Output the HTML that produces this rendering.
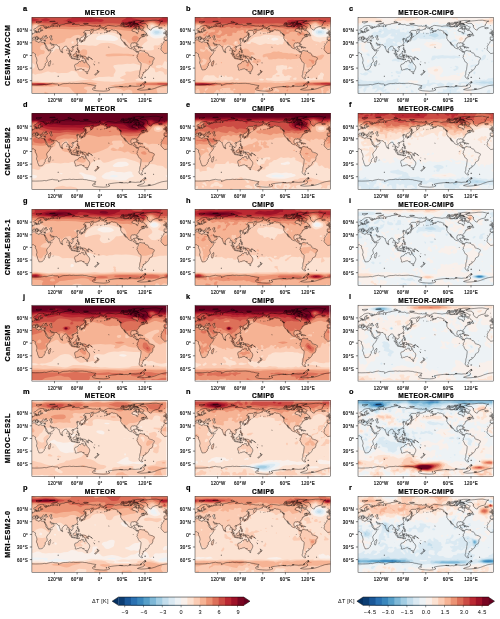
<!DOCTYPE html><html><head><meta charset="utf-8"><title>Figure</title><style>
html,body{margin:0;padding:0;background:#fff}
#fig{position:relative;width:500px;height:619px;overflow:hidden;background:#fff;font-family:"Liberation Sans",sans-serif;color:#000}
.t{position:absolute;white-space:nowrap;line-height:1;will-change:transform}
.ttl{-webkit-text-stroke:.2px #000;font-weight:bold;font-size:6.6px;letter-spacing:.45px;padding-left:.45px;transform:translateX(-50%)}
.let{-webkit-text-stroke:.2px #000;font-weight:bold;font-size:7.4px}
.tk{font-size:4.5px;letter-spacing:.28px;color:#111;-webkit-text-stroke:.16px #111}
.tkx{padding-left:.3px;transform:translateX(-50%)}
.tky{margin-right:-.3px;transform:translate(-100%,-50%)}
.rl{-webkit-text-stroke:.22px #000;font-weight:bold;font-size:7.2px;letter-spacing:.58px;will-change:auto;opacity:.999;transform:translate(-50%,-50%) rotate(-90deg)}
.cbt{font-size:5.6px;letter-spacing:.45px;padding-left:.45px;transform:translateX(-50%)}
.cbl{font-size:5.5px;letter-spacing:.25px}
</style></head><body><div id="fig"><svg width="500" height="619" viewBox="0 0 500 619" style="position:absolute;left:0;top:0;will-change:transform"><defs><path id="cst" d="M0 17.1l.1 0 .5-.4 .1-.2 .6-.2 .4-.5 .2-.3 .7-.1 .6-.1 0-.5-.1-.5 0-.4 .9-.3-.1 .5 .2 .1-.4 .5 .4 .4 .5 0 .6 0 .2 .1 .8-.2 .8-.1 .5 .1 .4-.3 0-.7 .2-.3 .4-.1 .3 .3 .4-.1 0-.4-.3-.2 0-.2 .9-.2 .7 .1 .7-.2-.5-.3-.9 .1-1.1 .2-.7-.3 .1-.6-.1-.4 1.2-.7 .3-.3-.4-.2-.7 0-.4 .4-.2 .4-1.1 .6-.2 .6 0 .2 .6 .3-.3 .4-.5 .4-.1 .5-.2 .3-.5 0-.2 .3-.4 0-.2-.4-.3-.5-.2-.6-.2-.2-.4 .2-.5 .4-.5 0-.5-.3-.2-.7 0-.6 .5-.4 .8-.3 .8-.4 .7-.7 .6-.6 .7-.5 .7-.4 .8-.2 1.2-.3 1-.1 .8 0 1.2 .3-.4 .3 1.1 0 1.2 .2 1.7 .6 .2 .4-.4 .3-.8 0-1.1-.2-.8-.2 .7 .8 0 .3 .8 .2 .4-.2-.3-.3 1.1 .2 .1-.4 .6-.3 .8 0-.1-.4-.2-.6 1 .2 0 .5 .7 0 .3-.3 1.7-.5 .5 .3 1.7-.3 .8-.4 1.5 .3 1.3 .4-.6-.6 0-1 .8-.5 1.3 .2 .1 .9-.1 .9 .4 .4 .2-.9 .2-1.2 .9 .1 1.3-.5 2.3-.2 .2-.5 3-.4 2.2-.4 1.3-.3 1.4 .3 1.9 .4-.4 .6-1.9 .5 1.1-.3 1.2 .1 2.6 .4 1.5-.3 1.1 .5 1 .6 1.3-.2 1.5 0 1.1-.5 2.3 .1 1.5 .4 1.9 .2 1.9 .5 1.8 .1 1.9-.2 .4 .5 1.5-.4 1.9 .4 1.1 .3 1.5 .5 1.2 .4-.8 .7-1.5-.1-.7-.7-.8 .5-.9 .2 .7 .9-1.7 .2-1.9 .9-2.2 0-.4 .8-.4 .8 0 .5-.7 .8-1.3 .8-.4-1.2 0-1.1 .5-.5 1.2-.9 1.3-1-1.3 .2-1.4 .1-.7 .9-1.7 0-1.5 0-1.1 0-1.2 .8-.5 .4-.6 1.1 .8-.1 .7 .4-.2 .9-.2 1.1-.7 .8-1.2 1.1-1.1 .4-.5 .2-.4 .7-.8 .5 .7 1.1-.1 .8-1 .3 0-1.1-.5-.4 0-.7-.8 .1-.5 .2 0-.8-1.4 .8 .4 .6 1.3 .1-.9 .6-.2 .4 .6 1.3 .4 .8-.4 .8-.6 1.1-.9 .8-1.2 .5-1.3 .5-.2 .4-.5-.6-.7 .5-.3 .6 1 1.3 .3 1.5-.9 .8-.7 .8 0-.8-.8-.2-.8-.7-.3-.3-.2 1 .4 1.7 .5 .3 .6 1 .2 1.1-.4-.1-.8-.6-.2-1.3-.7-.8 0-1.1-.2-1.5-.2-1-.7 .3-.5-.1-.1-1.3-.7-1-.4-.4-.8 .3-.7 .2-.8 .6-1.1 1.4-.7 .6 0 .9-.1 1.1-.3 .5-.6 .5-.5-.9-.5-1.2-.5-1.3-.3-1.3 0-.8-.8 .1-.6-.6-.6-.8-.4-.5-1.6 0-1.7-.2-.4-.5-1 .1-.9-.5-.6-.9-.7 0 .2 .6 .6 .8 .4 .2 .1 .5 .2 .4 .7-.1 .9-.8 .1 .7 .7 .4 .5 .5-.7 1.2-.1 .4-1 .5-1.1 .6-1.3 .8-1.4 .6-.5 0-.3-1-.7-1.2-.7-1.5-.8-1.5-.7-1.3-.1-.6-.2 .7-.6-.9 .3 1.1 .8 1.4 .5 1.3 .2 1.3 .8 1.2 1.3 1.1 .1 .4 .6 .4 2.3-.6 0 .6-1.1 2.3-.8 1.3-1.5 1.5-.9 1.5-.2 1.2 .6 1.3 0 1.7-1.6 1.5-.5 .6 .2 1.7-1 .8-.2 1.3-.9 1-1.1 1-1.9 .2-1.3 0-.2-1-1-2.1-.3-1.9-1-1.9 .6-2.5-.5-2.5-1.2-2.1 .2-1.9-1-.4-.9-.8-1.3 .1-.4 .1M0 22.9l1.1-.5 2.7-.1 .3 .9-.3 .5 1.8 .6 1.6 .8 .3-.9 1.2 0 .7 .4 1.5 .3 1.3-.1 .7 0 .5-1 .2-1 0-.4-1.2 .3-.9-.1-1-.1-.3-.4-.2-.4-.1-.6-.1-.4-.8 .4-.1-.1-.3-.1 .1 .5 .3 .5-.3 .2-.1 .5-.4-.2-.3-.7-.6-.7 0-.7-.7-.4-.8-.4-.7-.5 .1-.3-.6 .1 .1 .5 .6 .7 .7 .3 .9 .8-.5-.2 .1 .5-.4 .5-.2 0 .1-.8-.5-.3-.8-.3-.7-.6-.7-.7-.9 .6-1.1-.1-.1 .5-1.1 .9-.1 .5M133.5 22.8l-.3-.4-.4-.1-.6 0 .1-.6-.3-.1 .3-.9-.2-.9 .5-.3 1.3 .1 1 0 .2-.5 .1-.5-.4-.6-.9-.2-.1-.3 .7-.1 .5 0-.1-.4 .2 .1 .5 0M135.6 35.5l-1.1 .3-1.7 .3-1.3-1.1-1-1.1-1.1-1.2-.4-.9 .5-1.9-.3-.8 1.5-2.8 1.1-1 .2-1.1 1.3-1.3 1.5 .3 .8-.3M135.6 21.6l-.8 .8-1.2 .3M10.5 20.5l.4 .1 1 0 .7-.4 .6 0 .5 .4 1.2 .1 .7-.2 0-.6-.9-.5-.6-.3 .2-.8 .4-.2-1.5 .3 .5 .4-.5 .3-.6 .1-.3-.5-.6-.4-.5 .5-.4 .6-.4 .5 .1 .6M18.5 18.3l.9-.1 .6 .1 0 .7-.8 .2-.2 .6 .8 .4 .2 .9 .3 .6 0 .6-.9 .2-.6-.3-.3-.5 .1-.8-.7-.9-.2-.8 .2-.4 .6-.5M72.3 10.3l.6-1.1 1.3-.3 1.1-.7 1.3-.3 1.7 .2 1.6 .2 2.6 .3 1.5 .3 1.1-.3 1.9-.2 1.5 0 .4 .3 1.5-.1 1.9 .5 0 .3 2.2 0 .4-.3 1.1 0 1.6 .3 1.1-.1 .7-.1 .2-.6 .4-1 .9 .6 .8 .7 1.1 .4 .8-.7 1.1 0 .3 .5-.5 .8-1.3 0-.4 .6-.3 .5-1 .2-.7 .4-.6 .6-.3 .9 .7 .1 .2 .7 1.7 .2 1.1 .5 1 .1 0 .9 .5 .4 .2 .3 .5-.1 0-1 .8-1.1 .2-.4-.8-.6 .4-.8-.2-.7 1.5 .1 1.5 .5 .2 .7 .6 .4 .9-.5 .4-.3 .9 1 .4 .8 1.2 .5 .7 .8 .1 .4-.5 .2-.7 .6-1.9 0-1.1 .3-.8 .5-.6 .4 1-.6 1.3-.1 0 .4-.2 .4 .4 .5 .9 .1 .2-.5 .4 .4-.4 .2-1.1 .4-.8 .4 0-.4 .6-.4-.9 .2-.8 .4-.6 .3 0 .5 .2 .2-.7 .2-.8 .2 0 .5-.5 .1 .1 .5-.3 .4 0 .7-.6 .5-.7 .5-.6 .7-.1 .6 .4 1.3 0 .6-.4 .1-.6-1 0-.7-.4-.3-.6 .1-.8-.2-.6 0 0 .4-.7 0-1-.2-.5 .3-.8 .7 0 .8-.2 1.3 .3 .8 .3 .6 .6 .4 .9-.2 .5-.4 .1-.6 1-.3 .3 .1-.2 .8-.1 .4-.2 1.1 .9 .1 .9 .2 0 1.2 0 .6 .4 .8 .6 .1 .6-.3 .7 .4 .2 .3 .6-1.2 .3-.1 1-.4 .2-.2 0 .4 .5-.2 .6 .5 .9 .1 .8 .1 .7-.2 .4 .5 .4 .5 .9 .9 1.4 .2 .9 .6 .6 1.2 0 .7 .5 .4 1.3 .4 .4 .3 1 .1 1.1 .4 .6 .5 .6 .2 .1 1-.7 1.3-.8 .8 0 1.7-.4 1.3-.3 .8-.8 .4-.8 .4-1.1 .7-.2 1.1-.7 1.2-.8 1-.5 .6-1 0-.7-.3 .5 1-.5 .9-1.4 .2-.1 .7-1 .1 .4 .7-.5 .4-.1 .6-.7 .5 .5 .6 0 .2-.7 .8-.4 .7 .2 .4 0 .4 1.1 .6-.5 .2-1 0-.9-.6-.8-.6-.5-1.1 0-1.2 .5-.9 .1-1.2 0-1.1 .2-1 .6-1.7 .1-1.3 .3-1.9 .2-1.9-.1-1.1-.4-.5-1.4-.7-.4-.7-.4-.8-.7-1.7-.7-.8-.1-.7 .4-.5 .1-.3-.4-.1 .1-.5 .3-.7 .3-.4 .2-.4 .4-.6 .1-1.1-.2-.3-.1-.4-.5-.3-.4 .4 .2 .3-.6-.2-.6-.2-.2-.2-.5-.6-.3-.3-.7-.9-.3-.1-1.2-.4-.9-.9-.9 .2-1.2-.4-.9-.5-1.3-.9 0-.6-.4-.9-1.1-1-1.1-1.3-.3-.9-.6-.3 0 .8 .7 .9 .7 1.2 .6 .8-.3-.2-.8-.8-.7-.9-.3-.8-.6-.8-.2-.5-.5-.6-.8-.2-.5-.9-.2-.5-.5-.7-.2-.4 0-1.1 .1-1.3-.3-1 .7 0 .2 .4-.2-.7-.8-.5-.9-.3-.2-.8-.8-.6-.5-.7-1-.9-.9 0-.6-.4-.7-.3-1.5 0-1-.5-.9 0-1 .7-.7 0-.3 .5-.8 .5-.8 .4-.9 .4-1.2 .2 .8-.4 .7-.3 1-.7 0-.3-.6 .1-1.1-.1 0-.5-1-.3-.5-.5 .3-.5 1.6-.2 0-.4-1.6 0-1.1-.5M108.1 5l1.9-1 2.2-.4 4.6-.4 3.7-.4 3.8-.1 3 .5 1.5 .4 2.1 0-1.7 .6-.8 .9 0 .8-.9 .6-.2 1.1 0 .6-1.5 .7-2.3 .4-2 .9-1 .3-.7 1.1-.6 1.1-.9-.3-1.2-.6-.7-.8-1-1.3-.1-1.1 .7-.4-1.1-.4-.4-.8-.7-.9-1.9-.3-1.9 .1-1.1-.5-.8-.4M111.1 12l-1.1-.4-1.5-.6-2.3-.2 1.5-.5 .2-1-1.7-.7-1.5-.2-.9 0-1.7-.4-.4-1 1.9-.2 1.7 .1 1.3 .4 1.1 .4 1.5 .4 1 .8 1.3 .6 .9 .3-.9 .7-.4 .9 0 .6M91.5 8.6l.8-.8-1.1-.5 2.2-.1 1.9-.1 .7 .9 1.2 .6-1.5 .3-1.9 .1-1.5-.2-.8-.2M88.5 7.6l.6-1 2.2 .1-.5 .9-1.5 .3-.8-.3M101.7 5.7l4.5 .1 .8-1 2.2-.6 3-.9-3-.4-3.7 .1-3.8 .6 1.1 .8-1.1 1.3M100.9 6.5l4.6 0 0-.5-4.6-.3 0 .8M97.2 7.8l2.2-.1 1.2-.3 .9-.6-1.7-.1-1.9 .1-.7 .5 0 .5M91.5 6.3l2.7 .1 1.5-.1 .3-.6-1.8-.4-2.7 .5 0 .5M99.4 5.1l3.1-.3 .3-.8-2.6-.3-.8 .7 0 .7M102.8 11l1.5 .6 1-.6-1.3-.8-1.2 .8M113.3 17.8l1.2 .4 1.1 .1 .1-.5-.3-.6-.8-.3 0-.7-.6 .5-.4 .7-.3 .4M103.6 28.7l.9-.4 1 0 1.1 .6 1.1 .5-1.3 .2-.2-.4-.9-.5-.6-.2-.7 .2-.4 0M107.6 30.2l.6-.6 1 0 .6 .5-.8 .2-.4 .2-1-.3M106.1 30.2l.8 0 0 .2-.8 0 0-.2M126.6 10.3l.7-.3 1.5 0 1.1 0 .6 .5-.7 .4-1.4 .3-1.3-.2 .2-.4-.7-.3M0 16.5l.5-.1-.2-.2 .3-.5-.5-.1-.1-.3M133.5 16.8l.8-.1 .7-.1 .6-.1M135.6 15.4l-.1-.2-.5-.4-.2-.5-.3 0 .3-.6-.7 0 .3-.5-.7 0-.4 .6 .2 .5 .2 .5 .6 0 .2 .6-.6 .1 .1 .4-.4 .2 .9 .2-.6 .1-.4 .4M131.8 16.2l1.4-.3 .1-.5 .2-.5-.7-.3-.4 .4-.6 .1 .2 .4-.2 .4 0 .3M4.1 4.4l1.9-.2 1.9-.1 1.9 0-1.5 .8-1.5 .6-1.2 .1-.5-.5-1-.7M19.4 7.7l.6-.7 1.1-.7 1.9-.5 2.8-.3-1.3 .6-1.9 .6-1.1 .7 .2 .7-1.4 0-.9-.4M35.8 4.6l1.9 .4 1.9-.1-.8-.5-1.1-.6-1.5 .2-.4 .6M51.6 6.1l1.5 .6 1.9-.4 1.5-.1-1.9-.3-2.2 0-.8 .2M67.2 7.9l1 .2 .5-.3-.9 0-.6 .1M17.7 4.1l3 .1 2.7-.2-.8-.4-3.8 .2-1.1 .3M49 23.8l0 1 .5-.1 .2-.7 .4 0 .6-.3 .2 .1 .3 0 .4-.4 .7-.1 .4-.2 .3-.2 .1-1.1 .4-.5-.2-.8-.5 .1-.1 .6-.2 .6-.8 .5-.1-.2-.3 .7-.3 .1-.9 .1-.8 .4-.3 .4M52.7 20.5l.6-.5 .7 .2 .8-.5-.2-.4-1.1-.5-.2 .8-.5 .2-.1 .7M53.5 18.6l.6-.3-.2-1.1 .5 .1-.4-1.3-.1-.9-.4 .3 0 1.5 0 1.7M45.3 28.3l.3-.9 .4 0-.4 1.3-.3-.4M40.9 29.9l.7-.4 .2 .2-.6 .6-.3-.4M45.2 31.2l.2-1.1 .6 0 0 .9-.2 1 .3 .1M46.1 32.1l.1 0M46.2 32.1l.5 .4-.1 .1-.4-.5M46.2 32.1l-.1 0M46.1 32.1l-.6-.1-.3-.8M46 35l.5-.6 .8-.6 .3 1-.3 .6-.6-.1-.7-.3M46 33.5l.3-.5 .8-.3 .2 .6-.4 .4-.6 .4-.3-.6M44.2 34.4l.8-1 .1 .2-.8 .9-.1-.1M41.1 37.3l.5-.1 .4-.4 .6-.2 .9-.8 .6-.8 .5 .6-.2 .5-.1 .6 .4 .8-.4 .2 0 .7-.5 .6-.1 .6-.6 0-.3-.3-.7 0-.7-.7-.3-.8 0-.5M35.9 35.6l.8 .2 1.1 1.1 1.2 1.1 .4 .8 .5 .5 0 1.1-.5 0-1-.8-.5-1-.7-1.4-.7-.7-.6-.9M39.6 40.8l.5-.3 .8 .2 .9 0 .7 .2 .6 .3 0 .4-1.3-.2-.9-.2-.8-.1-.5-.3M43.5 41.4l.6 0 .7 0 0 .3-.7 0-.6-.1 0-.2M45.1 41.5l1.2-.1 0 .3-1.1 0-.1-.2M46.5 42.3l.6-.6 .8-.2-.3 .4-.7 .4-.4 0M45 40.3l0-.9-.3-.3 .4-1.4 .5-.3 .9 .1 .6-.2-.2 .5-1.1-.1-.6 .2 .2 .5 .4 0 .6-.1-.1 .3-.5 .2 .3 .6 .2 .9-.3-.2-.4-.9-.2 0-.1 1.1-.3 0M48 37.2l.2 .5 0 .1M48.2 37.8l.2 .5-.2-.5M48.2 37.8l.3-.5-.4-.3-.1 .2M48.2 39.3l1.1-.1-.1 .4-1-.2 0-.1M49.3 38.3l.6-.2 .6 .2 .3 1 1-.7 1.3 .4 1.3 .6 .6 .7 .7 .2-.3 .3 .5 .7 .9 .8-.7 0-.9-.6-1-.5-.3 .6-.8 0-.7-.4-.4 0 .2-.5-.2-.6-1-.5-.9-.2 .3-.7-.7 0-.4-.6M55.9 40.4l.8-.1 .6-.6-.2 .6-.6 .3-.6-.2M42.8 47.4l.2-.3 1-.5 .8-.2 1-.4 .3-.7 .4-.1 .4-.7 .6-.6 .7 .3 .6 0 .2-.7 .3-.3 .6-.4 .9 .3 .7 0-.3 .5-.2 .7 .8 .5 .7 .5 .5 0 .4-1 0-1 .3-.8 .4 .8 0 .7 .6 .3 .3 1.5 1 .7 .8 .9 .8 1.3 .2 1.1-.2 1.2-.5 1.1-.5 1-.1 .7-.9 .2-.5 .4-.6-.3-.4 .2-1-.2-.5-.6-.5-.6-.1-.8-.1-.4-.3 .6-.4 .4-.2-.1-.5-.8-1.2-.6-.9 .2-.9 .2-.8 .3-.2 .3-1.3 0-.8 .5-.7-.1-.4-.2 .3-1-.3-.8-.3-1.1-.3-.6 0-.6 .1-.9M54.5 55.2l.7 .1 .7-.1-.1 .5-.2 .5-.6 .1-.3-.5-.2-.6M65.1 52.5l.4 .4 .6 .4 .2 .5 .9 0-.3 .7-.2 .1-.3 .6-.4 .3-.2-.2 .2-.4-.5-.4 .3-.3 0-.6-.6-.9-.1-.2M65.1 55l.5 .4-.4 .7-.1 .3-.6 .3-.3 .6-.5 .3-.6-.2-.4-.1 .6-.7 .9-.6 .6-.8 .3-.2M18.6 43l.3 1.5-.3 .8-.5 1.9-.4 1.3-.8 .2-.4-.8-.1-.9 .4-.8-.2-1.1 .8-.5 .7-1 .5-.6M30.1 34.4l.1-.6 .6 1-.2 .5-.4 .1-.1-1M4.7 21.9l1.2-.1-.2 .7-1-.4 0-.2M3.1 21.5l0-.8 .6 0 0 .7-.6 .1M3.2 20.5l.3-.7 .1 .7-.4 0M8.9 23.1l1 0 0 .1-1-.1M12.2 23.2l.8-.3-.2 .3-.5 .2-.1-.2M25.9 58.6l.7 0-.1 .3-.5 0-.1-.3M112.6 59.7l1.2-.1-.2 .4-.8 0-.2-.3M76.8 29.4l.4 .2-.2 .3-.2-.3 0-.2M61.8 46.5l1.1 .9-.2 0-.9-.8 0-.1M66.8 45.3l.5 .1-.1 .2-.4-.1 0-.2M62.8 44.3l.2 .1-.1 .2-.1-.3M58.9 40.8l1.2 .6 .5 .6 0 .1-1.1-.8-.6-.5M98.1 8.9l1.3 .1 .2-.4-.9-.2-.6 .5M96.4 6.2l2.3 .1 .2-.6-2.1 0-.4 .5M89.3 5.9l2-.3 .6-.3-1.9 .1-.7 .5M96 5.1l3.4 .1 0-.6-3 0-.4 .5M105.3 7.3l1.7 0-.4-.4-1.3 .1 0 .3M106.4 9.6l.8 0 0-.4-.8 0 0 .4M104.3 11.5l.6 .2 .6-.1-.6-.2-.6 .1M111.3 17l1 .2-.6 0-.4-.2M87.3 16.5l1.2 .3 .6 .7-.8-.1-1-.9M85.5 15.2l.5 0 .3 .7-.6-.3-.2-.4M77.4 13.7l.8-.1-.2 .3-.6-.2M72.7 15.2l.4 0-.6 .3 .2-.3M69.9 15.9l.3 0-.1 .1-.2-.1M68.7 16.1l.4 0-.2 0-.2 0M65 15.6l.4 0-.2 .1-.2-.1M71 11.2l.9 .1-.3-.2-.6 .1M72.7 12.6l.5 .1-.1 0-.4-.1M110.3 30.2l.6 0-.1 .2-.5 0 0-.2M106 26.7l.4 .1-.1 .3-.3-.4M112.3 33.4l.3 0 0 .3-.3 0 0-.3M101.1 38.1l.3 0-.1 .3-.2-.3M20.1 32.6l.4 0-.2 .2-.2-.2M20.8 46.8l.2 0-.1 .1-.1-.1M21.6 46.4l.2 .1-.1 .1-.1-.2M121.3 60.7l.7 .1-.1 .3-.6-.4M129.3 26l.2-.1-.1 .2-.1-.1M126.6 31.1l.2 .1-.1 .2-.1-.3M.9 21.3l.4-.2-.1 .3-.3-.1M34.9 32.3l.1 .1 0 .7-.2-.2 .1-.6M58.2 40.3l.5 .4-.2 .1-.3-.5M56.8 39l.6 .6 .2 .3-.3-.4-.5-.5M49.1 25.1l.2 0-.1 .1-.1-.1M55 19.2l.6-.4-.2 .2-.4 .2M56.5 18.6l.4-.4-.2 .2-.2 .2M58.4 16.9l.4-.3-.2 .2-.2 .1M49.8 23.7l.5-.2 .4 .1-.2 .3-.4 .1-.3-.3M47.5 23.9l.3-.1-.1 .2-.2-.1M39.7 38.7l.4 .3-.2 .2-.2-.5M44.8 42l.7 .2-.3 .1-.4-.3M47.5 39.3l.4 0-.1 .3-.3-.3M50.5 40.4l.3 .1-.1 .4-.2-.5M18.3 8.7l.5 .1-.2 .1-.3-.2M6.2 13.8l.2 .1-.2 .3 0-.4M6.9 13.5l.3 .1-.3 .3 0-.4M4.2 14.4l.5-.1-.1 .4-.4-.1 0-.2M132.9 11.7l.3 0-.2 .3-.1-.3M132.3 8l.3 0-.2 .1-.1-.1M108.1 67.9l1.5-.7 .2 .9-.9 .5-.8-.7M116 71.3l2.3-.2 .3 .6-1.8 .2-.8-.6M97.2 68.3l1.9-.1-.2 .3-1.7 .1 0-.3M74.2 71.2l.9 .1-.1 .4-1-.1 .2-.4M62.5 70.5l1.2 0-.4 .3-.8-.1 0-.2M87.8 68.9l.9 0-.2 .3-.7-.1 0-.2M89.6 69l1 0-.2 .3-.8 0 0-.3M112.6 64.3l1.2-.2-.2 .2-1 .1 0-.1M113.6 64.9l.5 0-.2 .3-.3-.1 0-.2M0 67.5l3.8 .1 3.7-.1 2.7-.1 2.2-.4 1.9 .3 .8-.3 1.8-.5 1.9-.4 1.9-.3 1.1 .4 1.6 .2 2.2 .1 .8 .4 .7 .6-.7 .6 1.1-.5 1.1-.4 1.5-.7 1.9-.4 1.9 0 1.9-.1 1.9-.3 1.9 .3 1.8-.2 1.9 .2 1.9 0 1.9-.1 1.9-.1 1.8 0 1.9 .3 1.9 .1 1.9 .6 1.9 .2 1.9 .5 1.8 .3 1.9 .3-.3 .8-1.6 .7-.3 1-1.5 .9 1.1 1 2.6 .7 3.8 .3 3.8 .2 3.7-.3 2.7-1.1-1.2-1-.7-.5 1.5-.5 2.3-.4 3-.4 3-.3 2.6-.1 3.8 .3 1.9-.2 1.8 .3 1.2-.6 1.5-.3 2.2 .1 2.7 .2 2.6-.3 1.5 .1 1.2-.6 1.1-1.1 .4-.7 1.1-.9 1.1-.5 1.3-.3 .2 .5-1.3 .6-.6 .7-.5 .9 .7 .6 .2 .8-.4 .9-1.5 .8-3.4 .9-1.8 .8 3.7 .6 3.8-.2 3.8-.4 3-.4 2.6-.7 1.9-.7 1.1-.5 1.9-.6 1.9-.7 1.9-.4 1.9-.3 2.6-.3" fill="none" stroke="#000" stroke-opacity=".88" stroke-width=".45" stroke-linejoin="round"/><clipPath id="cp"><rect width="135.6" height="75.9"/></clipPath></defs><g transform="translate(31.9,17.5)"><g clip-path="url(#cp)"><rect width="135.6" height="75.9" fill="#fbccb4"/><path fill="#f6b394" d="M-.4 -.4l136.4 0 0 9-2.3 .9-4.5 0-3.8-.8-3-2-1.5-.5-1.5-.1-1.5 .5-1 .9-.8 1.6-.5 .6-4 2.6 .5 1.5 .9 1.6 .2 .8-1.7 .8 0 .8 .3 .8-.7 .6-.7 .2-.8 .4-1.5 1.4-1.2 2.1-1.1 1.1-.7 1.2-.8 .2-1.5-.3-2.2-.1-1.2 .3-1.1 .5-.7-.2-1.5-1.2-.8-.7-1.2-1.6-1-.8-2.3-.6-.8-.6-1-2.7-2-2.4-1.9-1.6-1.9-.7-3-.4-.7 .1-3 1-.8-.2-1.5-.7-1.5-.2-3.8 .3-3.7 0-3.1 .5-1.7 1.9-.5 .3-.8 0-.2-.3-.5-1.8-2.3-.3-2.2 .1-1 .4-.7 .8 .6 1.6-.4 .8-.8 .8-1.5 .8-.8-.1-1.5-.8-1.5-.4-1.5 .1-1.7 .4-1.8 .8-2.5 1.8-.8 .3-2.2 0-1.2 .3-.9 .7-.3 1.6-.4 .8-1.7 1-5.3 1.4-4.5-.2-2.3-.6-.7 .2-.8 .9-2.3 .3-.7-.2-1.5-.9-1.5 1.3-1.5 .3-.8 .4-.9 .9-.3 .7 .1 1.6 .4 .8 .7 .5 2.3 .2 .7 .5 .3 .4 .2 .8-.2 .8-.3 .8-.7 .6-2.3 .2-1.5 .5-.4 .3-1.1 1.4-.8 0-.7-.6-.7-1.6-.8-.8-.8-.5-1.5-.3-1.5 .2 0-11.7 2.3-.7 1.5 0 1.1 1.1 1.1 .6 1.6 .2 1.5-.2 1.5 .6 1.5 0 .7 0 .8-.6 .4-.6 .1-.8-.2-.8-.3-.3-2.3-.3-1.5-.9-.7 .6-.8-.2-.7-.9-1.6-1-1.5 0-2.6-.9 1.2-1.6 1.4-1.4 .8-.3 2.3-.4 .7-.5 .8-1.4-.8-.9-.7-.2-.4 .4-.4 1.2-.4 .3-.3 .2-.8-.5-.8-1.2 .1-.8 1.4-1.4 .7-1-.1-.8-1.3-.8-2.3 0-3 1.5zM11.7 18.5l-1.1 .9-.1 .8 .4 .6 3.8 0 .9-.6-.9-1.1-.8-.6-.7 .2zM18.5 18.2l-.5 .4-.2 .8 .2 .8 .6 1.5 .6 .6 .8 0 .3-.6-.1-.7-.4-.8 .2-1.6-.8-.5zM104.3 13l-.7 .3-.3 .5 1 .5 .9 1.1 .6-.3 .2-1.3-.2-.3-.6-.5zM133.2 24.1l.5-.4 1.5 0 .8-.3 0 11.9-2.3 .3-1.5-.3-.7-.6-1.6-1.9-.2-.8 .2-1.6 .8-1.9 1-2zM45.3 31.2l.3-.7 .5 .7-.1 .8 1.1 .5 .7 .7 .8 .3 2-1.5 1-.2 2 .2 1.3 .8 .3 .8 .1 2.4-.2 .8-1.6 1.5 1.1 1.4 .4 1-1.1 .8-.8 .1-1.5-1.4-2-1.1-1.5-1.5-.3-.9-1.5-.9-.5-.6-.3-1.6 .4-.8zM39.2 32l.4-.3 .7 .1 .3 1-.3 .4-.7-.1-.3-.3zM43.7 35.2l.4-.6 .7 .8 .4 1.4 .4 .3 1.5 .1 .4 .4-.4 .1-.9 1.4-.6 .4-1.5-.3-.8 .2-.7-.1-1.3-1-.4-.7zM107.3 35.2l3.1-.4 2.2 .2 1.5 .8 1.5 .4 .8 .5 .7 1.2 .8 .8 3 1 .8 .5 .4 .5 0 .8-1.2 1.8-.8 3-.7 .7-1.5 .6-.8 0-3-1.7-3-.5-1.1-.7-1.9-.8-.8-.5-.7-.7-1.3-2-.9-2.4 0-.7 1.4-.9zM38 35.6l.8 .4 .2 .8-.1 .8 .6 1.5-.7 .2-.9-1-.6-1.5zM81.5 36l6.3 0 3.7 .3 4.6 0 8.1 1.3-2.9 1.1-3 .1-4.5-.5-12.8 .4-3.8 .4-1.5-.2-1.5-.5-.8-.8 .9-.8 1.4-.4zM13.2 43.1l.7-.3 .4 1.1-.4 .4-.7 .2-.5-.6zM50.1 43l.7 .4 .6 1.3 1 .6 .7-.2 .8-1.3 .7 .9 .7 1.6 1.9 2.3 .3 .8-.6 1.4-.8 0-1-.6-1.2-.4-6.1-.3-3.7-.8-.2-.9 .2-.2 .6-.6 .9-.3 1.8-2 1.2-.5 .7-.8zM-.4 64.7l24.9 .8 11.3-.1 9.8 .3 7.5-.9 5.3-.2 4.8 .6 2.2 .8-2.8 1.6-.2 .8-1 .3-2.3 .4-3.7-.2-1.6 .3-1.6 .8-.2 .8 .6 .8 1.8 .7 .8 .8 0 .8-.8 1.6 0 .8-11.5 0 0-.8-2.6-2.4-1.8-2.3-1-.8-1-.4-4.5-.1-7.5-.9-5.3 .8-3-.3-3.8 .2-12.8-.2zM100.6 64.9l9.8-.3 6.7 .2 12.1-.2 6.8 .1 0 4.4-1.9 .1-2.6 .7-3.8 .3-2.3 .6-.8 .8 .5 2.3 .6 1.6 0 .8-25.3 0 .1-1.6-.2-.8-.7-.8-1.3-.7-1.5-.3-1.5 .2-1.5 .5-1.5 .8-.8 0-1.2-1.3-1.5-.7-4-.9-1.5-.7-.9-.8-.7-.2-3.7-.6 .7-.5 3-.3 1.5-.5 3.1 0 3-.3 4.5-1.2zM76.9 66.8l1.7 0-.6 .2zM12.3 74.7l.1-.3 .8-.2 1.5 .9 1.8 .4 0 .8-3.7 0 0-.8z"/><path fill="#ec9374" d="M-.4 -.4l136.4 0 0 7.6-2.3 .9-1.5 .3-3.8-.1-2.2-.5-3-1.8-1.5-.6-1.5-.2-1.6 .1-1.5 .5-.7 .5-2.8 2.8-2.5 2.1-.7 .2-1.5 .2-1.6 .5-1.5-.5-4.5 .4-.7 .3-1.5 1.1-8.3-.6-2.7-.5-2.6-.2-2.3-.5-7.5 0-3.8-.8-1.5 .3-2.2 0-1 .4-2.8 .3-2.3 0-2.2-.2-7.5 .3-3.8-.1-6 .3-18.1-.8-5.3 .4-3.8-.2-1.5-.2-1.5 .2-2.2-.6-1-1-.7-1.6-.6-.7-1.9-.9-1.9-.3-1.5 .1-3 1zM101.8 18.6l1-.4 1.5 .1 2.1 1.1 .4 .8-.2 .8-.9 1.5-1.4 1.2-.7 .4-1.5-.1-.8-.3-1.1-1.2-.4-.8 0-.7 .3-.8 .6-.8zM117.8 43.1l.9 .8-.1 .9-.7 .6-.8-.4-.2-.3 0-.8 .2-.5zM-.4 65.2l11.3 .2 6.8 .3 4.2 .3 3 .8-4.9 1-2.3 .2-6.8 .3-11.3-.2zM111.2 65.2l5.9 .1 12.1-.3 6.8 .2 0 3-19.6-.4-5.3 .3-5.3-.7-2-.6 .7-.8z"/><path fill="#dd7059" d="M-.4 -.4l136.4 0 0 6.6-3.8 1-3 0-2.3-.3-4.5-2.1-1.5-.4-2.3 0-1.5 .4-1.5 .6-1.7 1.3-3.4 3.2-.9 .3-3.8 .3-1.5 .5-2.2 .1-2.3 .4-3.8-.3-3.1-.5-2.9-.8-3.7-1.6-2.3-.2-6 .2-3.8-.1-3.8 .4-4.5 .8-3.8-.2-6-.8-3.7 .5-3.8 .1-5.3 .6-5.3 0-4.5-.7-3.7 .1-2.3-.3-6.8 .1-4.5-.6-3.8-.2-4.5-1.8-3-.6-2.3 .1-3 .7zM-.4 65.5l12.1 .1 5.9 .4 2.9 .8-2.8 .6-4.5 .4-8.3 .1-5.3-.3zM110.5 66l7.4-.1 11.3-.5 6.8 .1 0 2.2-7.6-.2-12-.6-4.5 0-1.3-.1z"/><path fill="#cc4c44" d="M-.4 -.4l136.4 0 0 5.6-3.8 .8-3.8-.1-2.2-.6-4.5-2.1-2.3-.3-1.5 .1-2.3 .9-2.1 1.2-4 3.2-1.4 .8-2.3 .3-2.2 .7-3.8 .3-4.5-.8-7.5-3.3-6.8-.5-5.3 0-5.3 .5-7.5 .3-5.3-.5-4.5 .1-3.8-.3-8.2 1-3.8 0-5.3-.5-9.8 0-2.7-.5-7.1-.2-7.5-.9-2.3 .1-3 .5zM-.4 65.8l12.1 0 2.5 .2 3.5 .8-5.3 .7-6.8 0-6-.3zM125.3 66l3.9-.2 6.8 0 0 1.5-10.2-.5z"/><path fill="#ba2832" d="M-.4 -.4l.9 0 0 .8 .6 .3 5.6 1.3 .5 .6 .5 .2-3.6 .4-4.5 .9zM39.9 -.4l20.6 0 0 .8 .9 .3 2.3 .2 2.2 .7 4.5 .2 .8 .4 .5 .6-.1 .8-1.9 .7-.8 .1-1.9-.1-1.8-.3-8.3 .5-9.1-.6-3 .6-3.7 .2-4.3-.4-2.5-.5-3.6-.2 3.6-.5 1.5-1.4 .7-.5 2.3-.3 1.1-.5zM94.5 -.4l5.4 0 0 .8 2.2 .7 3.7 .6 2.3 .8 2.3 .9 .6 .9-2.9 2-1.5 1.5-2.3 .9-3.7 .5-4.4-.9-1.8-.8-2.9-2.3-1.7-.9 0-.7 .7-.8 3.3-1.8 .7-.6zM130.3 -.4l5.7 0 0 4.2-1.4 .5-2.4 .3-3 0-1.6-.3-.9-.7-.2-.8 .4-.7 .8-.5 2.6-1.2zM13.2 .7l1.5 0 3.2 1.3 0 .8-1.9 .8-2.8 .3-2.4-.3-1.4-.6-1.4-.2 .7-.2 .7-.6zM6.2 66l4.7 .1 4.2 .7-2.7 .3-3.7 .2-9.1-.5 2.3-.4z"/><path fill="#9f1228" d="M96.9 4.3l1.4-.3 1.5-.1 3.2 .4 .6 1.1 .1 .5-.1 .5-.1 .3-.7 .4-.7 .2-2.3 0-1.5-.6-.9-.8zM4.7 66.8l4-.3 3.7 .3-3.7 .2z"/><path fill="#fce2d2" d="M119.3 7.5l.9-.2 .7 .2 2.4 1.6 5.1 1.5 3.1 .2 4.5 .7 0 4.8-.8-.1 0 .8-.4 .8 0 .8-.3 .8-1.9 .8-.5 .8-.1 .7 .1 .8-.2 .8-1.2 1.5-1.8 .9-1.2 1.6-.8 .5-1.5 .2-2.2-.2-.8 .1-.7 1 0 .3-.1 .4 .6 1.6-.3 .8-.2 .2-1.5 .6-3.1 .3-1.5-.2-3-.8-3.1-.1-.4-.8 1.4-.8-.5-1.5 .2-.8 2-2.4 2.5-1.6 .9-.8-.1-.8-.9-1.5 0-.8 .3-.8 .7-.8 .2-.8-2.1-4 .1-.8 1.8-1.3 2.3-.3 .7-.7-.1-2.4zM-.4 11.5l1.5 .3 1.5 2 .1 .8-.6 .8-1 .7-.7 .2-.8-.1zM72.8 15.4l4.4-.5 3 .1 2.3 .6 4.5 1.8 1.2 1.2 .6 2.4 .3 .7 .9 1.8 1.4 1.4 .6 1.6 1 1.3 1.5 1.1-.6 .7-.9 .4-2.2 0-8.3-3.6-2.9-.7-3.9-.5-4.5 .2-2.1 .3-1.8 .8-2.1 1.6-1.5 .5-3.1-.5-3.7 .2-4.5-.9-4.6 0-.7-.1-.8-.5-.3-1.9-.5-1.6 .1-.8-.4-.8 .4-.3 .7 0 .6 .3 .9 1.6 .8-.1 .2 .1 .1 .8 .4 .8 3.1-1.2 1-1.2 .4-1.5 1.1-1.6-.4-.8 .1-.8 .8-1.4 1.5 0 2.2 .7 5.3-1.2zM53.1 18.6l-.7 2.6-1.6 1.3-1.5 .6-.4-.6-.2-.8 .3-.7 1-.8 .8-.3 1.6-1.1zM1.6 21l.3-.3 .3 .3-.3 .3zM39.9 24.1l.4-.3 .8 0 .5 .3 .4 .8-.3 .8-.6 .5-.8 0-.7-.5-.2-.8zM23.6 28.1l.9 0 .7 .3 1.9 1.2 .1 .8-.3 .8-.2 .3-2.2-.4-.8 .1-1.6 2.4-1.4 1.1-.7 .2-.4-.5 0-.8-.8-.8 .3-.8 3.1-1.3 .6-1.1 .2-1zM34.2 28.9l.6 .7 0 .8-.4 .8-2.4 .4-.3-.4 .2-.8 .5-.8 1.1-.7zM133 43.7l.7 0 2.3 1.8 0 6-1.5 .1-1.5-.4-1.9-1-.4-.5-.8-.3-2.2 1.3-.8 .1-2.2-.6-.9-.8 .2-.8 1.7-.8 2.7-.2 1.5 .6 .6-.4 1.7-3.6zM-.4 44.9l3 2.1 .4 1.6-.5 1.6-.6 .6-.8 .5-1.5 .3zM101.3 46.1l1.5 .2 4.5 1.2 .8 .6 .2 .5 0 1.6-.2 1.1-.8 1-.7 .4-3 .3-3.8 1-1.5 .3-3-.3-1.5 .2-.7 .7 .9 1.6-.3 .8-3.9 1.6-1.3 .8-.4 .8 1.2 .8 3.1 .8 .4 .8-2.8 .8-4.5 .5-5.3 0-3.7-.3-3.8 .2-10.2-1.2-2.6-.7-1.5-.1-6 .4-9.8 1.2-9.8 .6-17.4 .3-5.9-.2-3.9-.6-6 .2 .1-7.5 .7-.3 .7-.1 1.2 .4 .3 .4 .8 .4 1.9-.8 4.1-.6 6-1.8 1.5 0 1.6 .6 1.5 .3 3-.4 3 1.1 1.5 .1 2.3-.3 5.2-.1 1.7-.5 2.9-1.6 2 .1 2.5 .9 1.4 1.4 1.1 2.4 .7 .8 3.5 1.5 3.1 1 3.7 .6 1.5 0 .8-.2 6.8-2.4 3.7 .1 6.8-.4 2.3 .3 1.5-.1 .9-.4-.1-1.6 .2-.8 1.1-1.6 .6-1.5-.1-.8-.4-.8-1.6-2.4-.2-.8 .7-.8 4.2-.8 3.7 0 5.3-.7 3 .2zM118.6 49.4l3.8 1.7 .4 .7 .5 2.4 .6 .6 .8 0 .7-.2 1.5-.9 .8-.2 .7 .1 2.6 .6 .7 .7 .5 .8 .2 .8 .6 .6 .7 .2 .8-.2 1.5-.9 0 7.7-6.1-.1-5.2 .2-8.3-.1-12.1-1-.8-.8 3.1-1.4 2.3 .1 .7-.3 2.9-4.8 .9-.8 1-1.5 2.2-1.6zM47.3 52.6l2-.5 .9 .5 .1 .8-1 .4-2.2-.1-.6-.3z"/><path fill="#f9f0eb" d="M121.1 10.7l1.3-.4 1.5 .2 6.8 1.2 2.3 .8 .5 .5-.1 1.6-.3 .8 .5 1.6-.5 1.6-2.4 1.6-6 .9-1.5 0-1.5-.3-2.3-1.2-2.3-2.2-.7-1.2-.2-1.6 .6-1.6 2.1-.7zM74.8 17l1.7-.1 1.5 .3 4.5 1.4 3 1.6 .8 .8-.1 .7-.9 .8-1.3 .6-1.5 .4-1.5 .1-10.6-.8-4.5-.2-.7-.1-1.1-.8-.1-.7 1.1-1.6 1-.8 3.1-.8z"/><path fill="#edf2f5" d="M120.4 12.3l1.3-.6 2.2-.2 2.3 .1 3.3 .7 1.6 .7 .7 .8 .1 .8-.5 2.4-.7 .7-.8 .4-3 .6-3 .2-2.2-.5-1.3-.6-1-.8-.6-.8-.3-.8-.1-.8 .3-.8z"/><path fill="#dae9f2" d="M121.3 13l1.1-.4 1.5-.3 2.3 .1 1.5 .3 .9 .3 .9 .8 .4 .8-.1 .8-.6 .9-1.5 .8-2.3 .4-2.2-.1-1.5-.7-.7-.5-.5-.8-.1-.8 .2-.8z"/><path fill="#c2ddec" d="M122.9 13.8l1-.4 1.5 0 1.6 .4 .6 .8-.2 .8-1.2 .7-.8 .1-1.5 0-1.3-.8-.3-.8z"/><rect x="135.2" y="0" width="0.4" height="75.9" fill="#fff"/><use href="#cst"/></g><rect x="0" y="0" width="135.6" height="75.9" fill="none" stroke="#1a1a1a" stroke-width=".45"/><path d="M22.6 75.9 v2.1M45.2 75.9 v2.1M67.8 75.9 v2.1M90.4 75.9 v2.1M113.0 75.9 v2.1M0 12.7 h-2.1M0 25.3 h-2.1M0 38.0 h-2.1M0 50.6 h-2.1M0 63.2 h-2.1" stroke="#000" stroke-width=".5" fill="none"/></g><g transform="translate(195,17.5)"><g clip-path="url(#cp)"><rect width="135.6" height="75.9" fill="#fbccb4"/><path fill="#f6b394" d="M-.4 -.4l136.4 0 0 9.1-.8 .8-.7 .3-5.3 .2-3.8-1.1-2.2-1.3-1.5-1.2-.8-.4-.7-.1-.8 .2-2.9 1.4-.6 .8-.4 1.6-.9 .8-2.6 1.6-.1 .7 1 1.6 .3 .8-.2 .8-1.2 .8-.2 .8 .3 .8-.8 .5-.7 .2-.8 .4-1.5 1.5-.5 .5-.7 1.6-1.4 1.6-.4 1.7-1.2-.9-1.1-.2-2.2-.1-.8 .3-.6 .8-.3 1.6 0 .8 .7 1.5-.5 .2-1.5-.2-1.5-.8-.8-2.3-.8-.8-.7-.4-.8-1.2-.9-.8-.3-.8 .2-.8-.4-.8-1.6-.4-.7-1.1-.2-1.6-1.7-1.6-.4-.9-1.5-1.5-.7-.3-4.6-.7-.7 .1-3.8 1.4-.7 .1-2.3-.8-1.5-.2-3 0-.8 0-1.5-.6-1.5-.1-1.5 .2-1.5 1.8-1.5 1-.8 .1-.4-.4-1.1-2.3-2.2-.2-1.4 .1-.6 .8 .5 .3 .4 .5 .1 .8 0 .8-.5 1.3-.8-.5-2.3 1.7-1.2 .7-.9 .8-.4 .7-.1 .8-.4 .3-.7-1.1-.8-.3-.7-.1-.6 .4 0 .8-.6 .8-.2 .8 .7 .8 .3 .8-.4 .9-1.5 .2-.4-.3-.1-.8 .1-.8-.3-.8-.8-.6-.7-.1-.8 .1-.7 .4-1.2 1.8 .1 .8 .3 .3 .8 .6 1.8 .7 .4 .6 0 .3-1.5 .6 1.5 2.4 .8 .3 1.5-1 .7-.9 .8-.4 .9 .4 .6 1.2 .7 .1 2.3-.6 1.5 .1 1.8 .8 .9 1.6 .9 .8 2.4 .1 1 .7 .8 .8 .4 .8-.7 .5-2.2 0-.7 .3-.1 .2-.2 .5 .2 .9 .8 .2 .4 .5-.3 .8-.9 .5-1.5 .4-3-.5-.8 0-.6 .4 .5 .8 1.7 1.7 1.5-1.4 2.2 2.1 .5 2.3 1.4 1.6 0 3.2-1.9 2-.7 .3-1.5-.4-3.8-2.5-2.3 .1-1.5 .4-2.2-.4-1.3-2.7 .1-.8 .2-.8 1-.6 .8-.1 .7-.6 1.5-2.4 .8-.2-1.6-.3-2.2-.1-1-.4-2.8-.6-.7-.5-2.7-2.9-.7-1.5-.1-.8 .5-1.6 0-3.2 .2-.8 .5-.5 1-.3 .3-.7-.6-.5-1.5-.6-2.2-.3-1.5-.7-1.3 .5-.2 .5-.8 0-.7-.3-.8 0-.2 .6-.1 1.5-.5 .7-1.9-2.2-1.8-1.1-1.5 0-1.1 .3-.4 1.5-2.3 .4-3.8-.7-.9-.4-.6-.7-.4 .7-.3 1.1-.8 .7-.7-.1-1.5-.7-.2 .5 .5 1.6-.4 .8-.7 .2-.7 0-3.1-.9-.5 .7-.2 .8 .8 1.1 3 .5 .7-.4 1.5-1.9 .8-.5 .7 .4 .9 1.6 .6 .4 .8 .1 .8 .3 1.5 1.6 .2 .8-2.7 5.5 .9 1 .2 .6-.3 .8-1.5 1.6-.4 1.5-2.1 2.4-.5 1.6-.6 .6-.8 .1-1.4-.7-.5-.8-1.1-.8-.4-.8 0-.8 .4-.7 1.5-.1 1.7-.8 1.4-1.5 1-2.4-.5-.8-.6-.4-2.2-.8-.8 .1-.5 .3-.6 .8 1.2 .8 .1 .8-.9 .8-.8 1.1-.8 0-.4-.3-.3-.8 .7-1.7 .5-.7-1.3-1.6-1-1.6-.2-3.1-1-.5-.7 0-2.3 .6 0-13.4 .8 0 .7-.3 2.3 0 1.5 1.7 2.3 1.1 1.5-.4 3 0 .7-.3 .4-.4 .1-.8-.5-.3-1.5-.3-1.5-1.2-.7 .5-.8-.3-.7-.7-.8 .1-1.5-1.5-.8-.5-.7 0-1.5 .4-.8 .5-.7 .9-.8 1.5 0-2.8 .3-.2 .6-1.6 2.4-2.4 .8-1.6-.6-.8-.2-.7 .6-.8 1.4-.8 .6-.8 .2-.8-.4-.8-.4-.3-1.3-.5-1 0-1.8 .8-1.2 1.2zM7.9 13l-.7 .1-.2 .7 .2 .4 .7-.4zM11.7 19l-.8 .6-.2 .6 .2 .3 .8 .2 3.1-.5-.9-1.1zM20 26.6l-.3 .7 .3 .2 1-.2zM113.9 17.8l.2-.7 .7 .7-.7 .1zM136 18.1l0 2.8-.8 1.5-.3 .1 1.1 .2 0 13.2-1.5 .4-2.3-.2-.7-.2-1-.7-1.1-1.6-.3-2.4 .2-1.6 .3-.7 .3-.5 1-.3 .8-.8-.4-.8 2.1-4-.4-.8 .3-.7 .9-.8 1.3-.8zM29 32.6l.8 0 0 .9-.8-.1zM77.4 34.4l1.3-.3 3 .1 2.3-.5 1 .7 1.3 .2 1.5 .7 4.5 .3 1.5 .4 2.2-.3 .8 0 3 .7 3 .1 1.5 .5 .8 0 .7-.5 .8-1.6 1.5-.7 .8-.5 .7 0 .8 .3 2.2 0 1.5 1.5 2.3 .6 1.5 1.8 1.5 .7 3 .2 .4-.5 1.9-.2 1.5-.8 1.5-.3 1.1 .6 .5 .7-2.4 3.2-.7 .4-1.5 .4-1.5 0-1.2 .8-.6 .8-1.2 3.3-.8 .6-1.5 .6-1.5 1.1-1.5 0-1.5 .7-.8 0-1.3-.8 .1-1.6-.1-.8-1.7-1-1.5-1.8-.8-.3-.7-.6-1.5-2-.8-.6-2.2 .6-3 .3-1.5-.1-2.3 .6-1.5-.6-1.5 .6-2.3-1.1-.7 0-1.5 .5-4.6-.6-3 .8-1.5-.2-2.2 .5-2.3 0-.8-.3-.6-1.8-.9-.6-.7-.2-.8 .1-1.5 .7-.7-.1-.6-.7 .2-1.5 1-.8 2.9-.8 4-.6zM59.1 40.7l1.5 .1 1.5 1 1.6-.3 1.5 .4 .4 .4 .4 .8-.1 .5-.6 1.1-1.6 .2-1.3 .6 .1 .8 .4 0 .7 .7-.7 .9-.8-.3-.5-1.3-2.5-.8-1.9-.8 .1-.8 1.1-.8 .4-.8-.2-.8zM17.7 43.5l.8-.3 .9 .7 .3 .8-1.7 3.1-.3 .4-.8 .2-.6-.6-.2-.8 .4-1.5zM26 44.5l.7 0 .4 .2-.1 .8-.3 .2-.7 0-.2-.2zM65.3 53.4l.6-.5 1 .5 .5 .8-.5 .7-1 .3-.4-.3-.3-.7zM109.6 53.9l.8-.2 .1 .5-.1 1.3-.8 .6-.6-.4-.1-.8zM-.4 64l14.3 .7 9.1-.2 3.7 .2 3.8-.1 3.8 .1 2.2-.2 6.8 .2 2.3-.3 4.5 .6 2.3-.2 5.2 .2 3-.3 2.3 .3 3.8 .2 3.7-.3 2.3 .3 3-.2 4.5 .4 3-.1 3.1 .4 2.2-.2 2.3-.5 8.3-.7 9-.2 7.5 .2 2.3-.2 15.1-.2 3 .2 0 8.3-.8-1-1.5-.6-1.1 0 1.7 1.5-.6 .7-1.5 .4-.7 .5-.4 2.4-2.9 0 0-.8 .2-.8-.4-1.6 .4-1.1 .6-.4-2.1-1-.7 .2-.2 .8 .6 2.3 0 2.4-13.4 0 0-.8-.6-.3-.7 0-.4 .3 0 .8-22.9 0 0-.8-.8-.1-.5 .1 0 .8-8.2 0 0-.8-.4-.5-.3 .5 0 .8-5.2 0 0-.8-1.3-1.1-1.8-1.3 .2-.8 .9-.5 3 .2 1-.4-.2-1.7-.8-.8-.8 .2-1.5 1.2-.7 0-.8-.5-1.5-.1-.7 .9-.2 .8-.6 .7-1.5 .4-.7 .6-.8 .1-.7-.1-3.1-.9-.4 .7-.1 1.6-.6 .8 0 .8-10.9 0 0-.9-.1 .9-7.3 0-.1-1.3-.3 .5 0 .8-2.1 0 .1-1.6-.8-1.5-2.2-.5-.4-.4-.1-1.5-.3-.5-2.2 0-2.3 .3-2.3-.2-.7 .2-.8 .5-1.3 .5-.7 .7 .5 1.1 0 .7-.7 .1-1.5-1.6-.8-.3-.7 .3-.9 1.3-1.4 1-.3 .6 0 .8-8.2 0 0-.8-1.3-1-.7 .3-.2 1.5-3.8 0 0-.8 .3-.8-.1-.8-.8-1.4-.7-.9-.8-.2-.4 .2-.7 .7-.4 .9-1.5-1.8zM11.7 70.4l-1.8 1.2-.1 1.5 .4 .3 .7-.2 1.7-1.6 .4-.8-.6-.5zM38.8 71.2l-.8 1.1 0 .7 2.4-.7 .1-.7-.2-.2-.7-.3zM80.2 70.6l-.4 .2-.2 1.5-.9 1.2-.1 .4 .1 .6 .8 .1 .7-.8 .8 0 2.2 .7 .8-.3 .3-1.1-.5-.8-2.8-1.6zM26.9 72.3l.6-.6 .7 .6-.7 .4zM29.5 75.5l.3-.2 .7-.2 .3 .4 0 .8-1.3 0z"/><path fill="#ec9374" d="M-.4 -.4l136.4 0 0 7.3-1.3 .6-1 .8-.7 .2-3.8 .2-2.3-.4-3-1.5-1.5-1.1-1.3-.6-.9-.1-1.3 .1-2 .8-1.3 .8-.6 .8-.9 1.6-3 2.5-3 .5-.8 .4-1.5-.6-3 .1-1.3 .3-1.1 .7-.2 .8-.4 .5-.7 .1-1.5-.4-2.3 .4-.6 .2-.3 .8-.6 .7-2.3 .3-.7 .6-.8 .2-.7-.2-.8-.5-.5-1.1-.7-.8-1.8-1.3-2.3-.8-3.7-.4-1.5 .5-1.5 .9-.8-.1-1.5-1-.6-.1-.9-.9-2.3 .2-3-.2-3.7 .8-2.3-.1-1.5-.4-.8 .1-2.2 .6-3 0-1.5-.4-.8 0-.6 .3-.2 .7 .6 .8 .2 1-.4 .6-.4 .1-.7 .1-.8-.2-.4-2.4-1.1-.4-.7 0-2.3 .6-1.5-.2-1.2 .8-.4 .8-.6 .8-.8 .2-2.3-.6-.7 .4 0 2.4-.8 .4-2.2 .5-1.8-.1-.5-.8 .3-.8-.3-.4-.7 0-1.2 .4-1.1 1-.8 .3-2 .3-.2 .8-.8 .8-3 .4-.7-.6-.4-1.4-.4-.7-.7-.7-.8 0-.7 .3-1.6 1.9-.7 0-3.2-2.4 .4-.8 .5-.6 .8-.4 .7 0 1.5-.7 2.3 .3 .7-1 .3-.8-.2-.5-.5-.2-2.6-.4-2.2 .2-2.3-.2-1.3-.4-1.3-.8-1.9-.9-.4-1.5-.5-.8-2.9-1.1-2.2 0-2.3 .8zM24.5 12.5l-.5 1.3-1 1.4-.8 .6-2 .4 .5 .5 1.5 .2 1.5 .5 .8 .1 .7-.2 1.5-1.7 .3-1-1.3-1.6-.5-.3zM91.5 13l-.3 .8 .3 .2 1.5 .3 .9-.5-.1-.8-.8-.2zM8.6 11.5l.1-.2 .7-.3 .4 .5-.4 .1zM60.6 12.9l.6 .1-.1 .8-.5 .9-.7 0-.1-.9zM11 14.6l1.4-.7 .8 .1 .5 .6-1.2 .8-1.3 1.6-.3 .8-1.5 .8-.7-.2-.5-.6 .2-.8 .3-.4 1.5-.1 .3-.3-.4-.8zM107.3 14.3l.8 .2 .5 .9 1.4 .8-.4 1.1-.7 .5-.8 .3-1.5-.6-.8 0-1.5 .8-.7-.1-1.5-1.2-.1-.8 .2-.8 .6-.3 1.5 .1 .8 .7 .7 0zM45.6 16.2l.7-.2 .4 .2-.4 .2zM15.5 21.7l1.4-.6 .6 .6-.6 .4zM22.2 21.7l.8 .8 2.2 .1 .8 .7-.8 .5-.7 .1-.8-.2-.6-.4-.1-.7-.8 .5-.1 1-.6 .4-2.3-.4 2.6-1.6zM28.8 21.7l1.7-.6 .8 .3 .5 1.1-1.3 2.1-.7 .4-.8 0-.8-.3-1-1.4 .5-.8zM96.5 22.5l.3-.2 .8-.2 1.5 .2 .7 .2 .4 .8-.4 .4-.7 .1-1.4-.5zM113.6 42.3l.5-.6 1.5 .6 1.5 0 .8 .1 1.1 .7 .5 .8-.8 2.4-.8 .3-.5-.3-1.8-2.9-1.5-.5zM53.9 45.1l.2 .4-.2 2.8-.8 .8-.7-.1-.8-.4-.4-.8 .6-.8zM-.4 64.7l25.6 .9 4.6-.1 3 .3 3-.1 2.4 .3 .8 .8-2.5 .7-2.2 .1-1.5-.3-3 .7-1.6-.1-2.2 .2-1.5-.3-2.3 0-3.7 .9-2.3-.3-3.8 .1-2.2 .3-7.6-.3-3 .2zM109.6 64.9l6 0 10.6-.3 9.8 .1 0 4-3-.3-10.6 .2-3-.3-6-.1-1.5-.2-3.8 .2-3-.3-2.3 .4-3-1-.5-.5 .3-.8 .2 0 2.3-.5zM90.8 68.1l.7-.3 2.3 .3 .5 .3-.1 .8-1.2 1.3-.7 0-1.7-.5-.4-.8zM97.2 68.4l1.1-.4 .8 .1 .2 .3 0 .8-1 .9-.7-.4-.3-.5zM92 72.3l1-.6 .2 .6-.2 .6-.7 1.1-.8-.6-.1-.3z"/><path fill="#dd7059" d="M-.4 -.4l136.4 0 0 6.1-3.8 1.1-3 .4-1.5-.1-6-2.7-1.5-.2-2.3 .2-2.3 .6-.7 .5-2.1 2.8-2.6 2.4-4.4 0-1.5 .4-2.2 .2-1.5 .4-.8 0-3-.5-5.3 .3-4.5-1.2-2.2-.1-2.3-.4-2.3 .4-1.5-.2-.8-.1-2.2-1.3-3.8 .1-1 .4-.6 .8-.6 .2-3-.9-2.3 .4-2.3-.6-2.2 .2-5.3 1.2-3.8-.4-2.2 .3-.8-.5-1.5-.2-.6 .3-.7 .8-3.2 .1-.7-.3-.8-.8-.7-.3-.8 .1-1.5 .9-.8 0-1.5-1-.7-.2-3 .4-1.5 .6-1.6 0-1.5 .5-4.5-1.1-2.2 0-2.3-.8-2.3-.3-1.5 .2-1.5 .7-2-1.1-.7-.8-1.2-.8-4.4-1.3-2.2-.1-2.3 .7zM-.4 65.1l18.1 .5 3.7 .4 1.5 .8-3.7 .9-1.5 .2-7.5 .2-10.6-.1zM131.5 64.9l4.5 .2 0 2.9-25.6-.9-2.4-.3-.5-.8 2.9-.5 5.2 0z"/><path fill="#cc4c44" d="M-.4 -.4l5.7 0 0 .8 .3 .3 .8 .4 .8 .1 2.3-.8 0-.8 7.3 0 0 .8 .1 .1 .4-.1 0-.8 5.1 0 0 .8 1.3 .7 .8-.1 1.1-.6 0-.8 110.4 0 0 4.4-.5 .3-1 .3-2.3 .1-3 .4-.8 .3-.7 0-1.5-.7-1.5-.4-.9-.7 0-.8-.6-.7-.8-.3-2.2 .4-3.1 .2-.7 .3-3 2-.8 1.2-2.6 2.4-1.9 .9-2.3 .4-3.7 1.1-.8 0-9-1.5-.8-.2-2.2-1.4-.9-.9-.6-.4-1.5-.3-3.8-.3-1.5 0-3 .4-4.6-.1-2.2-.3-3 .5-3-.2-2.3 .3-2.3-.4-2.2 .1-3 .3-2.3-.3-6 .1-5.3 1-3 .1-.8 0-2.2-.6-2.3 0-2.7-.7-1.8 .2-1.5 0-2.3 .3-1.5-.5-1.5 .2-2.2-1-.8 .1-1.5 .4-2.3 .3-3.7 0-2.3-.6-3-.2-2.3-.9-1.5-.2-1.5-.1-1.5 .5zM-.4 65.5l12.8 .2 5.2 .3 2.3 .8-2.2 .5-3.8 .3-8.2 .2-6.1-.3zM117.5 66l9.4-.6 4.6-.1 4.5 .2 0 2-13.6-.5-2.6-.2z"/><path fill="#ba2832" d="M97.6 2.2l2.2 .4 3-.1 2.3 .4 1.5-.5 .7 .1 1.6 .6 1.5 1.2-.5 .8-1.5 .8-1.2 1.6-1.2 .8-3.2 .9-3.7 .1-2.3-.6-.6-.4-1.8-1.6-.1-.8-.5-.5-1.7-1.1 .2-1.1 .7-.4zM-.4 65.8l12.8 .1 1.5 .1 3.2 .8-3.9 .5-7.5 .1-6.1-.3zM125 66l6.5-.3 4.5 .1 0 1.3-9-.3z"/><path fill="#9f1228" d="M102.1 4.5l.7 .4 1.4 1.8-.3 .8-1.1 .2-.7-.5-1.8-.5-.4-.8zM1.1 66.8l3.8-.6 2.3-.1 5.2 .3 2.1 .4-2.1 .3-4.5 .1z"/><path fill="#fce2d2" d="M119.6 8.3l.6-.2 .6 .2 .9 .5 3 1 2.2 .5 1.5 .5 3.1 .2 4.5 1.1 0 2.8-.8-.3-.7 .4-.1 .4-.1 .8 .3 .8-.2 .8 .1 .8-.8 .8-.7 .3-.5 .5-1.8 2.8-.8 .4-2.2 0-.8 .3-.7 .9-.8 .5-.7 0-1.5-.8-2.3-.3-1.5-.5-.8-.3-1.5-1.5-.4-.7-.6-3.2-1-1.6-1.1-2.4-.2-.8 1.8-1.2 4.6-1.1 .2-.8-.2-.4-1.5-.4zM-.4 12l.8 .1 .7 .6 .3 1.1 0 .8-.3 .4-1.5-.4zM68.1 17.8l2.3-.5 1.5 .2 3.8-.1 3 .4 2.3 .2 2.2-.1 .8 .2 2.3 1.1 1.5 .4 1.3 2.9 .2 1.1-.9 1.3-.1 .8-.5 .9-.8 .3-2.2-.1-1.6 .6-.7 .1-.8-.2-1.5-.7-2.2 .3-2.3-.5-3 0-1.5-.5-.8 0-4.5 1.6-1.5 0-1.5-.5-2.3-1.3-3.7-1.1-.8 .2-.2 .9-1.3 .7-1.6 .1-1.7-.8 .9-.8 .9-.2 1.2-.6 .8-.8 .3-1.1 1.5-.6 1.4-1.4 .8-.5 3.8-.8 2.3 .2zM40 24.9l.3-.3 .8 0 .3 .3-.2 .8-.1 .2-.8 0-.3-.2zM120.5 27.3l1.2-.6 .7 .6-1.5 .4zM87 47.5l.8 0 1.5 .5 2.2-.1 .7 .7-.2 1.6 .3 .6 .7-.1 .8-1.1 .7-.7 3.2 1.3 .2 .8-.3 .1-3.1 .3-2.2-.1-.3 .5-.5 .3-.7 .2-1.5-.6-.8 .1-1 .8-.2 .8 .2 .8-.5 1.5 1.3 .8 .6 1.6 .4 .5 1.5 .1 2.2-.9 .8 0 2.3 .6 .5 .5-.2 .8-1.1 .3-.6 .5 .2 .8 .5 .8-2.1 .8-3.3 .4-9 .5-2.3-.2-3-.6-3 .1-2.2-1 .8-1.6 .6-.1 3.1 .4 1.5-.2 .8-.9 .4-1.6 2.5-1.4 1.1-1 1.3-.8 0-.7-.4-.8-1.5-1.6 .5-1.6 0-1.6 1.3-.6 1.5 .1zM80.8 58.1l.2 .3 .7 .5 1.5 .2 1.1-.2 .3-.8-.6-.5-.8-.1zM102.6 49.4l.2-.7 .3 .7-.3 .2zM125.2 55.7l1-.6 .7 0 .8 .3 1.3 1.1 0 .8-.2 .8-.8 1.6-.1 .8 .3 .8 0 .8-4.3 .2-1.5-.2-2.2 .5-3.1 0-1.5 .4-3.7 .2-1.9-.3-1.6-.8 .7-.8 2-1.1 .8-.1 2.2 .3 2.3 .6 .7-.1 1.5-1 .8 .2 1.1 1.2 1.2 .6 .7-.6 .5-1.6 .2-1.6 1.6-.8zM10 58.1l2.4-.5 1.5 .4 4.6-.3 .9 .4 .7 .8 1.4 1.1 1.5 .7 .5-.2 .5-2.4 .5-.3 3 .3 .7 .3 .8 .8 .8 .1 .3-.4-.3-.8 .7-.2 .9 .2 .3 .8 1.1 .6 .7 .1 3-.5 1.1 .6 .9 1.6-.3 .8-1.7 .2-2.2 .8-5.3-.1-2.3 .3-2.2-.6-.8 0-7.5 .8-6-.3-1.5-.3-1.5-.8 .7-.8 .6-1.6zM98.4 60.5l2.2-.5 .7 .1 .4 .4-.3 1.6-.8 .3-2.5-.3zM40.8 61.3l1.8-.5 .7 .2 .7 1.1-1.4 .7-.8 0-2.2-.7zM65.5 61.3l1.2-.3 2.5 1.1-1.2 .8-1.3 .2-1.4-.2-1.4-.8zM50.1 62.1l.7-.2 .7 .2-.7 .1z"/><path fill="#f9f0eb" d="M122.3 10.7l.9-.1 3.7 .5 4.6 1 1.5 .9 .2 .8-.2 .8-.6 .8 .6 1.6-.2 .8-1.3 1.3-.8 .4-2.3 0-3 .6-3-.3-2.2-.9-.8-.4-1.9-1.5-.6-.8-.1-1.6 .4-1.6 1.4-.7zM78.6 20.2l.9-.2 1.5 .2 2.2 .8 .3 .7-.3 .4-.7 .3-3.8 .8-.7-.1-1.3-.6-.5-.8 .5-.7zM72.5 21l.9-.8 .8 .8-.8 .5-.7-.2z"/><path fill="#edf2f5" d="M120.9 12.3l1.5-.5 1.5-.2 3 .2 1.9 .5 1.7 .7 .9 .8 .2 .8-.2 .8-.9 1.6-1.6 .8-2 .3-2.2 .2-1.5-.1-1.5-.4-1.5-.8-1-1.6-.3-.8 .1-.8 .5-.8z"/><path fill="#dae9f2" d="M121.6 13l2.3-.6 3 .2 1.5 .6 .8 .6 .3 .8-.4 .8-.6 .8-.8 .6-1.5 .3-3-.1-1.5-.7-.7-.9-.3-.8 .1-.8z"/><path fill="#c2ddec" d="M123.2 13.8l.7-.2 1.5-.1 1.1 .3 .6 .8-.5 .8-.4 .2-2.3 .1-.7-.3-.4-.8z"/><rect x="135.2" y="0" width="0.4" height="75.9" fill="#fff"/><use href="#cst"/></g><rect x="0" y="0" width="135.6" height="75.9" fill="none" stroke="#1a1a1a" stroke-width=".45"/><path d="M22.6 75.9 v2.1M45.2 75.9 v2.1M67.8 75.9 v2.1M90.4 75.9 v2.1M113.0 75.9 v2.1M0 12.7 h-2.1M0 25.3 h-2.1M0 38.0 h-2.1M0 50.6 h-2.1M0 63.2 h-2.1" stroke="#000" stroke-width=".5" fill="none"/></g><g transform="translate(358,17.5)"><g clip-path="url(#cp)"><rect width="135.6" height="75.9" fill="#edf2f5"/><path fill="#f9f0eb" d="M-.4 -.4l27.9 0 0 .8 .7 .1 1-.1 0-.8 106.8 0 0 8.7-2.8-.8-2.5 0-3-.6-1.5 1-.8-.4 0-.8-.3-.8-1.2-.7-.7 0-.8 .3-.7 .8-.8 .4-3-1.1-.8 .2-.3 .9 1.7 2.4-.9 1.6 1.9 1.6-.1 .3-.8 .3-1.2-.6-1.8-2.2-.4-1 0-.8-.5-.8 .1-.8-1.2-.8-2.5-.8-.2 0-.4 .8-1.6 .6-1.6-.2-2.2 0-1.5-.4-.8 .2-.4 .6-.2 .8-.6 .8-.3 .8-.7 0-1.5-1-2.3-.6-.8 1.2-.7 .6-2.3-1.3-1.5-1.6-.7-.4-1.5-.5-.8 .2-1.5 .8-2.2-.3-2.3 .5-1.5-.3-.5-.5 0-.8-.3-.6-.7-.4-1.5 .7-2.3 .1-.7 .2-1.6 .9-1.1 1.5-.4 .2-.7 0-2.3-.9-.7-.2-1.2 .1-1.8 .9-2.3-.5-3.8-.1-1.2-.3-1.1-.8-1.4-.3-.8 .1-.7 .5-.8 .3-3-.9-1.5 .1-2.3 .6-1.5-.5-1.5 .2-1.5-.5-3 .2-1 .2-1.3 1.2-.7 .2-.8-.1-.7-.7-1.5-.1-2.3 1.1-1.5-.7-1.5 .1-1.5-.5-.8 0-1.5 .3-3-.1-2.2-.2-1.6 .1-1.4-.6-3.1-.6-.7-.1-3 .2-1.5-.6-.8-.1-1.2 .4-1.1 1.5-.7 .7-1.5 .6-1.5 .4-.8-.2zM107.3 2.7l-.7 .1-.3 .8 .3 .3 .7 .6 .8 .1 .6-.3 .1-.7zM38.5 9.1l.3-.4 .7-.1 .9 .5-.1 .8-.7 .6-.8-.2-.2-.4zM61.1 9.1l1-.4 .8 .1 .8 1 .7 .5 1.5-1 .8-.2 1 .8-.3 1.3-.7 .5-.8-.1-1.5-.6-.7 0-1.6 .6-.6-.1-1-.8-.3-.8zM9.9 10.7l.3-.7 .7 .7-.7 .2zM75 10.7l.7-.6 .4 .6-.4 .2zM96 10.7l.8-.4 .8 .1 .5 .3 .5 .8-.3 .4-2.3-.3-.2-.1zM91.9 13l1.1-.3 .7 .3-.7 .5-.7-.1zM95.9 14.6l.9-.2 .9 .2 .2 .8-.3 .8-.8 .6-.7-.5-.6-.9zM112.5 16.2l.9-.2 .2 .2-1 .2zM96.7 17.8l.1-.4 .8-.2 1.5 1.3 .7 0 2.3-.8 2.2 .6 1.5-.2 2.3 .9 1.5-.6 .8 0 .6 .2 .6 .8-.5 .7-.7 .3-.8-.1-1.1 .7-.5 .7-.8 1.6-.6 .7-.8 .3-1.5 .3-.7 .8-2.3 .4-.7-.3-.4-.6 .3-.8 0-.8-.5-.8-.9-.8-1.4-.7-.7-.8 .1-.8zM3.7 18.6l.6 0 .7 1.6-.1 .2-.8 0-.7 .7 0-1.7zM93 21l.8-.6 .8 .6-.8 .8zM7.9 23.6l.8 .3 .5 1-1.8 1.6-.3 1.6-.8 1.5 .1 .8 .8 1 .7 .5 2.3 .5 .3 .4-1.1 1.6-2.2 .4-.8 .4-.8-.1-.7-.5-.8-1-.7-.5-1-.3-.4-.8 .6-.1 1-.7-.5-1.6 .6-2.3-.3-.5-.8-.3-.7 .5-.8 1.7-.7 .5-.8-.4 0-2.2 .8-.2 .7-.5 2.3-.9 .7-.1 1.5 .2 1.6-.7zM68.8 24.1l1.6 .6 .8 0 2.2-.6 2.3 .2 2.3-.3 4.5 1.5 .7 .3 .8 .7 .1 .8-.4 2.3-1.2 1.4-.8 .5-3.7-.3-.8-.9-.7-.1-2.3 .8-2.3-.3-3.7-1.7-.9-.9-1.3-.8-.2-.8 .9-.6 1.5-1.5zM136 26.4l0 2.8-.8-.4-1.5 .9-.9-.1 .2-1.9-.5 .4-1 .1-.8-.3-.4-.6 .4-.4 2.3 .3 1.5-.7 .7 .1zM121.2 27.3l.5-.4 .5 .4-.5 .1zM19.4 30.4l.6-.3 .7 0 .1 .3-.8 .3zM58.2 30.4l1.7 0 .7-.2 1.1 .2 .8 .8 .2 .8 0 .8-.4 .8-.9 .3-1.5-.6-1.5 .3-1.5 0-1.5 .8-.8 0-.9-.8-.4-1.6 .6-.4 2.2-.3zM101.5 30.4l.6-.5 .2 .5-.1 .8-.3 0zM91.7 32.8l.6-.3 .4 .3-.1 .8-.3 .2-.5-.2zM2.4 35.2l1.2 0 .3 .8-.5 .2-.8-.2zM109.1 36l.5-.4 .8-.1 3.6 1.3-.6 .1-.2 .7-1.3 1-.8-.1zM105.6 38.3l.2-.7 .8 .1 1.2 .6 .6 .8-.3 .5-.8 .3-.7-.2-.8-.3-.2-.3zM52.4 41.5l.7-.5 .8 .3 .1 .2-.9 .4zM118 41.5l1.4-.8 .7 .8-.3 .8-.4 .2-.9-.2zM9.2 42.3l1-.2 .7 .1 .9 .9-.7 1.6-.9 .6-.8-.1-.2-.5zM109 42.3l.6-.3 .8 0 .6 .3-.1 .8-.5 .2-1.4-.2zM109.3 47l.3-.4 .8 0 .5 .4-.2 .8-.3 .2-.8-.2zM76.5 48.5l.7 .2 1.5 .5 .8-.1 .7-.5 1.5-.3 .8 .4 .7 .8 1.6 2.3 .3 .8 0 1.6-.9 .7-1 1.6-1.6 1.6 .2 .8 1.4 .7 .8 .1 .8-.2 1.5-.8 .7-.2 1.5 .5 .8-.1 2.2-.5 1.5-.7 2.3-.1 1.5-.4 1.5 .3 1.5 .9 1.5 0 .7-.3 .2-.8-.9-1.4-.7-.1-1.5 1.1-.8-.3 0-.9 .8-.2 1.5 .2 3-.4 .7-.4 .7-.7 .8-.2 .5 .2 .5 .7-.5 .8-.5 1.9-1.5 1.3-.8 1.6-2.1 2.4-.8 .3-4.6-.8-3 .6-6.7-.3-3.1 .4-1.5 .1-2.2-.9-1.5 0-.4-.2-.4-.8 .3-1.6-.3-1.4-3.8-1.7-1.5-.5-.3-.4-1.2-.4-.4-1.1-.2-1.6-.6-.8 0-.8 1.6-.8 3.4-.7zM126.6 56.5l.3-.4 .3 .4-.3 .3zM71.2 56.7l.6 .6-.2 1.6-.4 .4-.8-.1-.2-.3 .2-1zM107.8 58.9l.3-.4 .3 .4-.3 .3zM53.1 62.8l2.3 .4 3-.3 .7 .2 .8 .5 .6 .8-2.1 1.3-1.5 .3-2.3-.2-2.2-1.2-1.6 .5-.7-.3-.3-.4 .3-.8 .7-.4zM41.9 68.4l.7-.3 .7 .1 .3 .2 0 .8-.3 .3-.7 .2-.7-.5zM111.9 67.8l.8 .6 1.3 3.2-.2 .7-.8 .8-.2 .8 1.3 1.3 .3 .3 0 .8-9.3 0 0-.8 .7-.8 .6-1.6 .8-.8 .4-.7-.3-.2-.7-1-2.3 0-.2-.4 .5-.8 1.2-.5 2.3 .2zM109.6 69.4l-.3 .6-.1 .8 0 .8 .4 .2 1.5 .1 1-.3 .8-.8-.3-.8-2.2-.8zM39.6 70.5l.7 .1 .5 .2 .8 .8-.7 .7-.6 .3-1.5-.2-.1-.8zM103.6 71.6l.7 .6 0 .2-.7 .1-.2-.2zM48.4 72.3l.9 .3 .7 .5-1.2 .8-.2 .8 .2 1.6-.5 0 0-.8 .3-.8-.5-.8-.3-.1-.2-.7 .2-.4zM61 73.1l1 0 1.7 .8 2.1 1.6 0 .8-4.2 0 0-.8 .3-.8zM43 73.9l1.1-.1 .3 .1-.2 .8-.9 .2-.2-.2zM66.3 73.9l1.1-.6 1.5-.1 .8 .3 2.2 1.2 .1 1.6-5.1 0 0-.8-.7-.8zM20.5 74.7l1.7-.3 .8 .2 .8 .9 0 .8-4.7 0 0-.8zM33.4 75.5l.1-.2 .5 .2 0 .8-.6 0z"/><path fill="#fce2d2" d="M-.4 -.4l18.6 0 0 .8 .3 .2 .7 .3 1.5 .1 3 .7 .6 .3 .4 .8-.4 .8-.6 .6-.7 .3-1.5-.4-2.3 .5-2.3-.4-3-.1-2.2-.4-2.3 .5-3-.6-1.5 .3-2.3 1.5-.7 .3-2.3 .1zM39.9 -.4l1.4 0 0 .8 1.3 .5 .7-.1 .6-.4 0-.8 15.7 0 0 .8 .2 .8 .7 .8-.6 .6-1.5-.7-1.5 0-1.5 .9-1.8 .8-4.3 .3-1.3-.3-.9-.7-.8-.2-1.5 .1-2.2 .6-4.6 .2-2.5-.8 .6-.8 1.2-.2 2.6-1.4zM82.2 -.4l4.6 0 0 .8-.5 .3-.8 .1-3 0-.3-.4zM93.3 -.4l6.1 0 .1 1.6 .7 .8-.2 .8-.2 .1-.9-.1-.8-.8 .2-.9-1.5 .5-.7 .1-2.3-1-.5-.3zM131.7 -.4l4.3 0 0 6.2-3 .5-2.3-.1-1.5-.6-.8-.6-1.5-.3-.7-.4-.8-1.2-.7-.5-.8-.2-.2 .4-.5 .1-.8 .1-.5-.2 .5-.8 .8-.1 4.5-.6 2.2 .2 .8-.2 1-.9zM101.8 20.2l1-.6 .8 0 .7 .3 1.1 1.1-.2 .7-2.4 1.9-.7 .2-1.2-2.1 .1-.7zM74.2 26.3l3 .1 .6 .1 .5 .8-.3 .3-1.5 .1-.7 .4-.8 .1-1.6 0-1.5 .2-.3-.3 .1-.8zM76.8 51.8l1.2-.5 .7 0 1.4 .5 0 .8-.6 1.1-2.3 .4-1.6-.7 .3-.8zM112.1 75.5l.6 0 0 .8-.6 0z"/><path fill="#fbccb4" d="M50.9 -.4l1.5 0 0 .8-.8 .2-.7-.2zM-.4 2.8l.3 0-.1 .8-.2 0zM131.9 2.8l1.8-.8 1.8 .8-.1 .8-.9 0-1.5 .8-.8 .2-1.1-.3-.3-.7z"/><path fill="#dae9f2" d="M51.9 8.3l.5-.1 3 .2 .6 .7 0 .8-.6 .8-.8 0-1.5-1-1.3-.6zM85.3 8.3l1.7 .2 1.5-.1 2.8 .7 1.1 .8 0 .8-.9 .7-1.5-.6-2.2-.5-1.5 0-1.5 .5-.8-.2-1.1-.7-.4-.8zM23.7 9.1l.8-.4 1.5-.1 .8 .5 .7 .8 1.5 .6 .3 1 .5 .6 .7 .4 2.3-.2-.3-.8 .3-.3 .7-.1 1.5 .3 1.5 .1 1.5 .9 .8 .1 2.3-.9 .7 .1 .2 .6-.1 1.5 .7 .9 .7 0 1.5-.3 .8 0 2.2 .8 .8-.6 .7-1.4 .8-.1 2.3 1.4 2.2 1 3.8 .6 .7 0 1.2-.7-.2-1.6 .5-.6 .8 0 .4 1.4 .3 .5 .8 .4 1.5 .1 3-.7 3.4 .5 .4-.1 .5-.7-.3-.8 .1-.8 1.2-.9 .7-.2 1.6 .5 2.2-.3 1.5 1.2 .9-.3 1.3-.7-.7-.4-.3-1.2 .3-.4 .8 .4 0 1.6 .3 .7 .4 .3 .8-.1 .7 .9 .1 .5 .6 .8 .9 .6 2.2 .8 .8-.4 .1-1-.9-1.2-2.3-1.2 .8-.5 1.5 .1 1.5-.3 .9 1.5 1.3 1.6 .2 .8-.4 .8-2.4 .8-.3 1.6-.8 1.7-.7 .4-2.3-.6-2.3 1.2-.7 .1-1.5-.6-.8-.1-3 .9-.7 0-1.6-.8-.7-.2-3 .1-1.5 .2-3-.4-3.1 0-.7-.2-.8-.8-.7-.2-1 1.6-2 1.2-3-.1-.2-1.8 .2-.3 .7-.1 1.3-1.2-.5-.4-.8 0-.9 .4-.2 .8-3.4 3.1-.1 1.6-.7 .9-.7 .3-1.5-.3-3.8 .2-.7-.3-.8-.9-.7-.3-.8 0-1.1 .4-.8 .8 .3 .8 2 2.4-.4 .5-1.5-.9-3.8 0-.4 .4 0 2.3 .3 .8-.8 .8-1.3 .4-1.5-.4-.8-.4-.2-.4-.2-.8 .4-.6 .8-.5 .2-.5-.2-.2-.8-.1-.4 .3-.4 .8-2.2 1-.8-.3-.6-.7-.2-.8 .1-.9-.6-1.4 0-.8 .6-.7 1.5-.6 .3-.3 .2-.8-.1-.8 .1-.8 .6-.8 1.9-1.1 .8-.3 1.5 .9 2.2 .2 .8-.4 .5-.8 .1-.8-.6-.5-1.5 .1-1.7-.4-.1-.8 1-1.2 .2-.4-.2-.3-1.4 .3-1.6 .7-.4 .9-.9 .8-1.7 1-2.3 .9-3-.5-.9-.6-.6-1-1.5 .5-.7 .6-1.6 0-1.5-.4-1.6-1.3-.3-.8 .4-.8 .8-.7 1.1-.9 1.1-.5 2.3 .6 .8-.7 1.5-2.3 .7-.5 .8 0 .4 .3 .9 .8 .2 .5 .4-.5 .3-.8-.1-.8zM38 15.4l-.4 .8 .4 .8 .8 .1 .5-.9zM43.3 23l-.4 .3 .2 .8 .2 .3 1.5 1 .6-.5 0-.8-.6-1zM49.3 16.9l-1 .9-.6 .8 .9 .3 .7-.3 1.1-.8 .3-.8-.6-.3zM35 23.8l-.2 .3-.2 .8 .4 .3 1.5 .7 1.1-.2-.1-.8-1-1zM24.5 13.8l-1.5 2.2-.5 .2 1.2 .5 .8-.1 .7-.5 .7-.7 0-.8-.7-1.3zM6.5 10.7l.7-.6 .5 .6-.5 .6-.8 .2zM48.4 10.7l.6 0 .3 .9-.7 .2-.4-.3zM119.6 10.7l.6-.5 .4 .5-.4 .4zM44.4 11.5l.4-.3 .8-.1 .7 .4-.7 .8-.8-.1zM1.9 13.8l.7 0 .8 .2 .4 .6-.4 .8-.8 .4-.7 0-.8-.2-.7 .4-.8 0 0-1.3zM136 14.5l0 1.5-.8 0-.4-.6 .4-.7zM103 15.4l.6-.4 .7-.2 .8 .4 1.5-.3 .7 .2 .8 .7 .7 .4 .5 .8-1.2 .3-1.5-.3-2.3 .3-.8-.3-.6-.8zM-.4 20l.6 .2 .3 .8-.3 .7-.6 .5zM134.4 20.2l.8-.2 .6 .2 .2 .4-.2 1.1-.6 .5-.7-.5-.3-.7zM14.2 21.7l.5-.3 .7-.1 1.5 .4 1.1 0-1.8 .2-1.3 1.4 0 .8-.2 .2-.9-.2 0-.8 .5-.8zM96.1 22l.7 0 1.6 .5 .8 .8-.1 .4-.8 .2-1.5-.2-.8 .2-2.2 1.1-.7-.9 .7-.8 .7-.2zM19.6 24.1l.4-.3 .7-.1 2 1.2 .4 .8-.9 .9-.7-.8-.4-.9-.4-.3-.7-.2zM95.9 26.5l.9-.3 1.5 .2 .4 .9-.5 .8-1 .8-.4 .8-.9-.1-.3-.7-.1-.8zM16.7 27.3l1-.6 .8-.1 .7 .3 .8 .8 .7 .1 .8-.1 .2 .4-2.5 .5-1.9-.5zM36.7 31.2l1.3-.3 .8 .4 .6 .7 .3 .8-.9 .5-1.5 .4-1.5-1.7-.2 0zM117.6 31.2l1-.5 .8-.1 .5 .6 .1 .8-.4 .8-.2 .2-.8 0-.3-.2-.6-.8zM123.4 32.8l.5-.5 .8 .1 .5 .4 .2 1-.7 .5-.8-.3-.3-.4zM44 33.6l.8-.5 .6 .5-.3 .8-1 .7-.6-.7zM9.2 36l1.8 0 .4 .8 .3 1.6-.8 .3-.9-.4-1.3-.9-.4-.6 .4-.6zM43.3 35.7l.3 .3 .1 .8-.3 .8-.1 1.5-.7 .5-.5-.5-.3-1 .3-1.3 .5-.6zM37.3 36.6l1.5-.1 .2 .3-1 1.4-.7-.6zM125.4 37.6l1.5-.3 .8 .3 .4 .7-.3 1.6-.9 1.6-.7 .6-1.5 .7-.8 .1-.7-.2-1.5-1.2 .7-.2 .8 0 .5-.6 .2-.8 0-.8 .8-.6zM74.6 38.3l1.9-.2 2.2 .2 1.5-.4 4.6-.3 1.5 .3 2.2 0 4.5 .3 3-.3 5.7 1.2 1 .8-.6 .4-2.3 .5-1.5-.5-.7 .1-1.6 .8-.7 .1-1.5-.4-1.5 0-2.3-.4-3 .6-3.8-.3-3 .7-.7-.2-.8-.6-.7 .1-.8 1-.7 .5-2.3 .7-.8-.2-.3-1.3 1.1-2.8zM16.8 39.1l.9-.5 .8 .2 1.7 1.9-1 .1-1.7-.1-2.1-.6-.2 .6-1.3 .3-.7-.1-.2-.2 .9-1 .8-.4 .7 .6 .8-.1zM50.6 39.1l1.2 0-.2 .3-.8 0zM40.3 40.6l.8 .3 .5 .6-.1 .8 .3 1.1 .8 .2 .5-.5 .1-.8-.5-.8 .6-.4 .8 0 1.2 .4-.2 .8-.8 .8-.1 .8-.9 .5-.7-.3-.8 0-1.5 .3-2.3-.8-3 .2-.7-.1-.7-.6 .7-.8 1.5-.9 1.5-.4 1.5 0zM58.8 41.5l1.1-.7 .7 .1 .3 .6-.3 .9-.7 .4-.8-.7zM129 41.5l.9-.2 .3 .2-.7 .8-.3 .1-.4-.1zM113.7 42.3l.4-.2 .8 .2 .1 .8-.9 .2-.2-.2zM133.4 43.1l.3-.2 .8 .2 .6 .8-.6 .7-.8 .3-.7-1zM4.5 43.9l.4-.2 .7 .1 .2 .1 0 .8-.9 .5-.5-.5zM53.4 43.9l.5-.3 1.4 1.1 .1 .8-.6 1.5 .6 2.7 .5 .5 1.6 .8 .4 .8-1 .8-1.5 .5-.8-.1-.7-.6-2.3 .3-.8-.1-2.2 .5-1.5-.7-.6-.6-.2-.9 2.3-.4 .7 .1 .8 .7 .7 0 0-1.1-1.5-1.6 2.2-2.3-.1-.8 .2-.3 .8-.3zM58.7 43.9l.4-.3 .8 .3-.8 .2zM18.5 44l.6 .7-.9 1.6-.5 1.5-.7 .6-1.3-.6-.8-.8 .5-.4 .8-.2zM46.9 44.7l.2-.2 .6 .2-.6 .4zM49.8 44.7l.3-.3 .7 0 .4 .3-.4 .3-.7-.1zM69.9 44.7l.5-.5 .8 0 .3 .5-.3 .5-.8-.1zM13.9 44.7l.4 .8-.4 .8-.1 .7-.6 .9-.8 .4-.7 .1-.8-.1-.7 1.1-.8 .3-1.3-.3 .6-.9 .7-.4 .8 0 .8-1.1zM117.9 46.5l.8 .1 1 .4-.3 .5-.8 .2-.7-.1-.4 .2-1.1 1-1.5 0-.4 .6-1.1 .5-.8-.2-.3-.3 .3-1.3 .8-.5 3-.3zM96.3 48.6l.5-.2 .8-.1 2.2 .4 .8 .7-.3 2.4-1.2 .4-2.3 1.2-.8-.2-.7-.6 .2-.8 2.3-.8 .4-.8-.6-.8zM3.8 49.4l.3-.4 1.5-.1 1.3 .5-.5 .4-.8 0-.7 0zM92.8 49.4l.7 0 .1 .8-.6 .3-.7-.3zM9.2 51.8l1-.3 .5 .3 .4 .8 .6 .3 1.5 .2 .5 1.1-.1 .7-.4 .3-.8 0-1.1-.3-1.1-.5-.8-.6-.2-.4-.3-.8zM42.6 52.6l.7-.3 .7 .3-1.1 3.1-.3 .6-3 .2-.8-.4-1.1-1.2-.2-.7 .5-.7 .8-.3 2.3 .7 .7 0 .4-.5zM115.9 54.2l.5-.3 .8 .3 .3 .7-.4 1.6-.7 .2-.5-.2-.6-.8 .1-.8zM6.6 54.9l.6-.1 2.2 .2 .8 .5 .1 1-2.4 1.4-1.5 .1-1.5-.8-.8 .2-.7-.2-1.7-1.5 .9-.3 2.3 .9 .4-.6zM32.8 54.9l.7-.4 .8-.1 .4 .5-.4 .8-.8 .1zM33.1 58.1l.4-.6 .8-.1 .9 .7-.6 .8-1.1 .2-.3-.2zM39.9 58.1l.4-.2 1.3 .2 .4 .8-.9 .8-.8-.2-.4-.6zM-.4 60l.8-.1 .7 .6 0 .8-.7 .4-.8 .1zM136 59.9l0 1.8-1.3 .4 1.3 .3 0 8.6-2.2-1.8-.3-.8-.5-.5-1.5-.1-2.3-.3-4.5 1.7-.5-.8-.3-.1-2.2-.2-1.2-.5-6.4-1-1.1-.6-.4-.6-.7-.1-.5 .7-.3 .2-.7 .4-.8 .1-1.5-.2-1.5-.8-2.3-.2-.7 .2-.3 .3-.5 1.5-.7 0-.8-.4-1.3-1.1 .9-.8 2.8-.8 1.4-.2 1.5 .1 1.5-.4 1.5 .2 2.3 1.1 .7-.4 .3-.4 .5-.2 1.5-.3 2.2-1.6 3.1 .4 2.2-.4 1.5 .1 2.3-.3 1.5 .3 1.2-.3 1-1.1 .8-.2 2.3 0zM38.8 61l.8 0 .7 .8 .2 .3-.1 .8-.4 .7 .9 .8 3.2 .7 .7-.6 .8-.2 .4 .9 1.5 .8 .4 .8-.8 .6-.8 .3-.7 0-2.3-1.1-2.2-.3-.8 0-3.8 1.1-1.5 .1-.7-.1-1.5-.8-.8 .1-.6 .9-.9 .5-2.3 .2-2.6 3.3-.2 .7 .6 .4 .7-1 .8-.2 .7 .1 .6 .7-.6 1-.7 .5-.8-.1-.2 .2 0 .8-.5 .4-.8 .2-.7-.5-1.5-1.9-.8-.4-.7-.2-.8 .8-3 1.7-1-.1-.2-.8 1.2-.6 .9-1 .4-.7-.5-.9-.8 .1-.8 .8-.7 .2-1.5 0-.4-.2-.1-.8 .5-1.3 .4-.3-1.1-.8-.8-.3-1.5 0-.2 1.1-.6 .5-.7 .4-1.5 .1-.4 2.1-1.9 2.6-.8-.6-.1-1.2-.4-.8 1.5-2.3-.4-.8-1.3-.2-.6 .2-.6 .8-.2 .8-1.6 .2-.8 .4-1.5-1 0-8.2 .8 .2 1.5-.5 .7 .1 .8 .2 1.5 .9 .7 .2 2.3 0 1.5 .4 2.3-.3 4.5 0 2.3-.3 3 .2 3-.3 .7 .2 .8 .6 .7 .2 .8 0 .9-.4 .6-.8 5.3-.1 .7-.7zM10.2 67.4l-.7 .2 1.4 .2 .4-.2zM21.5 67.5l-.8 .9 .9 .8 1.4 .7 .7 .1 .8-.3 .3-.5-.4-.8-.7-.5-1.5-.5zM69.4 62.9l.3-.4 .7-.2 .9 .6 .2 .7-.4 .8 .3 .8 .5 .6 .8-.2 .7-.4 1.6-.3 1.5 .2 1.5 .6 1.5 .2 .7-.1 2.3-.7 .7 .1 1.6 .9 1.5 .7 .1 .8-1.1 .8-1.3 .5-2.3-.2-1.5 .1-.6-.4-.9-1.6-.7-.4-2.3 0-2.3 1-1.5 1.4-.7 .1-2.3-.7-.7 .4-.8 1.6-.7 .9-2.3 .1-.7 .2-.8 0-.8-.9-1.7-1.3 .7-.8 1-.2 3.1-1.6 2.2 .2 .8-.1 .6-.7 .7-1.6zM89.5 65.2l1.3-.4 .7 .1 1.5 .5 1.5 .1 1.6 .5-.6 .8-1.7 .8 0 .2-.1 .6 1.3 .8 .3 .4 .7-.1 1.6-1.1 .7-.3 .8 .3 2.2 1.6 0 .8-1.5 .9-1.1 1.4-.3 .8 .7 .5 1.5-.4 .7 0 1 .7 .4 .8 0 .8-13.2 0 0-.8-1-.2-1.1 .2 0 .8-8.3 0 0-.8 1.1-1.3 .8-.1 2.1 .6 .9-.1 .8-.7 .2-.8 .1-.8-.3-.8 .7-.1 .8 .5 .7 .2 .8-.1 1.1-.4 .2-.8-.1-.8 .4-.8 .2-.8-1-.8-.5-.8zM94.5 70.5l0 .5 .8 .7 .3-.1 .5-.8-.1-.3-.7-.4zM52.4 67.4l.7 .1-.1 .9-.6 .7-.8 .2-.4-.1 .1-.8zM47.8 69.2l.8-.2 1.6 .2 .1 .8-1.7 .4-.8-.2-.2-.2zM36 71.6l.5-.4 .6 .4-.6 .6zM1.1 72.3l.9 .8-.1 .8-.3 .8 .6 .8 0 .8-2.6 0 0-2.1zM53 72.3l.9-.1 .7 .7 1 1-.1 .8-.9 .3-1.8-.3 .5-1.6zM130.5 72.3l1-.1 .6 .1 .1 4-3.7 0 0-.8 .7-2.1zM136 73.1l0 3.2-1.7 0 0-.8 .7-.8zM27 74.7l.5-.6 1.5 .2 1.5-.3 1.2 .7 .3 .8 0 .8-5.1 0zM58.1 74.7l.3-.5 .3 .5 .1 1.6-.5 0 0-.8zM12.7 75.5l.5 0 0 .8-.5 0zM45.5 75.5l.8 0 0 .8-.8 0zM122.4 75.3l.8-.1 .9 .3 0 .8-1.8 0z"/><path fill="#c2ddec" d="M21.3 13.8l.9-.6 .8 .6-.8 .8-.7 0zM75.7 15.6l3 .4 1.3 1 .5 .8 .2 .8-3.5 1.3-.7 .1-3.8-1.6-1.7 .2 .2-.8 .8-.8zM65.4 18.6l.5-.4 .8-.1 .6 .5-.6 .8-.8 0-.3 0zM45.8 21l.5-.5 .7 .5-.7 .2zM-.4 64.2l2.3 .8 1 .2-1 .3-1.2 .5-1.1 .1zM121.7 64.4l1.5-.3 2.2-.3 4.5 .5 2.3-.6 .8-.1 3 .8 0 1.7-4.5 .3-2.3-.7-2.3 .5-3.7-.1-2.3-.7-3 0-.4-.2 .4-.3 2.3 .2 .7-.2zM14.9 65.2l1.3-.2 3-.1 1.5 .2 1.5-.1 1.3 .2-1.3 .3-1.5-.1-3 .6-2.3-.4zM91.6 73.1l.7-.5 .5 .5-.4 .8 0 .8 .7 .8 0 .8-1.4 0 .2-1.6z"/><rect x="135.2" y="0" width="0.4" height="75.9" fill="#fff"/><use href="#cst"/></g><rect x="0" y="0" width="135.6" height="75.9" fill="none" stroke="#1a1a1a" stroke-width=".45"/><path d="M22.6 75.9 v2.1M45.2 75.9 v2.1M67.8 75.9 v2.1M90.4 75.9 v2.1M113.0 75.9 v2.1M0 12.7 h-2.1M0 25.3 h-2.1M0 38.0 h-2.1M0 50.6 h-2.1M0 63.2 h-2.1" stroke="#000" stroke-width=".5" fill="none"/></g><g transform="translate(31.9,113.5)"><g clip-path="url(#cp)"><rect width="135.6" height="75.9" fill="#fbccb4"/><path fill="#f6b394" d="M-.4 -.4l136.4 0 0 36.4-2.3 .3-.7-.1-.8-.4-.7-.5-2.7-2.5-1.1-1.8-.8-.1-.7-.4-6-.2-1.3 .1-1.8 .6-.7-.1-2.3-1.4-1.5-.4-.7-.1-.7 .6 .4 .8-.2 .8 .5 .8 .7 .3 1.5 1.1 2.3 .7 .7 1.1 .5 2.4 .3 .5 .4 .2 3.4 1.2 1 1.2 .1 .8-1.1 1.8-.7 2.2-1.2 1.5-3.4 1.7-5.3 0-.8-.1-1.1-3.1-1.9-1.4-1.5-1.9-1.5-1.2-4.5-.8-.8-.3-2.2-1.7-.8-.2-.7 .1-2.3 .9-.7 0-2.3-1.2-4.5-.9-2.3 .7-1.8 0-2-.8-.7-.8 .4-.8 1.9-1.1 .7 .1 3.1 1.6 .7 .1 .8-.2 .7-1.3 .7-.8 1 0 1.3 .4 .8-.2 .9-1 .6-1.6-2-1.6-.3-.7 .3-.8-.3-.8-.7-.2-1.5-.2-6.3 .4-1.4 .8-.2 .8 1.1 1.5-.3 .8-2 .5-.7 .4-1.5 1.7-.8 .6-5 2.4-3.3 1.3-5.3 1.6-5.2 .9-.8 .9-2.2 .7-1.5-.2-.8-.6-2.3-.7-.7 .1-1.5 .8-1.5 .5-3-.4-3-.7-.8-.4-3-2.2-3-.1-2.3-1.4-.7-.9-1-2.4-.6-3.2-.6-.8-2.4-1-1.1 .3-.8 3.1-.3 .6-3 1.6-.8 .8-2.1 3.3-1.7 1.9-.2 1.3 .2 1.6-.2 .8-.5 .6-2.3 1.6-2.2-.1-1.5 .3-.7 .7-.3 .8-.5 .8-.8-.4-1.4-2.7-.1-2.4-.8-1.9-1.6-2.1-.4-.8-.2-1.5-.8-.7-.5-.1-1 .1zM34.3 27.1l-4.1 1.8-.6 .7 .3 2.4 .4 1.6 1.7 1.3 1.5-.3 2.3 .3 .7-.3 .5-1-.1-1.6-.5-1.6 .1-1.5-.3-.8-.9-.8zM40.3 29.1l-.5 .5 0 .8 .9 1.6 .2 .8-.6 1.2-.7-.1-.8-.8-.8-.3-.4 .8 .6 .8 1.4 1 .7 .1 3.8-2.9 .3-.6 .4-1.6 .5-.8 .1-.7-.6-.6zM47.1 26.2l-.8 1.1 .8 .9 1.7-.9-.8-.8zM93.8 29.5l-.4 .1 .4 .7 .7-.4 0-.3zM100.4 27.3l.2 1 3-.3 .1-.7-.9-.3zM124.7 12.9l-1.5 .7-1 1-.2 .8 0 .8 .4 .8 .8 .7 1.5 .6 2.2 .1 1.5-.3 .8-.4 .9-.7 .4-.8 .1-.8-.3-.8-.7-.8-1.9-.8-1.5-.2zM49.3 42.7l.8-.2 .7 .2 .4 .4 .6 1.6 .6 .5 .7 0 .5-.5 .3-1.2 .4 2.8-.6 1.5-.5 .8-1.6 .6-1.5 0-2.8-.6-2.4-.8 0-.8 .7-.6 1.5-2.3 1.5-.6zM17.7 44.7l.8-.2 0 .3-.8 1.3-.2-.6z"/><path fill="#ec9374" d="M-.4 -.4l136.4 0 0 31.9-3-.7-2.3-.3-.8-1.1 0-.9 .7-2 .9-1 .8-2.2-.2-.8-.5-.8 0-1.5 .6-1 1.1-.6-.4-1.6-.7-.4-.5-1.2 .5-1.7-.6-.7-.9-.2-2.6-.5-1.9-.2-3 .3-2.1 .6-4.7 5.6-.8 .5-2.2 .2-.8 .6-2.7 1.1-1.8 1.3-.8 1-1.9 1.6-.3 .6-.8 .1-1.5-.4-2.2 0-.8 .3-1.2 1-.7 2.4-.3 .2-.8-.4-1-1.4-2-1.1-.8-.8-3-2.2-.7-.7-.8-.5-.7-.2-1.5 .1-3.8-.2-5.3 1.1-6.8 0-3.7 .7-3.8-1-5.3-1-1.5 0-1.5 .2-1.5 1.5-.7 .4-3.1 .7-.6-1-.9 0-.7-.9-.8-.4-1 1.3 0 1.6-.5 .8-.7 .1-3.8-1.1-3.8 .6-4.5-.2-3 .6-1.5 .5-1.5 .8-3 .4-.6 .7-.1 .8-.8 1.1-3 1.5-.8 .2-.8 0-.7-.4-1.5-1.5-.3 1.4-.5 .8-.7 .1-2.3 .2-3.7-.1-7.6-.8zM4.9 22.5l-.2 .8 .9 .8 1.6 .1 .9-.9-.9-.8-1.6 .2zM110.1 38.3l1.8-.6 .7 0 .8 .3 .7 .9 .6 1-.2 .8-1.1 .5-.8 0-2.2-.5-1-.8-.4-.8z"/><path fill="#dd7059" d="M-.4 -.4l136.4 0 0 11.4-3 1-4.6-.2-3-.3-3.7 .1-.8 .3-1.5 1.1-2.3 .3-1.5 1.5-.2 .6 0 .8 .2 1.6-.7 .4-.8 0-1.5-.6-.6 .2 0 .8-.9 .6-1.5 .4-2 1.4-1.8 1.5-3.7-.2-4.5 .5-1.6-.1-6-1.1-.9-.6-1.3-2.5-3-2.2-.6-1.7-4-1-.7 .1-.8 .6-2.2 .8-1.5 .3-.8-.8 .2-.8-1.1-.8-1.4-.6-3.2-.1-3.3 .7-1 .5-1.9 .3-1.9 2.3-.7 .6-.8 .1-.8-.6-.7-1.9-.7-.1-2.3 .4 .3 .8 0 .8 0 .8-.5 1.6 .4 .8-.9 .8-.8 .1 .2-1.7-.2-.2-.7 .2-1.6 1.1-1.5 .5-1.5 .9-2.2-.5-2.3 .8-3.7-.1-3.8-.5-3 .2-7.5 2.3-.9 .8-.9 1.6-1 .8-1 .4-.8-.1-.7-.4-.8 0 .3 .9 .5 .4 .7 .1 .5 .3-.1 .8-1.1 .7-2.3 .3-1.5-.3-.8-.6-1.5-1.8-.7 .1 .1 1.6-.1 .2-.8 .5-3 .3-3-.1-3-.6-1-.3-.9-.8-.4-1.6 .2-.8 .6-1.2 .7-.5 .8 .2 .7 .5 2.3 .6 .8 0 .7-.5 .8-.1 1.5 .2 1.5 .1 .7-.2 .8-.4 .3-1.1-.3-.7-2.3-.6-.7-.8-.8-.4-.7 .3-.8-.2-.7-.8-1.6-.9-3.7 .3-2.3 1.1 0-6.5 .8 1.2 .7 .6 .8-.4 .9-.9-.1-.8-.7-.8-.3-.7 .7-1.6-1.1 0-1.7 .6zM10.9 19.1l-.5 1.1 .5 .6 3.8-.2 .5-.4-1.3-1.3-.7 .1-1.5-.3zM18.5 19l-.3 .4 .1 .8 .4 1.5 .5 .6 .8 .1 .4-.7-.3-.7-.6-.8-.3-1.3zM133.7 12.9l.8 .2 1.5 2.2 0 5-1.5 .5-.8-.6 .8-.1 .5-.7 0-.8-.4-.8-.1-.8-.8-.8-1.3-.8 .6-.8zM76.8 17.8l1.9-.5 .9 .5-1.6 .7-.8 0z"/><path fill="#cc4c44" d="M-.4 -.4l136.4 0 0 10-3 1.2-1.5 .1-1.6 .4-1.5 .1-2.2-.6-3-.1-1.5 .1-.8 .3-1.5 1.4-.8 .2-1.5-.5-1 .1-1.5 1.5-.1 3.2-.4 .2-.7-.4-1.5 .1-.3 .1-1.2 1.5-2.3 .8-3 .5-6 .3-6.8-.3-2.3 .1-.7-.5-.8-1.5-.9-.9-.6-1.1-2.2-2.2-4.6-1-.7 .1-3 1.3-.8-.1-1.1-1-1.4-.7-.5-.6-.8-.2-3-.1-4.5 1.4-2.3 .4-1.5 2.1-.7 .6-.8 .1-.4-.6 0-1.6-.3-.5-4.5 .3-.6 .2-.6 .8 .4 .6 .8 .5 .1 .5-.1 .9-.8-.1-2.3 1.7-1.5 .4-7.5 0-6.8-.6-3 .3-3.8 .7-6.7 .1-.8-.4-.2-.6-.5-.5-.8-.2-.7 0-.8 .4-.8 .7-.7 0-1.5-1.1-.8-.3-.7 0-5.5-1.4-.7-.8 .9-.7 .8-1.7-.8-1.3-.7-.1-.6 .7-.2 1.1-.8 .7-.7 .1-.8-.6-1.3-.6-.4-.7 .2-.4 1.5-1.1 .7-.9-.6-.8-.8-.1-1.5 .2-2.3 .7zM3.8 15.4l.3-.1 .5 .1-.5 .5zM16.8 24.9l.9-.3 .3 .3-.2 .8 .3 1.6-.4 .4-1.2-.4-.8-.8 .1-.8z"/><path fill="#ba2832" d="M-.4 -.4l136.4 0 0 9-3 1-1.5 .3-.8 .3-.8 .7-.7 .1-1.5-.1-1.5-.9-2.3-.1-3 .5-1.5 1.5-.8 .3-3-.8-2 1.6-.2 .8 .6 1.6-.6 .8-2.3 .3-2.2 1-5.3 .7-10.6-.3-3 .1-1.5-1-1.1-1.6-1.9-1.8-2.3-.8-3-.5-.7 0-3 1.2-2.4-1.2-1.4-1.5-.8-.3-1.5 .4-1.5-.1-.7 .1-.9 .6-2.9 .9-2.3 .3-.5 .3-1 1.5-.7 .6-.8-.5 .3-.8 .8-.8 0-.7-1.1-.1-.7 .4-.8 .2-3.7 .3-1.4 .7-.6 .8 .4 1.6-.7 .7-.8 .1-3 .1-6-.3-5.3-.5-3.7 .1-5.3 .5-6.8-.3-4.5-.9-6-1.8-.1-.9-.7-.2-1.4-2.1-1.6 .1-.3-.1-.1-1.6-.4-.4-.7-.4-3 0-2.3 .6z"/><path fill="#9f1228" d="M-.4 -.4l136.4 0 0 8.2-3 .9-2.8 .4-1 .8-.8 .1-.7-.5-.8-.2-5.2 0-.7-.2-.3-.8-.5-.3-1.6-.4-.7 .1-.8 .6 .8 1.5 .9 .9-.2 .3-.7 .1-1.5-.4-.8-.4-.7 .1-.8 1.1-1.2 .8-.3 .5 .4 1.8-.1 .8-6.3 1.1-.7-.3-.8-1.6 0 1.5 .2 .1-1 .7-.7 .1-2.3 0-2.2-.3-6.1-1.5-4.5-.1-2.2-1.7-1.5-.7-4.6-1-.7 0-2.3 .8-1.5-.2-2.3-1.8-1.5-1.4-.7 0-.8 .9-2.2 .3-1.5 .8-3 .9-2.3 .1-.8-.4-.7-.1-.8 .1-1.5 .6-3.7 .2-1.5 .7-1.6 1-3 .1-3.7-.4-3.8 .2-4.5-.2-4.5 .2-4.6-.4-7.5-.2-3.8-.4-3-.6-2.2-1.1-.8-1-1.6-1.3-.4-.8-1-.4-1.5-.3-2.3-.1-3 .5z"/><path fill="#790622" d="M-.4 -.4l136.4 0 0 7.5-3.8 .8-3.8 .2-1.5 .4-1.5 .1-2.2-.4-3-1.6-1.6-.2-1.5 .2-3.1 1.7-.8 2.4-1.7 1.6 .4 .4 .3 1.1-.3 .9-4.8 .7-.5-.2-.8-1.7-.7-.4-1.7 .7 .7 .8 .1 .8-.6 .5-1.5 .1-2.3-.4-2.2-.8-4.6-3.3-1.5-.6-3.7-.5-5.3 .1-3.8-.5-3 0-.7-.2-.5-.7 .3-.8-2.1-.3-2.3 0-2.2 .3-.8 .4-.4 1.2-1.1 .3-3 .4-3.8 0-4.5 .7-3.8 0-3 .3-3.7-.2-3.8 .3-3-.3-6 .1-9.1-.9-3 .3-2.2-.2 .7-.4 .2-.4 .6-.3 1.5-.2 1.5 .2 .7-.2 .8-.7 1.5 .1 .3-.5-1.1-.2-1.5 .2-.7 .5-.8 .1-3-.6-3.6 0-.9 .8-1.5 .5-1.1-.5-.8-.8-1.1-.6-1.5-.5-3.8-.3-3.8 .3zM80.5 8.3l3.5 .4 1.3-.4z"/><path fill="#67001f" d="M-.4 -.4l136.4 0 0 6.8-3.8 .6-3.8 .2-2.2 .6-1.6-.3-4.4-1.8-1.6-.2-1.5 .2-3.7 1.3-1.7 1.3 .7 1.6-.3 .8-1 1.1-1.5 .1-.4 .4 .4 1.5-1.5 .6-.8 0-1.5-1.9-4.5-.3-.7 .8 .2 .8 .5 .8 .8 0-1.5 .1-1.5-.5-1.7-1.2-1.9-2.3-.8-1.6-.9-.7-2.3-.9-2.2 .1-1.5-.5-14.4-.1-5.2 .2-8.3 .1-3 .2-1.5 .5-2.3 .2-3.8-.7-2.2 .7-16.6-.5-2.3-.5-.7 0-.8 .2-2.2-.4-3.8 .7-2.2-.4-7.6-.2-6.8-.9-4.5 .3z"/><path fill="#fce2d2" d="M124.3 14.6l1.1-.6 1.5 0 1.2 .6 .2 .8-.6 .9-.8 .3-1.5 0-.9-.4-.5-.8zM33.7 28.9l.6-.4 .5 .4 .2 .7-.7 .8-.8-.3-.3-.5zM92.3 44.5l1.5 .2 4.5 1.5 4.5 1.2 3.8 1.5 .7 .5 .6 1.6 .2 .8 0 3.1 .3 .8 .5 1.2 .7 .3 .8-.5 1.5-1.9 1.5-.9 .7-.8 1.5-.5 2.3-1.8 .7-.2 3.1 .1 1.5 .4 2.2 .9 3.8 .2 1.5 .3 .8 .4 1.5 1.5 .7 .5 2.3 .2 0 21.2-90.4 0 0-.8-.8-1.1-.7-.4-5.3-1.1-3 .4-1.5-.1-2.3-.8-1.5-.2-3.4 .9-2.6 .5-.8 .3-.7 .4-.8 .9-.2 .3 0 .8-22.4 0 0-21.2 1.5 .1 3.8 1.1 1.5 .2 1.7-.8 .5-.8-.4-.7 .5-.4 1.5-.2 1.5-.8 2.2-2.4 2.3 0 3-.9 1.5-.2 8.3 .7 3.8-.7 3.6 .1 3.2-.9 1.5 .1 .7 .5 .8 1 .7 1.7 .8 .7 2.2-.3 1.5-.5 1.5 0 .8 .2 1.5 1 1.5 1.2 2.3 .9 1.5-1.6 2-3.2 .2-.8 2.3-1.4 1.5-.4 2.3-1 3-.3 .7 .3 1.7 2 .6 .4 1.5 .2 3.8-.8 8.3-3.2zM109.2 66l-.6 .8 1.8 .5 1.5 .1 3-.4 .4-.2 .2-.8-.6-.3-1.5-.2zM65.2 52.4l-.6 1-.2 1-.6 .5-.4 .8-.1 .8 .4 .4 .7 0 2.9-2 .2-.7-.3-.8-1.3-1.1z"/><path fill="#f9f0eb" d="M86.1 48.6l2.4-.3 4.5-.1 1.5 .4 1.4 .8 .8 .8 .2 .8-.5 .8-1.1 .6-2.3 .3-3 .7-7.5 0-.8-.2-.9-.6 .2-.8 1.7-1.6 1.3-.8zM79.5 57.5l1.5-.2 3.8 1.1 4.5 .1 3 .5 4.5-1 2.3 0 1.3 .9 0 1.6 1.4 1.6 .1 .8-1.1 .7-3.2 .7-.8 .4-2.3 1.9-.7 .3-3 .1-3 .3-1.5-.2-2.3-.7-1.5-.2-6-.1-3.1-.5-1.3-.4-.9-.4-1.3-1.2-.2-.7 .6-.8 2.4-2.2 1.5-.8 2.3-.4zM37.5 58.9l.5-.1 1.7 .1-1.7 .2zM47.8 58.9l2.2 0 3.9 1.8 7.4 1.4 1.5 .8 1.1 .7 .6 .8-.2 .8-.8 .8-1.4 .8-1.5 .2-3-.7-3.8-.3-1.4-.4-.8-.4 0-1.6-1.5-1.5-.5-.8-2.5-1.6zM28.2 59.7l.8-.3 1.5 .3 0 .8-.7 .2-1.6-.2zM-.4 61.5l1.5-.2 1.5 .1 2 .7 .6 .8-.3 .7-.8 .8-1.5 .6-.7 0-1.3-.6-1-.8zM133.6 62.1l.9-.4 1.5-.3 0 2.8-1.9-1.3zM122.7 68.4l.5-.4 .7-.2 .8 .6-.8 .3-.7 0z"/><path fill="#edf2f5" d="M78.9 62.1l2.1-.5 2.2 0 2 .5 .9 .8-1.4 .7-2.2 .2-2.4-.2-2.3-.7z"/><rect x="135.2" y="0" width="0.4" height="75.9" fill="#fff"/><use href="#cst"/></g><rect x="0" y="0" width="135.6" height="75.9" fill="none" stroke="#1a1a1a" stroke-width=".45"/><path d="M22.6 75.9 v2.1M45.2 75.9 v2.1M67.8 75.9 v2.1M90.4 75.9 v2.1M113.0 75.9 v2.1M0 12.7 h-2.1M0 25.3 h-2.1M0 38.0 h-2.1M0 50.6 h-2.1M0 63.2 h-2.1" stroke="#000" stroke-width=".5" fill="none"/></g><g transform="translate(195,113.5)"><g clip-path="url(#cp)"><rect width="135.6" height="75.9" fill="#fbccb4"/><path fill="#f6b394" d="M-.4 -.4l136.4 0 0 34.9-1.5-.4-.8 0-1.5 .6-1.6-1.1-1.4-1.4-.3-1 .4-1.6-.2-.7 .1-1.8-.8-.9-.7-.5-.8-.1-3 .6-1.5-1-.7-.3-1.5 .4-1.6 1.2-.7 0-1.5-.8-.8 .5-.4 1.1 .4 .8-.7 .1-.8-.6-2.2-.8-1.3-1.1-1-.4-1.5 0-1.4 .4-1.6 2-.3-.4-1.2-.9-2.3-.1-1.2 .2-.5 .8-.2 .8 .4 1.5 .8 .3 1.5-.6 .4 .3 .3 1.9 .8 .8 .7 1.5 .8 .5 .7 0 1.8-.7 .5-.8 .8-.6 .7 .3 .8 .5 5.2 2.1 .8 .9 .7 2 .8 .9 1.5 .7 1.5 .1 1.3 1 .1 .8-2.3 1.6 .1 1.6-.7 .3-.8-.2-2.2 .2-.5 .5-.5 2.3-.5 .8-.8 .2-3-1.5-.7-1-1.8-1.6-.4-.8 0-.8-.4-.8-1.2-.7-.9-.9-1.1-2.4 .9-2.3-.4-1.3-.8-.1-.3-.2-1.2-1.6-.7-.4-.8-.2-1.5-.9-2.2-.5-.8-.4-.8-.8-.9-1.5-2.1-1.2-1.8-2-1.9-1.1-.8-.1-1.5 .3-6 .3-1.5 .4-1.5 1.2-.8 .3-2.2-.2-2.3 .9-1.5-.1-1.5 .3-3 0-1.5-.5-.8 .1-1.5 .5-.6-.7-.3-.8-1.4-1-1.5 .1-2.2 1.1-.8 .1-.7-1.6-.4-.3-1.1 0-1.8 .8-.5 .4-2.3 .4-2.2-1.7-.8 .4-.2 1.3-.5 1-3.8 1.9-1.5 .4-.7 .1-.7-.2-3.1-2.1-2.3 .7-.7-.2-.8-.8-1.5-.5-1.5 .2-.3 .3-.4 1.6-.8 .4-2.3-.8-1.9 .4-.5 1.5-.6 .8-.7 .6-.8 .2-2.2 1.2-1.3 .4 1 1.6 .1 .8-.6 1.2-.8 .6-.7 .4-.5-.6 .2-1.6-.5-.9-.7-.3-2.3 0-.6 .4 .1 .8 .9 .8 .4 .8 .1 .8 .5 .7-.2 .8-.4 .4-.8-.8-.7-.2-.8 .2-3.9 2.8-.6 .9-.8-.3-.8-2.2-.7-.5-.7-1.1 .4-2.3-1.2-.7-3-1.1zM6.4 35.2l-.9 .8 2.4 .8 .8 .1 .9-.1 .1-.8-.3-.3-.7-.3zM126.9 12.2l-4.5 .2-.7 .2-.8 .4-.2 .8 .2 2.4 .3 .8 .8 .8 1.2 .6 1.5 .3 3-.2 .7-.1 .8-.4 1.5-1.1 .4-.7 .2-1.6-.1-.8-.7-.8-1.3-.5zM113.4 42.8l-.4 .3 .4 .4 .7 .2 .5-.6-.5-.5zM62.1 27.6l.8 .4 .3 .9 .7 .7 .3 .8-.6 .8-.2 .8 1 .7 1.5 .3 1.3 1.4-.5 1.1-.5 .5-2.5 2-.8 .2-2.3-.3-3 .3-2.2 0-.8-.2-.4-.4 .1-.8-.4-.6-1.2 .6-1.1 .1-1.5-.5-.8 0-2.3 1.9-.1 .8-.6 .8-.7 .3-.8 0-.7-.4-2.3-.4-1.1-1.1 0-.7 .4-.4 .7-.8 1.9-1.2 .4-.5 .7 .5 .8-.5 .1-1.1 .6-.8 2.3 .4 1.3-.4 4-2.1 3-.2 .7-.2 .6-.7 1.3-.7zM54.5 36l.9 .3 .8-.3-.8-.2zM59.1 31.1l-.5 .1-.2 .4-.1 2 .1 .2 .7 .3 .8-.6 .2-1.5-.2-.5zM66.7 27.8l.7 .9 .6 .2-.6 .3-.3 .4 .3 .8 .6-.8 .2-.7 .7-.7 .8-.6 .7 .3 1.3 1 .6 .7-1.2 1.6 .7 .8 1.6 .5 .8 1.1-.8 .8-1.5-.1-1.5 .2-.7-.1-.8-.3-.4-.5-.3-1.6-.8-.4-.7 .1-.9-.5 .5-.8-.6-1.5zM105.8 28.9l.8 0 .7 .4 1.6-.3 .8 .6-.3 .8-.5 .6-.8 .1-.8-.3-.7 .1-.4-.5 .1-.8zM36.3 29.6l1-.2 .5 .2-.2 .8-.3 .2-1.1-.2zM45.2 30.4l.4-.4 .7 .4 .1 .8-.8 1.2-.5-1.2zM37.5 36l.5-.3 .9 1.9 1.5 1.5-.3 .8-.5 .3-1.5-1.1-.5-.8 0-.7-.4-.8zM98 36.8l1.1-.6 .7 .3 .1 1.1-1.2 0zM52.6 39.1l.5-.2 .8 0 .7 .5 .9 1.3 .1 .8-1.7 .1-1.4-.9-.5-.8zM13.2 40.7l.7-.3 .8 1.9-.8 .2-.2-.2-.6-.8zM5.6 44.5l.3 .2 .1 .8-.4 .1-.7-.1zM47.4 44.7l.7 0 4.2 1.6 .3 .7-1 .6-.8 .2-1.6-.8-.6-.4-1.5-.4-.8-.7zM44.1 46.9l.9 .1 .9 1.6 0 .8-1.1 .5-.7 0-.8-.6-.3-.7 0-.8 .3-.5zM110 49.4l1.1-.2 .5 .2 .3 .8-.7 .8-.9 0-.7-.4-.2-.4 .2-.5zM113.9 66l1-.1 .8 .1 1.1 .8 .4 .8-1.6 .4-3-.1-.8 .5-.7 .1-.8-.1-.9-.8 1-.8 1.5 .2zM35 75.5l.8-.4 1.5 .1 .4 .3 0 .8-2.7 0z"/><path fill="#ec9374" d="M-.4 -.4l136.4 0 0 10.3-3 1.9-5.3-.2-5.3-.7-.7 .1-.8 .3-1.5 1.6-1.5 .3-.8 .5-1 1.7-.1 2.4-.4 .3-.7 .4-1.5 .1-1.5 1.1-1.5 .2-2 1.1-1 .7-.8 1.3-.8 .2-1.5 1.7-1.4 0-.8-.4-.8-.1-2.2 .6-.8-.4-.7-.9-.8-.3-.8 0-.6 .7 .3 1.6-.9 0-.9-.8-.5-1.6-2.6-.8-1.5-.9-1.5-1.7-.8-.2-2.2 .1-3.1 .8-3-.5-.7 .2-1.5 1.1-1.5 .3-3.1-.9-3-.4-2.2-.8-1.5 .6-.8 .1-2.2-.9-1-.8 .2-.8 .7-.7 1.6-.1 .7-.3 .6-.5 0-.8 .2-.3 1.5 1 .7 .3 .8-.1 1.5-.8 1.5-.2 2.2-1.1 .4-.4-1-.8-.9-.4-1.2-.3-1.8-.1-1.5 .6-1.4 .2-.8 .7-2.3 .3-1.5 1.8-1.5 1.1-.8 .3-.7-.3-.8-1-.7 .5-1.5 .6-.4 .8-.2 1.6-1.2 1.6-.5 1.5-1.5 .8-.2-.8 .8-.8 .4-.7-.1-1.6-.1-.1-3.8 1.7-.8 1-2.2-.9-3.8 .9-3-.6-1.3 .3-1 1.1-.7 0-.8-.2-.7-.9-.8-.3-.7 0-2.3 1.1-1.5-.3-.8 .1-1.5 .6-.9 1.2-.3 1.6-.3 .3-.5 .5-2.7 .8-.1 1.6-.4 .7-2.3 1.1-.7 .2-1.6-.1-.7-.4-1.5-1.6-.8 0-.2 .8-.5 .9-1.5 .4-5.3-.1-2.3-.6-1.5 1-.7 .2-.5-.2-1-1.1-.8-.3 0-6.5 3-.7 .8 0 1.2 1.5 1.8 .8 .8 0 1.5-.7 2.2 .3 1.5-.1 .6-.3 .1-.8-.7-.4-1.5-.2-1.5-1.1-.7 .5-.8-.3-.7-.7-1.6 .5-.7-.9-.8-.1-.7 .8-.8-1.1-.7-.1-1.6 .8-.7 .5 0-7.7 .8 1.1 .7 .5 1.5-.7 .2-.9-.7-.8-.1-.7 .6-1 1.5-.6 .9-.8-.2-.8-2.2-.3-.9 .3-2.1 1.3zM11.7 19.3l-.2 .9 .2 0 .1 0 .3-.8zM133.7 12.8l.8 .2 1.5 1.9 0 6-2.2 1.6 1.3 .8 .9-.1 0 6.9-.8-.3-.7-.1-.8 .1-.7 .5-.8-.2-.3-.5 .3-.7 .9 0 .5-.8-.6-.7-.8 .1-.7 1-.8-.4 2.9-5.6-1.4-.6-.3-.9 .1-.8 .2-.2 1.7-.6 .4-.8-.4-.8-.2-1-1.5-1.4zM44.1 22.5l.7-.2 .3 .2-.3 1.4-.7 .3-.4-.1-.2-.8zM109.9 39.9l.5-.5 1.5-.2 .7 .2 1.1 .5-.6 .8-1.2 .2-1.5-.2z"/><path fill="#dd7059" d="M-.4 -.4l136.4 0 0 8.7-3 1.5-1.5 .4-1.6 .7-.7 0-1.5 0-1.5-.6-5.3-.8-1.2 2-.8 .8-2.5-.5-.7 .5-.9 1.5-.2 .8 .3 2.4-.8 .6-1-.6-1.2 0-.8 .8-.3 .8-1.9 .3-1.6 0-2.2 .6-1.5 .8-.8-.1-1.5-.7-2.2 .4-2.3-1.1-2.3 .6-2.2 0-2.3 .9-.7-.5-.3-1.2-.5-.8-.8-.8-.7-1.1-.7-.6-.8-1.1-.7-.6-1.6-.5-3-.5-1.5 .3-2.2 1.3-.8-.1-1-1.1-1.3-.7-.7-1-.8-.3-1.5 .1-1.5-.1-.7 .1-.8 .5-3 1.1-2.3 .4-.9 1.5-.6 .6-.7 .5-.8 0-.5-1.1 .1-.8 .7-.8-.3-.3-1.5 .5-3 0-.7 .1-1 .5-.5 .8 .7 .7 .8 .3 .2 .6-.2 .9-.8-.1-1.7 1.6-1.3 .7-2.3 .4-.7 0-1.5-1.1-.8-.3-2.1 1.1-1.6 .3-.8-.1-1.5-1.1-2.3-.5-1.5-.5-.7 0-2 1.9-1 .1-5.3-.8-2.3-.9-.7 0-1.5 .5-2.3-.4-.7 .1-1.4 1.4-.2 1.3-.2-1.3-1.3-1.2-.7-.3-1.5 .1-1.5-.5-1.5 .9-.8-.1-.7-.4-4.6-.5-.7 .3-1.8 1.7-1.2 .2-.3-.2-.3-1.6 .6-.8 1.5-.8 .7-.2 1.5 .2 2.3-1 .8-.2 1.4-1.2 .3-.8-.5-.7 0-.8 .2-.8-1.1-1.6-.8-.8-1.8-.3-2.3-.2-1.5 .2-1.5 .7zM118.3 8.3l.4 .5 .7 .2 .8-.3 .1-.4-.9-.2zM5.6 11.3l.8 .2 .1 1.5-.3 .8-.6 .4-.7-.1-.8-.8-.7-.2-.4-.8zM134.3 14.6l.2-.4 .1 .4-.1 .6zM136 17l0 2.6-.3-.2-.3-1.6zM16.9 22.5l.8-.3 .1 .3-.1 .7zM14.7 24.6l.7 0 .8 .4 .7 .2 1.2-.3 1.1-.7 .8 0 .9 .7-.1 .8-.8-.1-.8-.5-.7-.1-.4 .7 1 2.4-.4 .8-1 .2-.8-.2-2.4-1.6-1-1.6zM8.8 25.7l1.4-.1 1.7 .1 .5 .9-.2 .7-.5 .5-3 .5-2.3-.8-1.5 .2-1.5-.4-1.5 .2-.6-.2 .1-.8 .5-.2 1.5 .1 3.8-.1z"/><path fill="#cc4c44" d="M-.4 -.4l136.4 0 0 7.8-3 1-5.3 1-2.3-.3-2.2-.6-1.5-1-1.9-.8-1.2-.2-1.1 .2-2.1 1.6 .1 .8-.7 2.4-1.2 1.5-.2 .7 .5 1.7-.4 .8-2.4 .1-2.2 .8-3.8 .5-1.5-.1-3 .2-.8-.1-1.5-.6-1.5-.2-3 .6-4.5-.9-.8-.3-.7-1-2.3-2-1.5-.7-1.8-.2-1.2-.5-1.5 0-1.5 .5-1.5 .8-1.7-.8-.7-.8-.9-1.6 0-.8-1.3-.5-1.5 .1-1 .4-.9 .8-1.1 .4-1.8 1.2-1.9 .7-1.6 .1-.7 .4-.1-.4-.7-.7-.7-.3-.8 .2-.7 .8-.8 .2-2.2-.1-1.5 .1-2.8 1.3-.1 .8 .6 .8 .2 .8-.2 .1-1.5-.9-3.8-.5-2.2 .2-1.5 1-1.3-.7-3.3-2.9-2.2 .9-.8-.1-1.5 .3-.7-.1-3-.9-1.6 0-1.5 .8-2.2 0-.8 .3-1.5 1.3-.7 0-.8-.5-.7-.1-.5 1-.3 .3-.7 .3-.8 0-.8-.3-1.5-1.3-3.6-1.4-1.6-1.4-.1-.1 .3-.8-.4-.8-1.2-1.6-.9-.6-1.5-.4-1.5-.2-3.8 .1-1.5 .4zM13.9 9.8l-.7 .1-1.5 .8 .7 .8 .8 .1 1.1-.1 .4-.3 .3-.5-.3-.6zM60.6 13l.3 0-.3 1.3-.7 .5-.3-.2 .1-.8z"/><path fill="#ba2832" d="M-.4 -.4l136.4 0 0 6.9-3 .8-4.6 .3-2.2 .5-2.3-.5-1.5-.9-3-1-1.5-.1-1.7 .3-1.8 .8-1 .8-.3 .8 .4 2.4-.2 .8-.9 .8 0 2.3-.5 .6-2.3 .3-1.9 .7-1.1 .1-.4-.1-1.1-1.6-.2 .8-.6 .7-2.2 .2-5.3-1.5-.7-.5-2.2-2-.1-3.2-2.3-1.4-.7-.1-8.3 0-3-.2-4.5 .1-3.1-.1-4.5 .2-3-.1-9.8 .2-1.9 .6-.2 1.6-.1 .2-.8 .1-.8-.5-.8-1.4-1.4-.5-.8-.1-1.5 .4-3-.5-2.2 0-2.3 .2-1.5-.1-1.5 .2-2.3-.1-1.5 .5-.7 0-2.2-.8-.8-.1-4.6-.1-3 .7-4.5-.5-4.5 .1-6.1-1.3-4.5 .1-1.5 .3z"/><path fill="#9f1228" d="M-.4 -.4l136.4 0 0 6.1-6.1 .8-3.7 .1-1.5-.3-1.5-.6-4.5-.9-4.6 .5-4.2 2.2 .2 .8 1 .6 .9 1-.1 .8-.8 1-1.5 .3-.2 .3 .3 1.5-2.4 1.1-.7-.6-.2-.5-.6-.8-.7-.2-1.5 .1-2.3-.3-.4 .4 .4 1 1.5 .3 .5 .3-.5 .4-.7 .1-1.5-.5-1.5-.8-2.1-1.5-.5-1.6 .1-.8 1.5-.8 .2-.8-1.5-1-.8-.2-.7 .4-.8 0-1.3-.8-1.7-.4-9 .1-5.3-.3-7.5 .1-2.3 .2-10.5 0-3 .3-12.8-.6-2.3 .3-2.3-.4-2.2 .3-2.3-.3-6.8 .1-4.5 .6-5.3-.4-3.7 .1-6.1-1-6 .4z"/><path fill="#790622" d="M-.4 -.4l136.4 0 0 5.3-7.6 .5-3-.2-2.2-.5-5.3-.7-3.8 .2-3 1-2.2-.1-1.6 .4-.9 .4-.3 .8 .7 .8 .1 .8 .4 .6 1.7 .2 1.4 .8 0 .8-3.1 .3-.7 .5 .7 .1 .9 .7 0 .7-.9 .4-.7-.7-.2-.4 .2-.8-.8-.2-.7 .5-.8 .2-2.2-.4-1.5 .3-.8 .4-.7-.4-.3-.4-.1-.8 .3-.8 .8-1.2 .8-.4 .7-.1 .4-.7 0-.8-.4-.4-2.2 .3-.8-.4-.7-.8-.8-.4-2.3-.1-20.3 .2-9-.1-3.1 .2-5.2 0-3 .4-1.5-.3-10.6-.5-2.2 .1-2.3-.4-3 .3-3-.1-2.3 .2-9 .3-9.1-.1-4.5-.7-3.8 .4-3 .1z"/><path fill="#67001f" d="M-.4 -.4l136.4 0 0 4.4-2.3-.1-4.5 .3-3.8-.1-6-1-3-.1-3.8 .2-3.7 .7-1.6 0-2.2-.4-4.5 .7-2.3-.6-3.8-.3-3 .3-9.8 .4-3-.2-2.2 .2-6.8 0-4.5-.3-6.8 .4-6 .1-6.1-.3-9-.8-3 .3-3.8-.1-2.3 .3-4.5 .1-2.2-.2-9.8 .3-5.3-.4-6 .6-.8-.1zM100.4 9.9l.9-.4 2.3 .1 .7 .2 .4 .9-.4 .3-1.5-.2-2.2 .1-.3-.2z"/><path fill="#fce2d2" d="M123.7 13.8l1.7-.5 2.3 0 1 .5 .5 .8 0 .8-.7 .8-.8 .4-1.5 .3-1.5-.1-1.1-.6-.4-.8 0-.8zM70 43.9l1.2-.2 1.5 .1 1.5-.4 .8 .5 .4 .8-.1 .8-.3 .4-.8 .3-.8 0-1.5-1.3-1.2 2.1-.7 .8-.4 .8 0 .8-.5 .8-2.4 .4-2.3 1.4-.7-.3-1.6-1.4-.9-1.7 .5-.8 1.7-.8 1-1.7 .8-.5 .7 0 .8 .4 .7-.1zM85.3 43.9l1-.1 2.2 .7 3.8-.6 1.5 .2 2.2 .7 1.6-.9 .7-.2 .8 .1 .7 .4 .6 .5 0 .8-.2 .8 .4 .4 .6 .3 1.6 .4 1.9 1.2 1.9 .5 .4 .3 .4 1.6 .8 1.6 0 .8-.5 .8-.2 .7 .2 1.6-.3 1.6 .7 .9 1.5-.1 .8-.6 .1-.2 .1-1.6 1.3-1.7 2.6-1.4 1.1-.3 2.6-1.3 .7-.8 .4-1.6 .9-.6 .7-.2 1.7 .8 .1 1.6 1.2 1.5 .8 .2 1.5-.8 .7-.1 3 2.6 .8 .2 1.5-.4 .8 .2 .7 .8 2.3 .3 0 11.1-.8-.3-.7 .1-1.5 .8-1.5 .3-4.6-.3-3-.7-1.5-.7-2.9-.6-3.1-1-2.3-.3-2.2 .3-1.5-.1-3.1 .5-2.2-.1-.8 .4-1.5 1.1-.7 .1-2.3-.1-2.2 1.3-4.6 1.3-1.5-.2-2.2 .2-.3-.2-1.2-.3-3.8 0-3-.3-5.3-.9-2.3 .3-2.2 .5-3-.2-2.3-.6-2.2 .8-3.8-.3-1.5 0-1.2-.6-1.8-.2-1.5-.4-1 .6 1.6 1.6-.6 .8-.8 .2-1.2-.2-.7-1.6-2.5-1.6-1.6-1.9-.8-.4-.7 0-3.6 1.5 .3 .8-.5 .2-.5-1-1-.1-1.5 .3-1.5 0-3.8 1.3-2.2-.6-2.3 .5-.8-.5-.7-.2-.9 .9-1.4 .5-3.7 .1-1.5-.7-1.5-.4-1.6 .2-1.5 .6-2.2 .1-2.3-.7-.7-.1-3.8 .8-.9-.4-4.4 .1-1.5-.6 0-10.8 3.8-.2 .8 .4 .7 2.2 .7 .3 2.3-.7 3 0 .8-.2 .4-.8-.5-.8-.1-.8 .3-.7 .6-.6 .8-.2 .7 .2 3 1.4 .8 .1 .4-.2 .7-.7 1.4-3.2 .5-.5 .8-.2 1.5 .2 1.5-.1 1.5 .2 1.5-.2 1.5 .2 .8-.1 .7-.4 1.5-1.9 .8-.4 .7 0 .4 .8 0 .8 .4 .7 .7 .1 1.5-.7 .8 0 1.5 .3 1.5 .5 1.5 0 .8 .6 .2 .9 .5 .6 .8 .4 2.2-.4 1.5-.6 1.5-.2 .8 .2 1.5 1.1 2.1 2.8 .9 .6 .8 .1 .7-.5 .8-.2 .7 .8 1.5 .1 1.5 .8 1.5-.1 1.6 .6 .7-.1 2.3-1.6 .7-.3 1.5 .2 1.2-.4 .3-.8-.1-.7 .1-.3 .8-.6 2.3-.7 .3-.8-.1-1.6 .6-.8 .7-.4 1.5-.3 1.8-1.7 1.2-.4 1.5-.1 2.2-1.3zM14.5 47.8l.2-.5 .7 .4 0 .6-.7 .3zM58.8 51.8l.3-.4 .7 .4-.7 1-.6-.2zM56.6 54.9l.3-.2 .2 .2-.2 .8zM7.5 69.2l1.9-.5 .8 .3 1.6 2.6-.2 .7-.7 .4-.7-.2-.5-.9-2.4-1.6zM19.2 69l.8-.2 1.5-.2 1.5 .2 1.5 1.5 3 1 .2 .3 0 .7-.2 .8-.8 .7-1.4 .1-1.6-1.2-.7-.3-1.5 .4-.8-.1-1.5-.4-1.5 1.4-1.5 0-.8-.3-.1-.3 .2-.8 .7-1.1 .7-.7 1.8-.5zM84.9 69.2l.6-.4 .8 0 .5 .4 .2 .8-.5 1.6-.7 .7-.3 .9-.7-.6-.1-.3-1.5-1-.7 0-1.3 1 .1 .8 1.2 1.6 1.5 .2 .5 .6 0 .8-2.6 0-.2-1-1.7-.6-.8-.8 .3-1 .4-.6 .1-.7-.3-1.6 .5-.4 2.3 .4 .7-.4zM107.4 70l.7-.2 1 .2 .5 1 .8 .7 1.5 .1 1.5-.2 1.5 .3 2.2-.4 2.3 0 1.6-.7 .9-.8 2.8-.4 .7 .4 .2 1.6 1.6 .7-.3 .8-1 .8-.2 .8 .5 .2 .7 0 1.5-.6 2.3 .6 1-.2 .4-.8 .2-1.6 .7-.6 .7-.2 .8 .2 .8 .6 .7 2.1 0 1.9-39.8 0 0-.8 .5-1.6 1.6-1.2 .8-.4 .1 .8-.4 .8 .3 .2 1.4 .6 1.1 0-.8-1.6 .5-.8 .8-.5 2.2-.5 1.3 .3 .2 .6 .8 .1-.2-.7 .1-.8zM58.9 70.8l2.5-.7 .7 0 1.2 .7-.3 .8-.9 .9-.3 1.4 0 .8 1.9-.4 .5 .4 0 1.6-3.8 0 0-.8-1.2-1.6 .1-.8-.7-1.5zM72.3 70.8l.4-.4 .2 .4-.2 .5zM89.3 70.5l.7-.2 1.5 .3 1.5-.6 .8 .1 .2 .7 1.8 1.5-.4 .8-1.2 .8-.4 1.1-.6 .5 0 .8-6.2 0 0-.8 1.5-1.6 .1-.8-.1-.8zM90.8 72.1l-1.2 1 1.2 .7 .7 .1 .5-.8-.3-.8zM52.8 71.6l1.1-.2 .7 .3 1.5 1 1.5 .4 .2 .8-1.2 .8-.1 1.6-.8 0 0-.8-.4-.8-2.9-.2-2.3-1-.2-.4 .5-.8zM-.4 72.3l.8 2.1 .2-1.3 1.3-.7 .7 .1 .4 .6 0 .8-.6 1.6 0 .8-2.8 0zM6.4 72.3l.8-.3 .7-.1 .7 .4 .5 .8-.4 .8-.8 .3-.7-.5zM65.3 72.3l1.4-.2 3.7 .7 2.3-.4 .7 .7 .8 .5 2.3 .6 .7 .5 .4 .8 0 .8-10.9 0-.1-1.6-.7-1-.8-.6zM14.7 75.5l.7-.2 .2 .2 0 .8-.9 0zM45.1 75.5l.5-.3 3 .2 .2 .1 0 .8-3.7 0z"/><path fill="#f9f0eb" d="M92.3 48.1l.7-.1 .8 .2 .6 .4 .5 .8 0 .8-1.1 .8-2.3 .1-1.5 .3-4-.4-.2-.8 .2-.8 2.5-.1zM78.7 59.3l2.3-.3 5.3 .7 4.5-.6 .7 0 2.3 .6 2.2-.3 .9 .3 .7 .7 1.5 .1 .7 .2 .6 .6 .4 .8-1.4 .8-1.8 .6-3.1 .5-1.5 .6-3.7 .6-3 .1-9.1-.3-4.9-1.4-1.4-.7-.1-.8 .4-.4 3.8-1.5z"/><path fill="#edf2f5" d="M82.5 60.9l2.3 .1 3 .4 1.5 .7-.2 .8-2.1 .7-1.5 .2-3 0-4.5-.6-1.3-.3-.1-.8 .6-.3 .8-.3z"/><rect x="135.2" y="0" width="0.4" height="75.9" fill="#fff"/><use href="#cst"/></g><rect x="0" y="0" width="135.6" height="75.9" fill="none" stroke="#1a1a1a" stroke-width=".45"/><path d="M22.6 75.9 v2.1M45.2 75.9 v2.1M67.8 75.9 v2.1M90.4 75.9 v2.1M113.0 75.9 v2.1M0 12.7 h-2.1M0 25.3 h-2.1M0 38.0 h-2.1M0 50.6 h-2.1M0 63.2 h-2.1" stroke="#000" stroke-width=".5" fill="none"/></g><g transform="translate(358,113.5)"><g clip-path="url(#cp)"><rect width="135.6" height="75.9" fill="#f9f0eb"/><path fill="#fce2d2" d="M-.4 -.4l136.4 0 0 18.3-.8 .6-.7-.3-.9-1.2-1.6-.8-.5-.9-.8-.8-1.5 .1-2.3-.3-1.5-.5-5.2 2-1.5 .1-1.6 .5-.7 .5 .2 .9-.2 .8-.8 .6-.7-.1-1.5-1.2-.8-.1-.7 .9-1.5 .7-1.1 .8-2 1.9-1.5 2.4-.7 .1-.1-.5-.7-.7-.7-.4-.8 .3-.7 .6-.8 0-1.5-.3-.7 .2-1.5 1.7-.8 0-.8-.2-1.5-1.2-2.2 .7-.8-.2-3-2.5-1.5 .8-.7 .1-.8 0-1.1-.5-.3-.8 .1-1.5 .5-.8 .2-.8-.8-.8-.9-.2-.7 .1-.8 .4-1.1 1.3-.6 3.1-.5 .8-1.5-1.5-.8-.4-.7-1.3-.8-.6-.7-.1-1.6 .1-1.5 1.1-2.2 .7-1.5 .7-1.5 .2-.5 .3-.5 .8-.5 .3-1.5-.1-1.6-.7-.7 .4-.8 .6-.7 .3-2.3-.1-1.5-.3-.5-.4-.5-.8-1.2-.3-.8-.5-.7-.1-.8 .2-.8 .9-2.2 1.3-.8-.2-.4-.5-.3-1.6-.8-.3-.7 .2-2.3 1.9-1.5 .6-.7 .8-3 .8-1.6 .7-.7-.1-1.5-.4-2.2 .6-.6 .8-.4 1.6 .3 .7-.1 .3-.8 .2-.2 .3-1.3 .4-.6-.4 .6-.8 1.2-.7-.4-.2-.4-.6-1.2-1.1-1.5-.4-.4 .7 .6 1.6-.2 .1-1-.1-2-1.5-.4-.1 2.6-.8-.5-.8-.9-.2-.9 .2-.6 .8-.2 .8-.6 .3-.2 .5-2 1.4-.8-.2-1.5-1.2-.8 .6-.4 .9 .2 .8 .9 .8-.7 .6-.7-.1-.8-.7-.7 .6-1.5 .7-.8 0-.7-.3-.8 .4-2.2-.2-3 .8-1.6-1.3-1.4-2.8 .7-.9 1.5-.2 .9-.5 .6-.8-1.5-.8-1.5-.3-1-.5-.5-.7-2.3-.5 0-3.6 1.9 .9 .4 .6 .7 .5 1.5 .5 .8 .8 1.1 .7 1.2 0 .7-.6 .8 0 .3 .6 1.2 .9 .3-.9-.3-.5-2.3-.5-.7-.4-1.6 .2-.3-.4 .5-.8-3.2-3.1-.7-1.8-.8 0-.6 1-.9 .7zM6.4 16.7l-.5 .3 .5 .4 .8 0 .5-.4-.5-.5zM13.4 26.5l-.7 .8 .7 .8 .5 .3 1.9-1.1-1.1-1.1zM59.1 19.3l-.9 .9-.1 1.5 .3 .6 .7 .5 2.3-1.1 0-.7-.8-1.4-.7-.3zM64.4 17.4l-1.5 .4-1.1 .8 .7 .8 1.3 .8 .3 .8 1.1 .3 .2-.3-.4-.8 .3-.8 1.3-1.6 .2-.8-.9-.4zM6.4 29.3l-.5 .3 .5 .9 1.1-.1 1.7-.8-1.3-.6zM133.4 19.4l1.1 0 1.5 1.1 0 3.4-1.5-.3-.8 0-.3-.3 .3-1.6-.1-.7-.8-.8 .2-.6zM126.8 22.5l1 0 1.4 1.6-1.4 1.6-.1 1.2-.8 .7-1.3-.3-.5-.8-.4-.3-.8 .2-.5 .9 .8 .8 .2 .8-.5 .7-.7-.1-1.1-.6 .1-.8-.5-.7-1.5-.5-.5-.4-.2-.8 1.4-1 1.4-.6 .9-1 .7-.3 1.5 .4 .8-.2zM53.2 24.1l1.4-.2 .7 .2-.7 1.3-.7 .6-.8-.3-.4-.8zM80.2 23.9l.8 1-.8 1.2-.7 .2-.4-.6 .1-.8 .3-.5zM59.9 24.1l.6 .8 .2 .8-.8 .8-.8 0-.1-.8zM92.3 25.4l.1 .3 .6 .2 .8 .6 0 .4-.8 .2-1.4-.6zM115.6 25.7l.8-.7 .7 .4 .2 .3-.2 .2-.7 .3zM132.2 26.5l.8 .1 .7 .5 .2 1-.9 .3-1-.3-.2-.8zM45.3 28.1l.3-.4 .2 .4-.2 .2zM49.4 29.6l.7-.4 .7-.1 1.6 .6 .6 .7-.3 .8-.3 .3-.8 .3-.8 0-.6-.6zM129.1 29.6l.8-.6 .6 .6 .2 .8 1.9 1.6-.4 .7-.7 .2-.8-.1-.8-.6-.4-1.8zM102.1 30.7l.7-.1 .8 .3 .7 .6 .5 .5 0 1.6 .4 .8-.9 .1-.8-.9-1.6-.8-.2-.8zM18.3 32.8l.9-.5 .8 .1 .4 .4 0 .8-.4 .8-.8 .2-.8-.2-.6-.8zM11.6 33.6l.8-.2 2.3 .4 .7 .4 .5 1 .6 3.1-.4 .8-1.4 1.4-.8-.6-.7-1.7-1 .1 .7 .8 .3 .8-.5 1.6 .2 .8 1 1.6-1.5 1-.4 .6-.1 .8 .5 1.5-.7 .8-.8 0-.7-.7-.2-.9 .1-.7 1.2-2.4 .2-.8-.4-.8-.9-.1-1.5 .7-.8 0-.8-.6 0-.8 2.2-1.6 1.6-1.5 .3-.1 .2-.7-.5-.7-1.5 .4-6-.7-.7-.6-.2-.8 .1-.3 1.5 0 2.3-.5 1.5 .5 1.5 0 1.4 1.1 .1 .5 .2-.5 0-1.6zM98.8 33.6l.3-.5 .7-.3 .8 .2 .7 .6-.7 .2zM106.9 33.6l.4-.2 1.6 .2 .6 .8-.6 .2-1.5-.2zM133.9 34.4l.6-.1 .5 .1-.5 .8zM44.1 35.8l.7 2 .6 .5-2.1 1-.7-.1-.2-.9 .9-1.9zM112.2 36l.4-.5 .5 .5-.5 .5zM101.3 36.8l.8-.2 1.5 .2 .1 .8-.7 1.5-.4 1.6-.5 .5-.8 0-1-1.3 .7-1.6zM48.4 37.6l1.7-.1 2.3 1 1 .6 0 .8-.3 .4-.7 .2-2.3-.6-1.6-.8-.5-.8zM104.2 39.9l.1-.5 .8-.2 1.1 .7 .3 .8-.7 .5zM106.9 41.5l.4-.5 .8 .2 .2 .3-.3 1.6-.7 .5-.7-.2-.5-.3-.1-.8 .6-.8zM114.1 41.5l.8-.2 .9 .2 0 .8-1.7 1.3-.7-.1-.6-.4-.2-.8zM49.1 43.1l1-.1 .7 .3 .6 .6 .5 .8-.3 .5-.8 .2-.7 0-.8-.2-.6-.5-.1-.8zM120.4 43.1l.5-.4 .7 .4-.7 .7zM116.7 45.5l.4-.2 1.3 .2 .3 .8-.5 .7-1.1 .4-.4-.4-.3-.7zM52.4 48.6l.7-.1 .4 .1 .7 .8-.3 .3-.8 0-.7-.3zM83.1 62.1l4.7-.4 .9 .4-1.7 .7-1.5-.6z"/><path fill="#fbccb4" d="M-.4 -.4l136.4 0 0 12.8-.8-.1-1.5 .3-.7-.3-.8-.1-3.8 .1-2.2-.6-2.7 .6-1.8 1-2.3 .1-1.5-.3-3.8-.2-.4 .1-.1 .8 .7 1.6-.2 .3-.8 .5-2 .8-.5 .8-2.5 1.6-.7 .8-.4 .8-1.4 1.2-.7-.1-.2-.4-.6-2-.7-.4-.8 .1-1 1.6-.5 .2-1.5-.9-.7 .1-1.5 1-1.6 .6-1.5 .1-2.2-1.1-.6-.8-.9-.6-1.5-.6-1.8-2-.5-.9-1.5-1.5-.7-.5-.9-.3-2.2-.2-1.5-.6-.7 .2-1.5 1-.8-.1-2.2-.5-2.3-1.2-.8-.2-3.7 .1-2.3 .4-2.2 .6-1.6 .2-.7 .4-.5 .7-.3 1-.7 .7-.8 .3-.4-.4-.2-.8-.1-1.6-.8-.1-3 .5-.8 .4-.1 1.6 .3 .8-.1 .9-.8-.9-1.5 1-1.5 .6-.8 .1-1.5-.7-.7 .1-1.5 1.5-.8 .4-.7-.1-1.5-1.6-.8-.1-2.2 .7-.7 .5-.3 .8-.6 .3-.9-1.1-.6-.3-1.5 .2-.7-.1-1.5-.8-.8-.1-.7 .1-1.8 1-.2 .8 0 1.5-.5 .8 .5 .8-.1 .8-1 .8-.7 .1-.4-.9 .2-.8-.4-.8 0-.8-.4-.7-.5-.3-.8-.1-1.5 .2-3-.7-.7-.7 0-.9-1.5-1.1-.8-.1-.8 .2-.3 .3-.4 1.5-.8 .2-.8-.9 .5-.8 .2-.8-.8-.8-.6-.2-.7 0-1.5 .6-1.5-.3-1.5-1.8-1.5-1-.8-.2-.8 .1-.6 .4 .3 1.6-.4 .4-.8 .4-.7-.2-.5-.6 0-.8-.4-.8-.6-.3-.8-.8-.7-.3-.8-.1zM32.4 22.5l.4-.7 .7 .7-.7 .9zM17.9 24.1l.1 .8-.3 .4-.8 .3-.5-.7 .5-.6z"/><path fill="#f6b394" d="M-.4 -.4l136.4 0 0 11.2-4.5 .1-1.6 .5-1.5 .2-2.2-.9-.8 0-4.5 1-1.5 .9-1.5-.2-2.3-.9-2.2-.1-.8 .2-1 .7 1 1.5 .3 .8-.3 .4-.7 .4-2.3 .4-.7-.1-1.6-.6-.5-.5-1-1.7-.7-.3-3 .1-.8 .4 .7 .7 .8 .4 1.5 1.2 .2 .8-.2 1-.7 .6-.8 0-.7-.6-.8-.1-2.2 .4-1.5 1.6-.8 .3-.8-.3-.2-.5-.3-.8 .3-.8-.1-.8-4.9 0-.2 0 .5 .8-.3 .5-.8 .1-1.5-1-1.5-1.8-1.5-1.3-2.3-.7-1.5 0-1.5-.4-.7 .1-1.5 .7-.8 .1-.7-.2-2.4-.8-.8-.8-.6-.4-.8-.1-.7 .3-2.3-.1-1.5 .6-2.2 .4-1.5 .4-3.1 .2-1.5-.3-5.2 .8-1.1 .5-1.2 1.4-3 1.1-2.3 .3-1 .4-.5 .4-.4-.4-.5-1.6-.6-.2-1.5 0-.7 .2-.8 .6-.7 .1-3.1-.8-.7 .5-.3 1.2-.5 .5-.7 0-1.5-.9-.8-.1-1.5 .9-.7 .2-.8-.1-2.1-1.3-.9-.1-.8 .2-.4 .7 .2 .8-.5 .5-.8 .2-1.5-.3-.4-.4 .3-.8 .1-1.6-.7-.4-.8 .2-.7-.1-1.5-.9-2.3-.6-1.2 .2-.3 .4-1.5-.3-1.5 .4-.5-.5 0-.8-1-.7-3-.6-1.5 .3-2.3 0-1.3-1.3-1-.1-1.5 .3z"/><path fill="#ec9374" d="M-.4 -.4l136.4 0 0 9.7-5.3 .2-.3 .4-.2 .8-1 .3-.8 .1-1-.4 .2-.8-.7-.5-5.2 1.3-2.3 1.1-.7 .1-1.6-.3-2.2-1.4-1.5-.1-.8 .3-1.5 1.4-2.7-.3 .2 .8 .7 .7 0 .8-.4 .1-.8 0-.8-.2-.6-.7-.3-.7-.6-.8-1.5 .4-2.2-.3-.8 .2-.7 .5-.2 .7 .4 1.6-.2 .7-.8 .4-.9-.3-2.1-2.4-.8-.4-1.5-.5-.9 .2-.4 .7 1 .8 .4 .8-.8 .4-.8 0-1.3-.4-.9-1-.8-.1-2.2 .3-2.3-1-2.3-.7-1.5 .1-1.5-.5-.7-.1-1.3 .7-1 0-.4 0-1.1-1.1-1.5-.3-2.3-1-1.5 .7-1.5-.1-2.2 1-1.5 0-2.3 .5-5.3-.1-1.5 .5-2.2 .1-.8 .2-1.5 1.2-.8 .2-1.5-.3-2.2 0-3-.5-.8-.3-.7 0-1.5 .8-1.5 .4-1.6 .1-2.2-.2-1.5 .4-1.5-.1-2.3 .2-1.5 .5-.8-.1-1.5-.7-.7 0-1.5 .3-1-1.6-1.3-.4-1.5 .4-.7 0-.8-.3-1.5 0-1.5-.4-3.8-.1-2.2-.9-1.5-.3-1.5-.1-1.6 .2-.7-.2-.3-.2-.5-1.1-.7-.2-3.8-.1zM110.4 13.8l.7-.3 .5 .3-.5 .2z"/><path fill="#dd7059" d="M-.4 -.4l136.4 0 0 8.2-1.5-.4-.8 0-1.5 .4-3-.3-3.8 1.3-2.2 .6-1.5 .8-1.5 .3-1.5-.3-.8 .4-.8 .1-1.2-.8-1-1.7-.8-.2-2.2 .2-.8 .2-.8 .7 .8 .4 .5 .4-.2 .8-.3 .3-.7 0-1.5-.7-.8 0-2.3-.4-1.5 1.4-2.2-.3-1.5 .1-1.5 1.3-2.3-1.7-.8-.8-3.7-.2-3.6 1-.3 .8 .3 .8-.9 .2-2.9-1-1.7-.9-.7-.2-.5-.5 .1-.8 .4-.4 1.2-.4 1-.8-2.2-.6-1.7 .6-.7 .8-1.4 1-.7 .1-1.5-.1-1.5 .7-.8 .1-.7-.2-.1-.8 1.6-.8 .1-.8-.9-.1-1.5 .6-3 .3-.5 .8 .5 .8-1.5 .1-1.5 .7-2.3-.3-3 .3-1.5 .5-.8-.2-1.5-.7-1.4 1.2-.8 .1-3-1.9-.8-.3-.9 .5-.1 .8 .3 1.6-.8 .3-.8-.1-3-1.1-3-.2-.7 .1-1.5 1-.8 .2-2.3 .6-.7 0-2.5-.8-.9-.8-.1-.8-.3-.4-.4 .4 0 .8-1.8 1.2-1.5 .4-.8 .5-.7-.6-.1-.7-.7-.7-2-.9 .5-.8-.7-.8-.8-.5-.5 1.3-.3 .2-1.5-1.1-.7-.1-.5 .2-.2 1.6-.8 .5-1.8-.5-1.3-.7-.7-.9-.8-.3-.5 .3 0 .8-.2 .1-.8 0-1.5 1.3-.7-.3-1.5-1-2.3 .2-1.9-.3-.3-1.6-.8-.4-1.5-.2-1.5 .3-2.3-.4zM10.2 8l-.8 .3 .8 1.1 .8-1.1zM123.3 2.8l.5 .8 .9-.3 .4-.5-.4-.6z"/><path fill="#cc4c44" d="M-.4 -.4l119.2 0 0 .8-1.1 .8-.6 1.3-.8 1.1-.4 .7 .5 1.6-.8 .6-.7 .3-3-.8-3.1 .7-.7 .4-.3 .4 .5 .8-.2 .3-.8 .3-1.5-.1-.7 .4-.8 .8-.7 .3-1.4-.4 0-.8-.1-.2-.8-.2-1.5 0-.7-.4-.2-.8 .4-.8-.2-.4-1.5 .5-3.8-.9-2.3 .9-1.5 .9-.8-.2 .5-1.6-.4-.5-1.5-.4-3 .4-3.1-.3-3 .3-3-.2-6 .8-2.3-.1-3 .2-2.3-.2-5.2 .5-.8 0-1.5-.8-.7 .1-.4 .2-.3 .8 2.2 .3 .7 .7 1.4 .6-.7 .8-1.4 .6-1.5-.6-.9-.8 0-1.6-2.2-.7-3 .3-.7 .4 .7 .2 1.3 1.4-.5 .5-2.3-.2-.7 .5-3 .3-2.3-.3-1.5-.8-1.5 .1-.8-.1-.9-.8-.6-1.7-.7-.6-.8-.2-2.2 .4-3.1-.4-3 .5-1.5 0-1.5 .3-1.5-.3-6.8 .2-3-.2-5.3 1-.7-.3-1.5-1-1.5-.6-.8 .1-1.5 .9zM43.3 5.9l-.1 .8 .1 .1 2.3 .3 1.4-.4-1.4-.5zM108.1 3.4l0 .2 .8 .1 .4-.1-.4-.3zM121.6 -.4l1.2 0 0 .8-1.2 0zM127.3 -.4l8.7 0 0 5.6-1.5 .5-1.5 0-.7-.6-.2-.8 1.3-1.5-.7-.8-2-1.1-3.4-.5zM123.1 5.9l.1-.4 .7 .2 .4 .2-.4 .2zM125.6 5.9l1.3-.6 .9 .6-.9 1-.8-.2zM25.8 7.5l.2-.3 .7 0 .5 .3-.5 .7-.7-.3zM33.4 7.5l.9 0 0 .8-.8-.4zM28 8.3l.2-.4 .8-.2 .8 .6-.1 .8-.7 .5-.8-.4z"/><path fill="#ba2832" d="M-.4 -.4l6.1 0 0 .8-.8 .5-1.5 .4-2.3-.6-1.5 0zM13.1 -.4l1.2 0 0 .8 .6 .8-.6 .8-1.1 .3-1.5-.3-.8 .1-1.5 .9-1.8 .6-.1 .7-1.3 .8-.6 .2-.1-.2-.2-.8 .3-.4 .6-.3 .2-1.7 2.3-.8 .7-.1 1 .2 .5 .5 .8 .2 1.4-1.5zM16.8 -.4l14.1 0 0 .8-.4 .5-2.3 .5-2.2 .8-2.3-.2-.9 1.6-.6 .3-.7 .1-3-.7-1.6 .3-.4-.8 .4-1.6zM33.4 -.4l6.4 0 0 .8 .5 .1 .8-.1 0-.8 27.8 0 0 .8 .5 .8-.6 .8-2.1 .9-.5 .7-.2 .7-.8 .2-3.1-.1-1.5 .2-3.7 .1-2.3-.4-3-.1-3 .4-3-.4-3.8 .2-2.2-.5-.8 .2-.8 .5-.7 0-.9-.3 .9-.7-.6-1.6-1.7-.7-.9-.1-.6-.4zM78.6 -.4l1.7 0 0 .8 .7 1.4 .3 .2-2.6-.2-.3-.6 .2-.8zM86.6 -.4l13.9 0 0 .8-.5 .8-.9 .8-.8 .3-.7-.3-.8 0-.8 1.7-.7 .6-.8 .1-.7-.1-.5-.7 .3-1.6-.6-.8-.7-.3-.8 .1-.5 1-1 .2-3-1-.4-.8zM106 -.4l1.8 0 0 .8-2 1-.1-.2 .3-.8zM112.9 -.4l.7 0 0 .8-.7 0zM134.1 -.4l1.9 0 0 1.1-.8 0-1.1-.3zM105.1 3l.7 .6 .8 1.5-2.3 .4-1.5 .8-.7 .1-.6-.5 .6-.9z"/><path fill="#9f1228" d="M19.2 -.4l1.8 0 0 .8-1 .2-.8-.2zM59.8 -.4l1.3 0 0 .8 .5 .8 .2 .8-.4 .4-.8 .2-1.5-.5-2.4-.1 .4-.8 2-.4 .7-.4zM44 2l.8-.7 .8 .3 .2 .4-1 .6z"/><path fill="#edf2f5" d="M33.4 27.3l.9-.3 .7 .3 .8 .7 .7 1.6 .1 .8-.8 .4-.8 0-.7 0-.8-.5-.4-.7-.2-.7 0-.8zM39.3 27.3l.3-.3 .7-.2 1.1 .5-.3 1.5-.8 .1zM74.7 39.1l.5 0 .8 .8-.3 .9-.7 .3-3.1-.3-.7 .2-1.5 .9-.8-.6-.3-.6 .8-.8 1-.3 1 .3 .5 .7 1.5-.2 .8-1zM110 39.9l.4-.2 .7-.1 1.2 .3-.2 .8-1 .2-.8-.2zM64.8 40.7l.4-.4 .7 .1 .7 .3-.7 .4-.7 0zM36.5 43.9l.8 0 .7 .3 3.1 2 1.5-.2 1.5 .1 .7 .5 .8 1.4 .7 .8 1.5 .3 2.4 1.1-2.3 .8 .7 .8 .7 .1 3.1 1.4 .7-.7-.2-.8 .2-.4 .8-.3 1.8-.1 .9-.8-.2-.8-.7-.8 .2-.8 .2-.3 .8-.3 .7 .1 .5 .5-.2 .8 1 0 .2-.8-.3-.8 1.1-.7 .7 0 1.7 .7-.6 .8-.1 .8 .5 .7 1.7 .9 .6 .9 .4-.1 .5-.8-1.1-.8-.2-.8 .4-.5 .8 .1 .7 .4 .8 .7 .7 .1 .8-.4 .7-1 2.3-.3 .7-.3 .8 0 1.5 .8 .8 .2 1.5-.4 1.7 .6 1.3 .1 5.3-1.1 .7 .2 .8-.2 1.5-.9 .7-.2 .8 0 1.7 .5 2 1.6 .8 .2 .8-1-.6-.8-1.7-.7-.2-.8 .9-.4 2.1 .4 1.7 1.3 .8 .5 .7 .2 3-.8 .8 0 1.5 .6 3-.4 .7 .4 1.1 1.3 1.2 .3 2.3 .1 .8 .4 .7 2.2 .7 .3 .8-.4 1.1-1.3 1.1-.8 1.5 .8 .8 .8 .7 1.6 .8 .4 .8-.1 .3-.3 .5-1.6 .7-.3 1.5 .1 .4 .2 .7 .8 .4 1.8 .7 .3 .3-1.3 .4-.8 .8-.6 3.1 0 .7-.2 1.5-1.2 .8 0 1.5 1.4 0 4.7-1.5 0-.8 .4-.3 1 1.1 .9 .7 .2 .8-.5 0 18.4-12.3 0 0-.8-.5-.9-.8-.1-.4 1 0 .8-3.9 0 0-.8 .4-.8 .9-.4 1.5-.4 .9-.8-.9-.6-3-.1-.8 .1-1.1 .6-1.1 1.1-1.5 .6-.4 .7 0 .8-29.2 0 0-.8-.6-.2-.9 .2 0 .8-5.4 0 0-.8-.4-.6-.8-.5-.7 0-1 .3-.3 .8 0 .8-5.3 0 0-.8-.2-.2-.1 1-20.9 0 0-.8-1.6-.3-.8 .2 0 .9-45.2 0 0-17.9 .8-.5 .7-.8 .8-.2 .7 .2 .8-.1 .7-.5 .6-.8-.3-.8-1-.7-.2-.8 .4-.8 2.4-1.6-.2-.8-.7-.8-.4-.8 .9-.5 1.1 .5 .4 .8 0 .8-.4 .8 0 .8 .5 .5 1.5-.2 3-.8 .5-.3 1-1 .7-.4 .8-.2 2.2 0 .8-.2 1.1-1.4 .4-2.4 .8-.6 .7 0 .3 .7 .6 .8 .6 .4 1.5 .5 .8 1.4 .7 .4 1.5 .5 .8 0 2.3-1.5 .7 .4 .3 1 .5 .7 .7 .1 .8-.1 1.5-1 .7-.2 1.5 .1 .3-.4-.2-.8-.7-.8-.8-2.3 .7-.6zM65.2 54.1l-.5 .8 .5 .9 .9-.9 0-.7-.2-.3zM68.2 73.7l-.3 .2 .3 .4 1.3-.4zM70.3 73.9l.9 .7 .7 .1 .8-.2 .6-.6-.6-.4-.8-.1zM89.3 59.9l-3 .4-4.6 0-1.5 .4-2.2-.3-.8 .1-2.5 .8-1.1 .8 1.1 .8 2.5 .4 3 .1 2.3 .5 3.8 .2 3.7-.3 5.3-.8 1.5 0 .8-.1 .6-.8-1.1-.8-1.9-.8-3.7-1.3zM101.3 48.2l-.3 .4-1.2 .5-2.2-.3-.6 .6 .6 .9 3 .4 .7-.2 2.2-1.1-.7-1.3-.7-.3zM105.8 49.4l-.7 .1-.8 .7 .8 .4 .7 0 .6-.4zM108.9 51.8l-1 .8 0 .8 1.7 .4 .8-.2 .1-.2-.2-.8-.7-.7zM111.7 54.2l.2 .3 1-.3zM21.5 69.6l-.7 1.2 .5 .8 1 0 .7-.4 .3-.4-.3-1-.8-.4zM25 71.6l-.2 .7-.3 1.6 .7 .6 1.5 0 .7-.6 .1-.8-.1-.8-.7-.5zM109.4 73.1l-.1 .8 .3 .5 .8 .2 .7-.3 .4-.4-.6-.8zM25.1 45.5l.9-.6 .7 0 .9 .6 .5 .8-.2 .7-1.2 .5-2.1-.5 0-.7zM113.2 45.5l.9-.3 .8 .2 .3 .9-.3 1.5-.4 .8-.4 .4-.3-.4 0-.8-1.2-1.5zM-.4 50.4l1.3 1.4 .2 .8 1.4 1.6-.6 .9-.8 .8-1.5 0z"/><path fill="#dae9f2" d="M34.1 28.1l.9 .2 .3 .6-.3 .7-.7 0-.5-.7zM77.7 51.8l1.8-.5 3 .1 2.5 1.2 .6 .8 0 .8-.8 .9-2.3 .4-.5 .2-.3 .8-.1 .8-.6 .8-.8 .2-1.5-.2-.7-.8 .7-1.6 0-.8-1.5-.5-1.7-1 .3-.8zM88.2 51.8l.6 0 .7 .8-1 .8-.7-.4-.2-.4zM38.4 56.5l1.2-.6 .7 0 1.5 1.2 3 .6 1.5 .7 1.5 .1 .8 .4 1.5 1 .3 .6 0 1.6 1.3 .8 .7 1.2 2.2-.7 3 .2 2.3-.7 .7 .2 .5 .5 1.5 .8 1.8 .2 1.5-.2 .8 .3 .4 .5 0 .8 .2 .8 .9 .4 .7 .1 1.5-.5 .7-.8 .2-.8 2.1-.7 2.3 .3 2.3 .7 2.2-.4 2.3 .6 4.5-.2 2.3 .4 .7-.1 1.2-.6 1.1-.1 1.1 .1 4.2 1.2 2.2-1.3 2.3 .3 .7-.4 .4-.6 1.1-1 .8-.1 1.5 1.2 .7 .2 .8-.1 .8-.4 .5-.6 .2-.8 .8 .1 1.5 1.5-.2 1.6 .2 .1 .7-.3 .4-.6-.3-.8 .3-.8 .4-.2 .7 0 .8 .3 1.5-.2 .7 .2 1.2 .7 1.9 .6 .7 0 1.5-.4 1.5 .7 4.5 0 1.5 .7 1.6 .2 1.5-.4 1.5-1.1 1.5-.6 0 9-1.5-1.3-.8-.3-2.2 .5-.8-1.2-.8-.1-1.5 .8-.7 .1-2.3-.2-.8-.6-.7-.1-3.7 .6-3.1-.1-2.2 .6-3 .1-1.9-.3-.4-.5-.6-1.1-.9-.2-1.3 1-.2 .9-.8 .4-.8-.5-1.4 0-1.5 .5-1.1 1 .3 .8 .8 .8 .7 .3 1.5 .2 .7 .3 0 .8-2.9 0 0-.8-.8-.3-3.7-.7-.8 1 0 .8-5.4 0 0-.8-.6-.7-.8-.3-1.5-.1-1.5 .3-1.1-2.4 .4-1.6-.4-.7-.4-.2-.8 .2-1.4 .8 .1 1.5-.2 .1-.2-.1 0-1.5-.5-.1-2.3-1-.5 .3 .1 .8-.2 .8-1.6 2-.8-.1-.5-.4 .3-.8-.3-.7 1.7-.8-.4-.8-.8 .2-.7 1-.8-.2-.7-.8-.8-1.2-.8-.3-1.5-.1-.7 .2-2.2 1.2-.4 .8-.4 .1-1.5-.2-1.9 .1-1.1-.6-1.6-.4-3 1-.3 .8 .5 1.5-.4 .8 .7 1.6 0 .8-6.2 0 0-.8 .3-.8 2.4-.3 1.1-.5-1.1-.6-1.5-1.4-.7-.3-.8-.1-3 .6-.8 .5-.3 .5 .1 .8-.5 .6-.8 0-1.5-.7-.3-.7 .6-1.5-.3-.4-.7-.4-1.7 0-.6 .2-.7 .7-.8 .2-.7-.6-2.3-1.2-.5 .7 .2 3.1-.6 1.6 0 .8-3.3 0 0-.8-.7-1.6-.1-1.6-.3-.2-.7-.5-.8-.2-.7 .4-.8 1.2-.7 0-.8-.7 0-1.1 .5-.4 1-.4 .3-.4-.8-.8-1-.1-.8 1-.7 .3-.8-.1-1.5-.5-2.1-1.4 .6-.5 2.6-.3 .7-1.6 .5-.3 .7 0 .8 .4 .8 .1 1.5-.4 1.5 .4 .7 0 .5-.2 2.5-1.6 2.3-.1 1.5-.3 1.5-1 .8-.1 .7 .3 1.1-1.9-.3-.5-1.5 .4-3.1-.2-2.2-.9-1.5-.1-2.3-.5-.7-.2-.5-.4-.2-.8 .8-.8zM41.8 65.6l-.3 .4 0 .8 .3 .7 .8-.1 .4-.6-.2-.8-.2-.4zM75.7 57.3l.8-.2 .9 .2-.2 .1-.2 .7-.5 .2-.9-.2zM107 61.3l.3-.3 .3 .3-.3 .3zM1.1 63.1l.8-.1 .3 .6-.8 .8 .6 .8 2.1 .3 2.1-1.1 1-.9 .7 .1 .5 1.6 .3 .2 .7-.2 .8 .1 1.6 1.5 1.4 .9 2.2-.3 .9-.6 1.4-.4 .8 .1 .5 .3-.7 1.6-.1 1.6-1.3 .4-.3 .4-1.3 2.3 .1 .4 .8 .4 .7 0 .8-.1 .8-.5 .7-.9 1.7 .7 .6 .8-.2 .8-.6 .4-.2 .4 0 .8-4.6 0 0-.8-.5-.4-.7 0-.3 .4 0 .8-11.3 0 .1-1.6-.3-1.6-.3-.4-.7-.3-1.5 .7-.8-.6 0-8 .8-.4zM8.7 69.2l-.3 .8 2.5 1.7 .4-.1 0-.8-.8-1.6-.3-.3-.8-.2zM130.2 73.1l.5-.4 .8 .2 0 1-.8 .2-.3-.2zM30.3 75.5l.2-.2 .1 1-.3 0zM40.7 75.5l.4-.2 1 .2 0 .8-1.4 0z"/><path fill="#c2ddec" d="M114.8 66l.8-.1 4.6 .5 5.2 .8 2.3 .5 .8 .7-.9 .8-.3 .8-.4 0-.7-.5-1.5-.2-5.3 .7-6.8-.3-1.5 .5-1.5-1.3-1.2-.5 .6-.8 .6-.4 .8-.2 1.5 .2 1.5-.2zM45.1 66.8l.5-.4 .4 .4-.4 .5zM53.6 66.8l.3-.3 .9 .3zM-.4 68.7l1.1 .5-1.1 .7zM97.6 68.7l2.4 .5-.3 .8-1.4 1.3-.7 .4-.8 0-1.6-.9-.4-.8 .5-.7zM134.4 69.2l.1-.3 .7-.2 .8 .4 0 .3-.8 .5zM90.7 70l.1-.5 .7-.3 .4 .8-.4 .1zM102.2 70l.6-.7 .8-.1 1 .8-1 .6-.8 0zM10.7 74.7l1-.6 .6 .6-.6 .5-.8-.1z"/><path fill="#a2cde3" d="M116.9 68.4l1-.4 1.5-.1 1.4 .5-1.4 .3z"/><rect x="135.2" y="0" width="0.4" height="75.9" fill="#fff"/><use href="#cst"/></g><rect x="0" y="0" width="135.6" height="75.9" fill="none" stroke="#1a1a1a" stroke-width=".45"/><path d="M22.6 75.9 v2.1M45.2 75.9 v2.1M67.8 75.9 v2.1M90.4 75.9 v2.1M113.0 75.9 v2.1M0 12.7 h-2.1M0 25.3 h-2.1M0 38.0 h-2.1M0 50.6 h-2.1M0 63.2 h-2.1" stroke="#000" stroke-width=".5" fill="none"/></g><g transform="translate(31.9,209.45)"><g clip-path="url(#cp)"><rect width="135.6" height="75.9" fill="#fbccb4"/><path fill="#f6b394" d="M-.4 -.4l136.4 0 0 12.9-.8 .2-.3 .3 .5 2.4-.2 .9-.7-.1-.8-.7-.7 .1-.7-.2 .4-1.6-.5-.6-2.3-.4-8.2-2.1-1.5 .1-1.6 .8-2.2 .2-3 1.2-.2 .8 1 1.6 .8 2.4-.9 .1-.7-.9-.8-.1-.4 .1-.3 .2-.3 .6 .1 .8-.6 .5-.7 .2-.8 .5-1.5 1.2-.7 .7-.8 1.6-1.5 1.3-.8 .5-2.2 0-1.5 .2-.8 .4-.7 .8-.5 1.6 0 .8 .5 1.6-.8-.1-1.5-.9-2.2-3-.2-.8 .3-1.6-.1-.8-1-2.3-1.2-1.6-.9-.8-1.5-.6-1.6-1-1.4-1.2-2.2-1.4-4.6-1.1-.7-.1-3 .5-3.8-1.3-3.8-.2-1 .1-5.8 1.3-1.6 1.8-.6 .4-.8 .2-.6-.6-.8-1.6-3.1 .3-1.1 .5 .4 .3 .3 .5-.1 1.6-.2 .6-.8-.4-1.8 1.4-2 .9-1.5 1.1-2.2-.6-.8 0-1.5 .2-1.5 .8 .5 .7 1.8 .9 .7 1.2 .8 1.6-.3 1.1-.5 .8-1.6 .8-1.4 .3-1.5 .1-.7 .2-.5-.6-.3-1.3-.8-.3-4.5 .9-1.5 .8-1.4 1.4-.5 .8-.3 .8 0 1.6-.8 .1-.1-1.7 .2-1.6-1-.7-2.9-1.7-2.2-.3-1.3 .4 .1 1.6-.3 .7-3.8 1.9-.8 .1-.7-.5-1.5-2.2-.5 .7 .1 1.6 .5 1.6-.1 .3-3.5 1.3-2.1 1.6-.6 .8 .4 .8 .5 .1 2.9 .6 2.4 .1 .2 .7-.2 4.5-.8 .9-2.2 1.5-1.5 2.2-.8 .5-.7 .3-.8-.1-.7-.2-.8-.7-1.7-2.5-.1-.8 .3-1.6-.4-2.4-1-2.4-.1-1.5-1.5-1.2-.8-.1-1.5 .3 0-10.4 1.2-1.3 1.8-.6 .8 .3 .7 .7 2.3 .8 .8 0 .7-.4 .8-.1 1.5 .3 2.2 .1 .8-.4 1.5-1.3 1.5-.2 1.5-.9 1.5 .6 .8-.1 .4-.4 .4-.8-.4-1.5 .1-1.6-.5-.8-.8-.4-.7-.1-1.1 .5-.4 .8-.1 .5-.7 .2-.5-.7-.1-.8-.2-.3-.7-.4-1.7-.1-2.3-1.6-1.3-.6-.5-1.8-1-.4-.7 .1-.8 .9-.8 .4-.7 .2-2.3-.8-1.5-.9-.7 0-.8 .2zM117.9 8.3l.2 .8 .5 .4 .8-.2 .2-.2 0-.8-.2-.2-.8-.2zM19.2 26.1l-.3 .4 .6 .8 .5 .3 1.2-.3-1.2-1zM-.4 14.8l.2 .6-.2 .9zM-.2 17.8l.6-.4 1.5-.3 1.2 .7 .4 .8-1.6 .5-2.3 1.2 .2-.9zM135.4 17.8l.6-.4 0 2.5-.8 .4-.3-.1 .3-.3 .2-.5zM133.3 21l.4-.5 .8 .5-.8 .2zM136 24.7l0 10.9-1.5 .4-1.5 0-1.6-.8-1.5-2.1-.2-1.1 .2-2.1 .8-1.6 .8-1 1.5-1.1 1.8-.5zM101.3 30.4l.4 0 .4 .5 0 .3-.8 0zM38.3 31.2l.5-.6 .8 .4 .4 1-.4 .7-.9-.7zM107.7 34.4l1.2-.5 3.7 .2 1.5 1.4 1.7 .5 .8 .8 .5 1.3 .8 .7 3 1.1 .8 .5 .3 .3 .3 .8-.3 .8-1.8 2.3-6.1 1.7-1.5 .1-2.2-.1-1.5-1.3-1.7-1.1-1.1-1.6-.5-1.6-.1-.8 .3-1.4 1-1.7 .4-1.6zM38 35.7l.8 .6 .1 1.3 .6 1.5-.7 .4-1.1-1.2-.6-1.5zM44.1 36l.2 .8 .1 1.5-1.1 .8-.7 0-1-.8-.3-.7 1.3-1zM52.2 39.1l.9 0 1.5 .6 .3 .2 .1 .8-1.1 .3-.8-.2-.8-.9zM2.6 63.4l2.3 0 8.3 .9 4.5 .3 11.3-.5 6.8 .1 8.3 .4 10.5 0 8.3-.3 9.8 .2 4.5-.2 6-.6 25.7-.1 21 .7 6.1-.7 0 11.2-2.3-.8-1.5-.2-1.5 .7-1.3 1 0 .8-1.5 0 0-.8-1-.9-.7-.5-1.5-.3-.8 .2-.5 .7-.4 .8 0 .8-72.9 0 0-.8-1.5-.6-2.3-.5-2.2-.1-2.4 .4-1.4 .8 0 .8-38.6 0 0-.8-2.1-1 0-10.8z"/><path fill="#ec9374" d="M-.4 -.4l136.4 0 0 10.8-4.5 .4-1.6 .4-2.2-.1-4.5-1.5-.8-.5-1-1.6-1-.8-1-.3-1.5-.1-.8 .3-.7 .6-1 2.7-1.3 1.1-3 1.1-2 .2-1 .8-.8 0-1.5-1.2-4.5 .2-.4 .2-.9 .7 .3 1.6-.5 .5-.7-.1-3.8-.8-3.8 .4-3-.2-1.5-.4-1.5-.9-2.3-.6-3-.5-3.7-.1-4.6-1.1-3.7 0-4.5 1.3-2.3 0-1.5-.2-2.3 .4-6 .4-7.5-.8-7.6-.4-6.7 0-3.8 .2-4.5-.4-4.6 .3-4.5 0-3-.1-1.5-.4-2.3 .5-.7 0-.9-.1-.9-.8-.5-.2-3-.1zM-.4 64.3l.8-.2 3-.2 4.5 .3 5.5 1 1.7 .8 0 .8 .3 .3 1.5 .4 2.3 .1 1.5-.2 .8-.4 .3-.2 .5-.8 4.2-.8 1.7-.1 8.4 .1 7.5 1.1 6 0 3.8 .9 2.2 .2 1.5-.2 3-1.1 2.3-.3 4.5-.3 9.1-.1 7.5-.7 36.2-.1 9.7 .6 6.1-1.1 0 5.7-2.6-.6-1.9-.2-6.1 .8-4.5 .1-3.8 .3-6.7-.1-6.1 .5-3.7-.6-3.8 .2-9-.2-5.3-.5-3.8-.1-12.8 .7-1.9 .7-.9 .8-.4 .7-.6 .4-.7-.1-.9-.3-2.9-1.5-.7-.9-1.4-.7-2.4-.3-3.8 0-5.2 .6-3.8 .9-3.8 .1-4.5 .8-3.8 .3-.7 .3-1.4 1.2-2.4 1.3-.3 .3-.2 1.6-13.1 0 .1-2.4 .3-.8 1.1-1.5-1.4-.6-1.5-.4-5.3-.2-3.8-.7zM20 69.1l-.8 .2-.8 .7-.5 1.6 2.8 .4 1.5-.1 1.1-.3-.6-1.6-.5-.5-.7-.4zM72.4 75.5l1-.1 1.1 .1 0 .8-2.1 0zM83.8 75.5l1-.3 1.5 .2 .1 .1 0 .8-2.6 0z"/><path fill="#dd7059" d="M-.4 -.4l136.4 0 0 8.7-2.3 0-5.3 .6-2.2 .1-1.5-.5-2.2-1.8-1.3-.8-1-.4-1.6-.2-1.5 .2-1.1 .4-.7 .8-.9 2.4-.5 .8-1.3 .7-1.5 .5-5.3-.6-1.5 .5-2.2 0-2.3 .3-5.3-.3-4.5 .6-5.2-.8-10-.9-2.9-.8-.7 0-3.8 .1-11.3 1.3-6.8-.2-4.5-.5-4.5 .1-4.5-.4-9.8 .3-6-.3-6.1 .1-2.2 .2-5.3-.1-2.3-.8-4.5-.6zM4.1 64.3l3.1 .3 2.5 .6 .9 .8-.2 .8-.7 .8-1 .7-.8 .1-4.5 .4-3.8-.5 0-3.5zM133.4 65.2l2.6-.6 0 3.9-2.3-.7-1.5-1 0-.8zM83.2 66l5.3-.4 7.5-.1 10.6 .5 3 .6 3-.8 7.6-.5 6.1 .7 1.4 .8 .2 .8-1.1 .8-.6 .1-6.8 .5-3-.2-3.9-.4-2.9-.9-4.5 .8-3.8-.2-3.7 .3-5.3 0-7.5-.5-1.4-.3-1.6-.8zM66.4 66.8l3.3-.3 3.7 .2 1.6 .3 1.2 .6-.8 .8-4.2 .5-3.8 0-3.6-.5 .2-.8z"/><path fill="#cc4c44" d="M-.4 -.4l136.4 0 0 7-4.5-.2-4.6 .7-1.5-.4-3-1.5-1.5-.5-2.3-.3-1.5 .1-1.5 .5-.7 .4-.8 1.1-.3 1.8-.4 .8-.8 .7-1.5 .4-4.5-.9-.8-.1-1.5 .4-3 .3-1.5-.2-2.2-1-6.1 0-2.2 .2-2.3-.8-1.5-.3-1.5 0-3 .4-3 .1-11.3-1.1-6.8 .1-5.3 .4-5.3-.6-9.7 1.1-4.6-.1-9 .2-1.5-.1-14.3-.1-4.6-.5-3.7-.8-2.3-.2zM-.4 65.2l2.3-.4 3-.1 2.9 .5 1 .8-.3 .8-2.1 .9-2.3 .3-2.2 0-2.3-.6zM135.1 65.2l.9-.2 0 2.7-1.9-.9-.2-.8z"/><path fill="#ba2832" d="M2.7 -.4l97 0 0 .8 1.6 1 2.3 .5 3 .2 1.6-.1 1.4-.6 1.1-1 0-.8 18.8 0 0 .8-.2 .8-.7 .8-.3 .8 .7 .8-.4 .7-3 0-.9-.5-1.5-.5-3-.4-2.3-.1-2.3 .4-2.7 1.9-.3 .8 .2 1.6-.1 .8-.8 .7-.8 0-1.1-.7-1.1-1.6-.8-.1-2.2 .9-2.3 .3-6.8-1.3-2.3 0-7.5-.8-2.2 .1-5.3 .8-3 .1-15.1-.9-12.8-.3-3 .3-4.5 1-2.3 .3-17.3 .3-9.8-.5-5.3-.7-4.5-1.4-2.2-.5 3.2-1.5zM135.3 4.3l.7-.3 0 .5zM1.2 65.2l2.2-.2 2.2 .2 1.7 .8-.5 .8-1.2 .4-1.5 .3-2.2-.1-1.9-.6-.4-.8zM135.2 66l.8-.4 0 1.4-.4-.2z"/><path fill="#9f1228" d="M27.3 -.4l61 0 0 .8 0 .8-.6 .8-2.9 1.1-2 1.2-6.3 1.2-7.6-.2-7.5-1-3-.2-4.5-1.1-5.3-.5-1.8 .3-1.5 1.5-5.7 1.6-9.1 .6-9 .3-6.1-.4-4.5-.6-2.3-.7-1.1-.8 2.1-.7 5.1-1.5 3-.3 3.8 0 2.2-.3 3.6-1.1zM93.8 -.4l.8 0 0 .8-.8 0zM1 66l2.4-.5 1.5 .2 .9 .3-.9 .8-1.5 .2-1.6-.2z"/><path fill="#790622" d="M68 2l.9-.3 1.5-.2 3.8 .4 1.9 .9 .3 .8-.7 .3-1.5 .3-3.8-.1-2-.5-.6-.8zM26.7 2.4l6.8 0 3.8 .7 1.1 .5 .7 .7-3.2 .8-4.6 .6-3.8 .3-5.3 .1-6.8-.6-1.7-.4-1-.8 2-.7 1.5-.3z"/><path fill="#67001f" d="M24.1 3.6l4.1-.1 3.8 .8-3.5 .8-5.5 .2-3.3-.2-2.3-.8z"/><path fill="#fce2d2" d="M120.9 11.9l.8 0 3.7 .7 1.1 .4 1.1 .8 .8 .8 .4 .8 .1 .8-.3 .8-2.1 2.4-.1 .8 .5 .4 3.8 1.3 .8 .6 .4 .8-.5 1.6-1.4 1.6-1.6 2.4-.7 .5-4.5 1.4-3-.3-.8-.3-.8-.6-2.2-2.3-.1-.8 .6-.8 2.8-1.6 .6-.8 .1-.8-.1-.8-.8-1.5-1.6-1.6-1.2-1.6-.5-1.6 .2-.8 .4-.8 .9-.8zM71.9 15.2l1.5 0 6.1 .7 8.3 2.4 .7 1.1 .5 1.6 1 2.1 .9 1 .4 .8 0 .8-.5 .3-3.8 .7-2.2 .1-.8 .3-2.1 2.5-3.9 3-1.5 .5-3.8 .6-1.3-.1-1-.3-.7-.5-1.5-1.6-.4-.8-.1-.8 1.1-2.3 .1-.8-.5-.8-1-.5-.7-.2-1.5 0-3.8 .6-4.5 1.3-2.3 .9-.7 .1-.9-.6-.2-1.6 .2-.8 1.2-1.6 .4-1.1 .8-1.2 2.1-1.6 2.6-1.6 2-.9zM7.2 22.4l.2 .1 .4 .8-.6 .4-.8 0-.8-.4zM46.2 43.1l1.6-.4 .6 .4-1.3 .2-.5 .6-1 .3-.2-.3zM52.2 43.1l.2 0 .2 .8-.2 .3-.3-.3zM55 43.9l.4-.4 3 .1 4.5 1.9 4.5 .9 3.8-.8 1.5 .2 2.3 .7 .5-.2 1.7-.4 3-.1 3-.7 1.6-.1 5.2 .4 3.8-.3 3.8 .1 2.2 .3 4.5 .9 3 1.1 .8 .5 .2 .6-.1 2.4-.6 2.4-.1 1.5 .5 3.2 .1 .3 .8 .5 .7-.3 .5-.5 2.2-3.2 1.1-.6 .7-1 1.5-1 2.3-2.8 1.2-.9 1.8-.7 2.3-.3 4.5-1.2 3.8-.1 2.2-.3 2.3 .2 0 16.4-1.5 .3-3 .2-16.6-.2-5.3-.7-14.3 .4-3.8-.3-6-.1-1.5-.1 .2-1.6 0-.8-.6-.8 .4-.8-.6-.8-.9-.3-.8 .1-.4 .2-.1 .8 .9 .8-.4 .8 0 .8 .9 1.6-3 .8-2.4 .2-8.3 .2-6-.7-4.5 .5-5.3 .3-9.8 0-7.5-.3-6.8-.1-7.5 .3-4.6 .4-6.7-.6-6.1-.8-2.2 .1-2.3 .4 0-16.8 1.5 .4 3.8 2.1 1.8 3.3 .5 .4 .7 .1 1.5-.2 .8-.2 .7-.6 1-1.1 1.6-2.4 .4-1.2 .8-.5 .7-.3 .6 .5 .6 1.5 .3 .4 .8 0 1.5-1.9 .8-.7 6.7 1 1.2 .4 2.6 1.8 .8 .1 3.7-.3 6.1 .3 .7 .4 .8 1 .7 1.5 .8 .8 2.2 0 3-.7 2.3 1 1.5 .9 2.3 .4 1.4-.8 .5-.8 .6-2.4-.1-.8-.3-.8-2.3-3.1z"/><path fill="#f9f0eb" d="M120.3 13l1.4-.2 1.5 .1 2.2 .8 1.1 .9 .2 .8-.1 .8-1.2 1.3-1.5 .6-2.2 .2-1.5-.5-1.3-.8-.6-.8-.3-.8 .2-.8 .7-.8zM69.6 17.8l2.3-.2 4.6 .2 1.5 .3 1.4 .5 1.4 .8 .9 .8 .3 .8-1 .8-3 1.1-6.1 .1-1.5-.3-2.5-1-1.8-.7-.7-.8 .5-.8 1.5-.8zM39 54.9l.6-.3 .7 0 1.1 .3 .6 .8 0 .8-.8 .8-.9 .3-.8 .1-.7-.2-.2-1z"/><path fill="#edf2f5" d="M121.1 13.8l2.1 0 1.5 .7 .4 .9-.3 .8-.9 .6-1.5 .3-1.5-.3-.7-.4-.6-1 .2-.8z"/><path d="M0 0h135.6v0.4h-135.6zM0 75.9h135.6v-0.4h-135.6z" fill="#fff"/><rect x="135.1" y="0" width="0.5" height="75.9" fill="#fff"/><use href="#cst"/></g><rect x="0" y="0" width="135.6" height="75.9" fill="none" stroke="#1a1a1a" stroke-width=".45"/><path d="M22.6 75.9 v2.1M45.2 75.9 v2.1M67.8 75.9 v2.1M90.4 75.9 v2.1M113.0 75.9 v2.1M0 12.7 h-2.1M0 25.3 h-2.1M0 38.0 h-2.1M0 50.6 h-2.1M0 63.2 h-2.1" stroke="#000" stroke-width=".5" fill="none"/></g><g transform="translate(195,209.45)"><g clip-path="url(#cp)"><rect width="135.6" height="75.9" fill="#fbccb4"/><path fill="#f6b394" d="M-.4 -.4l136.4 0 0 21.2-.3 .2-.6 1.5 .9 .3 0 12.8-2.3 .3-.7-.1-.8-.3-1.8-1.9-1-2.4 .4-2.3 2.5-2.4 .1-1.6 .9-1.6 0-.8-1.1-.8-.2-1.5 1-1.1 .7-.2 .3-.3-.1-1.6-1.9-.8-1.3-1.6-.9-1.6-1.4-.6-5.2-1.4-2.3-.5-.7 .1-1.2 .9-2.6 .5-2.7 1-.3 .8 1 1.6 .1 .8 .8 1.6-.4 .3-.8-.2-.7-.7-.8-.1-.7 .5-.4 1-1.6 .8-1.8 1.6-1.5 2.3-.8 .8-.7 1.1-.8 .3-.7-.3-.8 .1-1.5 .3-.7 0-.8 .3-.6 .6-.3 .8 0 1.6 .9 1.5-.7 .5-.8-.1-2.3-1.6-.7-1.2-1.5-1.5-1.3-2.4-.2-.8-.6-.8-.4-.8 .2-.2 .8-.1 1.2-.4 .4-.8-.3-.8-.6-.6-.8-.2-.9 .8-.4 1.6-.1 .1-.8-.3-.7-1.1-.3-1.9-.4-.8-2.3-1.6-3.8-.8-3-.3-3 0-2.3-.5-2.3 .4-3 .1-2.2-.4-3.8 0-.8 .4-.8 1.1-.7 .5-1.5 .7-.5-.4-1-1.6-2.2-.1-.9 .1-.4 .8-.2 2.8-.8-.8-2.3 2.1-1.5 .5-.7 1-.5 1.5-.3 .1-.7-1.2-1.5-.7-1 .3-.8 .7 .6 .8 .4 1.6 .9 1.6-.3 .8-.7 .8-2.9 1.7-.4-.1-.3-2.2-.4-1-.4-.4-1.5 .5-1.5-.4-.8 .8 .1 2.7 1.4 1.2 1.6-.1 .7 .4 .4 .8 .1 .8-.2 .8-.3 .3-.7 .2-1.6-.8-.7-.1-.4-1.2-.5-.8-.2-.8-.4-.7-1.5-.6-.8 .1-1.9 1.2-.6 1.6-.9 1.6-.3 .4-.8 0-.8-.6-.3-.6-.6-1.6 0-.8-2.1-2-2.2-.3-.8 .8 0 .8-.3 .7-.4 .6-2.3 1.3-1.5 .4-.8 .1-.7-.3-.7-1.3-.8-.9-.3 .9 .3 1.1 2.2 1.9 1.6 .7 0 .3-.8 1.3-1 1.1-.1 .8-1.3 1.5-.3 1.6 .1 2.4-.4 1.2-1.6 1.2-.7 1.7-1.5 .9-.4 .5-.3 1-.8 1-.7 .6-.8 .1-.1-.3 .5-1.6-.7-1.6 .9-1.5-.1-.8-.5-1.6 .1-1.6-.3-.8-.8-.8 .3-.8-.3-.8-2-2-2.3-1.3-.7-.3-2.3 .2 0-13.1 .8 .2 1.5 0 1-.3 .5-.3 1.7 1.9 1.3 .5 .8 .1 1.5-.3 1.5 .3 1.5-.1 1.2-.5 .5-.8-1-.4-1.5-.1-.7-.8-.8-1.3-1.5 .2-.7-.2-.8 .2-.8 .6-.4-.5-1.1-.2-.7 .7-.8-1.1-.7-.1-1.8 .7-.5 1.4zM10.9 19.1l-.3 1.1 .3 .1 1.4-.1 .8-.8-1.4-.7zM18.5 19l-.3 .4 .3 .8 .8 1.5 .3-.7-.6-1.6zM96 20.9l-.3 .8 .4 .3 .7 .3 .6-.6-.1-.7-.5-.3zM118.6 8l-.6 .3 .1 .8 .5 .5 .8 .2 .4-.7-.4-.8zM8.7 37.6l-.4 .7 .4 .7 .7 .3 .4-.2 .4-.5 0-.4-.8-.5zM11.7 35.7l-.3 .3 .3 .8 .7-.1 .6-.7-.6-.3zM53.7 19.4l.2-.6 .6 .6-.6 .6zM53.1 20.2l.3 0 0 .8-.3 1-.3-.3zM102.1 29.3l.4 .3 .3 1.1 1.3 1.3-.1 .8-.4 .6-1.9-1.4-.8-.8-.3-.8zM107.4 33.6l.7-.3 .8-.1 1.4 .4 .8 .4 .4 .4-.5 .8-.6 .6-.8 .1-1.5-.2-.8-.3-.1-.2-.2-.8zM43.9 36l.3 0 .6 1.6 .8 0 .7 .6 0 .9-.7 .8-1.5-.5-.8 .4-.7 0-.8-.5-.5-1-.2-.8zM36.9 36.8l.4-.6 .7 .3 .3 .3 .8 1.5 .7 .8 .1 .8-.3 .4-.8-.1-.4-.3-.4-1.6zM115.6 36.6l.5 .2 .3 .2 .2 .6-.2 .6-.6 .9 .6 .3 2.2-.4 3.1 .6 .5 .3 .6 .8 .1 .8-.4 .8-1.6 1.3-.7 .3-.8-.2-1.7-1.4-2.1-1.3-.7 .2-.3 .3-.5 1.6-.7 .6-.8 .2-1.5-.1-1.5 1.2-.7-.2-1.6-.9-1.3-1.6-.6-1.6 0-.8 .4-1.1 .8-.6 2.3-.5 3 0 2.2-.4 .8-.2zM50.6 39.1l.2-.2 1.6-.4 1.5 .1 1.2 1.3-.4 .8-1.6 .5-.7-.1-1.3-1.2zM62.1 39.9l1.6 .5 .6 1.1-.6 .6-.8-.1-1.4-1.3zM4.9 45.5l.8-.7 .4 .7-.5 .8zM46.4 45.5l.7-.6 .7-.2 1.4 .8-.6 .8-1.5 .3-.8-.1-.1-.2zM4.5 63.6l2.7 .2 4.5 .9 6 .3 6-.4 2.3 .1 8.3-.3 12.8 .4 3.7-.2 3.1 .1 7.5-.5 3.8 .3 9 0 9-.6 8.3-.1 3.8 .2 3.8-.2 3.7 .1 6.8-.2 3 .2 3-.2 6.1 .4 3.7-.1 4.5 .4 6.1-.6 0 12.5-3.4 0 0-.8-.4-.4-.7-.3-.3 .7 0 .8-78.7 0 0-.8-.9-.2-.4 .2 0 .8-51.6 0 0-12.4z"/><path fill="#ec9374" d="M-.4 -.4l136.4 0 0 12-3 .2-6.1-.8-4.5-1.6-.4-.3-.2-.8-.9-1.1-.7-.6-1.6-.2-1.5 .5-1.5 1.7-.7 .5-1.6 1.6-2.2 1.3-1.7 .3-.4 .7 1 .8-.2 .8-1.7 .5-.8 0-.2-.5 .2-.8-.2-.8-1.3-.9-4.5-.2-1 .4-.4 .7 1 1.6 .1 .8-.4 .3-.8 0-.8-.3-3.7-1.5-.8-.1-.3 .8 0 .8-.4 .4-.8-.1-.7-1.1-3-1.1-1.5 .5-.8 0-3.8-1.1-3.7-.4-2.3 .4-1.5-.5-2.3-.3-1.5-.4-6 0-2.2 .8-1.6-.1-3-.8-2.2 1-.8 0-3.7-.1-1.6-.4-2.2 .6-2.3-.6-1.5 0-.7 .2-1.2 .7 0 .8-.3 .6-.8 .7-3.8 .7-.6-.4-.3-.8 1.7-.9 .4-.7-.4-.5-.8-.3-1.5 .3-.7-.1-1.5-.4-1 .3 .1 .7 2.1 1.6-.4 .8-2.3 1.6-1.8 2.4 0 .8-1.7 .8-1.1 .1-.7-.1 .2-.8 .5-.6 .8-.4 1.5-.2 .4-.4 0-3.2 1.1-.3 .3-.5-.3-.6-.7-.1-.8 .8-.7-.7-.3-1-.5-.2-.8-.2-2.2 .5-3-1-.8 0-4.5 1.5-.8-.2-2.1-1.9-.9-.3-1 .3-1.2 1.5-2.3 .5-.1-.5-1.4-1-.7 0-.4 .3-.4 .7-.8 .6-.7 0-1.5-.8-1.5-1.2-2.3 .1zM51 13.8l.2 .8-.4 .6-.7 0-.5-.6 .5-.7zM8.5 15.4l.3 0-.1 .9-.3-.1zM44.7 15.4l.1-.3 .8-.3 .3 .6-.3 .3zM22.8 16.2l.2-.3 .7-.3 1.5-.1 .6 .7-.1 1.6-.7 .8-1.3 .6-.7 .1-.8-.2-.4-.5 .8-.8zM15.6 25.7l.6-.4 .7-.2 .5 .6-.5 1-.7 .2-.8-.2-.2-.2zM9.3 26.5l2.4 0 .3 .8-.3 .4-2.3 .3-.7-.1-.2-.6zM.8 28.1l2.6-.3 .6 .3 0 .8-.6 .1-.8-.6zM7.4 28.9l.5-.5 .8-.3 .7 0 1.5 1.4 0 .9-2.2 1.5-.8 0-.7-.2-.9-.5 .2-.8zM2.8 31.2l.6-.6 .1 .6zM2.6 64.1l3 .1 3.8 .9 2 .9 .7 .8-.4 .8 .1 .8-.3 .8 .2 .8-.3 .8-.5 .1-.7 0-1.5-.9-1.5-.3-1.6 .2-1.5 .5-.7 0-3.8-1.4 0-4.5zM136 64.4l0 4.9-1.5-.3-3.8 .4-1.5 .5-1.5 .1-1.5 .9-.8 .1-3.7-.8-9.1-.5-1.5 .1-2.2-.3-2.3 .4-1.5 .8-3-.1-1.5-.7-.8 0-2.2 .4-4.6 0-1.5 .5-2.2-.2-2.3 .5-1.8-1.1-1.2-.3-1.5 0-2.3 .3-3.7-.6-6.1 .5-4.8 1.7 .1 .7 1 .7 4.5-.1 3 .4 2.6 2.2 0 .8-15.1 0 0-.8 .5-.8 .1-.8-.9-.8-.8 0-.7 .3-.8-.1-2.2-.5-2.3-1.1-1.5-.1-1.5 .4-.3-.4-2.7-1-1.5 .4-4.5 0-1.5 .5-4.6-.7-.7 .1-1.5 .6-2.3-.1-3.8 .3-2.2-.5-1.5 0-.8-.2-.7-.6-.8-.1-1.5 .2-2.2-.6-.8 .4-.8 1-.7 .1-2.1-1.4-.3-1.6 .9-.7 .7-.1 2.3 .4 .8 0 1.5-.5 2.2-.1 2.3-.8 3.7-.8 1.3 .2 1 .8 .8 .1 .3-.1 .7-.8 1.2-.3 1.5 .2 2.3-.1 4.5 1.1 1.5-.4 .8 .1 3 .5 1.5-.2 2.2-.8 2.4 .7 1.4 .1 2.3-.7 3-.2 9 .2 7.6-.6 2.2-.4 3 0 3.8-.3 9.8 0 3.8-.2 9 .3 7.5-.4 8.3 0 6 .8zM20.7 72l.8-.2 .7 .1 .4 .4-.1 .8-.6 .8-.2 .8 .3 .8 0 .8-2.8 0 0-.8-.4-1.6 .5-.8zM104.3 72.1l.8 .2-.1 .8-.7 .5-.8-.5zM10.9 74.1l.8-.1 3 .5 .7 .2 .5 .8 0 .8-5.8 0 0-.8zM84.9 75.5l1.4-.3 .7 .2 .1 .9-2.2 0zM90.4 75.5l.6 0 0 .8-.6 0z"/><path fill="#dd7059" d="M-.4 -.4l136.4 0 0 9.6-4.7-.1-.6 0-1.5 .9-1.5-.1-.8-.4-1.5-.2-.7-.3-.8-.6-.7-1-1.6-1.5-.7-.3-1.5-.3-2.3 .1-.7 .4-1 .9-1.6 .8-2.2 2.4-1.1 .8-4.7 0-1.5 .4-3-.4-2.2 .5-6.8 .1-1.5 .3-3.8-.6-1.5 .7-2.3-.2-1.5 .2-3.7-.5-.7-.5-.8-.4-.8 0-1.5 .4-.8-.1-1.5-.7-2.2 .3-1.5-.1-3 .2-2.3 .7-1.5-.1-1.5-.6-.8-.1-1.5 .3-1.5 .7-.7 .1-1.8-.6-.5-.4-.7-.1-1.6 .2-4.5-.2-5.2 .8-3.1-.7-2.2 0-1.3-.4-1-.1-3 .6-.7 0-3.1-1-.7 .3-.8 .6-.7 .4-4.5-.3-.5-.5-1-.5-2.3 .4-1.5-.1-3 .5-1.5 .6-.8 0-.7-.3-3.1 .5-.7-.2-.5-.9-1-.5-3.8-.2zM-.4 65l2.3-.4 3.7 .1 2.2 .5 1.3 .8 .3 .8-.2 .8-.5 .4-4.6 .6-2.2-.1-2.3-.4zM123.2 65.1l3 .3 2.4 .6 2.1 .8 .4 .8-.4 .1-.9 .7-1.4 .4-4.5 .7-4.5-.1-4.5-.5-3.8-.7-.4-.6 .1-.8 .8-.8 4-.6zM134.2 65.2l1.8-.3 0 3.3-3.7-.6-.9-.8 .8-.3 .3-.5zM85 66l10.3 0 3-.3 3.8 .4 1.5-.1 3 .8 .6 .8-.6 .1-1.1 .7-2.7 .3-3-.3-4.5 .3-6-.3-2.3 .2-3-.5-1.2-.5 0-.8zM31.4 69.2l2.1-.6 .8 0 .1 .6-.9 .2z"/><path fill="#cc4c44" d="M-.4 -.4l136.4 0 0 7.8-2.3 0-2.2-.3-2.3 0-1.5 .3-1.5 .7-.8-.1-1.7-2.1-1-.8-1.8-.6-3-.5-1.5 .3-3 1.6-3 2-1 1.2-.5 .4-.8 .1-2.3-.3-1.5 .5-2.2-.2-3 .2-1.5-.8-2.3 .4-3-1.1-1.5 .3-1.5 1.1-.8-.1-1.2-.5-1-.9-.8-.2-4.5 .2-2.3 .4-3 0-9-1.1-5.3 .5-2.3-.3-.7 .4-1.2 1-1.1 .1-1.5-1.1-.7-.2-2.3 .2-2.3-.5-.7 0-.8 .2-.7 .6-1.5 0-1.5 .3-3-.4-1.5 .3-3.1 .2-2.2-.3-4.5 0-3.1-.4-3.7 .3-3.8-.2-5.3 .1-9.8-.5-2.2-.4-2.3 0zM.8 65.2l2.6-.3 2.2 .2 1.9 .9 0 .8-1.8 .8-1.6 .3-2.2-.1-2.3-.5 0-1.7zM115.7 66l3.7-.5 4.5 .1 3 .6 1.1 .6 .1 .8-1.3 .8-2.1 .4-4.5 .1-2.3-.2-1.9-.3-1.9-.8-.1-.8zM134.4 66l1.6-.6 0 2.1-1.7-.7z"/><path fill="#ba2832" d="M4.3 -.4l15.6 0 0 .8 1.6 .2 1.4-.2 0-.8 76.8 0 0 .8 1.6 .9 .8 .2 2.2-.4 .8 .1 1.6 .8 1.4 .9 1.8-.1 1.2-1.1 .8-.4 .7 .1 .9 .6 .8 1.6-.4 .7-5.8 1.8-1.5 .1-1.5-.4-.2 .9 .6 .8-.7 .8-1.2 .2-1.5-.3-1.5 .2-.8-1.8-1.5-.9-.7-.1-2.9 .3-.9 .5-2.3 0-1.5 .7-.7 .1-.8-1.1-1.5-.3-3 .1-6.8 .7-2.2 .4-3.8-.3-4.5-.7-3.8 .2-3-.2-3.8 .1-3-.4-6.8 .2-3 .6-2.2 .1-3.1 .8-6.7 .1-16.6-.2-10.6-.9-2.2-.4-2.3-.1 0-4 2.3-.1 1.5-.5 .9-.9zM124.7 .8l3 1 3-.1 5.3 .2 0 4-3.8-.7-3.8 0-1.5-.6-2.2 0-.6-.3-.7-.7-.2-.8 .2-.8zM.5 66l1.4-.5 1.5-.2 1.5 .2 1.2 .5-.3 .8-.9 .3-1.5 .2-1.5-.1-1.3-.4zM118.4 66l2.5-.2 3.2 .2 2.3 .8 0 .8-2.4 .8-3.1 .1-2.3-.1-2.4-.8-.2-.8z"/><path fill="#9f1228" d="M80 -.4l8.3 0 0 .8-.5 2.1-2.3-.2-.7 .2-3.1 1.8-6.7 1.3-3.8 0-4.5-.8-4.6-.2-1.7-.3-1.1-.7 .6-.2 3-1.7 1.5-.4 3 .6 3 .1 2.3-.4 4.5 .1 .8-.1 2-1.2zM16.2 1.5l4.5 .5 7.5-.3 2.3-.2 3-.1 1.5 .2 2.3-.2 3 .5 7 1.7-.5 .7-6.5 1.1-3 .9-15.1 .5-9.8-.5-4.5-.6-2.3-.5-1.5-.1-2.2-.8 1.3-.7 2.5-1zM2.5 66l1.8 0-.9 .4zM117.8 66.8l1.6-.5 1.5-.1 2.3 .2 1.6 .4-.1 .8-1.5 .3-2.3 .2-1.5-.1-1.4-.4z"/><path fill="#790622" d="M15.4 2.8l10.6-.1 7.5 .2 3.7 .7 .5 .7-1.1 .8-3.1 .5-11.3 .5-6-.2-3-.3-3.8-.8-1.2-.5 2-.8zM119.8 66.8l2.7 0-.8 .7-.8 .1-.7-.3z"/><path fill="#67001f" d="M28.2 3.5l2.3 .6 2.7 .2-5.7 .9-6 .2-5.3-.2-2.7-.9 2.7-.6z"/><path fill="#fce2d2" d="M120.9 11.8l1.5 .1 2.3 .6 2.2 .8 .7 .5 .5 .8 .2 1.6-.3 .8-1.1 1-4.5 1.8-1.5 .2-.7-.1-1.6-.9-1.5-1.4-.6-1.4-.1-.8 .6-1.6 .7-.8zM69.6 17.8l1.6-.4 3 .6 2.3-.4 1.5 0 3 1.3 1.5-.1 2.3 .8 2.2 .4 .8 .3 1.6 3-.1 .3-1.5 .3-1.5 .7-1.5 .2-1.6-.2-.6 .3-.9 1.6-1.4 1.6-.1 .8-.4 .7-.3 .2-.8 .1-1.5-.8-1.5 .5-1.5-1.5-1.5-.5-.8 0-1.5 .8-.7 .1-.9-.4-.5-.8-.1-.9-3-.9-1.5-1.2-1.4-1.8-.3-1.5 .3-.8 1.4-1.8 3.7 .2 .8-.1zM124.5 26.5l.9-.7 .8-.1 .7 .3 .4 .5-.6 .8-.5 .2-.8 0-.6-.2zM90.8 45.3l.7 0 .8 .5 .7 .1 2.3-.5 .7 0 .4 .9-1.8 .7-.8 .7-1.5 .7-.8 .8-1.5 1-.1 .8 .9 .7 .7-.2 .8-.8 1.5-1 .8-1.1 2.2-1.4 4.5 .4 1.5 .2 2.3-.7 .7 .5 2.3 2.2 .1 .4 .1 .8-.7 2.4 0 .8 .6 3.1-.5 1.6-.1 .8 .5 .7 .8 .3 .7-.2 1.6-2.4 .1-3.9 .6-.4 1.5-.2 .3-.2 4.9-4.5 .8-.3 4.5 .2 2.3-.5 .6 .3-.4 .8-.4 3.2 .2 .4 .7 .1 2.5-1.3 .4-.8-1.4-1.9-.6-.5 .6-.7 .8-.1 3 .3 1.5-.1 .8-.2 1.5-.9 0 16-4.5 .2-5.3-.3-4.5 .3-6.8-.7-3 .1-4.6-.5-6 .7-3-.1-3 .4-1.5-.1-2.3-.5-6 .1-2.3-.4-1.5 .5-1.5 .3-9.8 .2-6.7-.1-2.3-.3-3 .5-12.8 .3-3.8-.1-6-.7-2.3 .4-5.3 .2-6 0-4.5 .4-2.3-.3-4.5 .1-5.3-.8-6 .2 0-15.5 .8-.5 .7-.1 3 .4 .8 .4 .5 1 .7 2.4 .7 1.6 .4 .3 .7 .2 1.5-.2 .8-.5 2.1-2.2 .2-.8 1.3-1.6 .1-.6 .8-.7 .7-.1 .6 1.4 .9 1.2 .8 .1 1.5-1.8 2.3 .4 2.2 .1 1.5-.1 1.5-.5 2 1.4 1.8 .8 .9 0 1.4-1.1 2.2 .5 2.3-.2 1.4 1.6 1.6 .2 .5-.2 1-1 .8 .9 .9 1.7 .6 .5 .7 .3 1.5 .2 2.3-.9 .7-.1 2.3 1.2 1.5 1.4 1.5 .1 .8-.1 1.8-1 .7-.8 .3-.8 0-2.4-.2-.8-1.1-1.6-.2-.7 .2-.5 .7-.2 1.5 .5 1.5-.6 .8 .2 .5 .6 .1 2.3 .1 .4 .8 .6 .8 0 .2-.2 .6-1.6 .7-.5 .7-.1 3 .6 .8-.1 1.5-.8 .7 .1 .8 .5 .7 .1 .8-.4 .8-.1 1.5 .7 1.5 1.1 .7-.2 .4 .7 1.1 .7 1.5-.2 1.5 .2 .8-.5 .8-1.3 1.5-.9 1.5-.2zM65.9 54l0 1 .8-.8zM74.2 48.4l-.8 .4-.2 .6 3.3 3 .7-.2 .3-.4-1-1.6-1.5-1.4zM80.2 56.6l-.7 .4-.3 .3 .1 .8 2.9 1.6 .3 1.2 .7 .8 .4-1.2-.9-1.6 .1-1.6-.3-.5-.4-.3zM78.9 47l.6-.6 .7 0 1.5 .4 .4 .2-.7 .8-1.9 .7-.6-.7z"/><path fill="#f9f0eb" d="M120.1 13l.8-.2 1.5-.1 2.3 .7 .8 .4 .8 .8 .3 .8-.1 .8-1.1 1-2.2 .7-1.5 0-2.3-.7-1-1-.2-.8 .1-.8 .6-.8z"/><path fill="#edf2f5" d="M120.8 13.8l1.6-.2 1.3 .2 1.1 .8 .3 .8-.4 .8-1.5 .7-.8 .1-1.5-.4-.8-.4-.4-.8 .2-.8z"/><path d="M0 0h135.6v0.4h-135.6zM0 75.9h135.6v-0.4h-135.6z" fill="#fff"/><rect x="135.1" y="0" width="0.5" height="75.9" fill="#fff"/><use href="#cst"/></g><rect x="0" y="0" width="135.6" height="75.9" fill="none" stroke="#1a1a1a" stroke-width=".45"/><path d="M22.6 75.9 v2.1M45.2 75.9 v2.1M67.8 75.9 v2.1M90.4 75.9 v2.1M113.0 75.9 v2.1M0 12.7 h-2.1M0 25.3 h-2.1M0 38.0 h-2.1M0 50.6 h-2.1M0 63.2 h-2.1" stroke="#000" stroke-width=".5" fill="none"/></g><g transform="translate(358,209.45)"><g clip-path="url(#cp)"><rect width="135.6" height="75.9" fill="#edf2f5"/><path fill="#f9f0eb" d="M-.2 -.4l16.6 0 0 .8-1.3 .8-1.2 .2-3-.3-3 .3-2.2-.4-3.1 .5-1.5-.3-1.3-.8zM17.3 -.4l71.1 0 0 .8 .1 .1 .1-.9 11 0 0 .8-.5 .8 1.1 1.6 0 2.3 .3 .8-.2 .8-1.2 1.4-1.5-.2-.8-.5-2.3-.7-1.6-.8 .5-.8 .4-.2 1.5-.1 1.3-.5 .1-.7-2.9-.6-2.3 .7-.7 0-.8-.4-1.5-1.5-.7-.3-.8 .6-.7 1.3-.8 .5-1.8 2-2 1.5-.7 .3-1.5-.3-1.5 .2-.8-.2-.7-.5-.8-1.2-.7-.4-1.6-.3-1.5-.4-3 .5-1.5 1.2-.7 0-.7-.4-.5-.8-.9-.8-2.5-.5-.7 0-1.5 .4-3.8-.1-2.2-.6-3.8 .1-2.3-.5-3.4 .5-1.7 .7-.5 2.4-1.1 1.1-.8-.1-1-1-3.5-2.6-2.3-.5-.7 0-.8 .3-1.5 1-.7 0-.3-.6-.5-.3-2.3-.3-2.2-.6-2.3-.8-2.2 0-1-.3-1.4-.8-.3-.8zM109 -.4l22.1 0 0 .8-.4 .8-.8 .4-2.2 .3-2.3-.3-1.5 .8-.3 .4-.2 .8 .3 1.5-1.2 1.6 .2 .8-.3 .3-1.5-1.1-1.5-.7-.8-.9-1.5 .5-1.5 .2-.4 .9 1.4 3.2-1 1.5-2.2 1.3-.8 .1-.3 .2-.4 .9-.9-1.6-1.4-.5-.7 .2-.8 .9-.8-.2-.3-.4 .1-.8-.2-.8 .4-.7 .8-.4 .2-.5-.2-1-.8-.3-1.5 0-.7-.3-1.8-.8-.6-.8-.4-2.3 .5-.3 1.5 0 1.7-.5 3-2.4zM132.8 -.4l2.2 0 0 .8-1.3 .4-.7-.2-.2-.2zM135.4 -.4l.6 0 0 1.1-.6-.3zM22.4 5.9l.6-.3 .7-.2 2.3 1 .7 0 .8 .5 1.1 1.4-.2 .8-.9 .9-.8 .1-.7-.2-.8-.8-.7-1.2-1.5-1.2zM18.3 6.7l.9-.3 1.5 .1 .4 .2 .1 .8-.5 .5-1.5 0-.7 .2-.8-.7zM91.4 7.5l.9-.1 .7 .9 .2 .8 0 .8-.7 1.6 .5 .3 2.3 .6 .7-.1 .4-.8 1.2-.6 1.5 .1 1.5-1.4 1.5-.2 1.3 .5 .4 .8-2.5 3.1-2.2-.7-1.5-.7-.8-.1-.7 .7 .5 .8 .1 .8 1.5 .8 1.6 .6 .8 .1 1.5-1 .7 0 3 .5 .9 .6-.2 2.4-.7 .9-1 .7-.1 1.5 .2 .8 0 .8-.6 .7-.7 .4-1.5-.3-2.3 .6-.1-.6 .5-.8 .5-1.6 .6-.7 1.9-.8 .6-.8-1-1.8-.8 .2-.7 1.3-1.6 .3-.3 .8 .1 .8-.6 .7-1.3 1.2-.8 .2-.8-.2-1.5-1.4-2.2-1.3-.5-.8 0-.8 .5-.8 .7-.1 2.3 .4 .3-.3-.5-.8 .1-.8 .3-.8 .1-.8-1.1-.3-1.5 0-.7 .3-1.5 2.1-2.3 .4-1.5-1.6-.2-.1-.5-.8 1.2-.8 .1-.8-1-2.3 .4-.7 4.5 2.5 .8-.2-.8-.8-.7-.4-.5-1.2 0-.8zM18.5 8.4l.3 .7-.3 .8-.8 .1-.8-.1 0-.2 .8-.3zM48.6 8.8l.7-.1 .3 .4 0 .8-.3 .3-.9-.3zM52.5 9.1l1.4-.8 .5 .8-.3 .8-1.7 .8-.3 .8 1.3 1.5-1 .3-2.3-.4-.6-.6 .1-.8 .5-.6 1.1-.2 .4-.3 .2-.5zM80.1 9.1l.9-.3 .3 .3zM118.2 9.1l.4-.6 .8 .1 .8 .4 .7 .9 .8 .4 2.2-.3 1.1 .7 .2 .8-1 .8-.4 .7 1.1 1.6-.2 .8-.8 .4-.7 0-1.5-.3-.8-.4-2.8-2.1 1-1.5-.2-.8-.6-.8zM15.4 10.5l.3 .2-.6 .8-1.2 .6-.7 .1-.6-.7 .6-.8zM57.4 10.7l1-.5 .7 0 .8 .4 1.1 1.7 0 .7-1.1 1-.8 0-1.5-1.7zM46.3 11.5l.3 .8-.3 .1-.7-.1zM127.2 13l.5-.4 .7 .2 .2 .2-.9 .4zM112.4 14.6l.2-.4 .8 .4 .8 1.6-.1 1.2-.1-.4-.6-.5zM53.7 15.4l2.2 0 .5 .8-.3 .8-.7 .6-1.5-.3-.6-.3-.4-.8zM113.5 17.8l0 .8-.3 1.6-.6 .8-.7 .4-.8 .2-3-.1-1-1.3 4-1.9zM33.2 19.4l1.1-.7 .7 .1 .9 .6-.9 .7-1.5 .4-.3-.3zM29.5 21.7l1-.1 .6 .1-.1 .8-2 1-1.3-.2 .2-.8zM23.2 22.5l.5-.4 1.5 .7 2.2 .5-.1 .8-.5 .8 1.6 1.6 .2 .8-.1 .8-.3 .2-1.8-1.8 .2-.8-1.4-.3-.7-.5-.6-.8-.9-.8zM45.3 22.5l.3-.1 .5 .1 1.1 .8 .1 .8-.2 .3-.8 .5-1.7 .8-.2 .8 .4 .1 .8 .7 1.8 2.3-1 .8-.8 .5-.8-.1-.7 .2-.6-.6 0-1.5 .2-.8 .5-.8-.4-.8-1.2-.4-.6 .4-.4 1.6-2 1.6-.8 .3-.8-.2-.9-.9-.8-2.4-.1-.8 .7-.8 .4-.3 .7 .1 .8 .6 1.5-.9 .8-.1 1.5 1 .7 0 .8-.6zM65 24.1l1.7-.4 .7 0 .9 .4 .6 1.4 .8 .1 3-1.3 2.3 .1 .7 .2 .8 .3 .5 .8 .5 1.6-.2 .8-.8 .2-.8-.2-1.5-.9-2.3-.5-1.5 .9-.7 .2-2.3-.3-2.2-1.2-.7-.6 0-.8zM130.7 26.5l.8-.2 .5 .2-.3 .8-.2 .1-.8-.1zM5.4 29.6l.2-.3 .8 0 .1 .3-.1 .5-.8 .7-.2-.4zM12.2 29.6l.2-.5 .4 .5-.4 .3zM131.4 29.6l.8-.5 .8 0 .7 .4 .3 .9-.5 .8-.5 .3-.8 .2-.7-.1-.5-.4-.2-.8zM.2 32l.9 .1 .8 .7 .2 .8-.2 .8-.8 .3-.7 0-.4 .5 .4 .2 1.5-.2 .7-.3 1.5 .4 .8 .1 1.2-1 .2-.8-.3-.8 .4-.7 1.7 .7 .5 .8 .2 .8-.4 .8-.7 .8-.5 .2-.8 0-.3 .6 .3 .8 .8 .4 1.5-.5 1.5 .6 .2 .2 .1 .8-.3 .7-1.2 .9 .4 .9 .7 .7-.7 .4-.4 1.2 .1 .8 .5 1.6-1 1.5-.8 1.6-1.4 .7-1.5 .2-.6 .7-.2 .8 1.5 1.6 .7 1.5 1.5 1.6-.2 .8-1 1.6 .5 .8 1.6 .1 .7-.2 .8-.8 .7-.5 .8 .2 .4 .4 .4 .8-.1 .1-1.5 .3-.6 .4 .1 .8 .6 .8 3.6 1.5 .8 .2 4.6-.8 2.2 .1 1.5-.2 1.5 .1 3.8-.7 1.6 .6 2.9 .2 2.3 .6 3.8-.2 2.2-.4 1.5 .7 .8-.2 1.5-.8 .7 0 .8 .3 2.2 .2 1.9 1.1 .4 .1 2.3-.5 1.5 .7 2 .5-.5 .1-2.3 1.4-.7 0-1.5-.5-.8-.5-.8 0-1.1 1.1-1.9 .8-3.7-.5-2.3 .5-4.5-.7-1.5 1.1-3.8 .5-1.5-.3-1.5-.9-.8-.2-2.2 .3-1.5-.3-2.3 .5-2.2-.1-.4 .1-.6 .8-.5 1.6 .7 .3 2 1.3-.5 .4-.5 1.1 .5 1.5 .4-.7 .4-.1 .5-.7 .3-.8-.5-.7 .2-.8 1-.4 1.5 .6 1.5-.3 .7 .1 1.5 .9 .8 .2 .3 .4-.6 .8-.1 .8-.4 .6-1.5 .5-.7 .5 0 .8-4.8 0 0-.8-.5-.7-.2 .7 0 .8-7.3 0 0-.8-1.5-.8-.8 0-.7 .7-.2 .9-1.9 0 0-.8-.9-.8-.9 0-.7 .3-.3 .5 0 .8-2.4 0 0-.8 .8-1.6-.4-.8-1.3-.8-.9-.9-.7-.1-.4 .3 0 .7-.4 .5 0-16.3 .8 .3 1.7-.3 .2-.8-1.2-.8-.6-.7-.2-.8 .1-.9 1.5-1.5 .9-1.6-.8-2.4-.1-.7 .3-.8-.1-.8-1.7-1.2-.8-.2 0-1.5 1-1.1 1.2-.8 .2-.8-.3-.8-.6-.6-1.5-.2 0-4.1 .1-.6zM3.4 58.9l.7 1.2 .8 .4 .7-.2 .7-.6-.7-.8-.7-.3-.8-.2zM14.7 68.3l0 .9 .2 .8 1.3 .8 .8 0 .4-.8-.5-.5-.3-1.1-1.2-.5zM3.4 69.7l-.4 .3 .4 .8 .7-.5 .2-.3-.2-.3zM136 31.9l0 2.8-.4 .5 .4 .2 0 2.1-3-.1-1.5 .5-1.1 .4 0 .8-.7 .8-1.3 .9-1.5 .2-1.5-.2-.5-.9 .2-.8-.4-.5-2.3-.5-1.5-1.1-.8-.2-.3-.8 .4-1 2.2-1.2 .8 0 1.1 .6 1.1 1.9 .8 .1 .7-.2 .8-.7 .8-1.1 .1-1.6 .6-.5 .7-.1 1.6 1.6 3 .4 .7-.6 .1-.8zM43.3 32.6l1.5 .8 .8 0 .7-.4 .8 .3 1 1.1 .5 .8-1.5 .3-1.5-.3-.8 .1-.7 .5-.8 1.2-1.5-.3-.7 .1-1.7 .8-.2 .7-1.9 .8-.6 .8-.6 2.4-.3 .2-.8-.2-.7-.8-.3-.8-.9-1.6 .4-.6 1.5-.1 .8-.5 1.5-.4 .3-.7-.3-.8 .1-.8 .6-.9zM97.4 32.8l2.4-.3 .3 .3-.3 .9-1.5 .7-.7-.4-.3-.4zM28.8 33.6l1-.3 .3 .3-.2 .8-.9-.3zM52.4 33.6l.7-.5 .8-.1 .2 .6-.2 .8-.8 .3-.7 0-.5-.3zM103.9 34.4l1.2-.6 .7 .1 .8 .9 .7 .4 2.3 .1 .8-.2 .7-1.1 .8-.3 2.2 .4 1.5-.3 .8 .2 .8 .4 .3 1.6 .4 .5 1.5 .8 .2 1-.9 .8-1.6 .9-.6 .7 3.7 2.7 .7 .1 .8 .4 1.5-.2 1.1 .2 .6 1.6 .2 .8-.4 .2-1.3-.2-.2-.6-.8 .1-3 .9-1.8 1.1-.5 .8 .6 1.6-.2 .8-.4 .8-.7 .7-1.4 .9 .1 1.5-.3 .8-.7 .3-2.2 .4-1.5-.3-.8 .2-.7 .4-.8 1.2-.8 .7-2.2-.8-.8 .2 .2 .9-.2 .8-.7 .4-.8 1.2 0 .8 3.8 1.2 .7 0 1.9-.4 1.2-1 1.2 .2 1.8 1.4 1.5 1.7-1.5 .7-1.5 0-.7 .9-.3 .8-.5 .5-1.2 .3 1.9 .7 1.5-.5 2.3 .7 3.5 .7 .5 .8-.1 .8 .2 .7-.4 .3-1.5-.2-2.2 1.2-1 .3-.2 .8 .4 .7 .1 .9-5.7 0 0-2.4 .4-.8-2.3-1.4-1.5-1.6-.8 .1-.3-.2 .3-.3 .8 .1 .9-1.4-2.4-1.3-3 0-.8 .1-.7 .5-1.5-.3-3.1 .2-1.5-.3-3.7 .6-3-1.1-.8-.1-3.8 .9-2.2 .1-.8 .2-.8 1.3-.7 .4-.7 .3-.8 0-6.8-.1-4.5-.5-1.5-.4-1.3-1.3-.1-.8 .4-.8 0-.8 1-.8-.8-1.3-.7-.6-1-.4 .2-.3 .2-1.3 .6-.7 1.5 .1 .8 .4 1.5 2.2 2.2 1.8 5.3 .6 2.3-.4 .7 0 2.3 .5 .7-.1 .5-.5 .2-3.9 .5-.8 1.1-.3 .7-.1 .8-.4 .1-1.6 .4-.8-.7-.8 .2-.8 .7-.2 .8-.2 .8 .1 1.5 .7 .7-.1 .8-.6 .7 0 1.5 .7 4.5-1.2 2.3-1.1 2.6 .4 .6 .8-.2 .7 .8 .6 .7 .1 .8-.2 1.5-1.1 1.5 .4 .7-.1 1.2-.4 .1-1.6-.5-.8-.1-.8 1.6-.5 .8-.4 1.5 .3 .7-.2 .6-.8-.2-.8-2.3-1.6-.3-.7-.8-.7-1.7-.1 .5-.8-.2-.8 .5-.8 1.7 .2 3-1.3 .7-.8 1.5-.6 .4-.7-.4-1.2-.7-.1-1.5 .2-2.3-.2-2.3 .7-.7 .2-.8-.2-.7-1.2-2.3-.7-.3-1.4zM93.8 58.9l1.5 .8 .8 0 .4-.8-.5-.3zM96.8 55.3l-.6 .4 .6 .7 .7-.7zM108.3 51.8l-.5 .8 1.1 .6 1.2-.6 0-.8-.5-.3zM75.6 36l1.6-.6 .8 .1 .8 .5 .1 .8 .8 .8 .1 .7-1.1 1.5-.7 .2-.7-.9 .4-.8 .8-.7-.5-.5-1.5-.3-1.5 .8-.3 0-.4-.8zM87 36.4l.8-.2 .7 .1 .8 .6 .7 .2 2.3-.9 3.7 .3 .8 .3 .7 .8 .5 .7 0 .8 .3 .2 .8 .1 .2-.3 2-.9 .8 .3 .7 .6 0 .8-.7 .3-2.4-.3-.6 .8 .1 1.6-.2 .8-.7 .5-2.3 .9-1.5-1.2-3 2.1-.7 .1-2.3-1.3-2.2-.5-1.5-.7-1.5 .1-.8 .5-.8 .1-1.5-1.1-.2-.3 .4-.8 1.4-.8 1.4-1.8 .8-.4 2.3 .4 .1-.6-.2-.7zM93.8 39.9l-1 .8-.1 .8 1.1 1.1 .5-.3 .1-.8 .4-.8 .5-.5 1.8-.3-.3-.2-.8-.1zM57.6 37.6l.8-.2 .2 .2 .1 .7-.3 .3-.6-.3zM70.3 37.6l.9-.5 .7 .4 .3 .8 .7 .8 .5 1.6 1.1 .8-1.1 .7-.7 0-.8-.1-1.5-1.2-.7-.3-.5-.7zM53.8 40.7l.8-.5 .8 .5 .7 .8-.7 .2-.8-.6-.7-.1zM136 40.9l0 2.6-1.1-.4-.3-.8zM10.2 42.3l.7-.4 .3 .4-.3 .4zM40.1 42.3l1-.2 .8 .2 1.5 .8 0 .8-1.2 .8-.4 .8 0 1.5 1.1 .8 1.9 .1 1.3-.9 2.2 0 3.3 1.1 1.5 1.3-.3 .8-.4 .7-.8 .3-.8-.2-1.5 1.2-3-.2-1.5 1.1-.7 .1-1-.6-.5-1.9-1.5-2.4-.8-.3-1.5 .1-1.5 .7-.5 .6-.3 1.6-.7 .6-.8-.4-.7-.9-1.5-.2-.6-.7-.3-.8-.1-.8 0-.8 .2-.2 .8 .2 1.5 1.6 .7 .4 1.3-.4 .3-.8 .7-.8 .7-.3 .4-.4-2.5-1.6 .3-1.6 .3-.5 1.5 .4 .8 0zM32.5 43.1l.3-.3 .8 .3 .4 .8-.5 .8-.7-.6zM16.9 46.3l0-.5 .8 .2 .2 .3-.2 .2zM71.2 47.8l.5 .8 .1 .8 .1 .3 2.3 .8 .8 1 .4 1.1-.3 .8-1.7 .5-.7 0-.5-.5-1-1.7-.8-.4-1.5-.3-.6-.8 .1-.8zM74.6 47.8l.4-.3 .7 .2 .8 .4 .3 .5-.3 .5-.8-.1zM11.3 48.6l.4-.1 .3 .1-.3 .4zM28.2 49.4l1 0 1.8 .8-.5 .6-.7 .3-1.6-.7-.1-.2zM54.9 49.4l.9 0-.4 .4zM27.1 51.8l.4-.3 .7 .3 .3 .8-1 .3-.8-.3zM123.7 51.8l.2-.4 .8 .1 .2 .3-.2 .4-.8 .2zM55 55.7l.4-.6 .5 .6-.5 .3zM133 55.2l1.5 1 1.5 .6 0 14.5-.4 .3 0 .7-.4 .5-.7 .1-1.7-.6-1.7-1.5-.1-.8 2-.7 .9-.9 .3-.8-2-1.1-4-1.3-1.7-.8-.1-.8 1.3-.5 2.2 .2 2.3-.3 1.5 .2 .7-.3-.2-.8-.9-1.6 .2-.8 1.5-1.6-.5-.6-1.8-.2-.5-.8zM123.9 56.5l.8-.2 .7 .2-.7 .3-.8-.1zM62.9 57.3l.8-.4 .6 .4-.6 .4zM57 58.9l2.1-.5 .8 .1 .5 .4 .1 .8-1.4 .3-.4 .5-.3 1.2-.8 .3-.7-.1-1.7-.6-.6-.5-.2-.3 .2-.2 1.5-.6zM75.7 58.9l1.5-.2 1.2 1-.4 .4-.8 .2-2-.6zM119.2 62.1l1-.3 3 0 .5 .3 .3 .8-.2 .7-.9 .8-2 .3-3.5-.3 .5-.6 .7-.4 .5-.5zM57.8 62.9l.6-.5 1.5-.1 .2 .6-1 2.3-.7-.1-.6-.7-.3-.8zM96.9 69.2l2.2-.5 .7 .1 .7 .4 .8 1.6-.1 .8-.6 .8-.8-.1-1-.7 0-.8-.5-1-1.5 .4-.4-.2zM83.2 69.8l.8 0 .8 .2 1.1 2.3 1.1 .8 .8 .3 .8-.3 .7-.6 .7-.4 1.5 .3 .8 .7 1.7 .8 .7 1.6 0 .8-2.5 0 0-.8-.7-.6-.7-.3-.8 .3-.6 .6 0 .8-1.8 0 0-.8-.6-.5-.7 0-1 .5 0 .8-7.7 0 0-.8-.4-.7-1-.9 0-.8 .3-.4 .7-.7 1.5-.7 1.5-.4 1.5-.2zM53.7 72.3l.9 0 1.5 .9 2.3 .7 .3 .8-.3 .8 0 .8-7.4 0 0-.8 .6-.8 .8-.3 .4-.5 .3-1.1zM39.5 73.1l.8 .1 .2 .7-.9 .9-.4-.1-.2-.8zM101.2 73.9l.1-.3 .8 .3-.8 .2zM34.3 74.7l.7-.3 .3 .3 .1 1.6-.9 0 0-.8zM118.3 75.5l.3-.3 .8 .1 .2 1-1.3 0z"/><path fill="#fce2d2" d="M24 -.4l20.4 0 0 .8 .4 .5 1.5-.1 1.5 .2 .8-.3 .3-.3 0-.8 34.1 0 0 .8-1.3 .9-1.5 .3-2.2 1-3 .8-2.3-.4-2.3 .4-2.2 0-1.5-.3-1.5-1-.8-.2-7.5 .7-6.8-.5-2.3-.8-3 .1-2 .6-1.7-.2-6.1 .6-3.7-.4-.8-.5-3 .4-3.2-.7-.3-.8zM93 -.4l2.9 0 0 .8-.6 .8-1.1 0-1.2-.8zM113.3 -.4l10 0 0 .8-.9 1-1.5 .7-1.5 .1-1.5-.4-1.5 .4-.8-.1-.7-.1-1-.8-.6-.8zM110.5 5.9l.6-.2 1.5-.2 .8 .1 .7 .6 .9 2.1 0 .8-.2 .8-.7 .7-.7 .4-1.5 .1-1.5-.5-.8-.6-.3-.9-.1-1.6 .4-.8zM96.8 20.8l.6 .2-.6 .5zM38.9 28.1l.7-.6 .3 .6-.3 .2zM3.8 38.3l.3-.6 .8 .5 .5 .9-.5 .5-.8-.3zM.4 64.4l3-.5 2.2 .2 2.3-.2 3 .1 5.2 1.2-1.4 .8-2.3 .6-3.7 .2-2.3 .5-2.3-.6-3 0-.7-.3-.8-.6 0-1zM134.7 65.2l1.3-.8 0 2-.6-.4zM68.1 66l2.3 .1 3 .3 1.6 .5 1 .7-.5 .8-1.3 .4-1.5 .3-3 .1-1.5-.1-3-.6-.4-.1-1-.8 .8-.8 .6-.2zM11.9 67.6l.5-.3 .5 .3 0 .8-.5 .5-.4-.5zM13.1 71.6l.8-.4 .8 .2 1.5 2.1 1.5 0 1.3 2 0 .8-2.8 0-.1-1.6-.7-.5-1.5-.3-1.3-.8 0-.8z"/><path fill="#fbccb4" d="M51.7 -.4l5.8 0 0 .8-1.4 .2-.8 .6-2.2 .1-.7-.3-.7-.6zM67.1 -.4l11 0 0 .8-1.1 .8-4.3 .3-1.5 .7-.8 .1-2.2-.3-.8-.4-.4-.4zM111 6.7l.9-.3 .7 0 .8 .3 .6 .8 .2 .8-.1 .8-.6 .8-.9 .4-.7 0-.8-.2-.7-.4-.4-.6-.1-.8 .3-.8zM67.7 66.8l1.2-.1 2.4 .1 1.4 .4 .9 .4-1.1 .8-2.8 .3-2.4-.3-1.2-.8z"/><path fill="#f6b394" d="M111.1 7.5l.8-.3 .7 0 .5 .3 .4 .8-.3 .8-.6 .4-.7 .1-.8-.3-.2-.2-.2-.8z"/><path fill="#dae9f2" d="M2.3 2.8l3.3-.6 3.1 .2 2.2-.1 3.8 .3 1.1 .2 1.7 .8 0 .7-.7 .8-3.6 .6-2.3-.3-3 .2-1.5-.5-2.3 1.2-.7 .2-1.5-.3-.8 .1-.7 .4-.8 .7 0-4.6zM134.2 2.8l1.8 0 0 3.9-1.5 1.2-.8 0-.6-.4 .3-.8-.1-.8-1.8-1.1-.3-.5 .8-.7 1-.6zM125.2 7.5l.2-.2 .4 .2 .3 .8-.7 .2-.3-.2zM36.4 8.3l.2 0 .1 .8-.2 .2-.7-.1zM43.5 8.3l.6-.2 .1 .2-.1 .3zM55.9 8.3l.2-.3 .8 .1 .4 .2-.1 .8-1.1 0zM61.1 9.1l.3-.3 .7-.1 1.6 .3 3-.3 .7 .4-.7 .5-1.5-.3-1.5 0-.8 1.2-.8 .2-.7-.6zM-.4 9.9l.8-.5 .7 0 2.3 1 2.2-.9 2.3-.4 .8 .2 2.2 1.8 1.4 1.9 .2 .8-1.7 .8 0 .8 .4 .8 .5 1.7 2.2-1.3 .8-.1 2.2 .4 1.6-.3 3 1.1 .7-.4 .2-.3-.3-1.6 2.4-.1 1.1-.7 .4-.8 .6 .8-1.3 3.2-1.6 1.3-2.4 1.1-.9 .8 .4 1.5-.4 .8-.4 .2-.8 0-.8-1-1-.8 0-.7 .3-.2 .3-.6-.3-.9-.8-.2-.5 1.1 .3 .8-.5 .5-2.3 .5-.5 .5 .1 1.6 .4 .8-.4 .8-.3 .1-.8-.5-.1-.4-.6-.5-1.9-.3-1.1-.8-.8 .2-.7 .7-.8 .2-.8 0-.7-.2-.7-.9-.2-.8-.6-.5-1.5-.8-.8-.6-.6-1.2 0-.8 .9-.8 .3-.8-.9-.8-.7-1.6 .1-1.6-.6-.3zM.7 12.3l.5 .7 1.4 .1 .7-.8-.7-.8-.7 0zM7.9 20.5l-.7 .5 .2 .7 1.3 1.6 .7-1.8 .4-.5-.4-.6zM23 9.7l.7 .2 1.5 1.3 .8 .3 .7 .6 0 .5-.7 1.2-.3-.8-1.4-.7-1.3-1.3-.8-.1-.7 .6-1.5 2.2-3.1 1.2-.7-.3-.5-.8 .2-.8 3.3-2.3 .8-.3 1.5-.1zM136 9.4l0 6-.3-.8 .1-1.6-2.1-1.4-.7 .1-.4-.2 .4-.4 .7 0 .2-.4zM36.5 10.7l.7 .8-.7 .4-.8-.4 .1-.4zM39.7 10.7l.6-.1 2.3 .3 .6 .6-.3 .8 .5 2.3-.8 .7-.8 .3-3 .2-.8-.1-.5-.3-.4-.8 1.9-1.6 .3-.7-.2-.8zM67.8 10.7l1.9-.6 1.5 .3 2.2-.3 .8 .3 .5 1.1-.3 .8 .6 1.5-.6 .8 .6 .5 4.5 .7 2.2 1.9 .8 .3 3-.1 1.2 .7 .3 .8-.7 .8-2.3 0-.6 .8-.4 1.5-.5 .3-3-.5-2.3 0-1.5-.5-.7 0-1.6 .7-2.2 .1-.8-.1-1.5-.8-.7-.1-2.3 .4-3-.1-2.2 .6-.8 1-.8 .2-.5-.4-.3-.8 .1-.8 .3-.7 .8-.8 .4-.8-.4-1.6 1.1-.6 .8 .1 1.5 .5 .8-.1 .8-.7 2.2-1 .5-.6 .5-1.6-.5-1.5 .2-1.1zM29.7 11.5l.8-.4 .2 .4 0 .8 .6 .4 1.5 0 .7 .2 1.3 .9 .7 .8-1.2 1.1-.8 .2-1.5-.1-2.2-.7-.6-.5 0-1.6 .1-.7zM77 11.5l1-.3 3-.1 1.2 .4 0 .8-1.2 .3-1.5-.2-1.5 1-.8 0-.4-.4-.4-.7zM20.2 14.6l.5-.4 .7 .4-.7 .4zM44.5 15.4l.3-.5 .8 .2 .1 .3-.1 .3-.8-.1zM131.9 15.4l.3-.3 .8 0 .2 .3-.2 .4-.8 0zM133.2 17.8l.5-.3 .8 .1 .9 1-1.4 1.6-.4 .8 .3 .7 .6 .1 1.5 1 0 6.5-.8-.1-.2-.3-.2-.8 .6-.8-.2-.8-1-.8-.1-.8 .6-.8-.5-.8-.5-1.5-.9-.1-.4-.7-.1-.8 .4-1.6zM39.4 19.4l.9-.5 .8 0 .1 .5-.1 .8-.8 .3-.7-.1-.3-.2zM-.4 22.3l.8 .5 .6 1.3 .9 .3 .6 .5-.3 1.6 1.8 .8 .3 .8-.9 .8-1.5-.1-1.5 .5-.8-.1 0-1.8 .2-.1-.2-.8zM87.7 24.1l.8-.1 1.5 .9-.3 .8-.4 .4-.8 .1-.7-.5-.3-.8zM125.4 23.7l.8 .1 .6 .3 .1 .8-1.5 .3-.7 .5-.1 .8 .7 1.6-.1 .8-2 1.1-.8-.1-.7-.3-.6-.7 .1-1.6 .3-.8 .7-.8 .2-.8zM16.2 24.4l.7-.1 .8 .3 .3 .3 0 .8-1.1 1.1-.7 .2-.8-.2-.5-.3-.1-.8zM116.3 26.5l.9 0 .4 .8-.4 .8-.8 .8-.8 .2-.7-.1-.4-.9 .7-.8zM8.1 30.4l.6-.7 .7 .4 .1 .3-.8 .4zM26.5 30.4l1-.2 1.5 1-.8 .4-1.1-.4zM66.4 32l.3-.1 1.3 .9 0 .8-.6 .6-.7-.6zM71.6 32l2.6-.4 .8 .1 .6 .3 0 .8-.9 .8-.5 .2-.8 .1-1.6-1.1zM12.8 32.8l.4-.2 1.2 .2 .2 .8-1.1 .8-.6 0-.6-.8zM53.7 43.9l.2-.3 2.2 .2 1.2 .9-2.7 1.7-.9-1.7zM47 44.7l.8-.1 .8 .9-.8 .3-.7 .1-.7-.4zM7.4 51.8l.5-.3 .9 .3-.9 .2zM13.2 52.6l.7-.4 1.5-.1 .8 .5 .4 .8-.2 .8-1 .6-.7-.2-1.5-1.2zM21.1 53.4l.4-.5 .7-.2 .8 .2 .4 .5-.4 .8-.8 .3-.7 .1-.3-.4zM27.9 58.9l.3-.3 .6 .3-.6 .2zM123.9 65.2l3.8 .6 1.9 1 .6 .8-.3 .8-.7 .6-.8 .3-2-.1-.9 .8 .7 .3 .4 .5-.1 .8-.3 .1-1.4-.1-.9-.5-.3-.3 .6-.8-7.8-1.3-1.5-.5-.9-.6 0-.8 1.6-1 .8-.2zM57.1 67.6l.5-.3 1.5 .2 .2 .1 .1 .8-1 .1zM45.6 68.4l1.5 1.3 .7 .2 .8-.2 .7-.7 .8-.3 1.5 0 .5-.3 1-.2 1.5 .2 .8 1.7 .7 .1 .7 .6 .2 .8-.1 .1-.8-.1-.7-.6-.8-.1-3 .7-3-.8-1.5 .2-1.5-.5-2.7-.5-.6-.8 1-.6zM60.7 70l.7-.3 .3 .3-.3 .8-.2 0zM64.2 73.1l1-.2 2.2 .7 .6 .3 0 2.4-3.1 0 0-.8-.7-1.6zM71.2 72.9l.5 .2 1.7 .3 .7 .5-.1 .8 .7 .8 0 .8-4.8 0-.1-2.4 .6-.7zM45.6 73.5l.7-.2 1.5 .4 1.4 1.8 0 .8-2.3 0 0-.8-1.3-.5-.8 0-.3 .5 0 .8-3.3 0 0-.8 .6-.4 2.3-.6zM-.4 74.4l.6 .3 .7 .8 0 .8-1.3 0zM133.2 74.7l.5-.7 2.1 .7 .2 .2 0 1.4-2.6 0zM125 75.5l1.3 0 0 .8-1.3 0z"/><path fill="#c2ddec" d="M7.5 15.4l.4-.4 .8-.2 .8 1.4-.1 .8-.7 .7-.6 .1-.2 .8-.5 0 .5-.8zM74.2 17l3 2.1 1 .3-.2 .1-.5 .7-.3 0-2.2 .1-2.3 .3-2.3-.6-2.2-.2-1.2-.4 .3-.8 .9-.6 .7-.2 2.3-.1 2.2-.7zM3.9 17.8l.2-.7 1 .7-1 .1zM116.9 66l3.3-.5 4.5 .1 1.7 .4 1.3 .6 .4 .2 .2 .8-.6 .5-.8 .2-2.2 .6-5.3-.1-2.3-.5-1.7-.7-.2-.8z"/><path fill="#a2cde3" d="M118.6 66l2.3-.3 2.3 0 1.5 .3 2.3 .8-.1 .8-2.2 .8-3 .2-3-.3-2.2-.7-.3-.8z"/><path fill="#7eb8d7" d="M120.1 66l3.1 0 1.5 .3 1.3 .5-.1 .8-1.2 .4-1.5 .2-3 0-2.7-.6-.3-.8z"/><path fill="#569fc9" d="M118.1 66.8l2.1-.5 1.5-.1 1.5 .1 1.9 .5-.3 .8-1.6 .4-1.5 0-1.5 0-1.7-.4z"/><path fill="#3a87bd" d="M119.1 66.8l2.6-.3 2.4 .3-.6 .8-1.8 .2-2.1-.2z"/><path fill="#2a71b2" d="M120.2 66.8l2.6 0-1.1 .5-.8-.1z"/><path d="M0 0h135.6v0.4h-135.6zM0 75.9h135.6v-0.4h-135.6z" fill="#fff"/><rect x="135.1" y="0" width="0.5" height="75.9" fill="#fff"/><use href="#cst"/></g><rect x="0" y="0" width="135.6" height="75.9" fill="none" stroke="#1a1a1a" stroke-width=".45"/><path d="M22.6 75.9 v2.1M45.2 75.9 v2.1M67.8 75.9 v2.1M90.4 75.9 v2.1M113.0 75.9 v2.1M0 12.7 h-2.1M0 25.3 h-2.1M0 38.0 h-2.1M0 50.6 h-2.1M0 63.2 h-2.1" stroke="#000" stroke-width=".5" fill="none"/></g><g transform="translate(31.9,305.2)"><g clip-path="url(#cp)"><rect width="135.6" height="75.9" fill="#f6b394"/><path fill="#ec9374" d="M-.4 -.4l136.4 0 0 35.7-2.3 .4-.7-.1-.8-.3-2.5-2.5-.5-.8-.1-.8 .3-2.3 1.1-2.4 1-1.1 .9-2.1 0-.8-.5-.8-.1-1.5 .4-.7 1.3-.9-.6-.8-1.4-.5-2.3-.1-4.5-1.3-2.3 0-1.2 .3-4.1 1.8-1.5 1.1-2.2 .1-1.5 .7-1.5 .1-2.5 1.7-.8 1.6-1.6 1.6-.4 1.8-1.3-1-1-.2-2.2 .1-1.3 .9-.4 .8-.1 1.6 .8 1.5-.5 .3-.8-.2-1.5-.8-1.5-1.9-2.3-1.1-1.4-1.8-2-1.6-1.8-3.1-.8-.1-2.2 .6-3.8-.2-3 .5-1.5-.1-3.1-.7-3-1.6-1.5-.5-3 0-3.8-1.2-1.5 .1-1.5 .6-.7-.2-.8-.8-.7-.2-.8 0-.7 .5-.1 .9 .8 .9 .8-.3 .2 .2-.2 1.6-2.3 .9-.7 .7-.5 .7-1 .7-2.3 .7-.8 .4-.1-.2 .5-.8 1.1-.4 1.1-1.2 .3-.7-.2-.8-.4-.2-2.3 .8-.5 .9-.2 1.2-.8 .3-.7-.9-.9-.6-.5 1.6 .3 1.6 0 .8-.6 1.6-3.6 2.1-.8 .2-.2 .8 .5 1.6-.2 .8-.8 1-.7 .1-1-.3-.5 .8 .6 1.6-.2 .8-.5 .7-.6-.7-.3-.8 .3-.8-.9-2.8-.9-1.2-.7-1.6-.6-.6-.8-.1-1.5 .1-1.2-.9-1-.3-.9 .3-1.4 1.1-.8-.1-1.5-1.1-2.2-.3-.4 .4-.4 1.2-.7 .8-3 1.4-1.6 .4-.7-.6-1.5-2.4-.2 0-.4 .7 .3 1.6 .3 .6 1.6 1.8 .6 .4 .8 0 .6 .4-.6 1.4-.8 1-1.5 .9-1.5 .4-.2 .2-.2 .8 .4 1 .3 2.2-.3 1-3.7 1.3-3.8-.3-.8-1.7-1.2-4.3 0-1.5-1-.8-1.5-.7-.8-.1-1.5 .3zM1.9 20.4l-1.4 1.3 .6 .4 2.3-.2 1.1 1.4 1.1 .9 1.6 .2 1.5-.7 .6 .4 1.6 .4 .8 0 .9-.4-.1-.8-1.6-.4-1.5-.8-.7 .4-.8-.4-.7-.7-1.5 .4-.5-.8-1.1-.4-.7 .8-.8-1.1zM7.2 34.4l-1.3 .8-.6 .8-.2 .8 .4 .8 .9 .4 1.5 .1 1.1-.5 .5-.8 0-.8-.3-.8-.5-.7-.8-.2zM102.1 29.5l.2 .1 .1 1.6-.3 .5-1.3-.5-.2-.8zM45.6 30.3l.3 .1 .3 .8-.6 .8-.4-.8zM46.3 32.5l.8 .1 .5 1 .1 .8-.4 .8-.2 .1-.3-.1-.6-.8-.2-.8zM108 33.6l1.6-.1 3 .6 1.5 1.2 1.6 .7 .6 .8 .8 1.8 1.6 .9 1.5 .4 1.3 .8 .3 .8-1.3 2.4-.3 1.7-.8 1.1-2.3 1.3-.7 .2-1.5-.6-2.3-1.6-4.5-2.2-.8-.5-1.8-2.6-.3-.8-.2-1.6 .2-.7 1-1.6 .4-1.4zM44.1 35.8l.1 .2 .1 2.3-1 .8-.7 0-.8-.8-.2-.7zM84.4 36.8l4.9-.5 1.9 .5 1.6 .8-2.7 .7-2.3 .3-2.5-.3-2.5-.7zM50.6 39.1l.2-.1 1.6-.1 .7 .2 1.5 .8 .7 .8-1.4 1-.8-.1zM49.3 43.9l.8-.5 .7 .4 .3 .9 .5 .7 .8 .5 .7 0 .8-.9 .3 2 0 1.6-.3 .4-.8 .5-1.5-.1-1.1-.8-.6-.8-1-.8-1.2-.7-.1-.8zM40 64.4l3.3-.2 4.5 .4 10.6 .3 6 .5 12.8-.5 14.3 .7 9.1-.8 4.5 0 4.5-.4 14.3 .6 12.1-.3 0 11.6-64.8 0 0-.8-.8-.4-.7-.1-2 .5 0 .8-68.1 0 0-11.6 5.3 0 9 .4 10.6-.2 6.8 .3 4.5-.2zM76 70.8l.5 .6 .7 .2 .8-.3 .3-.5-1.1-.5z"/><path fill="#dd7059" d="M-.4 -.4l136.4 0 0 20.9-1.5 1.5-.8 .1-.7-.5-.2-.6 .2-.8 1.5-.4 .4-.4 0-.8-.7-1.6-.5-.4-1.5-.6-.5-.6 .1-.8-.2-.8-.1-.1-3.1-.7-2.2-.2-3.8 0-1.5 .6-3 1.9-1.8 .9-.4 .8 0 .8-.8 .5-.8-.1-1.5-.8-.7 .2-.2 .2 0 .8-.6 .4-1.5 .4-2.1 1.6-.7 .7-.2 .8-2.3 2.2-3.7-.2-3 1-2.3 .4-.8-.1-1.5-1.3-.7-.2-2.1-1.8-1-1.5-.7-2.7-1.5-1.7-1.9-1.2-.3-.9-4.6-.9-.7 .1-1.5 1.2-2.3 .8-.9-.3-.8-.8 .2-.8-.8-.2-1.5-.4-2.2 .3-3.8-.5-3.4 .8-1.9 1.8-.7 .4-.8 .2-.5-.8-.8-1.6-3.2-.1-.7 .2-.9 .7 .9 .8 .2 .8-.2 1.5-.8-.4-2.3 2-1.8 .9-1.2 1.2-2.2-.7-.5 .3-.7 .7 .4 .8 .2 2.4-.2 .8-.7 .8-1.5 .8-2.3 .8-1.5 1.1-1.5 .4-.8-.1-2.2-1.9-2.3-1.1-1.5-.4-2.3 0-2.2 .9-5.3-1.2-1.5-.8-.7 0-.8 .7 .1 .8 .9 1.6-.2 .1-4.6-3-.1-1.9-.6-1.1-2.4-.5 .1-.6 2.3-.3 1.5 .2 .7-.4 .4-.4-1.1-1.3-.8-.5-.7 .2-1.5-.2-.8 .5-.4 .5-.2 .8 .4 .8-.5 0-.8-.4-.7 .4-.8-.3-.7-.8-1.6-.7-3.7 .4-1.5 .9-.8 .9zM18.5 18.3l-.4 .3-.3 .8 .4 2.3 1 1.3 .8 .1 .6-.6 .1-.8-.7-1.5-.2-1.6-.6-.4zM53.6 19.4l.3-.6 .5 .6-.5 .8-.3 0zM1.7 23.3l1 0 1.4 1.3 1.5 .7 1.6 .3 1.5-.3 1.3 .4 .5 .8-1.3 .8-5.1 1.6-4.5 .8 0-5.8zM133.7 23.6l1.5 .3 .8-.1 0 5.7-1.8 .1-.5-.2-.4-.5-.6-2.4 .2-1.6zM111.7 37.6l.9-.4 .8 0 .9 .4 .6 .4 1.5 2.2 1.8 2.1 .5 1.6-.1 .8-.7 1-.8 .5-.7 .1-.8-.2-4.1-3-.5-.8-.3-1.6 .4-2.4zM42 66.8l2.1-.2 4.5 .9 6.8 .3 3.7-.2 5.3 .5 12.1-1 3.7 .6 4.6 0 6.9 .7-.9 .4-3 .3-3 .9-1.6 .2-2.2-.1-2.3-.7-1.5-.1-3.8 .5-5.2 .1-3-.4-2.3 .2-5.6 1.9 .9 .7-.2 .8-1.1 1.6-.1 1.6-17.2 0-.1-1.6-.3-.8-1.9-1.9-1.4-.4-3.1-.1-2.7-.7-.3-.3-1.6-.2-3 .2-3 .7-3.7 .5-5.3 1.2-.8 .3-2.2 1.7-2 .6 0 .8-3.5 0 0-.8-2.8-.4-1.3 .4 0 .8-1 0 0-4.5 .3-.2-.3-.5 0-4.2 5.3-.1 3 .4 3.8 0 3.7 .3 4.6-.2 4.5 .2 5.3 .8 6.7-.4zM109.6 66.6l9.8 .4 3.8 .8 4.5 .5 1.5-.1 4.5-1.1 2.3-.2 0 9.4-16.7 0 .2-1.6 .3-.8 .4-.2 3.7 .5 1.5-.1 4.5-1.3 3.8-.2 .8-.2 1-.8-.6-.8-1.2-.7-2.2-.4-3.1-1.1-.7-.1-2.8 .7-5.5 2.2-1.5 .1-2.3-.4-1.5 0-.7-.3 0-.8-.9-.8-1.4-.4-.7 .1-.8 .5-.5 .6 .5 1.2 .8 .3 .7 .1 .8 .4 .2 .3-.6 .8 2.6 1.7 .7 .7 0 .8-10.9 0 0-.8 1.2-.4 3.5-.4 1.6-.8 .2-.4 .3-.4-1.3-.8-2.1-.6-7.4-.9-.9-.8 .1-.8-.3-.8 4-.9 3-.3z"/><path fill="#cc4c44" d="M-.4 -.4l136.4 0 0 11.9-2.3 .3-2.2-.3-3.1 .2-5.2-1-1.5 0-.8 .4-1.5 1.7-.7 .4-3.3 2.2-1.3 1.7-.7-.3-1.5-.2-2 .4-.3 .2-.7 0-1.6-.5-.7-.6-.4-2.3-.4-.4-.7-.4-3 0-.4 0 .1 .8 1 .4 .7 .4 .6 .8-.5 .9-4.5-.4-4.6 .5-2.2 .6-2.3 1.5-3-3.4-1.5-1.4-.7-.3-1.6-.6-3-.4-1.5 .3-2.2 1.1-.8-.3-3-1.9-.8 0-3.7 .1-6.1 1.3-.9 .8-.6 .9-.7 .4-.8-.5 .1-.8 .5-.8-.6-.3-1.5 .2-3.7 .2-1.6 .7-.6 .8 .1 1.6-.2 .3-.8 .1-2.2-.5-3 .2-3.8-.3-1.5 .2-.7-.3-.3-.5-1.6-.8-1.9-.5-3-.6-3.8-.2-1.5 .1-1.5 .5-1.3 .7-1.7 1.8-1.5 .8-3-.7-6.1 0-2.2 .3-3.8 1-5.3 .1-.1-.1 .4-.8 1.2-1.4 .6-1-.2-.8-1-.8-.9-1.4-1.5 0zM7.2 12.2l-.4 1.6-.9 .8 .5 .3 .8 0 .4-.3 .6-.8 .3-.8-.6-.7zM119.2 8.3l.2 .2 .8 .4 .8-.6-.8-.3zM133.5 13.8l.2-.4 .8-.1 .9 2.1-.2 .7-.7-.4-.8-1.1zM39.6 16.5l.7-.2 .3 .7 1 .8-.2 .8-1.1 .7-.7 .1-.8-.2-.5-.6 0-.8zM31.6 21.7l1.2-.5 .7-.2 2.3 .1 1.5 .2 .7 .4 .6 .8-.1 .8-.7 .8-1.3 .7-1.5 .4-1.5 0-1.5-.6-.7-.5-.6-.8 .1-.8zM114.5 42.3l.4-.5 .7 .3 .9 1 .1 .8-.2 .3-.8-.1-.7-.5-.4-.5z"/><path fill="#ba2832" d="M-.4 -.4l136.4 0 0 10-4.5 .3-.8 .2-.8 .6-.7 .2-1.5-.1-1.4-.9-1.6-.4-1.1-.4-.5-.8-1.4-1.1-1.5-.4-1.6 .3-.7 .4-.3 .8 .4 .8 1.7 1.6-.1 .8-.7 .8-1.8 .6-.8 .9-1.4 .9-.8 1-.7 .4-2.3-.3-3-1.4-.8-.4-1.5-1.7-4.5-.2-.7 .5-.8 1-.7 .2-3.1-.4-4.5-.9-4.5-.3-3.8-.5-3-.2-3.7 .4-.8-.1-3.8-1.7-1.5 .6-2.2 0-1.9 .8-4.2 .7-.7-.1-1.5-.4-.8 .1-1.5 .4-3-.1-2.2 .2-5.3-.4-6.8 .4-7.5-.6-3.8-1.1-1.5-.2-2.3 .2-5.2 1.2-3.8 .4-.8 0-.7-.5-.2-.2 .5-.8-.3-.5-.8-.4-.7 0-.6 .9 .4 .8-.6 .5-.7 0-.8-.2-1.5 0-.1-.3 .4-.8-.1-.8-.7-.8-1-.3-3-.2-5.3 1.1zM6.7 9.9l.1 .8-1.2 2.4-.7 0-.8-.5-.7-.1-.4-.2 .6-.8 2-1.4zM32.2 22.5l.6-.5 .7-.2 1.5 .1 1 .6 .3 .8-.6 .8-.7 .4-1.5 .1-1-.5-.5-.8z"/><path fill="#9f1228" d="M-.4 -.4l136.4 0 0 8.5-4.5 .4-5.3 0-.8-.2-2.8-1.6-.9-.3-1.5-.3-1.6 .1-1.5 .8-.4 .5-.2 .8 1.6 2.4 .1 .8-1.6 .8-1 1-3 1.9-1.6-.6-1-.8-.4-.9-.7 .1-1.6-.6-1.1-.9-.4-.1-1.5 .3-2.2-.3-3 .8-3.1-.8-3.2-2.3-2-.5-2.3 0-2.2-.3-5.3 .1-3.8 .8-1.5-.1-2.3-.7-1.5 0-3 .4-1.2 .3-1 .5-6.1 .6-6.7-.2-3.8-.6-3-.2-6 .3-9.8-1.3-5.3-.3-1.5-.3-6 .6-8.3-.8-3-.1-7.6 .9zM32.8 22.5l.7-.4 .8-.1 1.1 .5 .3 .8-.8 .8-.6 .2-.8 0-1.1-1z"/><path fill="#790622" d="M-.4 -.4l136.4 0 0 7.4-4.5 .4-4.6-.1-1.5-.3-3.7-1.3-2.3-.2-1.5 .2-1.5 .7-1 1.1-.2 .8 1.3 1.6 .3 .8-.5 .8-1.4 1.4-3 1.1-.8-.6-.3-1.1-3.5-1.9-1.5-.2-1.5 .8-4.5-.1-.9-.2-.8-.8 .2-.8-.6-.8-6.2-1-5.2-.3-9.1 .2-11.3 0-10.5 .8-6.1-.6-9.7 0-6.1-.5-2.2-.4-6.5-.6 .7-1.6-.9-.7-1.6-.1-1.7 .1-.7 .7 1.6 1.1 2.1 .5-2.1 .3-1.4 .5-3.1 .2-9.8-.4-8.3 .6zM33.3 22.5l1-.2 .5 .2 .5 .8-1 .7-.8-.1-.6-.6z"/><path fill="#67001f" d="M-.4 -.4l136.4 0 0 6.5-4.5 .2-4.6-.1-5.2-1.1-3.1-.2-2.2 .5-3 1.1-1.5 .2-3-.1-1.4 .1-.9 .9-1.5 1.1-.8 .9-.7 .1-.8-.6-.1-.8-.6-.4-3.3-1.2-2-.4-10.5-.3-9.1 .1-10.5 0-4.6 .3-6.7 .2-7.6-.5-9-.3-6-.8-2.2-.7-1.4-.7-3.2-.8-1.5-.1-3.8 .1-3 .5-.8 .3-1.5 1.5-1.5 .4-14.3 .6zM112.6 8.6l.8 .2 1.5 1.1 .3 .8-.2 .8-.8 .8-.8 .1-2.6-.9-1-.8-.5-.8 1.1-.7zM33.2 23.3l.3-.4 .8-.2 .5 .6-.5 .4-.8-.1z"/><path fill="#fbccb4" d="M52.2 24.9l1 0-.1 .8-1.5 .6-.7-.6zM122.7 24.9l2-.4 1.5 0 .8 .4 .3 .8-.1 .8-.7 .8-2.6 1.2-1.6 1.1-2.1 3.2 .1 .8 1.4 1.1 1.5 2.1 .7 .6 2 .9 1 .8 .8 .1 1.6-.1 1.4-1 .8-.2 4.5 .3 0 25.2-7.6 .2-18.8-.4-4.5 .2-5.3 0-10.5 .8-13.6-.5-6.8 .2-6-.1-19.6-1-8.3 .8-3 .2-9-.4-11.3 .3-6.1-.4-6 .1 0-25.2 .8 0 1.5-.7 .7 1.1 1.5 3.2 .3 1.3 0 2.4 .8 1.5 .9 3.2 .8 1.6 .3 .3 .7 .2 2.3-.1 .7-.4 .8-.8 1.1-2.4 .6-.8 .2-1.5 1.5-1.6 .5-.8 .1-1.6-.3-1.6 .8-1.6 3-2.1 2.3-.9 2.2-1.4 .8-.2 .7 0 .8 .3 .7 .7 1.5 2.1 1.6 .7 1.5 .3 1.5 0 2.2-.7 .8-.1 .7 .4 1.5 2.2 1.6 1.5 2.2 .9 5 .3-.1 .8-1.1 1.6-2.3 1.3-.5 1-.1 .8 .4 1.6 .5 1.6 .5 .7 2.2-.3 1.5-.6 1.5-.1 .8 .2 3 2 .8 .2 1.5 .2 .7-.4 .9-1.1 .8-1.6 .1-1.6-.7-1.6-1.7-2.3-.4-1.6 .1-.8 1.7-.6 .3-.2 .4-.9 .8-.1 1.5 .6 .6-.4-1.2-1.6 .6-.4 4.5-.5 4.5-.1 4.5 .3 5.3-.1 4.1 .8 .7 .8-1.4 1.6 .7 .8 1.2 .2 1.9-.2 1.6-.8 2.1-1.6 2.7-.8 1.5 .2 1.3 .6 .9 .7 .8 .2 4.5 .8 3 0 .8 .2 2.2 2.1 1.4 .8 .5 .8 .6 3.9-.3 2.4-.3 .8-.3 .4-.3 1.1 .3 .7 .7 .2 .8-.2 1.5-1.3 1.5-.8 .7-1.1 1.5-.5 2.3-3.2 2.6-1.7 .8-1.5 .4-1.8 1.2-1.4 .3-.8 0-.8-.4-.8-.4-.4-1.5-.8-1.5-.4-1.4-.7-1.1-3.2-.5-.8-1.8-.8-1.2-.8-.7-.8-.2-.8 .1-.8 .8-.6 1.5-.6 1.6-1.1zM18.5 43.5l-.8 .5-.9 1.5-.2 1.5 .1 .8 .2 .4 .8 0 .9-1.9 .3-1.6-.1-.8zM100.5 27.3l.4 0-.3 .9zM93.5 29.6l1-.5 1.2 1.3 1.2 .8 .8 .8-1.7 .9-1.5 .1-.8-.2-.4-.8zM85.3 30.4l1.7-.7 .8 0 .7 .2 .7 .5 .1 .8-.8 1-1.5 .5-.7-.1-1.2-.6-.2-.8z"/><path fill="#fce2d2" d="M91.5 45.9l3.8 .5 6.8 .4 5.2-.1 .8 .3 .4 1.6 0 .8-.3 2.4-.7 1.6-.3 1.5-.2 3.2 .2 1.6-.6 .6-3 .6-3.8 .2-2.1 1-.9 .1-9 .7-10.6-.4-3.8-.4-4.5 .1-5.2-.7-3.1 .3-3.7-1-5.3-.8-8.3-.3-2.2 .2-5.7 2.2-1.9 .1-3-.1-2.3-.5-6-.6-4.5-.2-4.5-1-3 .5-3-1.2-.8 .1-2.3 .8-3 0-1.5 .6 0-2.8 3.8 .3 3 .7 .8 0 2.2-.6 3.8 0 6-1.7 1.3-.8 1-1.5 3-1.3 2.3-1.9 1.4-.9 2.3-.9 2.3-.3 3.7 .1 1.5 .5 2.2 1.5 1 1.6 .7 .8 5.9 3.8 .8 .3 2.2 .1 2.3-.7 .8-.1 1.5 .5 4.5-1.3 1.5-.1 .7 .7 .2 .7 .6 .5 .8 .2 .7-.1 1.1-.6 1.7-1.6 .4-.8 0-.7-.9-1.1-.8-.5-.7 .1-.8 1.5-.7 .3-.8-.1-.2-.2-.8-1.6-.1-1.6 .6-.8 1.2-.8 2.3-.5 4.5 .4 1.5-.1 .8-.1 3.8-1.8 3.7-.8 2.3-.2 3.8 .2zM112.4 55.7l1.7-.6 .8 .1 .7 .7 .8 .3 2.2-.3 1.6 0 4.5 1.9 3 .6 2.2 .1 3.8-.7 2.3 .1 0 2.3-2 1.1-1.8 .3-3.8-.3-3-.8-3.7-.3-6.8 .2-.8 0-.7-.4-.6 .5-1.7 .1-.7-.4-.3-.5 .1-.8 .7-.8 1-1.7z"/><path fill="#f9f0eb" d="M87.9 49.4l1.4-.3 1.5-.1 2.4 .4 1.8 .8-1.2 .9-1.5 .4-.8 0-2.7-.5-1.7-.8z"/><path d="M0 0h135.6v0.8h-135.6zM0 75.9h135.6v-0.8h-135.6z" fill="#fff"/><rect x="134.6" y="0" width="1" height="75.9" fill="#fff"/><use href="#cst"/></g><rect x="0" y="0" width="135.6" height="75.9" fill="none" stroke="#1a1a1a" stroke-width=".45"/><path d="M22.6 75.9 v2.1M45.2 75.9 v2.1M67.8 75.9 v2.1M90.4 75.9 v2.1M113.0 75.9 v2.1M0 12.7 h-2.1M0 25.3 h-2.1M0 38.0 h-2.1M0 50.6 h-2.1M0 63.2 h-2.1" stroke="#000" stroke-width=".5" fill="none"/></g><g transform="translate(195,305.2)"><g clip-path="url(#cp)"><rect width="135.6" height="75.9" fill="#f6b394"/><path fill="#ec9374" d="M-.4 -.4l136.4 0 0 35.5-2.3 .2-2.2-.8-2-2.5-.3-.8 .1-1.6 .4-1.5 .8-1.6 1-1 1-2.2 0-.8-.6-.8 .2-1.5 .9-.8 .7-.3 .2-.5-.9-1.2-.9-.4-2.9-.3-2.3-1-.7-.1-3 .2-6.1 2-1.5 1.2-2.2 .1-1.5 .6-2 .5-1.8 1.5-.9 1.6-1.6 1.6-.1 1.6-.4 .8-1.5-1.6-.8-.1-2.2 .1-1.3 .8-.4 .8-.1 .8 .2 .8 .8 1.2 .8 .1 1.5-.9 .3 .3 .4 1.6 .9 .8-.1 .9-.8-.6-3-1.4-.7 0-.8-.1-2-1.2-1-1.6-2.3-1.2-1.3-1.9-1.7-1.2-2.2-3.2-.8 0-1.5 .6-.7 .1-3.8-.3-1.8 .8-1.2 .2-1.5-.6-1.5-.2-2.3-.6-2.3-1-1.5 .1-2.2-.6-2.3-.9-1.5-.3-1.5-.7-2.3 .2-.7-.6-.8-1-.7-.3-1.5 .5-.6 1.9 0 1.6-1.3 1.6-.4 .8-.3-.8 0-1.6-.4-.3-2.4 1.1-.9 .8-.3 .7 .2 .8 .3 .6 .8-.1 1.2 .3-2 1.4-.7-1.3-.8 .1-.7-1.1-.8-.4-.7 1.3 .4 1.6-.1 .8-.8 1.6-2.6 1.6-.7 .6-.9 .1-.2 .8 .1 2.4-.5 .8-.7 .2-.8-.3-.9 .1 .7 2.4-.1 1.6 1.1 1.5 0 .3-.8 0-.8-.8-.4-1-1.5-1.6 .7-.8-.1-2.4-.5-.8-.8-.8-.4-1.2-.7-.8-1.5-.4-1.5-.8-1.5-.4-.8 0-1.5 1.2-.8 .3-2.2-1.4-1.5-.2-.5 .6 0 .8-.3 .5-.7 .8-3 1.5-1.6 .3-1-1.6-1.2-1.1-.3 .3 .1 1.6 .9 .9 .8 .1 .7 1.1 1.6 .5 .2 .6-.3 .8-.7 1.1-2.8 2.8-1.7 2.4 .7 .8 .3 .8-.1 .8-.2 .2-1.5-.5-.3 .3-.3 .8 0 .8 .6 .5 0 .6-.7 .4-.8-.5-1.2-.2-.3-.9-.7 0 0 .3 .5 .6-.1 .7-.7 .8-.5 .3-.7 .4-.8-.2-.5-1.3-.5-6.3 .3-.4 2.2 0 .3 .4-.7 .8 .3 .8 .9 .1 2.2-1.3 .9-1.2 .3-.8-.4-.8-.8-.3-.7 0-.8 .3-.7 .8-.8 .1-.7-.6-1-1.8-.6-.7-2.2-.8-1.5-.4-2.3 .4zM2.6 20.1l-.7 .2-1.5 1.4 .7 .4 2.3-.2 .7 .7 .8 1.2 .7 .5 1.6 .2 .7-.4 .8 0 1.5 .3 1.5 0 .9-.3-.2-.8-1.5-.3-1.5-1.3-.7 .6-.8-.3-.7-.6-1.6 .4-.7-1.1-.8-.3-.6 .6-.1 .3zM11.7 19.3l-.2 .9 .2 0 .3 0-.1-.8zM7.9 35.5l-.7 .5 .7 .3 .8-.1 .1-.2zM45.2 31.2l.4-.7 .7 .7 .3 .8 1.1 .8-.1 1.6-.5 .5-.9-.5-.4-.8 0-.8-.5-.8zM107.4 33.6l1.5-.4 1.1 .4 .4 .4 1.5 0 .7 .3 1.1 .9 1.9 .6 .7 1 0 .8 .3 .7 .5 .5 2.7 1.1 1.2 .8 .2 .8-.2 .8-.8 3.1-.8 1.6-2.3 1.3-.7 .1-1.5-.7-2.3-2-.7-.2-1.5 .1-.8-.3-.9-.6-.2-.8 .9-.8-.2-.8-.3-.5-.8-.2-.8 .5-.7-.2-.9-1.2-.1-.8-.2-1.6 .2-.7 .9-1.6 .2-1.6zM43.3 36.3l.8-.1 .2 1.4-.1 .7-.9 1-.7 .1-.4-.3-.7-.8 .1-.7zM84.5 36.8l3.3-.5 1.5 0 2.4 .5 1.2 .8-5.1 1.1-.8-.1-2.2-.7-2.2-.3zM51.3 39.1l1.1-.1 2.1 .9 1 .8-.1 .2-1.9 .6-.6 0-.5-.3-1-1.3zM49.3 43.9l.8-.5 .7 .5 0 1.5-.7-.1-.8-.4-.1-.2zM50.2 46.3l.6-.8 1.6 .7 1.5 .2 .9 .6-.2 1.5-.7 .6-.6-.5-.9-.1-1.6 1-2.2 .8-1-.1-1.3-1.3-.7 0-.8 .3-.6-.6 2.1-1.7 .8-.1 1.5 .2 .7-.1zM54.5 50.2l.1-.4 1 .4zM-.4 65l1.5-.1 3.8 .2 5.3-.4 9 .4 3.8-.4 4.5 0 5.3 .4 5.2-.2 3.8-.3 6.8 .4 3.8-.2 3 .4 9.8 .5 2.8-.5 6.2-.1 3-.3 11.3 .3 3.8 .2 1.5 .3 6.8-.6 9-.1 3-.2 12.8 .5 3.8-.2 3 .2 3.8-.2 0 11.3-56.3 0 0-.8-1-.2-1.5-.9-.7 0-1.5 .5-1.6 .1-1.4 .5 0 .8-.1-.8-1.5-.3-.7 .3 0 .8-34.3 0 0-.8-.4-.2-1.5-.8-.7 0-.4 .2-.2 1.6-1.5 0 0-1.6 .6-.8-.8-.5-.7 0-3.1 .5-1.5-.1-.3 .1-1.2 1.5-.3 .1 0 .8-1 0 0-.8-.9-.7-.8-.1-.7 .3-1.5 0-.8 .2-.2 .3 0 .8-1.4 0 0-.8-.7-.6-.7 0-1.5-.6-.8 0-.8 .4-.5 .8 0 .8-4.1 0 0-.8-2.9-1.2-.7-.1-1.8 .5-.8 .8 0 .8-1.2 0zM133.4 71.6l.3 .8 .3-.8z"/><path fill="#dd7059" d="M-.4 -.4l136.4 0 0 20.7-.8 .4-.2-.5 .2-.8-.2-.8-.5-.8-.1-.8-.7-.7-1.7-.9 .2-1.6-1.5-.8-3.8-.5-4.5 .2-.7 .2-5.4 3.3-.5 .8-.1 .8-.8 .5-.8-.1-1.5-.7-.7 .1-.2 1-.6 .3-1.5 .3-1.5 1.1-1.1 1.4-.4 1.1-2.3 2.1-2.2-.3-1.3-.5-1-1-.4 .2 .4 .8-.3 .8-1.2 .7-2.3 .5-1.5-.3-1.5-1.5-.7-.3-1.5-1-1.6-2-.7-2.6-2.9-3-.3-.8-.5-.4-1.6-.4-3.7 0-3.8 1.3-.7-.1-.4-.4-.4-.9-1.5-.7-1.5-.2-1.3 .2-1 .5-2.2-.3-3.8 .8-.8 .3-1.2 1.1-1 .5-.8 0-.3-.5-.5-1.6-.7-.2-3 0-1.1 .2-.9 .8 .7 1.6-1 1.6-.7 .7-2.3 1-1.2 1.5-.3 .6-2.2-.8-.8 .5-.3 .4-.4 1.1-1.2 .5-1.1 1.5-1.1 .9-.5 .8-.6 .6-1.6 .4-1.5 1.6-.7-.3-1.1-1.5-.4-.3-5.3-2.3-1.5-.4-.8-1-.7-.5-2.3-.1-1.5 .4-2-2.9-.3-.8 0-.8-.7-.3-.7 0-.4 .3-.4 .8 .5 2.3 1 1.2 1.2 .4-.4 .8-2.2 .8-.7 .8 1.4 1.1 .9 1.3-.1 .8-.8 .3-.8-.4-1.5-1.7-.8-.2-.4-.4-.6-1.6-.5-.7-.1-1.7-.6-.7-1.9-.1 1.9-.1 1.5-.5 .7-.5 .3-.4-1-1.4-.8-.6-.7 .3-1.5-.3-.8 .4-.7 .9-.8 .6-.7 .3-.8 0-.7-.7-1.6-.7-2.2-.2-3.8 1.9zM31.3 15.2l-2.6 1 .2 .8 5.4-.3 .4-.5-.3-.8-.9-.3zM21.3 24.1l.9-.6 .8 .6-.4 .8-.4 .1-.3-.1zM25 24.9l1.1 0 .1 .8-.2 .4-.8 0-.3-.4zM7.2 25.7l3.7-.1 .6 .1 0 .8-.8 1.6-.5 .3-2.3 0-1.8-1.1-.8-.8 1.1-.6zM133 25.4l.7-.4 .8 .7 .7 1.6-.5 .8-1-.1-1.6-.7 .1-.8zM112.5 37.6l.9 .1 1.5 1.3 1.5 1.9 2.4 1.4 .3 .8-.1 .8-.6 1.6-.5 .8-.8 .2-1.5-.5-3.7-2.4-1.6-2.9 0-.8 1.6-2.1zM24.5 66.7l1.3 .1 2.4 .8 1.6 .7 1.5-.2 1.5 .2 .7-.2 .8-.7 .7-.2 .8 .2 .7 .4 .8 .1 2.3-.5 1.5-.7 2.2 1 1.5-.2 .7 .1 .5 .8-1.2 .4-3 .4-.7 .5-.4 1.1-.4 .2-.7-.1-2.3-1.8-.8-.1-.5 .2-1 1-6 1.2-3.8-.4-2.2 .3-2.3-.9-3-.4-1.5 .5-2.3-.1-.7 .3-.8 .1-.6-.8 .1-.8 .5-.8 .8-.9 .7-.2 1.5-.2 2.3 .6 2.3-.6 2.2-.1zM2.1 67.6l1.3-.3 1.5 .1 1.5 .5 1.5 .2 1.1 .3 .7 .8-1.8 .5-1.6 1.1-1.4 .1-.8-.1-1.1-.8-1.7-1.6zM80.4 67.6l3.6-.3 4.5 1 3-.1 1.7 .2-.5 .8-1.2 .9-.6-.1-.2-.8-.7-.7-.7-.1-1.5 .2-.8 .6-1.5 .3-.7 .5-.8 .2-1.3-1-1-.3-3-.3-1.5 .4-.7 0-1.4-.6 1.4-.7 2.2 .3zM102.8 67.4l6.8-.2 1.5-.4 2.3 .6 5.2 .1 5.3 .9 3.8-.7 2.2 .3 3.8-.1 1.5 .5-1.5 .4-3.8 0-1.5 .6-.7 0-1.5-.6-2.3-.4-.7 .3-1.5 1.3-.8 .3-3.8 .1-4.4 1.2 1 .7 .5 .8-.8 .5-.8 .1-1-.6 .2-.8-.7-.3-2.2 .5-1-.9 .3-.8-.9-.1-.4 .9 0 .7 .4 .5 .8 .1 .8 .8 .4 1-.3 1.6-6 0 0-1.6 1-.8 .1-.8-.5-.5-.8 .5-.6 .8-.9-.2-.5-.6-.5-1.5-.5-.3-2.2 .1-.8-.2-.7-.4-.1-1.6-.6-.8 2.2-.5 1.5 .3 .7-.1zM52 73.1l1.1-.1 1.5 1.5 .8 0 2.4 1 0 .8-3.4 0 0-.8-.5-.6-1.5-.1-.8-.5-.3-.4zM98.9 75.5l.9-.2 .4 .2 0 .8-1.3 0zM115.6 75.5l.2 0 0 .8-.2 0z"/><path fill="#cc4c44" d="M-.4 -.4l136.4 0 0 11.6-3 .5-2.3-.3-2.3 .2-6-1.3-.7 .1-.8 .4-1.5 1.9-1.5 .8-1.3 1.1-1.2 .8-.7 .8-.2 .8-.4 .3-.7-.5-3-.2-.8-.2-1.5-.7-1.5-.2-.5-1.7-1-.5-1.5 .1-1 .4 1.7 1.4 0 .7-.7 .3-5.3-.2-1.5-.4-3 .4-1.5-.1-1.1 .3-.9 .8-.3 .5-.7 .1-.8-.5-.7-.9-.4-.8-1.3-1.6-.6-.5-1.5-.6-4.5-.4-3 1.3-.8-.2-2.1-1.1-.9-.9-.8-.2-3 .3-3 .6-1.5 .6-2.3 .2-1.5 1.7-.7 .2-.3-.2-.1-.8 .5-.8-.9-.5-1.5 .3-3.7 0-1.5 .6-.8 .6-.8 .3-3 .1-1.5 .7-.7 .9-.8 .2-.5-.8-2.5-.9-5.3-.9-1.5-.4-2.2 0-1.5-.4-.8 0-1.5 .8-3.8 .8-.7-.1-3-.9-1.5 .1-.7 .3-1.4 1.6-1.7 .8-2.3-.2-1.9-1.4-1.1-.3-.6 .3-.6 .8-1 .2-.8-.2 1.1-1.6 .2-.8-.9-.7-.4-.7-.7 .2-.8 2-1.2 .8 .8 1.6-1.1 .4-1.5-.1-.6-.3 .5-1.6-.3-.8-.9-.8-.7-1.5-.3-.2-1.5 0zM119.4 7.4l-.8 .9 .8 .7 .8 .1 1-.8-.3-.8-.7-.2zM19.2 17l.8-.5 .8 .5-.8 .1zM31.9 21.7l.9-.4 1.5-.2 .7 .1 2.3 1.3 .8 0-.4 .8-.4 .2-.8 1-1.5 .5-1.5 .1-1.5-.4-.7-.6-.5-.8 .1-.8zM113.4 39.9l.7 .4 1.3 1.2 .9 1.6 .2 .8-.1 .1-.8 .1-.7-.2-1.5-.8-1.1-1.6-.2-.8 .5-.7z"/><path fill="#ba2832" d="M-.4 -.4l136.4 0 0 9.7-3 .5-2.3 0-.8 .9-1.5 .2-.9-.2-.6-.8-2.8-.8-2.1-2.4-1.8-.3-1.6 .3-1.2 .8-.2 .8 2.2 2.4-.1 .8-.7 .6-1.5 .7-1 1-1.2 .8-.8 1-.7 .3-1.5-.2-3-1.4-1.6-.2-1.5-1.6-.7-.2-3-.1-.8 .2-.8 .6-.1 .8-.6 .4-2.2-.6-2-1.3-2.6-.7-1.5 .1-1.5 1-.7-.1-1.5-.6-1.5 .1-2.3-.8-2.3 .3-2.2-.4-3 .3-4.6-1.7-7.5 1.9-5.3 0-1.5 .3-3-.2-2.2-.8-2.3 .9-3.8-.4-1.5 .1-2.2 .5-3-.4-2.3 .3-.8-.2-1.5-.8-1.5 .3-2.2-.5-3.1-.2-2.2 .3-1.9 .6-1.1 0-3-.5-3.8 0-2.3-1-.7-.1-.8 .2-2.2-.6-1.1-1.2-.4-.1-3.3 .1-3.5 .8-2.3 .2zM33.5 21.7l1.5 .2 .8 .6 .4 .8-.5 .8-.7 .4-.7 .2-1.5-.2-.6-.4-.5-.8 .2-.8 .9-.6z"/><path fill="#9f1228" d="M-.4 -.4l136.4 0 0 8.4-3 .3-6.8 .1-.8-.1-.7-.4-1.5-1.3-1.5-.7-1.5-.1-1.5 .1-1.8 .8-.6 .8-.1 .8 1.8 2.4-.2 .8-1.3 .8-1.6 1.4-2.3 1-.7-.1-.8-.3-1.5-1.3-1.5 .1-.8-.3-.7-.9-.8-.4-1.5 .3-2.2-.2-1.5 .4-.8 .5-.7 .1-3.3-1.9-1.3-1.3-2.2-.3-1.5-.6-3 .1-2.3 .8-1.5-.7-1.5-.2-2.3 .4-.7-.1-1.5-.5-.8 0-1.5 .4-2.3-.3-2.2 0-2.3 .4-2.2 1.1-2.3 .2-1.5-.1-1.5-.7-.8-.1-1.5 .7-.7 .1-2.3-.7-1.5 .1-2.2-.2-.8 .2-2.3 .9-2.2-.9-3 .2-1.5 .5-.8-.1-1.5-.7-2.3 .4-2.2-.8-3.8 0-2.2-.7-3.1 .2-2.2-.5-3-.2-1.5 .3-3.8 0-6-.7-3.8-.1-6.8 .9zM32.4 22.5l1.1-.5 .8 0 1.1 .5 .3 .8-.7 .8-.7 .4-.8 0-.8-.4-.6-.8z"/><path fill="#790622" d="M-.4 -.4l136.4 0 0 7.2-9.1 .4-1.5-.2-1.7-1.1-1.3-.4-3-.3-1.5 .3-2.2 1.2-.7 .8 0 .8 1.4 1.6 .4 .8-1.9 2.1-.8 .3-2.2 .3-.7-.4-.3-.7-3.6-2-1.5 0-1.5 .8-1.5-.3-2.2 .3-.8 0-1-1.2-.2-.8-.6-.8-1.2-.4-3-.3-2.3-.4-2.2 .1-3.8-.2-5.3 .2-3-.3-9.8 .2-3.7 .4-6.1-.2-3 .2-4.5-.2-3 .3-3-.3-1.5 .2-3.8 .1-3-.4-3.8 .2-2.2-.5-5.3-.4-4.5 .3-3.1 0-3-.3-7.5-.2-6.8 .5zM32.8 22.5l.7-.3 .8 0 .7 .3 .4 .8-.9 .8-1 .1-.7-.4-.4-.5z"/><path fill="#67001f" d="M-.4 -.4l136.4 0 0 6.1-8.3 .3-2.3-.4-2.2-.6-2.3-.3-2.3 0-1.5 .4-2.2 1-.8 .1-6.8 .2-1.9 .3 0 1.6-1.1 1.3-.8-.5-.1-.8-.6-.5-2.7-1.1-1.8-.3-3.8 0-3-.4-5.2-.1-6.1 .2-6-.3-4.5 .2-3-.1-3 .3-6.1-.1-3 .3-10.5-.5-6.8 .1-1.5-.3-3 .3-9.1-.6-3.7 .4-9.8-.3-10.6 .2zM113.4 8.9l.7 .3 .8 .7 .2 .8-.2 .8-.8 .6-.7 .1-2.3-.7-1.2-.8-.2-.8 .7-.4zM33.2 22.5l1.1-.1 .8 .9-.8 .6-.8 0-.8-.6z"/><path fill="#fbccb4" d="M52.1 24.9l1-.2 .2 .2-.2 .8-2.3 1.8-1-.2 .3-.8zM117.7 27.3l.2-.5 .7 0 .4 .5-.3 .8-.8-.4zM113.4 29.3l3-.3 .6 .6 0 .8-.2 .8-.4 .2-.8-.2-.7-.5-.8-.1-1.5 0-.5-.2zM104.6 30.4l.5-.3 .5 .3 .9 .8 .1 .8-.8 .4-.7-.9zM97.6 32.3l2.2 .3 .7 .2 .4 .8-1.1 .2-1.5-.2-.7 .1-1.6 .6-.7-.1-.6-.6 .6-.6zM-.4 36.8l1.5-.4 .8 .1 .7 .4 .5 2.2 1 3.5 .2 2.9 .9 3.1 1.9 2.4 .4 .8 1.9 .4 .8-.1 .3-.3 .6-.8 .7-1.6 1.6-1.6 .5-1.5 2-2.4 .2-1.6-.1-1.6 .2-.7 .7-.7 .8 .3 .8 .6 2.2 .1 1.6 1.2 1.4 .8 2.3 .6 1.5 .8 2.3-.1 .4 .3-.1 .8 .4 .2 .8-.2 0-.8-.5-.8 1.2-.7 1.5 .3 3 1 .8 0 1.5-.7 .8-.1 2.2 .2 4.9 0 .1 .8-1.2 1.6-2.3 1.5-.9 1.6 1.1 3.2 .6 .7 2.2-.3 1.5-.6 1.5-.1 .8 .1 2.3 1 2.2 .2 .8 .5 .7 0 .8-.8 .9-1.5 .1-.8-.1-.8-1.1-2.4-.9-1.5-.1-1.6 1.9-1.7 .8-.2 1.5 .2 .7-.1 .8-1 .8 .4 .3 .8 1 1.6 .9 .4 .8 0 1-.4 .2-1.6-.8-1.6 .4-.8 .7-.1 .7 .1 .9 .8 .3 .8-.5 .8 .1 .8 .7 .8 1.5-.3 1.5-1 2.3-.6 .4-.5 .2-.8 .9-.7 .8-.1 1.5 .6 .7 .1 1.3-.7 .8 0 .5 .8-1.8 .6-.4 1 .6 .8 1.3 .4 .6-.4 .1-1 .6-.6 .9 .2 .7 .6 .2 .8 .7 .2 .7-.2 1.5-.8 1.5-.2 .8-.3 1.5-1.1 .8 0 .6 .8-.2 .8 .3 .8 .7 .2 .8 0 .8-.2 .7-.8-.1-.8 .6-.8 1 0 1.4 .8 2.4 2 .7 .3 1.5-.2 2.3-.6 .7 .4 1.1 1.3 1.3 .8 .8 .8 .3 .7 .1 4.8-1.3 2.1-.2 1 .2 1.5 .8 .8 .7-.1 .8-.4 1.5-2.1 .7-.5 .8-.2 .7-.6 1.5-.9 2.3-3.3 1.5-.9 1.2-1.2 1.8-3.7 .8-.5 2.3-.5 .1-.8 .8-1.6 .2-1.6 .3-.3 .7-.4 .8-.2 .4 .9 1.1 .4 1.1-.4 0-.7 .5-.4 2.2-.1 2.3-.6 0 27.2-4.5 .2-3.1-.2-6 .1-3-.3-4.5 .2-3-.3-3 .2-9.1-.1-3.8 .5-3-.2-3 .2-6.8-.2-3-.5-14.3 .7-3-.2-2.3 .1-9-.7-9.8-.1-7.5 .6-6.1-.6-10.5 .3-7.5-.2-4.6 .5-3.7-.1-2.3 .2 0-24.3 .3-.4-.3-.8zM18.5 43l-1.1 .9-.7 1.6-.1 1.5 .3 1 .9-.2 .9-1.5 .2-.8 .2-1.6zM135.2 38.3l-1.1 .8-.6 .8 .8 1.6 .2 .7 .3-2.3 .7-.8z"/><path fill="#fce2d2" d="M89 47l1.8-.4 4.5 .3 2.3-.2 2.2 .6 3-.1 1.5 .8 .8 .2 2.2 0 .8 1 .1 1.8-.2 .8-1.1 1.6-.3 .8 0 3.1 .7 3.4-1.5 .4-1.6 1-1.4-.1-1.5-.8-.7 .1-1.8 .8-2.8 .3-3-.3-3.7 .4-2.3-.2-2.2 .1-1.6-.2-1.5-.7-1.5-.3-3 0-2.2-.3-1.6 .3-2.2 .9-5.3-.1-2.2-.9-.8 0-.8 .2-.7 .8-1.5 .1-1-.1-1.3-1.2-2.2-.7-2.3-2.1-.2-.8 .2-.6 .8-.6 .7 .8 .8 .2 1.5-1.2 .7 0 1.5 .6 .8 .1 1.5-.4 .7 .1 1 1 .6 .3 .7 0 1.5-1.1 1.5-.7 2.3-.1 .7-.3 .4-.5 .4-1.5 1.8-2.4 .1-.8 .3-.4 .7-.4 .9-.1 .7-.3 1.5-1.1 3-.8 5.3 .2zM67 50.2l1.3 0 .1 .8-1.4 .8-.7 0-.6-.8zM28.7 51.8l1.1-.2 .7 .1 2.5 1.7 .6 .8 .7 .4 2.2 .5 1.5 .7 1.6 .2 .7 .4 .9 1.7 .9 .8-2.5 1-.8 0-.8-.2-2.9 .8 .7 .8-.8 .5-.5-.5 0-.8-4-1.2-.7-.1-3.8 .5-.8-.2-.4-.6 .4-.3 1.5-.4 .8-.4 .7-.1 1.6 .5 .7-.3 .6-.6 .1-.8-.4-.8-1.2-1.5-1.2-.8-.6-.8zM34.9 52.6l.9-.5 .7 0 1.1 .5-.1 .8-1 .7-.7 0-.7-.7zM118.6 56.4l1.6 0 3.7 1.1 4.5 .6 .8 0 1.5-.7 .8-.2 2.2 .1 1.5-.4 .8 .1 0 5.1-4.5 .2-5.3-.2-2.3-1.4-8.3-1.2-.7 .2-.8-.1-.7-.3-.6 .4 .4 .8-.6 .3-.7 .1-.8-.1-.5-.3-.2-.4-.1-.4 .5-.8 1.1-.9 2.2 .2 1.1-.1 .4-.1 1.5-1.1zM-.4 56.9l.8 .1 2.2 1.2 1.5 .1 .8 .3 .9 .3 .4 .8-.6 .6-.7 .3-.8 0-1.5 1.2-.5 .3-2.5 .1zM10.2 57.3l.7 0 1 1.6-2.5 1.7-.7 .1-.5-.2-.7-.8 .4-.8 1.5-.8zM46.8 57.3l2.5 .7 2 .1 .8 .8-4.2 .8-1.6 0-1.5 0-1.6-.8 1.6-1.3zM16.9 58.9l.8-.5 2.3-.3 .7 .1 1.2 .7-.5 .8-1.4 .7-.8 .1-.7-.3-.9-.5z"/><path d="M0 0h135.6v0.8h-135.6zM0 75.9h135.6v-0.8h-135.6z" fill="#fff"/><rect x="134.6" y="0" width="1" height="75.9" fill="#fff"/><use href="#cst"/></g><rect x="0" y="0" width="135.6" height="75.9" fill="none" stroke="#1a1a1a" stroke-width=".45"/><path d="M22.6 75.9 v2.1M45.2 75.9 v2.1M67.8 75.9 v2.1M90.4 75.9 v2.1M113.0 75.9 v2.1M0 12.7 h-2.1M0 25.3 h-2.1M0 38.0 h-2.1M0 50.6 h-2.1M0 63.2 h-2.1" stroke="#000" stroke-width=".5" fill="none"/></g><g transform="translate(358,305.2)"><g clip-path="url(#cp)"><rect width="135.6" height="75.9" fill="#edf2f5"/><path fill="#f9f0eb" d="M-.4 -.4l136.4 0 0 18.1-.8-.4-.7 .5 .7 .6 .8 .3 0 19.8-.8-.2-2.2 .3-3.1-1-.5 .7 1.3 .4 2.3 2 0 1.2-.8 1.2-.7 0-1.6-1.4-2.6-1-.4-.6-.5-1.8 .1-.7 1.2-1 .5-.6 .2-.8-.5-1.6 0-.8 1.3-2.4 0-1.5 .4-.8 .8-.8 .3-1.3 .8-1.1 .9-2.4-.3-.8-.6-1.2-.6-.3-.2-.4-1.5-.2-3.8 .5-1.5-.3-.4-.4-.7-1.6-.2-.8 .2-.8 1.1-1.4 .5-1-.5-.6-1.5 .1-1.5-.1-.9 .6 .9 .8 .4 .8-1.8 1.6 .1 .8-.2 .8-1.1 .8-.2 .8 .5 2.3 .8 1.2 .8 .3 .5 .1-.5 .2-1.6 2-.7 .4-1.5-.2-2.3 .4-1.5-.8-1.5 .1-.5-.5-.2-3.2-.4-.8-1.1-.6-.8-.2-1.5 .1-.8 .4-.1 .3 0 .8-.3 .8-.3 .3-.8 .2-1.2-.5-.8-.8 .5-.8-.7-.3-.8 .3 .5 .8 .1 .8-.1 1.6-.5 .3-.7 .1-.8-.3-.8-.9-1.6-.8-.6-.8-.3-1.5-1.2-.6-1-1-.3-.8 .6-.8-.8-.5-.8 .3-.1 .2 .1 .8-2.2 .7-.5 .9 .5 .7 1 .8 .2 .8 1 .8 1.5 .3 .8 .3 .2 .2 .1 .8-.3 .5-1.5 0-.8 .5-.7 .1-.8-.3-1.5-1.7-.7 0-.4 .9 .7 .8 .2 .8-.5 .6-.8 .3-1.5-.4-1.5-1.1-.3 .6-.4 .3-.8 .1-1-.4 .2-.3 .8-.3 .8 0 .4-.2 .9-1.6 2.4-1.6 .3-.8-.1-2.3 .3-1.6 .1-2.4-.6-.1-1.5 .7-1.5 .2-2.3-.6-1.1 .6-1.1 .2-1.5 1.4-2.3-.4-1.5 .4-.7-.2-1.6-1.7-.7-.2-.8-.1-1.5 .3-.7-.5-.8-2-.7-.7-2.3-.3-1.5 .1-1.7 .5-1.5 .8-.2 .8 .2 .8-.3 .8-.9 .8-.1 .8 1.5 .5 1.6 1.1-1.6 1.3-1 1-3.5 2.1-3.5 1.1-.4 .8-.6 .6-1.6 2.2-1.5 .3-3 2.2-1.2 .2-.7 .8 0 .8 .6 1.6-.3 .8 .9 1.2 .5-.4-.3-.8 .5-.8 .8-.2 .6 .2 .9 .9 .7 .3 1.5-.6 .5 .2 .5 .8-.8 1.6 .5 .7 2.4 .5 .7 .6 .3 .5 .1 .8 .6 .8-.2 .4-.6 .4-.9 .3-.8-.4-.3-.7 0-.8-.4-.6-.8-.4-1.5 .1-.8-.3-.4 .4-.1 1.6-1 1.4-.3 .2 1.8 .9 1.5-.5 1.6 1.3 1.5-.5 .7 .3 .5 .9-.1 .8-.4 .3-3.8-.1-1.5 .5-.7 0-2.3-.5-.7 0-1.5 1.2-.8 .3-.3-.2-.4-.8 .7-.6 2.3-.6 .7-1.1 .1-.8 .5-.8-.6-.5-.7-.1-1.5 0-.6-.2-.2-.2-.2-.6 .8-.8 .1-.8-.1-2.3-.8-.8 .1-.8 .5-.8-.3-.8-.8-1.1-.8-.1-1.5 .9-1.9 .3-.3 .8 .8 .8-.1 .8-.8-.3-.2-.5 .2-.8-.1-.8-1-.8-.3-.8 .1-.8 .4-.8-1.3-.8-.5-.8 .4-.7-.7-.4-.7 0-.8 .3-1.5 1.3-1.5 .5-.7-.2-1.6 0-.7-.4-2-1.9-2.5-.2-.3 .2-.7 1.5-.5 .5-.8 .3-.7 0-.8-.8 .5-1.5 .5-.8-1-1-.7-.2-1.5 0-.4-.4 0-.8 .3-.4 1.6-.2 .4-.2 .6-.8 .1-1.6-.4-.5-1.2 1.3-1.1 .5-1.6 .3-1.2 .8 .9 .8-.1 .8-1 1.6-.4 1.6-.3 .5-.8 .1-.8-.6-.2-1.6 .7-1.6 0-.8 .8-.8-.1-.8-1.1-.9-.8-.2-.9 .3-.1 .8 .6 1.6-1.1 .7-2.2 .4-.8 .5 .7 1.6 0 .8-.5 .7 .6 .4 .7-.8 .8-.2 .7 .4 .6 1 .7 .8-.2 .8-1.1 .6-1 1-2.8 1.2-.3 .4 0 .8 .4 .8 1.5 1.5 .7 .4 .8-.2 .7-.6 .8-.3 .7 0 .8 .2 .5 .5 .2 .8-.4 1.6 .4 .5 1.5-.7 .4 .2 .5 .8-.1 1-1.6 .6-.7 1.6-.5-.8-.2-1.1-.7-.5-1.6 .9-3-.4-.7-.5-1.4-1.6-.9-.4-.5 .4-.1 1.6 .3 1.6-.5 .4-.7 .1-1-.5 .7-1.6-1.6-1.6 .1-.8 .5-.8-.4-.8-.6 0 0-19.9 .8 .3 .2-.1-.1-.8-.9-.5zM1.1 20.9l-.2 .8 1.6 .8 .3 .8 .6 .3 2.2 0 1.6 .2 .5-.5-.5-2.5-.8-.2-.6 .4-.2 .6-.7-.6-.8 0-.7 .5-.8-.7-.7-.2zM3.4 13.3l-.3 .5 .3 .5 .4-.5zM20.7 1.2l-8.3 1-1.9 .6-2.6 1.5 .8 .5 .7 0 1.5 .6 3.8 .4 1.5 .7 3.8 .5 1.5-.2 .7 .7-.2 1.6-.8 .8 .3 .8 .8 .8 2.2 .9 .6 .6-.1 .8 .2 .8 .8 .4 .4-.4 1.1-.2 1.5 .8 .8 .1 .6-.7-.2-.8-.8-.8-.6-1.5 .2-.3 1-.5 3.5-1 2.3-.3 1.5 2.6 2.3-2.5 .7-.6 .3 .2 .5 1.6 .7 .7 .8-.1 1.5-1.2 .7 0 .8 .3 1.5-.6-.2 .9 .9 .8 1.5 .3 .8-.2 .9-1.7 .2-.8-1.8-2.4 .6-.8-1.4-.6-2.3-.1-1.5 .6-.7 .1-.8-.4-1.5-1.2-1.5-.7-1.5 .2-.8 .8-1.5-.1-.1-.2 .4-.7-3.3-1.7-.7-.3-4.6-.7-1.5 0-2.2 .3zM57.3 10.7l.3 .6 1.5-.3 .4-.3-1.1-.6zM63.7 6.5l-1.8 1-.3 .8 1.2 1.6 .9 .5 .7 .1 3.3-.6 1-.8 .2-.8 1.1-.8-.3-.8-.8-.1-.7 .3-.8 .1-.3-.3-1.9-.4zM72.7 7.3l-.4 .2-.6 .8 1 .2 2.4-.2-.1-.8zM83.2 5.9l-1.5 .5-1.5-.3-.7 .2-.4 .4-.3 .8 .2 .8 .5 .7 .7 .6 .8 .2 .7-.9 .8 0 .3 .2 0 .8 .9 .8 1.8 1.1 .8 .3 .7-.2 .5-.4-.4-1.6 .3-.8 .4-.4 1.5-.6 .6-.6 .2-.8-.8-.4-.8 0-2.1 .4-.9 0-1.2-.8zM90.8 13.6l-.2 .2 .9 .3 .4 .5 1.9 .8 .7 0 1.3-.8-.5-.8-.8-.4-.7-.1-2.3 .4zM92.3 8.8l-.6 .3-.2 .8 .8 .6 .7-.2 .4-.4-.4-.8zM93.8 5.5l-1.2 1.2 .4 .6 .4 .2 1.1-.1 2.3 .1 .6-.8-.3-.8-.3-.3-2.3-.3zM104.3 8.2l-.1 .1 0 1.6-.5 .8-.9 .2-1.5-.5-.7-.1-.8 .4-1.9 1.6-.2 .7 0 .8 .8 .8 .1 .8-.4 .8-1.4 1.6 .8 .8 1.1 0 .4 .4 1.5 .2 2.2 1-.2 .8 .2 .7 2.6-.7-.4-.8-2.5-3.2-1-.8-.2-.8 .8-.7 .7-.2 1.1 1.7 1.2 .5 .7-.3 .9-1.8 1.4-1 1.7-.6 .3-.7-.9-.8-1.9-.7-1.9-1.7-.2-.8zM114.1 5.1l.2 .8 .6 .3 1.2-.3 .2-.8-.7-.4-.7 0zM120.9 8.9l-.3 .2 .3 .6 .9-.6-.1-.3zM128.4 10.2l-.7 .5 .7 .3 .9-.3zM133.7 25.6l-.7 .1-1 .8-.2 .8 1.9 .6 .8-.1 .3-.5-.2-.8zM10.9 8.7l-.6 .4 1.4 .1 1.2 .7 1 .3 .8 0 1.2-.3 .5-.8-.2-.4-.8-.6zM19.2 16.7l-.4 .3-.2 1.6 .6 .8 .2-.8 1.1-.8 .3-.8-.8-.3zM25.2 15.8l-.9 1.2 .2 .2 .7 .2 1.2-.4 .2-.8-.6-.5zM32.8 18.2l-.7 .4 .7 .5 .7 .2 .7-.7-.7-.4zM41.8 29.2l-.5 .4 .5 .7 .8 .3 .7-.2 .6-.8-.6-.3zM42.6 12.7l-.3 .3 .2 .8 .8 .2 .4-.2 .1-.8-.5-.4zM44.8 20.1l-1.3 .9 .6 .7 .7 .3 .6 .5 .5 .8 .4 1.8 .8 1.2 .7 .3 2.3-.5 .9-.4 1.1-.8-.9-.8-.4-.1-.3-.7 0-.8-.4-.6-.8-.4-.7 0-.6-.5-2.4-.9zM79.5 13.4l-.4 .4 .4 1 .7 .4 .8-.4 .1-1-.1-.1-.8-.5zM88.7 11.5l-.3 .8 .9 .7 .7 .4 .4-.4 .1-.7-.1-.8-.4-.3zM98.3 19.7l-.3 .5 1.1 .7 .5-.7-.5-.8zM114.1 9l-.4 .9 .4 .4 .8-.2 .1-.2zM115.6 14.9l-.8 1.3-.7 .2-.7 .6-.8-.3-.7 .1-.8 .4-.7 .6 .5 .8 .2 .2 1.5 .1 .8-.5 1.5-.1 .7-.7 .8-.4 .7 0 1.2-.2 .1-.8-.7-.8-.6-.2zM12.9 19.4l2 1.6 .5 .2 .8 0 .5-.2-.2-1.6-.3-.3-2.3-.1zM14.7 13.6l-.4 .2-.1 .8 .1 .8 .4 .4 .7 .2 .8-.1 .6-.5-.1-.8-.5-.6zM32 21.8l-.9 .7-.1 .8 .3 .8 .7 .7 .8 .1 1.5-.1 .7-.2 .6-.5 .1-.8-.7-1.2-.7-.5-.8-.2zM76.5 22.5l1.1 .8 .2 .8 .9 .8 .4 .8-.4 .4-.7 .4-1.5-.6-1.5-.1-.4-.9 .3-1.6 .8-.7zM80.3 24.9l.7-.5 .2 .5-.2 .2zM96.7 26.5l1.6-.4 .6 .4 .4 .8-1 .7-1.4-.7zM16.2 27.8l.7 .8 .7 1-.1 1.6-.5 .5-.8-.3-.6-1-.2-.8zM78 28l.7 .9-.3 .7-1.2 .8-1.5 .5-.5-.5 .2-.8 1.1-1.1zM104.1 28.9l2.5-.2 2.3 .7 .7 .5 3 0 .4 .5-.4 .2-3 .4-2.7 1-.8 .8 .7 1.6 .5 .2 .8-.1 2.3-1 2.2 .1 .8 .3 .6 .5 .4 .8-.4 .8 .1 .2 .8 .5 1.5 0 .9 .9 .4 .7 0 .8 .2 .3 .7 .3 1.6-.6 1.5 .6 .8 1 .2 .8-.5 .8-1.3 1.2-.7-1.2-.1-.8-.7-.7-.8 .4-1.6 1.1-.1 1.6-1 1.6 0 .8 .2 .7-.5 .5-.7-.3-.8-.1-1.5 .7-.7 0-1.5-.2-.6-.6 .6-.7 1.3-.8 .9-.9 2.3-.4 .7-.3 .5-.8 .2-.8-.4-.8-1.4-1.6-1.1-.6-3 0-.8 .3-.2 .3 .2 .8 2.1 1.6 .2 .8-3 .9-1.6-.2-.7-.3-.4-.4-.3-1.6-.8-.8-.8-1.4-.7-.6-.8 0-.6 .4-.9 .9-2.2 1.5-.8 1-2.3-.3-.6-.7 .1-.8 .6-1.3 .7-.2 1.5 .9 .8-.2 0-.8-.8-.2-.7 0-.8 .2-.8-.1-2.8-1.4 1-4 1.1-.6 3-1 1.5-.1 .8 .2 .8 .7 .7 1.6 .7 .6 .8-.1 .5-.5 .5-.8-.3-.8 .3-2.4zM52.4 30.1l.7-.1 .8 .2 .7 1.8-.7 .7-.8-.1-1.2-.6-.1-.8zM29.2 32l.6-.3 .9 1.1-.2 .8 .2 .8-.2 .2-1.5-.6-.4-.4-.1-.8zM66.7 31.7l.7 .1 .4 .2-.4 .9-1.5 1-.7 .3-2.3-.2-.5-.4 0-.8 .5-.4 .8-.3 1.5 .1zM12.9 35.2l.3-.2 .7 .1 1.1 .9-.3 .5-.8 0-.9-.5zM82.7 36l.5-.6 .8 .2 .8 1 4.5-.4 2.8 1.4-.4 .7-1.7 1.2-.7 .2-.6-.6-.1-.8-.8-.9-.8-.2-.5 .4-.2 .7 1.5 4 .7 .6 1.5 .1 .2 .9-.7 0-1-.5-1.5 .2-1.5-.3-2.3 .1-1-.3-.3-.8 .6-.6 1.5-.5 .5-.5-.1-.8-.8-1.6 .1-.7-.8-.8zM135.7 39.9l.3-.4 0 1.7-.4-.5zM59.9 44.7l.8 .8-.1 .5-.7 0-.4-.5zM119.7 44.7l.5-.3 .2 .3 .1 .8-.3 .5-.8-.5zM16.9 45.5l.8-.3 .2 .3-.2 .3zM17.7 46.8l.8 .5 1.5 .2 .6 .3 .3 .8-.1 .8 .3 .8 0 .8-.4 .3-.7 .2-1.5-.2-.8 .4-.4 .9 0 1.6-.3 .7-.8 1.1-.8 .3-2.2-.1-.6 .3-.8 1.6-1.2 .8-.8 1.6-2.3 3.1-.2 .8 .6 .9 .8 .3 3 .6 3 2.2 .7 .2 .8 .1 1-2.7 1.1-1.6 .9-.2 .8 0 .7 .7 .5 1.1-1.4 .8-.5 .8 .4 .8 2.2 1.6 .3 .8 .8 .8 1.5 0 1.5 .8 3-.4 1.2-.4 1.5-.8 .7-.8-.2-.8-.6-.8 1.2-1.6 .3 .8 1.2 1.3 .7 .1 1.4-.6 .4-.8-1-2.3-1.5-.9-.6-.8 .5-.7 2.3-.9 1.5-.8 1.6-.5 1.5 0 2.2-.6 1.5-.1 .9 .5 2.1 .2 1.5 1.1 .8 .2 4.5 .5 1.3-.4 .2-.4 .8-.4 1.5-.5 1.5-.1 .7 .3 .8 .6 1.5 1.9 .8 0 1.3-1.4-.5-.8-1.2-.8 .4-.6 1.5-.5 .3-.5-1.1-.3-1.3 .3-.2 .7-.8-.2-.4-.5-.6-1.6 .4-.8 2.2-1.2 1.5-.4 .7 .2 1.5 1.1 .7 .3 .5 .8 .4 1.6-1.3 1.6 0 .8-.8 .8 3.2 2.3 1.1 1.3 .7 .4 1-.1 .3-.8 0-.8 1-.3 1.5 .8 3 .5 1.5 .6-.2 1.6 .2 .3 .8 .3 1.5-.1 1 .3 .8 .8-.3 .1-.1 .7 .1 .2 .8-.2 .4-1.6 3.3-1.4 .8 0 .7 .3 .7 1.1-.6 1.6 .3 1.6 .4 .3 .7 0 .3-.3 0-.8 .6-.8 1.4-1.1 .7 0 .8 .8 .2 1.1 .4 .8 1.3 .7 .9 1.6-.3 1.6 0 .8-2.5 0 0-.9-.8-.6-.4 .7 0 .8-7.8 0 0-.8-.1 .8-15.9 0 0-.8 .1-.2 .8-.1 1.5-1.1 1.3-.2-.6-.4-.7 0-1.5-.5-3 .4-1.5 .5-1.4 1.6 0 .8-6.6 0 0-.8-2.6-.5-.7 .2-.2 .3 0 .8-55.6 0 0-22.9 .7-.8 .3 0 .3 1.6 1.2 3.9 .1 .8 .4 .5 .8-.1 .7-.7 2.3 .9 .8 .1 1.2-.7 .8-.8-.3-1.6-.4-.8-.8-.8-.4-1.5-1.5-2.4-.2-.8 .2-.8 2.1-.9 3-.8 1.5 .3 .8 .4 1.5 1.9 .7-.6 1.5-2.6zM41.1 65.8l-.4 .2-.3 .8-.8 .8-1.9 .8 1.1 .5 1.5-.9 .8 0 .7-.4-.5-1.6zM68.2 65l-.8 .4-.1 .6 .1 .3 .8 .2 .5-.5-.1-.8zM76.5 69.5l-2.7 2.1 .4 .5 .8-.4 1.5 .4 .7-.1 .8-.4 .6-.8-.4-.8-1-.6zM55.4 47.1l.7 0 1.5 .6 1.1 .1 .4 .8-1.5 2.1-.1-.5-2.1-.9-.7-.7zM52.4 48.3l1.2 .3 .4 .8-.2 .8 .9 .8 2.2 .5 .7-.3 .8 .7 1.5 .4 .2 .3 .1 .8-1.5 1.5 0 1.6-1.2 1.6-.6 1.3-.8-.5-.2-.8-.5-.5-.8-.3-1.5-.4-.7-.6-4.6-.2-.3-.4-.7-1.5-.5-.6-1.5-.4-.9-.6 .3-.8 .6-.6 .8-.4 .7 .3 .8 .9 1.5 .1 .2-.3 .5-.2 .9-1.4zM62.3 48.6l.6-.2 .3 .2-.3 .2zM111 51l.2 0 1 .8-.3 .3-1.1-.3zM2.6 51.5l.8-.2 .8 1.3-.1 .2-.7 .4-.8-.3-.4-.3zM136 52.5l0 23.8-18.7 0 0-.8-.9-.6-.8 .2-.4 .4 0 .8-6.9 0 0-.8 .8-.8 .2-.8-.2-.8 .5-.9 1.5-.3 .8 .4-.3 .8 1 .6 .8 .1 1.5-.6 .7 0 .8 .3 .4-.4-.4-.6-2.5-.9 .6-1.6-.4-.8-2.2-2.2-.8-.1-1.5 1-1.1 .5-.9 .8 .5 .2 .8 1.3 0 .7-.8 .7-.8 0-.7-.7-.3-.6-.1-.8-.4-.7-1.5-.9-.7-1.1-1.5-.2-2.3 .7-.7-1-.8-.7-.7-.4-.8-.1-.8 .3-2.2 1.1-.4-.2-.5-.8 1.3-1.6 .2-.8 .9-1.3 1.5-.6 .7-.4 .4-.8-.1-.8-1-2.4 .5-2.4 3.3 .3 1.4 .5 .1 .3 .7 0 .2 .5 .6 .2 .5 .6 1 .7 .7 1.1 1.1 .6 1.2 .3 1.5-.1 1.5 .5 2.3 0 2.9 .9 2.3 0 .6 .8 .2 .9 .8 .1 .8-1-.4-.8-.1-.8 .7-.8-.1-1.6 .6-.7 2.2 .2 1.5-.3 1.5-.1 .8-.7 1.6-.8 1.4-.1 1.9 .1 2.8-2.3zM102.8 57.8l-.3 1.1 .3 .3 .3-.3zM129.2 64.2l-.4 .2 .2 1.6-.6 .3-1.5 .3-.7 .4-.7 .6 0 .8 1 .8 1.2 .5 .7 0 .9-.5 .7-.8 .3-.8-.4-1.6 .1-.8zM29.6 68.4l.2-.2 .9 .2-.5 .8-.4 .2-.3-.2zM98.6 73.1l.5-.1 .1 .1-.1 .5z"/><path fill="#fce2d2" d="M-.4 -.4l2 0 0 .8-.6 1.6-1.4 .5zM4.5 -.4l16.3 0 0 .8-2.3 .2-2.3 .4-2.3-.3-3 .6-3-.1-2.3 .1-.7-.4-.4-.5zM23.5 -.4l1.2 0 0 .8-1.2 0zM34.4 -.4l4.4 0 0 .8-.8 .8-.7 .3-.8 0-1-.3-1.1-.8zM52.8 -.4l39.7 0 0 .8 1.3 .3 1.3-.3 0-.8 .8 0 0 .8 1.7 .3 2.6-.3 0-.8 10.1 0 .1 .8 1.5 .1 1.6 .7 .6 .5 1.6 .3-.8 .3-3 .1-1.5 .8-.8 .8-1.5 .4-.7-.1-2.3-.9-1.5 .6-1.5-.1-2.3 .8-3-.6-3 0-5.3 .5-4.5-.1-2.3 .3-7.5 .5-2.3-.3-5.2 0-5.3 .1-3.8 .3-4.5-1.2-3.5-.6-1.2-.8-.2-.8 1.1-.7 2.3-.4 1.2-.5zM116.7 -.4l.9 0 0 .8-.5 .8-.4-.8zM125.8 -.4l10.2 0 0 2.6-3 1.4-.8-.1-2.3-1.2-2.2-.2-.8-.4-.7-.6-.4-.7zM43.6 2l1.7 0 0 .8-1.2 .2-.8-.2zM123.2 4.7l.7 .2 .2 .2-1.1 1.6-.6 .4-1.5 .2-1.3-.6-.5-.8 .3-.4zM9.9 10.7l1 0 .7 .8-.7 1-1.5-.4-.6-.6zM52.2 10.7l.6 0 .3 .4 0 .5-.7 .3-.3-.4zM9.4 13.8l.8-.7 .7 .1 1 1.4-.1 .8-.9 .2-.3-.2-.9-.8zM19.5 13.8l.5-.5 .7-.2 .8 .3 .3 .4-1.1 .9-.8-.1zM50.8 14.6l.8 .1 .7 .7 .2 .8-1.7 1.4-.2 1-.5 .8-.8 .1-.7-.2-1.2-.7-.4-.8 .2-.8 2-1.6zM41.1 15l.7 0 .9 .4 .3 .8-.8 1.6 1.1 .8 0 .8-1.5 .6-1.5 .2-.7 0-.6-.8-.2-2-1.5 .2-.8-.5 .8-1.2zM6.6 16.2l.6-.4 1.5 .4 .7 .8-.2 .8-.5 .3-.8-.1-.9-1zM3.1 17.8l.3-.3 .7-.1 .4 .4-.4 1.3-.7-.1-.3-.4zM53.8 18.6l2.3 .8 2.3 .4 .4 .4-.3 .8-2.4 1-2.2-.1-.7 .6-.8 .4-.6-.4 .5-.8 .3-1.5zM37.1 20.2l.2-.4 .9 .4-.2 .3-.7 .4zM133.1 20.2l.6-.2 .8 .2-.8 .7zM23.9 23.3l.6-.4 1.5-.3 .7 .2 .8 1.2 1.5 .6 .4 .3-.2 .8-1 .2-.4-.2-.3-.8-.8-.5-1.7-.3zM-.4 30.4l.3 0 .2 .8-.5 .4zM133.3 30.4l.4-.2 1.8 .2 .2 .8-.5 .4-1.5 2-.7-.3-.2-.5 0-1.6zM108.1 37.4l.6 .2-.3 .7-1.1 1.4-.7 0-.3-.6 .3-.5 .7-.4zM10.9 49.4l.8 0 0 .8-1 0zM7 50.2l.2-.2 .7-.3 .8 .5-.8 1-.7-.3zM52.9 52.6l.2-.4 .8-.1 .7 .2 .4 .3 .2 .8-.6 .3-.7 0-.9-.3zM9.3 67.6l1.6-.3 .9 .3 .3 .8-.4 .5-.8 .1-.7-.1-.9-.5zM58.4 67.3l.7-.2 .9 .5 .2 .8-.3 .8 .4 .8-.4 .5-.5 .3-1.8-.5-.7 .1-.5-.4 .4-.8 1-.8zM41.4 70l.4-.4 .8-.3 3 .1 .8 .6 0 .8-.5 .8 .2 .7 1 .2 .7-.2 1.5-1.4 2.3-.3 .3 .2 0 .8-1 1.5-.2 .8 .4 .8 1.6 .8 0 .8-4.8 0-.1-.9-.7-.7-.8-.1-.7 .2-.8 .7 0 .8-7.1 0 0-.8-.4-.8 .1-.8 .6-.5 .8-.2 2.3 1 .7 .2 .8-.7 .2-.6 0-.8-1-.7zM81.7 69.8l.4 .2 0 .8-.4 1-.7 .7-.8 .2-.7-.2-.2-.2 0-.7 .2-.6 .7-.7zM-.4 70.4l.8 .3 1.5 .1 1.5 .4 2.2 0 .8-.1 2.3-.8 1.5 0 .4 .5-.2 .8 .3 .7 3.2 .7 .3 .1 .5 .8-.7 .8 0 1.6-14.4 0zM132.3 70.8l.7-.4 .7-.2 .8 0 1.5 .5 0 5.6-15.4 0-.1-1.6-.6-.8-.1-.8 .6 0 1.3 .8 2.2-.2 1.5 .2 2.3-.9 .7 .5 .8 .8 .2-.4-.2-.5-.3-.3-.1-.8 .8-.7zM16.9 72.3l.6 .8 .1 .8-.6 .5-2.3-.5 .7-.2 .3-.6zM30.5 72.8l1.5 .1 1.6 1 2.2 .9 .7 .7 0 .8-4.8 0 0-.8-.4-.9-.8 .9 0 .8-6.5 0 0-.8 1.1-1.6 1.6 .1zM60.4 73.1l1.1 0 .6 .8-.7 .7-.8 .1-1.4-.8zM87.8 73.9l.7-.6 3.8 .4 .2 .2 .1 .8-.3 .8 0 .8-1.6 0 0-.8-.7-.3-1.5-.2-.4-.3zM73.4 75.5l3.1-.5 .7 .1 .5 .4 0 .8-4.3 0zM110.2 75.5l.9-.5 .8-.1 .9 .6 0 .8-2.6 0z"/><path fill="#fbccb4" d="M57.4 -.4l29.9 0 0 .8 4.2 .8 1.9 .8 .3 .8-2.2 .6-3 .3-4.5 .1-3 .4-6.8 .2-7.5-.2-3.8 .2-5.3-.3-2.2-.3-3.3-1 0-.8 1-.6 4.3-1zM95 2.8l.3-.5 .7-.1 .8 .3 2.3-.5 .3 .8-1.1 .1zM106.6 2.8l.7-.3 .5 .3-.5 .2zM4.2 72.3l.8 0 .6 .5 .5 1.1 1.1 .8 0 1.6-6.2 0-.1-1.6 .2-.3 2.3-1.7z"/><path fill="#f6b394" d="M72.9 -.4l9.9 0 0 .8 3.5 1 3.3 .6-1.1 .8-4.5 .3-3 .5-6.8 .3-7.5-.3-5.3 .1-4.5-.5-1.6-.4-.1-.8 3.1-.8 4.6-.7 10-.1z"/><path fill="#ec9374" d="M72.7 1l3.8 .1 3.7-.1 1.5 .3 2.1 .7-1.7 .8-1.1 .2-4.5 .1-2.3 .2-7.5-.3-4.6 .1-1.7-.3-.2-.8 1.9-.6z"/><path fill="#dd7059" d="M70 2l2.7-.3 2.6 .3-1.1 .4-1.5 .2z"/><path fill="#dae9f2" d="M18 2l3.5-.4 6.7 .1 4.6 1.1 1 .8 .3 .7-.8 1.6 .1 .8-.6 .6-.8 .2-1.5-1.1-.7-.1-3.8-.1-1.5-.3-3.8 .2-2.2-.4-5.3-1.2-.4-.2-.5-.7 1.3-.8zM32.1 22.5l.7-.4 .7-.1 .8 .2 .4 .3 .4 .8-.8 1-.8 .2-.7-.2-.4-.2-.6-.8zM119.8 35.2l.4-.4 .7 .1 .4 1.1-.4 .3-.7-.1-.3-.2zM24.6 36.8l1.4-.7 .7 0 1.5 .7 .8-.2 .8 .2 0 .8 1.5 1.1 .2 .4 .1 1.6-.2 .8-.5 .8 0 .8 1.9 1.7 1.9 .7 1 .8 .1 .7-.5 .8-1 .5-.8 .8-.3 1.9-.4 .4-.8-.1-2.1-1.1-.2-.8 .2-.8 1.3-1.6-.7-.3-1.5-.2-3.2-1 0-.8 .5-.8 .1-.8-.7-.8-1.2-.8-.4-.8 1.2-1.6-.1-.8-1.5-.7zM112.1 40.7l.5-.4 .8 0 .7 .4 .4 .8 0 .8-.4 .5-.7-.1-1.1-1.2zM6.1 47l.3-.2 .8 0 .2 .2-.2 .3-.8 .1zM68.5 51.8l.4-.1 .8 .5 .2 .4-.2 .8-.8 .2-.7-.3-.4-.7zM109.1 54.2l.5-.4 .8 .1 .1 .3-.9 1-.6-.3zM22.4 58.1l.6-.6 .7-.2 .8 .5 .1 .3-.3 .8-.6 .6-.7 .1-.6-.7zM33.4 58.9l.9-.3 .7 .3 0 .8-1.5 .2-.7-.2zM79.1 62.1l.4-.4 1 .4-.3 .4zM109.9 69.2l1.2-.6 .8 .1 .6 .5 .4 .8-1 .9-.8 .1-.7-.1-1.1-.9zM76 70.8l.5-.4 .7-.1 .8 .5-.8 .5-.7-.1z"/><path fill="#c2ddec" d="M16.5 2.8l4.2-.7 5.3 0 3.9 .7 1.7 .8-.2 .7-2.4 .9-3 .3-5.3 0-1.5-.2-3.8-1-.9-.7zM32.8 22.5l.7-.1 .5 .1 .6 .8-.3 .4-.8 .3-.7-.2-.4-.5zM109.9 70l.5-.5 .7-.2 .8 .2 .3 .5-1.1 .5-.7-.1z"/><path fill="#a2cde3" d="M18.7 2.8l2.8-.4 3.7 .1 2 .3 1.9 .8-.6 .7-2.5 .6-5.3 .1-1.5-.2-1.5-.5-.8-.7zM33 23.3l.5-.4 .5 .4-.5 .3z"/><path fill="#7eb8d7" d="M18.7 3.6l1.3-.5 1.5-.3 3.7 .3 1.7 .5-.9 .8-4.5 .2-2.1-.3z"/><path d="M0 0h135.6v0.8h-135.6zM0 75.9h135.6v-0.8h-135.6z" fill="#fff"/><rect x="134.6" y="0" width="1" height="75.9" fill="#fff"/><use href="#cst"/></g><rect x="0" y="0" width="135.6" height="75.9" fill="none" stroke="#1a1a1a" stroke-width=".45"/><path d="M22.6 75.9 v2.1M45.2 75.9 v2.1M67.8 75.9 v2.1M90.4 75.9 v2.1M113.0 75.9 v2.1M0 12.7 h-2.1M0 25.3 h-2.1M0 38.0 h-2.1M0 50.6 h-2.1M0 63.2 h-2.1" stroke="#000" stroke-width=".5" fill="none"/></g><g transform="translate(31.9,400.5)"><g clip-path="url(#cp)"><rect width="135.6" height="75.9" fill="#fbccb4"/><path fill="#f6b394" d="M-.4 -.4l2.2 0 0 .8 4.6 .7 2.3-.2 2.6-.5 0-.8 19.5 0 0 .8 4.2 .2 4.1-.2 0-.8 11.2 0 0 .8 2.8 .8 1.5 .1 4.5-.7 .7-.2 0-.8 8.6 0 0 .8 2 .6 1.5 .1 5.4-.7 0-.8 21.6 0 0 .8 2.6 .8 2.8 .6 3 .1 3.8-.3 3 0 2.3-.2 6.3-1 0-.8 13.3 0 0 12.1-1.7 .6 .1 .7 1.6 2 0 5.3-2.3 1.3-.7-.2-.3-.4 0-.8 .3-.3 1.5-.2 .2-.3 0-.8-.8-1.6-1.7-1.2-.2-.4 1.1-1.6 .3-.8-.4-.2-3.8 .2-4.5-.6-2.3-.1-1.5 .1-1.5 .6-.8 0-3-1.2-3-.5-.7 .1-.8 .4-.7-.1-2.3-.8-2.3-1.2-.7 0-.8 .5-1.5-.1-.7 .2-1.5 .8-1.2 1.2-.3 .7 .3 .8 .6 .8 1.3 .8 3.8 .8 .7-.2 .5-.6 .6-.8 .8-1.6 .4-.2 .8 .1 .7 .4 .8 0 .7-.4 .8 .3 2.3 2.2 .8 1.6-.1 .8-.8-.1-.7-.7-.8-.2-.7 .2-.6 .8-.2 .8-1.5 .5-1.5 1-3.2 1.6-3.1 .8-3.5-.1-1.5 .7-1.5 1.5-.8 .3-2.2-1.1-1.6-1.3-1.4-1.9-.8-2.4-1.2-1.2-.3-.5-1.4-1.1 .1-.8-.2-.5-.7-.7-1.6-.6-1.5-.1-1.6-.4-.6 0-1.4 .7-.9 1.1-.7 .3-.8 .4-.5-.2 .4-.8-.2-.8-1.3-1.5-2.2-1.5-1.5 .4-2.2 .1-1.5 .8-3 .9-1.6 .2-.6 .6-.3 1.6-.4 .8-.9 .7-.8 .3-.4-1 0-.8 .4-.8 1.3-.8 .8-.7-.6-.4-.7-.3-.8 .1-1.5 .6-4.5 .2-2.3-.1-3 .6-3.7-.5-1.5 .1-1.4 .4-.5 .8 .1 .8 .9 1.6-.1 .8-2.1 .6-1.2 1-.3 .8 .1 .8 .8 1.5-.1 .4-.7 .4-3.1-.5-3.7 .3-3.8-.5-1.5 .1-2.3 .8-1.5 .2-.7-.5-1.6-3.8-.7-.4-.7 0-1 .4-.6 .4-.7 0-2.3-.9-.7 .1-1.5-.1-1.5 .6-.8 .1-1.5-.3-2.3 0-1.5 .6-2.2 .4-2.3 1.2 0-6.6 .8 .9 .7 .6 .8-.3 .9-.7 .2-.8-.7-.8-.4-1.2-.4-.3-1.9 .4zM2.6 10.6l1 .1-.2-.7zM13.2 10.6l-.3 .9-.5 .3-.7 .2-1.5 .1-.8 .4-1.5-1.2-.7 0-.8 1 .3 1.5 .5 .6 .7-.1 1.5-.9 2.3-.3 2.2 .1 .9-.2 .3-.7-.8-.8 0-.8-.4-.2zM47.7 16.2l.9-.6 .7 0 1.3 .6 1 .8-1.5 .4-1.5-.1-1-.3zM78.7 16.2l.8-.4 .7-.1 2.3 .1 1.4 .4-.2 .8-2 .2-2.3-.2zM133.5 26.5l1-.2 .7 .3 .8 .7 0 4.6-1.5-.9-3.9-.6-.3-.8 .1-.7 .3-.4zM-.4 26.6l1.7 1.5 .8 .8 .4 .7 .1 .8-.3 .8-.4 .5-.8 .4-.7-.2-.8-.5zM116.2 39.9l.9-.2 1.9 .2 2.1 .8 .2 .8-3.4 3.1-.8 .5-1.5 .3-.7-.3-.4-.4-.3-.8 0-.8 .7-1.9 .7-.9zM129.7 62.1l1.8-.5 .7 0 1.5 .5-.8 .8-1.4 .1-.9-.1zM49.4 65.2l2.2-.4 .8 0 1.1 .4-.4 .8-2.3 .4-2-.4zM4 66l2.1 0 .1 .8-2.1 .2-1.1-.2zM58.7 66l.4-.2 .8 0 .5 .2-.5 .2zM118.4 66l2.5-.3 3.8 0 3.7 .7 4.8 .4 .4 .8-1.5 .8-2.8 .8-.5 .8 .3 1.6 .6 1.5 .4 .8 1.4 1.6 0 .8-10.6 0 0-.8 2.9-3.2 0-.7-.5-.8-.9-.6-.7-.2-3.1-.1-.7-.2-1.9-1.3-.5-.8 .6-.8zM85.8 72.3l3.5-.6 1.5-.1 .7 .3 1.5 1.3 3 1.4 .9 .9 0 .8-13.3 0 .1-1.6 .3-.9 .8-.9zM17.1 74.7l1.4-.5 2.2 .1 1.3 .4 1 .8 0 .8-6.9 0 0-.8z"/><path fill="#ec9374" d="M82.8 -.4l5.1 0 0 .8 6.6 .3 1.5 .4 4.6 1.7 6 .7 15.8-1.4 4.5 .1 3.8-.4 5.3 .3 0 5.2-2.3 .8-2.2 1.1-.8 .7-.4 .8-1.1 .4-1.5 .1-1.5-.3-3.8-.3-1.5 .1-1.5 .6-.8 0-1.8-.6-1.9-1.4-2.3-1.1-4.5-1.6-.8-.2-6.7-.5-3.8 1.1-1 .5-.5 .7-.8 .6-1.1 .3-3.4 1.6-1.5 .3-1.5-.1-1.5-.4-4.5-2.2-.8 0-1.5 .4-.7-.2-.3-.2 0-.8-1.2-.8-1.5-.4-1.6-.2-3-.1-3.7 .6-3-.3-6.8-.3-1.5 .5-1.5 1.3-3.1 1.3-2.2 .4-4.5 0-3.8 .5-1.4-.1-2.4-.7-3.7 .3-3 .1-5.3-.6-7.5-.2-4.6-.9-3 .4-1.5-.4-2.3-.9-1.5-.4-1.5 0-3 .9 0-5.5 1.5 .1 4.5 .8 4.6-.5 5.2-1.4 4.6-.3 1.5 0 4.5 .6 12 .7 2.3-.2 2.3-.6 1.5-.2 5.2 .5 4.6 1.5 1.5 .1 3-.3 6-1.1 2.3 .1 3.7 .7 2.3 0 7.5-1.2 2.6-.9zM22.6 14.6l5.7-.7 3 .2 1.5 .4 .7 .6 .4 1.1 0 .8-1.1 1.1-1.5 .6-6.8 0-1.5-.2-1.5-.6-2-.9-.6-.8 .8-.8z"/><path fill="#dd7059" d="M83.3 2l2.2-.2 8.3 .4 1.6 .6 1.4 .8 .9 .7-3.2 1.3-1.5 .4-6.7 .5-2.3-.3-7.2-1.9 1.1-.7 2.3-.5zM14 2.8l2.9-.4 12.1 .1 10.6 1.1 4.5-.8 2.2-.1 1.5 .1 1.5 .4 2.4 1.1-.9 .7-1.5 .6-1.5 .6-1.5 .3-9.8 0-3 .3-3.7 1.1-3.1 0-2.2-.1-3.8 .2-3.8-.3-3.7-.9-3.8-.7-1.7-1-.3-.8zM121.7 3.6l9.6 .7-1.2 1.6-2.4 2.6-1.6 .6-2.9 .1-3-.3-2.4-.6-1-.8-1.2-1.4-1.2-1-.5-.8z"/><path fill="#cc4c44" d="M14.2 4.3l2.7-.3 3.8 .3 7.5-.7 2.3 .2 2 .5-2.1 1.6-1.4 .5-7.5 .5-3.7-.2-.9-.2-1.3-.6-.9-.8z"/><path fill="#fce2d2" d="M105 -.4l3.4 0 0 .8-3.4 0zM113.8 -.4l.4 0 0 .8-.4 0zM101.3 12.3l1.5-.5 1.9 .5 .8 .7 0 .8-.4 .6-2.3-.2-1.3-.4-.5-.8zM122.6 15.4l1.3-.5 1.5 .1 1.8 .4 1.1 .8 .3 .8 0 .8-.4 1.6 .1 .8 .9 .7 1.5 .5 1 1.1 .3 .8-.7 1.6-2.1 2.1-.8 .3-3 0-3-.3-.8 .3 0 .8 .8 .5 3 .5 1 .5 1.3 1.2 1 2 2.8 2.9 .7 .5 .8 .3 .7 0 2.3-.6 0 24.2-4.5-.4-6.1 1.1-1 .5-.5 .8-.1 1.5-.6 .3-9.1 1.5-2.2 .8-1.1 .6-.7 2.4-.5 .9-.7 .5-.7-.6-3.9-.3-2.2-.8-.6-.5-.3-.8 .3-.8 0-.8-1.7-.4-1.5-.1-4.5 .6-4.5-.3-1 .2-2 1-3.1-.3-1.5 .2-1.1 .7-.5 .8 .4 1.6-.2 .8-.8 .8-.8 .3-3 .3-3 .1-3 .5-3.8-.3-3.2-.9-1.2-.8 1.8-.8 3.1-.8 5.2-.8 1.6-.8 .9-.8 .4-.8-.7-.8-.4-.1-1.5-.5-3-.4-3-1.2-3.2-2.5-2.1-1.1-2.2-.6-2.3-.2-1.5-.5-.3-.8 .3-.3 .8-.1 1.3-1.2 1.3-5.5-.4-1.6-.7-.9-1.7-1.4-1.3-2.8-.8 1.4-.7 .3-.7-.5-.9-1.4-.7 0-1.5 1.3-1.4 .9-2 2.3-.1 .8 .5 2.6 .7 .5 3-.2 .8 .1 1.7 1.8 0 .8-.2 .3-.9 .4-1.4 1.6-6 2.1-3 .5-3 .9-2.3-.1-.7 .2-2.2 2-3.9 .6-5.2 2.3-1.5 .3-1.5-.1-6.1-1.2-1.5-.4-3-1.3-3.8-.7-4.5-1.4-1.5-.2 0-23.8 1.5-.4 1.5 .2 .8 .2 1.5 1.3 .4-.7 1.7-1.6 .7-1.6 2.5-1.6 1.2-2.4 1-1.5 .4-1.6 .4-.3 2.2 1.1 1.5 0 .9 0 .7-.9 .7-.5 2.3 1.3 3-.1 .7 .2 2.3 1 1.5 .2 1.5-.2 2.3-.8 1.5-.3 3-.1 3 .4 1.5-.1 2.9-.9 .8-.8 .2-.8-.3-1.6 .1-.8-.5-.8 .6-.6 .7 .2 .8 .4 .7 1.6 .8 .1 .7 1.3 3.1-.3 .7 .1 2.3 .7 3.7 .2 1.5-.5 .4-.8 0-.8-.5-2.3 .4-.8 .5-.6 .7-.5 1.6-.4 2.2-.2 11.3 1.1 4.5 .8 5.3 0 .8 .2 .7 .9 1.5 2.4 2.7 2.6 .3 .3 2.3 .9 1.5 1.5 .8 .5 .7 .2 .2-.3 .1-1.5 .2-.8 .5-.8 .9-.8 .4-.2 2.2-.4 1.5 .2 1.3-1.2 1.1-.8 1.1-1.6 1-.7 1.6-.9 1.5-.3 1.5-.7 2.2 0 1.5-.4 3.1 .7 1.7-3.2zM15.4 34.3l-.7 .4-2.4 2.1-.6 .8-.2 .7 .6 2.4-.1 .8-1.1 .6-1.5-.1-2.6-1.3-1.6-1.6-.3-1.2-.2 1.2 .6 4-.3 2.4 1.4 3.1 .8 .8 .7-.8 1.5-.8 .8 .1 .7 .6 .8 .2 1-.9 .8-1.5 1.5-1.6 0-.8-.9-2.4 .1-.8 .7-1.6 2-2.6 .3-1.3-.3-.4-.7-.4zM17.7 44.5l-1.1 1-.3 1.5 .1 .8 .4 .8 .1 .3 .8 .2 .8-.6 .3-.7 .1-.8-.3-2.3zM24.9 55.7l.5 .8 1.3 .5 .8 0 1.7-.5-.3-.8-1.4-.5-.8-.1zM29 31.4l-.4 .6 .4 1.6 .6-.8zM53.1 40l-.1 .7 .1 .3 .8 0 .5-.3zM102.1 29.5l-1.2 .9 .1 .8 1.8 1 .8 .7 .2-.9-1-.5-.4-1.9zM114.9 30.7l-.5 .5 .5 .5 .7 .3 .4-.8-.4-.4zM117.9 32.4l-.9 .4 0 .8 .7 1.6-.6 .3-1.5-.6-1.5-.1-1.5-1.2-1.5 0-2.2-.6-1.6 .5-.7 .9 .1 1.6-.2 .8-1.2 1.5-.7 1.6 .1 .8 1 1.6 .6 1.6 .7 .8 1.3 .8 .5 .8 .1 1.6-1 5.5 .2 1.8 .8 .6 1.5-.1 .7-.3 2.3-1.1 1.2-.9 1-.5 .9-1.1 1.4-2.8 .7-.5 2.3-.8 .6 .1 .2 .6-.1 1-.6 1.6 .5 .8 1.7 .8 1.5 .3 .7-.2 1-.9 .3-.8 0-2.4 .7-1.6 .1-.7-.8-2.4 .4-.8 1.8-1.6 .6-.8 .2-.8-.2-.8-2.6-1.7-.7-.4-1.8-.2-.1-.8 .8-1.6 0-.8-1.2-1.8-.7-.4-.8-.1zM16.2 54l-.4 .9 .8 .8 1.9 .4 .7 0 1.4-.4-.1-.8-2-1.2-.8-.2-.8 0zM11.5 19.4l.9 0 .8 .2 .3-.2 .4-.1 1.2 .9-.4 .3-.8 0-.7-.2-1.5 .3-.9-.4zM52.4 19l.2 .4-.3 1.6-.7 .8-1.3 .7-1 .3-.7-1.1 .1-.7 1.1-.8 1-.3zM6.4 20.1l.8 .2 .7 .7 .8 .2 .7-.3 1.5 1.1 2.3 .6 .3 .7-.1 .8-1 1.1-.7 .1-1.5-.1-1.5-.5-1.5 .3-.8-.1-1.5-.6-1.5-1.9-2.3-.1-.7-.6 1.5-1.1 .7 0 .8 .5 .7-.6zM19 21l.2-.3 .2 .3-.2 .7zM54.4 21l1-.5 .7 .3 .2 .2-.1 .7-.8 .7-.8 .2-.3-.9zM117.7 36l.2-.5 .3 1.3-.3 .1zM108.6 36.8l1-.6 .8-.1 .7 .1 .9 .6 .5 .8 .2 1.5-.1 .8-.7 1.4-.8 0-1-2.2-1.4-1.5zM122.4 43.5l.8-.1 1.4 .5 .8 .8-.1 .8-.8 .8-2 .7-.8 .6-.2-2.1 .2-1.3zM24 67.6l.5-.3 .7 0 .9 .3 1.9 1.6 2.4 1.6 .5 .8-.3 .7-.8 .5-1.6-.1-2.7-1.1-2.4-1.6-.3-.8zM57.1 71.6l.5-.6 .8-.1 1.4 .7-1.4 .3zM10.2 74.3l.7 .2 .8 .5 .3 .5 0 .8-5.1 0 0-.8zM41 75.5l1.6-.3 1.5 .2 .3 .1 0 .8-3.4 0z"/><path fill="#f9f0eb" d="M72.5 22.5l2.5-.2 1.5 .1 .6 .1 .7 .8-1.3 .4-2.3 0-1.5-.4zM108.7 25.7l1.2 0 .6 .8-.9 .7-.8 .1-.6-.8zM44 28.9l.4 0 .2 .7-.5 .6-.8 .3-.7 0 .1-.9zM33.3 29.6l1 0 .1 .8-.1 .4-1.5 .3-.3-.7zM64.7 30.4l1.2-.5 .8 0 3 .2 1.5 .3 1 .8 .4 .8 0 .8-.7 .9-.7 .2-3-.5-1.9-.6-1.5-.8-.3-.8zM41.8 33.6l1.2 0 .3 .3 .1 .5-.8 .9-2.3 1.3-.5-.6-.3-.8zM90.9 37.6l7.6 0-.9 .2-2.3-.2-3 .1zM21.5 39.2l.7-.1 .8 .3 2.2 1.6 .8 .3 2.2 .1 3.1 .9 4.5-.2 2.2-.7 4.3 .9 1.3 .8-1.6 1.6-.4 .8 0 1.5-.3 1.6 .1 .8 .5 1.6-.1 .5-.2 .3-.5 .1-3.1 0-3.7 .8-2.3-.4-3-1.2-1-.9-4.3-5.9-1.5-1-3.1-1-1.5-.8 .4-.8zM92.4 53.4l.6-.7 .8 .3 .2 .4 0 .8-.2 .5-.8 .2-.7-.7zM94.5 56.4l.8 0 .7 .3 .8 .6-.2 1.6 .2 .8 1.4 .8 2.4 .8 1.5 .3 3-.6 1.5-.1 4.5 .7 1.1 .5 0 .8-1.8 .7-.8 .1-5.3-.3-3-.4-4.5 .9-3.8 .3-2.2-.3-4.2-1-2-.8 2.4-1 2.8-2.2zM104.7 67.6l1.6 0-.5 .3-.7 0z"/><path d="M0 0h135.6v0.8h-135.6zM0 75.9h135.6v-0.8h-135.6z" fill="#fff"/><rect x="134.6" y="0" width="1" height="75.9" fill="#fff"/><use href="#cst"/></g><rect x="0" y="0" width="135.6" height="75.9" fill="none" stroke="#1a1a1a" stroke-width=".45"/><path d="M22.6 75.9 v2.1M45.2 75.9 v2.1M67.8 75.9 v2.1M90.4 75.9 v2.1M113.0 75.9 v2.1M0 12.7 h-2.1M0 25.3 h-2.1M0 38.0 h-2.1M0 50.6 h-2.1M0 63.2 h-2.1" stroke="#000" stroke-width=".5" fill="none"/></g><g transform="translate(195,400.5)"><g clip-path="url(#cp)"><rect width="135.6" height="75.9" fill="#fce2d2"/><path fill="#fbccb4" d="M-.4 -.4l136.4 0 0 37-3-.1-2.3-.9-.7 .4-.8 .9-1.5 .1-.2 .6-.6 .2-.7 .1-.4-.3 0-.8 .4-.4 1.5 .3 .7-.1 1.2-1.4-1.2-2.3-.7-.9-.8-.3-.4-.5 .4-.9 1.5-1 1.6-2 .3-.8 1.2-1.1 .4-2.1-.4-.5-.8-.1-1 .6-.2 .8 .1 1.6-.4 .5-.8 .3-.4 .8-.3 1-1.3 1.3-1.7 1.1-1.4 .5-.2 1.6-.7 .7-3 .6-2.3 1.4-.1 .5 .2 1.6 .7 1 1.5 .4 3 0 1.6 .9 .7 .8-.8 .5-.7 .8-1.5 2.1-.6 1.4-.9 1.4-2.3 1.6-1.8 1.7-.3 .8-.6 0-.3-.4-.8 .8-.3 2-.4 .8-.8-.1-.7-.5-.8-.9-.7-.2-.8 .5-.3 .4 .2 .8 .6 .7 .1 .8-.6 .9-.7 .2-.4-.3-.4-.6-.2-1.7 .1-.8 .8-3.2 .2-2.4 1.2-1.5-1.4-1.6-.7-.4-.8-.1-.7-.4-.4-.7-.4-1.6-1.1-.8-.5-.8 .2-1.6 .5-.7 1.8-1.6-.9-1.4-.7 .2-.8 0-.4-.4-.7-1.6-.4-.3-2.2-.6-1.5-.2-2.3-1.1-.8-.8-.7-1.8-2.5-1.5-1.4-1.6-2.4-1.6-.5-.8-.7-.2-.8 .2-.7-2.4-.8 0-2.3 .4-3-.2-.6-.9 .1-.8-.2-.9-2.3-.1-2.2-.9-6.1 .4-.7-.6-.8-1.1-1.5 .9-2.2 .4-1.6 1.4-.2-.3-1.3-.4-1.5 .2-1.6-.6-.3 .8-.3 .2-1.5 .5-.1 .9-.4 .8-1 1.2-.6 1.1-1.7 1.3-1.5 .2-.4-.7 2.1-1.6 .7-1.5 .7-.8 .1-.8-.2-.2-.7 .2-.8 1.2-.8 .7-1.5 .5-.7 1.3-.4 .2-.4 .1-1.5-.7-.8 1.4 .4 2.4-.6 1.6-.7 .8-1.5 .8-1.4 1.5-.7 1.6 0 .8-.5 .8-1.7-.2-.8 .2-.2 .8 .1 .8 .4 .8 .1 1.6 .6 .7 .2 .8-.4 .2-.8-.2-1.1-2.3-.8-.8 .5-.8-.1-2.4-1-1.6-.5-1.6-.7-.6-.8-.2-.7 .3-1.5 2.2-.7 1.5-.1 .8 .3 .8-.1 .8-.2 .2-1.6-1-.9-1.6-.4-1.6-.7-1.6-1.7-1.5-.7-.2-1.5 0-1 1-1.3 .2-1.5-.3-1.5 0-1.5-1.8-.8-.1-.7 .2-.8-.2-.5 .4 .4 1.6-.6 3.1-.8 .7-.6 .9 .3 .8 1.1 1 .7 .2 1-.4 .6-.8 .4-.8 .3-.2 1.5 .5 .5 .5-1.2 1.6-1.6 .8-.9 .8-.4 1.5 .5 1.6-.4 1.6 1.4 1.6-.2 .8-.7 .4-1.5 .3-.5 .9-.1 .7 .7 .8-.9 3.2-1.5 1.3-.7 .2-2.3-.4-.7-.4-.6-.7-.4-.8-.7-2.4-.9-1.5-.1-.8 .9-2.4-1.1-2.4-.9-1.7-.8-.8-1.5-.2-.6-.4 .1-.8-1-.3zM1.9 20.5l-.9 1.2 .1 .3 2.3 .2 .8 1.1 1.4 .9 .8 .2 .8 0 .7-.6 .8 .1 2.2 1.2 .8 .2 .7 .1 .5-.5 .2-.8-.4-.8-1.8-.5-1.5-.9-.7 .8-.8-.2-.7-.6-.8 .3-.7 .1-.5-.6-.3-.9-.8-.1-.7 0-.8-.3zM123.2 13.6l-4.5 2-.7 .6-.4 .8 0 .8-.9 .8-1.1 .6-.7 0-1.5-.6-1.5 .4-1.5 .6-2.3 2-.8 .9-1.5 1.1-.3 .5-.4 1.6-.8 .7-1.5-.4-2.2 0-.8 .3-.3 1-.1 1.6 .4 .7 .8 .3 1.5-1 .7-.2 .4 .2 .5 .7-.1 .8 1.2 1.6 .2 1.6 .8 .7 .8-.3 .7-.7 1.6-.7 2.2 .7 1.5-.2 .6 .5 .2 .9-.8 .7-1.5 .3-.6 .5 .4 .8 1 .1 .7 .1 .8-.1 1.5-1.3 1.6-.4 0-.8 .6-1 3.8-.6 .8-.3 .7-1 .6-.3 .2-.2 .1-.6-.1-.8-.6-1.5 .4-.8 .3-1.6 .6-.6 3.8-.6 .5-.4 .7-.8 .1-.8 .2-.3 1.5-1.2 .5-2.4 .1-.8-.3-.8-.3-.8-.7-.8-3.8-2zM10.9 38.3l-.7 1.1-.6 1.3 .5 .8 .8 .2 .8-.1 1.6-1.7-.3-.8-.6-.5-.7-.4zM124.3 27.3l.4 .4 .7 .2 .9-.6-.9-.4zM84.8 23.3l1.5-.4 .2 .4-.4 .8-1.3 .7-.8-.4-.2-.3zM118.1 28.9l.5-.4 .8-.1 .9 .5-.9 .7-.8-.2zM17.7 29.6l0-.5 .7 1.3-.7 1.1-.8-.3zM45 30.4l.6-.6 .7 .5 .6 1.7 1.3 .8 .4 .5 .7 0 .6 .3-.6 .3-.7-.1-1.5 1.1-.2-.5-1.9-2.4zM54.6 32.4l1.5-.2 1.5 .1 .9 .5-.9 .3-1.5 1.4-.7 .2-.8 0-1.5 .4-1.2-.7-.1-.8zM41.6 37.6l.2-.2 .8-.2 .9 .4 .4 .7-.3 .8-1 .2-.3-.2-.7-.8zM49.2 38.3l.9-.5 1.5 .7 1.5 .1 1.5 .3 .8 .8 .4 1 .2 .8-.6 .8-.8 .4-.1 .4 .1 2 .1 .4 1.6 1.5 .2 1.6 1.1 .9 .2 .7-.2 .5-1 1.1-.5 1.1-.7 .7-1.5 0-.3-.2 .3-.4 .7 0 .6-.4 .4-.8-1-.8-1.5 1-1.5-.2-.8-.6 0-1.5 .6-1.1-.6-.2-.7-.1-1.5 .8-.8 0-1.5-.8-.5 .3-.9 1.6-.1 .7-.6-.7-.9-.3-.5-.5-.3-.8 .2-.8 .6-.8 .8 .1 1.5 1.2 .2-.5-.4-1.5 1.7-2.7 .7 0 1 .3 1.3 1.2 1.5-1 .8 .2 .2-.4 0-.8-.9-1.6-.1-.9-.8-.5-2.2-.8-.1-.2zM53 49.4l.9 .8 .5-.8-.5-.4zM130.7 38.6l.8-.1 2.2 .8 2.3 .5 0 1.2-2.3 2.4-2.2 0-.8 .4-.1 .9-.7 .5-1.5 0-1.5 .4-1.5-.9 1.5-.5 .4-.3 1.1-1.6 1-.8zM-.4 39.6l.8 .2 .4 .9-1.2 1.1zM103 40.7l.4 .8-.6 1.8-.7 .5-.8 .2-.9-.1-.6-.5-.2-1.1 .9-.8 .8-.4zM91.5 42.3l.9 0 .5 .8-.1 .8-.5 .8-.8-.3-.3-.5-.2-.8zM17.7 43.9l.8-.5 .4 .5 .3 .8-.1 .8-.3 1.5-.7 1.6-.4 .4-.8-.1-.5-1.1 .2-2.3zM44.9 51l.7-.2 .1 .2-.1 .4zM128.4 55.7l.8-.3 .7 .3-.7 .3zM4.1 64.9l3.8 .3 2.3 .5 2.2 .2 .4 .1 .6 .8-.4 .8-.6 .4-5.2 .3-1.6-.4-2.2 .1-.8 .4-2.2 2.4-.7 1.5 .3 .8 .4 .1 .7-.3 .8-.8 .7-.3 1.3-.2 1.1-1.6 .6-.3 1.6-.1 1.5 1.1 .7 .2 1.5 0 .4 .7 .1 .7-.5 .9-.7 .8-.8 .2-2.2-.1-2.1 1.4 0 .8-4.9 0 0-1.6-.6-1.5 0-7.6 .8-.3zM136 65.3l0 5.5-.7 1.5 .3 .8 .4 .1 0 3.1-.2 0 0-1.6-.6-1.5-.7-.1-.8-.8-.5-1.5 .1-.8-.2-.8-.3-.8-.1-.8 .3-.7zM14.8 66.8l.6-.6 1.5 0 .8 .3 .4 .3 0 .8-.4 .3-.8 .2-.7-.1-1.1-.4zM37.9 66.8l1 0-.9 .4zM30.4 67.6l.9-.3 .7 .1 .4 .2 .5 .8-1.2 .8-.4 .1-.8-.2-.8-.7zM93.8 68.4l.7 0 .8 .8 .2 .8 .5 .4 .8 .3 .7-.7 .2-1.6 .6-.6 .8 0 1 .6 .4 .8-.2 1.6-.5 .8 .8 .3 1.5 1.2 .1 .8 .6 .3 2.3 .4 .7-.3 .8-.6 .7-.3 1.6 .4 .7 0 .8-.2 1.5-1.1 .7-.3 .6-.6 .2-.9 1.5-.4 .7 .1 .4 .4-.5 .8 .1 .7 .7 1.6 2.4 .5 1.2 1.1 0 .8-32.7 0 0-.8-.9-.5-.5 .5 0 .8-3.2 0 0-.8-.9-.4-1.4-2 .1-.8 .6-.4 2.2-.4 2.3-.8 2.3 .6 2.2-.5 .7-.8 .3-.8zM25.6 69.2l.4-.2 .8 .2 .7 .8 .2 .8 .5 .5 .8 .2 2.3-.4 .7 .1 2.8 1.1 .1 .8-.2 .8 .6 .8 1.2 .8 0 .8-2.6 0-.1-1.6-.3-.3-.7 .7-.1 1.2-8.3 0 .1-.9 1.5-1.5-.1-.8 1.2-1.5-.6-.8-1.3-.8zM29 71.7l-.2 .6 1 .2 0-.5zM48.2 69.2l.4-.4 .7-.1 1.5 .2 .4 .3 .4 2.4-.1 .7 .6 .8-.1 .8-.6 .8-.1 1.6-5.5 0 0-.8-.2-.1-.3 .1 0 .8-8.7 0 0-.8 .7-.8 .3-.8-.4-.8 .3-.8 1.3-.7 1.5-.1 .8 .8 .3 .8 .4 .2 .8-.2 1.5-1.1 .7-.3 1.5 .2 .8-.3 .7-1.1zM122 69.2l2.7 .1 2.2 .7 .8 .8-.8 .3-.1 .5 .1 .6 3 .4 .8 .5 0 1.1-.8 .6-1.5 .2-.7 .4-.1 .9-2.4 0 0-.8 1.2-.8 .2-.8-.4-.4-.8-.3-2.4-.1-1.4-.8-.7-1.1-2.8-1.2 .5-.2 1.6 .1zM14.5 70l.2-.2 .6 .2 .4 .8-.3 .2-.7-.2zM128.6 70l.6-.6 .7 0 1.2 .6 0 .8-.4 .1-1.2-.1zM22.1 73.1l.6 0-.1 .8-.4 .2-.3-.2zM53.4 73.1l1.2-.4 2.3 .4 1.5-.2 .7 .7 .5 1.1-.5 .6-1.5-1-.7-.1-2.3 .2-.9-.5zM62.4 73.1l.5-.2 .8-.1 .9 .3-.9 .7zM71.9 73.5l.8-.2 .7 .2 .4 .4-.8 .8-.1 1.6-2.8 0 0-.8zM63.7 75.5l.7-.4 .8 .3 .1 .1 0 .8-1.6 0z"/><path fill="#f6b394" d="M-.4 -.4l136.4 0 0 11.6-4.5 .2-1.6 .2-6 0-2.2-.2-.8 .1-1.5 1-.7 0-1.6-1.2-.7-.2-3-.3-.8 .3-1.5 1.1-2.2-.2-.8-.2-.8 .1-.7-.3-.8 0-.7 .4-.8 .1-2.2-.5-1.5 .5-.8 .7-1.5 .2-1.1 .8-.1 .8 .5 .7 .7-.4 .8-.6 .7-.3 1.5 .8 1.5 0 .8 .3 .6 .3 .9 1.1 .7 .2 .7-.5 .2-2.4-.2-.8 .1-.6 2.3 0 .6 .6 .9 .4 .6-.4 .1-.4 .8 1 0 .4-1.6 1.4 0 1.6-.7 .7-1.5-.1-1.4 1 .1 .8 .5 .3 .1 .5-.8 .8-2.2 1.5-.3 .8 0 .8-.3 .8-.2 .1-2.3-.2-1.5-.7 1-1.6-.3-.8-.7-.8-1.5 .8-.7 .2-1.6-.1-.7 .6-.8 3.3-.7-.5-1.7-1.9-.2-.8 .4-.5 0-.5-.8-.1-.7 1-.8-.5-.7-.8-.5-.9 .1-2.4-.4-.7-1.3-1.7-2.1-1.6-1.9-.7-1.5 .1-1.5-.5-.7 .1-1.5 .7-1.5 .1-3.8-2.5-1.5-.1-2.3 .2-2.2 .9-2.3 .1-2.3 .8-.9 .8-.6 1-.7 .6-.5-.8 .3-1.6-.6-.3-2.2 0-3 .5-1.2 .6-.5 .8 .9 1.6-.3 .8-1.2 .8-1.1 1.6-4.2 1.4-1.5 0-1.5-.4-.1 .6-.6 .7-.8 .3-1.5 .1-.5-.4-.4-.7-.6-.4-1.5 0-.5-.4-.1-.8 .8-.8 .2-.8-.4-.5-.8-.3-3 .6-.2 .2 0 1.6-.5 .9-.8 .3-2.2 0-1 .4-.4 .7 .5 .8-.1 1.6-.6 1-.7 0-1.5-.7-3.8-.2-1.5-.6-.7-.1-1.5 .4-.8 0-.8-.6-.3-.8 .4-.8 .2-.7-1.8-2.2-.7-.6-.8-.2-.7 .3-1.5-.1-.8 .5-.7 1.4-.8 .2-.8-.1-.7-1.4-6 .3-.8 .3-1.5 1.7 0-1.2 .4-.5 0-.8-.4-.7 0-3.3 .7 .8 .3 .8 .5 .3 1.8-1.1 .2-.8-.5-1.6-.1-.7-.6-.7-.8-.3-1.5-.2zM7.2 12.2l-1.1 2.4 1.1 0 1.7-1.6 .1-.7-.3-.3-.8 0zM19.2 17.7l-.7 .2-.8 .7-.1 .8 .5 2.3 1.1 1.2 .8 .3 .5-.7 .1-.8-.2-.7-.7-.8 .1-.8 .6-.8-.4-.6zM20 14.5l-.3 .1 .1 .8 .2 .1 .7 .2 .7-.3-.7-.9zM26 19.3l-.2 .1 0 .8 .2 .3 .2-.3zM43.3 12.9l-.9 1.7 .9 1.3 .8 0 1.3-1.3 .1-.8-1.4-.4zM93 16.1l-.3 .1 1.1 .2 .2-.2zM105.1 19.2l-.2 .2 1.6 0-.7-.3zM43.3 16.7l-1.5 .8-.5 1.9 .5 .3 .8-.2 .3-.9 .9-.8 .2-.8zM44.1 17l.7 .3 .5 .5 1 .2 .7-.2 .1-1-.8-.3zM133.6 14.6l.9-.7 1.4 1.5 .1 .5 0 4.3-1.5 1.5-.8 .2-1-.2-.1-.7 .4-.6 1.5 0 .7-.5 .4-.5 0-.8-.7-1.6-1-.8zM132.7 15.4l.3-.2 .7 .2-.7 .2zM133.4 25.7l.3-.4 .3 .4-.3 .3zM3.2 27.3l.9-.6 .8 .1 .6 .5 .3 .8-.2 .2-.7 0zM.7 33.6l.4-.3 .8 .1 .7 .4 1.1 1.4-.3 .7-1.9-.7-1.3-.8zM130.9 33.6l.6-.2 .7 .1 .4 .1 .9 .8-.5 .3-.8-.1-.7-.2zM114.6 38.3l.3-.3 .7-.3 .4 .6 .2 1.6 1.9 .8 1.2 1.6 .9 .8 0 .9-1.6 1.2-.7 .2-1.9-.7-.4-.8 0-.9-.7-.8-.9 .9 .3 .8 0 .8-1.7 .4-.7-.1-1-.3-.9-.8-.1-.8 .5-.5 1.5-1 1-.9 1.4-.8zM52.9 40.7l.2-.5 .8-.1 .4 .6-.4 .8-.8 0zM9.5 47l.7-.3 0 .4zM94.3 75.5l1-.6 1.5 .2 1.2 .4 0 .8-3.7 0z"/><path fill="#ec9374" d="M-.4 -.4l136.4 0 0 9.2-1-.5-1.3-.2-1.5 .3-1.5-.1-3 1.1-.8 0-3.4-.3-1.2-.8-1.4-.3-.9 .3-.4 .8 .3 .8-.3 .8-.2 .2-.8 .1-1.5-1.5-2.2-.8-1.5-.4-3.8 .4-.4 .4-1.1 .2-2.3-.2-.7 .4-.8 1.4-2.2-.7-5.3 .2-1.5-.7-.8 .2-.7 1.1-1.5 .7-2.3-.7-.7 0-.8 .3-1.5 1.6-.7 .1-1.5-1.3-2.3-.2-.8-.6-1.5-.1-2.2-.9-1.5-.1-1.5-.4-2.3-.3-1.5 .2-1.5 .7-3 .3-1.5-.2-.8 .1-1.5 .7-1.1-.2-1.2-1-2.2-.1-1.5 .2-2.3-.2-1.5 .9-.7-.1-.8-.9-.8-.2-1.5 .6-1.5 .1-.7 .3-.8 .9-.7 .5-.8-.3-.7-1-.8-.6-2.2-.7-.8 0-1.5 .8-2.6 .8-1.9-.1-1.5 .8-.8 .3-1.3-.2-.9-.9-2.9-.7-1.7 .1-2.2-.1-.8 .2-.9 .6-.7 .8-.4 .8-1 .3-.7 0-2.3-1.1-1.5-1.5-.8-.1-1.5 .5-.7 0-.8-.6-.7-.1-3 .7-1.6-.7-.7-.5-.8-.3-3.7-.1-.8-.3zM90.3 18.6l.5-.6 .7-.1 1.8 .7-1 .6-1.5 .3-.5-.1z"/><path fill="#dd7059" d="M-.4 -.4l107.1 0 0 .8 1.4 .5 .8 0 .9-.5 0-.8 26.2 0 0 7-3-.6-3.1 0-1.5 .5-.7 0-1.3-1.4-1-.3-1.4 .3-1.6 1-1.5 .4-2.3 1-.7 .2-1.4-.2-1.6-.5-.8-1-.7-.2-2.3 .6-4.5 .2-1.5 .3-2.3-.4-1.5 .4-.7-.1-2.3-1-.7 .5-4.6 1.3-.7-.1-1.5-.6-2.3 .7-3.7-.5-3.1 .3-3-.1-2.2-.8-2.3-.1-.8 .1-2.2 .9-3 .6-3.8-1-2.3-.1-4.5-.4-3.7-.7-.8 .1-1.5 .8-1.5 .2-2.3 1-.7-.5-2.3-.2-.7 .1-1.5 .6-2.3-.2-2.3-.5-.7 0-1.5 .6-6 1.2-.8 0-2.3-.7-5.2 .7-2.3 .1-.7 .4-1.6-.1-.2-.3-1.3-.4-2.2-.1-3-.6-2.3-.2-3.8-1.1-2.2 .1-2.3-.4z"/><path fill="#cc4c44" d="M-.4 -.4l26.5 0 0 .8 2.1 .4 2.3 0 .8 .2 2.2 1.4 .8 .2 2.2 0 1.5 .4 .8-.3 .8-.7 2.2-.7 .3-.9 0-.8 3.6 0-.1 1.3-.6 1.1 1.3 .4 .8 .6 .6 .6 .1 .7-.7 .5-.8 .2-.7-.1-1.5-.6-.8-1.5-1.5 .5-.4 .3 .4 .7-1 .8 .3 .5 .7 .2 0 .4-3-.2-1.5-.5-.8 .2-1.2 1-1 .2-1.5-.2-.8 0-2.2 .8-3.8 0-4.5 .6-3.8 0-4.5-.6-6-1.3-.9-.3-1.4-.8-.8-.3-4.5-.4zM57.8 -.4l40.7 0 0 .8 .4 1.6-1.8 2.3-1.1 .6-3 .6-3-.3-2.2 .6-2.3-.3-3 .3-5.3-.9-3-.2-3 .8-.8 0-1.5-.3-2.2 .2-3.6-.3-3.2-.6-2.3 .3-1.8-.5-.4-.5-.7-.2 2.2-1.2 .3-.4 0-.8 .6-.8zM123.3 -.4l1.6 0 0 .8-1 .4-.6-.4zM127.8 -.4l8.2 0 0 4.9-2.3-.6-2.2-.3-.8 0-1.5 .4-.8-.1-.3-.3 0-.8-.4-.6-.4-.2 .1-.8 .4-.8zM50 1.2l.8-.3 1.3 .3 .6 2.4-1.3 .7-1.3 0-.5-.7 .4-.8zM54.2 1.2l.4-.2 1 .2-1 .2zM122.1 2.8l.3-.3 .8 0 .4 .3-.4 .2-.8 0zM106.8 3.6l.8 0 .7 .7-1.7 .2-.2-.2z"/><path fill="#ba2832" d="M77.9 1.2l.8-.4 .8-.1 .9 .5 .4 .8-.8 .8-.5 .1-.8-.1-.9-.8zM15.4 1.3l6.8 .1 3 .6 6.1 .8 1.2 .8 .6 .7-.7 .8-.4 .3-3 1.1-7.5 .9-3.8-.1-4.5-.6-2.6-.8-1.9-1.1-1.2-.5 1.4-.7 2.8-1.2zM84.1 2l1.4-.3 .8 .2 .2 .9-.4 .8-.6 .1-1.5 .1-1-.2-.4-.8z"/><path fill="#9f1228" d="M17.7 2.5l4.5-.2 6.8 1.4 1.3 .6-.6 .8-1.8 .8-6.4 .9-3.8-.2-3.8-.6-1.7-.9-.7-.8 1.1-.7z"/><path fill="#790622" d="M16.4 3.6l1.3-.3 5.3 0 3.7 1 .2 .8-3.9 .9-2.3 .2-3-.2-2.7-.9-.3-.8z"/><path fill="#67001f" d="M17.5 4.3l4 0-.2 .8-1.3 .1-1.3-.1z"/><path fill="#f9f0eb" d="M63.9 51l.5-.4 .5 .4 .3 .8-.8 .2-.3-.2zM21.4 56.5l6.1 .5 2.3 0 .5 .3 1 1.3 .7 .3 1.5-.1 .4 .1-.4 1.1-.7 .6-2.3-.1-.7-.7-.8-.4-.8 .5-.7 1-.8 .7-1.5 .4-3.7 .3-.8-.1-1.5-1.4-.7-.4-.8-.1-.8 .2-3 1.6-.8 0-.2-.8 0-.8 .3-.3 1.5-.5 1.6-1.6 2.9-1.2zM52.3 57.3l.8 0 .6 .8-.2 .8-.4 .3-1.5-.1-1.5 .5-.9-.7 .1-.6 1.5-.3zM35.5 58.1l1-.1 .8 .1 .3 .8-.3 .2-.6-.2zM72.5 59.7l2.5 .1 2.2-.2 1.5 .3 2.3-.4 2.2 .3 2.3-.4 1.5 .7 .8 .1 2.2-.3 2.3-.7 .7 0 2.3 1 3.8 .5 2.2 .6 .8 .1 2.2-.4 2.3 .1 2.3 1 1.6 0 .7 .8-.8 .4-1.5 .5-2.3 .2-2.3 .7-1.5-.1-2.2-.5-2.3-.2-3.8 .9-.7 .1-2.3-.2-2.9 .5-3.8 2.2-1 1-.9 1.6-.4 .2-3.8 .8-4.5 .8-2.3-.1-3 .2-3.7-.7-4.6 .1-1.5-.7-.7-.6-.8-1.1-1.5-.4-1.5-1-3-.4-4.5 .1-.8-.2-1.7-1 0-.8 1.7-.7 7.6-.1 2.9-.8 .8-.5 2.3-.1 1.5-.6 5.2-.3 1.2-.8 .4-.6 2.2-.2zM123.2 59.7l.7-.5 2.3-.1 2.2 .6 2.3 0 3 .7 2.3 .1 0 2.5-3 .7-7.6-.2-1.5-.5-1-.9-.3-.8zM1.9 60.2l.3 .3 .9 1.6-.4 .8-3.1 .3 0-2.7zM5.6 60.5l.8-.4 1.2 .4-.4 .5-.8 .1zM115.2 66l1.9-.3 4.6 0 1.3 .3 1 .8-.8 .8-7.6 .3-.8-.3-.2-.8zM110.2 66.8l.3 0 .1 .8-1 .2-.4-.2zM55.4 75.5l.7-.2 .8 .1 .1 .1 0 .8-1.6 0z"/><path fill="#edf2f5" d="M76.5 61.6l4.5-.1 3 .8 1.3 .6-.1 .7-1.3 1.6-3.6 2.4-1.6 1.5-1.9 .9-3 .8-4.9 .1-3-.5-4.5-.3-.8-.2-1.5-1.6-.7-.7-.8-.3-4.5-1.1-2.4-.2 5.4-.8 6-1.5 4.6-.5 3.7-.9z"/><path fill="#dae9f2" d="M71.6 63.6l3.4-.4 3.7 .1 1.3 .3 .4 .8-2.4 2.1-3.1 1.9-.8 .8-1.4 .5-2.3 .4-1.5 0-6.8-1-1.5-.8-1.8-1.5-.7-.8 1.1-.8 3.7-.9z"/><path fill="#c2ddec" d="M61.9 65.2l4-.6 3.8-.1 3 .2 1.5 .2 .6 .3 .1 .8-.6 .8-2.4 1.4-1.5 .6-1.5 .3-5.3-.7-2.2-.8-.8-.8-.2-.8z"/><path fill="#a2cde3" d="M65.9 65.2l3 0 1.5 .2 1.7 .6-.2 .8-2.2 1-1.5 .2-3-.2-1.1-.2-1.6-.8 .2-.8z"/><path d="M0 0h135.6v0.8h-135.6zM0 75.9h135.6v-0.8h-135.6z" fill="#fff"/><rect x="134.6" y="0" width="1" height="75.9" fill="#fff"/><use href="#cst"/></g><rect x="0" y="0" width="135.6" height="75.9" fill="none" stroke="#1a1a1a" stroke-width=".45"/><path d="M22.6 75.9 v2.1M45.2 75.9 v2.1M67.8 75.9 v2.1M90.4 75.9 v2.1M113.0 75.9 v2.1M0 12.7 h-2.1M0 25.3 h-2.1M0 38.0 h-2.1M0 50.6 h-2.1M0 63.2 h-2.1" stroke="#000" stroke-width=".5" fill="none"/></g><g transform="translate(358,400.5)"><g clip-path="url(#cp)"><rect width="135.6" height="75.9" fill="#edf2f5"/><path fill="#f9f0eb" d="M120.4 4.3l2.8 .2 1.5-.2 1.3 0 2.4 1.7 1.5 0 4.3 2.3-.5 .7-.3 .1 .8 .8 1.8 .7 0 9.8-2.3 .5-1.5-.2-2.3 .7-.8 .3-1.5 1.6-1.4 .3-2.1-.3-2.2-.8-.1-.8-.5-.7-1.9-.3-.7 .3-.6 .7 .7 1.6-.2 1.4-.7 .3-.8 0-.3-.1-.8-.8 .8-1.6-.2-.8-1-.5-.7 .1-.8 .8-.7 .2-1.5-.8-1.5-.2-1.5-1-.8 .3-1.5 .1-.8-.5-.7-.2-2.3-.1-.7 .1-1.3 1 0 1.5-1.1 .8-.7 .8 .2 .8-.1 .8-2.3 .6-.8-.1-.7-.5-.5-.8-.1-2.4 .6-.9 .8-.4 1.5 .4 .7-.1 .7-.5 1-2.4 .1-.8-.3-.3-2.2-.3-.8-.4-.5 .2-.3 .9-.7 .9-1.5-.8-2.3-.7-.7 .1-.8 .5-1.5 1.8-3.7 1.1-2.3-.6-3-.1-1.5 .2-1.5-.5-3.1-.3-2.2 .2-2.3 .6-2.2-.6-1.5 .2-3.1-.4-.7 .7 0 .8 3 1.5 1.5 .2 .8 .6 .4 .8 .7 2.4-.9 .8 .1 .8-.6 .8-.5 .1-.7-.1-.7-.8-1.5-.8-3.9-1-.7 .2-.5 .8 .1 1.6-.4 .2-.7 0-.6-.2-.9-.9-1.5-.4-1.5 .2-1.6 .7-.5-.4 .9-1.6-.5-.8-.6-.3-2.3-.2-.4-.3-.6-1.6 .3-.2 .1-.6 .6-.8 1.5 .5 .8-.1 1.1-.4 1.1-.7 .1-.8-.7-1.6 .7-.7 1.5 .1 .9-.2 .4-.8-.3-.8 .2-.8 1.8-.7 .9-.9 1.3-.3 2.3 .2 2.3-.1 1.5 .3 3 0 .7-.1 1.5-.9 .8 0 1.5 .7 .7 0 1.3-.6 .3-.4 .7 .1 2.3 .9 2.2-.2 6.1 .9 .7-.1 .5-.4 1.8-2.5 .7 .3 1.4 2.2 .9 .8 .7 .3 2.3 .1 .7-.4 .4-.8 1.3-1.5 .2-.8 .4-.2 .8 .2-.3 .8 .8 1.5-.1 .8 .1 .8 .2 .3 2.3 1.4 2.2 .4 .3-1.3 .5-.7 .7-.5 1.5 .5 .8-.1 1.1-.8 .7-.8 .2-.8 .3-.1 1.6 .1 .7-.7-.4-1.6 .1-.8 1-2 .7-.3 .8 .2 2.7-.3 1-.4 .7-.4 .5-.8zM115.6 18.1l-1 1.3 .3 1.1 .2-.3 .5-.2 .5-.6 .2-.8zM38.5 8.3l2.6 0 1.4 .8 1.2 1.6 0 .8-.4 .9-.7 .2-1.5-.9-.8 .1-1.5 .7-.6 .5-.3 .8-.8 0 .1-2.3 1.6-1.6 .1-.8zM87.4 9.1l.4-.3 .8 .3-.5 .8-.3 .1zM-.4 10.2l2.1 1.3 2 .8-.9 1.5 .6 .4 1.5 .1 2.3-1 .2 .5-.2 1.4-.8 .4-.8 .1-.7 .3-1.3 1.8 1 1.6 .2 .8-.7 .1-.7 1-.8-.6-.7 .1-1.5-.4-.8 .2zM47.5 10.7l.3-.3 .8 .1 .2 .2-.2 .2-.8 .3zM22.7 11.5l.3-.4 .7 0 1.5 1 6.1 .9 2.2 .8 1.5 .2 .7 1.4 2.3 1.4 .8 .2 .8-.5 .7-.8 .8 .2 .1 .3-.5 .8-1.9 0-1.7 2.4 .1 .8 1.6 .6 .8 1 .7 .6 3-.3 .8 .3 1.2 .9 .6 .8-.3 .3-1.4 .5-3.9 1.1-1.5-.3-.8-.4-.7-.1-1.5 .7-3-.4-2.3 .4-.8-.2-.5-.8-.1-2.4-.8-1.1-.8-.2-.8 .2-.7-.1-2.3-1.2-1.5-.1-2.2-.9-2.3-.7-1.5 .4-1.5-.5-4.5-.9-1.1-.4 .6-.8 1.2-.3 4.5-.3 .9-1-.6-.8 .5-.7 1.5 .9 .8 0 1.5-.5 2.2-.1 .5-.4zM28.2 19.3l-.4 .9 .4 .4 1-.4 .3-.8zM43 14.6l.3-.4 .8-.3 .7 .5 .1 .2-.8 .8-.8-.2zM44.8 17l1.5-.4 .8 .4-.8 .5zM92 20.2l1.2 0 .2 .8-.7 2.3 .2 2.4 .4 .8 .7 .8-.1 .8-.9 .9-.7 .5-1.5 .7-.8 .6-1.5 .4 1.5 .6 2 .2 .3 .2 .7 1.2 .4 .2 .8 0 1.1-.6 .7 .1 .9 .5 .4 .8-1.4 .8-5.1 1-1.5 .1-3.8 1.1-.6-1.4-1.7-.5-.3-.3 0-.8-.4-.4-2.3-.7-1.5 0-1-.5-.1-.8 1.1-.9 1.6-.7 .5-.8 .2-.7 2.2-.6 3.1 .5 .7 0 1.5-.5 2.3 .1 .4-.3 .4-.8-.5-.8-1.7-.8 .1-.8 1.5-.8 0-.8-.7-1.6 .2-.7zM105.8 21.5l.8-.1 .6 1.1-.1 .8-1.3 1.1-.7-.8-.3-1.1zM136 22.6l0 11-.7 .8-.1 1.1-.3 .5-1.2 .3-.5 .5-.2 .8-.8 .5-1.5-.5 .4-.8 1.4-.8 1.2-.4 .4-.4 0-.8-1.1-.9-3.1-1.5-.7-1.5-1.5-.4-.8 .1-.5-.6-.2-1.1-1.9-.4-.2-.8 1.3-.2 1 .2 .5 .5 .8-.3 2.5-1.8 .5-1.6 .8-.6 .9-.2 1.3-.7zM133.7 24.8l-.3 .1-.4 .8 .7 .4 .5-.4zM-.4 22.6l1.5 0 2.3 .5 0 .2-.5 .8-.4 1.6-.5 .8 .1 .8 .5 .5 1.5 .7 1.7 1.1 .6 .8-.3 1.6-1.2 1.1-.8 .4-2.2-.4-.8 0-.7 .5-.7 .8-.1 1.1zM12.2 24.9l1-.2 .3 .2-.1 .8-.9 .8-.8 .1-.8 .4-.7 1.9 .2 1.5-.2 .6-.8 .4-1-.2-.4-.8 .9-1.5-.3-.8-.6-.8 .8-.8zM23.8 24.9l1.4-.2 1 .2 1 .8-.1 .8-1.1 .4-2.1-.4-.6-.8zM118.8 25.7l.6-.7 .8 0 1.7 .7 .9 .8 .4 .7 .2 .1-.6 1.6 0 2.3 .4 .3 2.2-.1 .8 .2 1.5 1.3 .7 1.5 0 .8-.7 .7-1.7 .1-.3 .8 .4 .8 3.1 .1 .7 .4 .2 .2-.1 .8-.8 2.4-.9 .8-1.4 1.9-1.5 .5 .8 .2 .8 .6 2.2 .6 1.5 .9 .8-.4 1.5-1.6 .7 0 2.3 .9 0 11.4-1.1-1.6-1.2-.9-2.2-1-3.8-.5-.4 .1 .3 .8-.2 .7-.9 1.6 1 .8 2.4 .6 .8-.1 1.5-.7 .8-.1 .7 .1 1.5 .6 .8-.3 0 18.9-20.8 0 0-.8-.9-.8 .1-1.6-.3-.2-1 .2-.8 .8-1.9 .8-.6 .8 0 .8-11.1 0 0-.8-.4-.4-.7-.2-1.6 .2-.7 .3-.1 .9-23.1 0-.2-1.1-.7-.1-.5 .4 0 .8-20.2 0 .1-1.6 .4-.8-.2-.5-.7-.7-1.3-.4 .2-.7-.4-.2-.7 .9-1.6 1.2-.7 .2-.3-.6-.5-.2-3.7 1.4-.8 .2-.7-.3-.8 .1-1.3 1.2 0 .8-2.2 0 0-.8-.3-.2-.5 .2 0 .8-2.5 0-.2-1.6 .2-.8 .5-.8 0-.8-.8-.7-2.7-.7-.8-.4-1.1-1.3-1.1-.3-.8 .3-.3 .8 1.6 1.6 .2 .9 1.2 2.2 .3 .8 0 .8-23.3 0 0-.8 2.3-1.9 .7-.3 .7 .6 .8 .2 .5-.2 1.2-1.6-.2-1-.7-.3-1.5-.1-1.5-.9-.8 0-.8 .1-.7 .3-.8 1.4-1.8 .5-1.2 2.1-.2 1.9-1.3 0 0-18.6 .8-.4-.8-.9 0-10.8 1.4 .7 .7 .7 .1 1.6 .8 .9 .8 .2 1.5 .1 .7 .7 .9 1.3 .1 .8-.6 .8 .8 .8 1.1 .6 .8 .1 3.7-1 .8-.5 1.5-1.7 .7-.3 1.5-.1 .3-.3 .1-.8-.1-.8 .8-1.6-.3-.4-.8 .7-.7-.2-.8-.7-.7-.3-.8 .1-.7 .5-.8 0-.5-2-1.2-.8-.5-.8 .7-.9 .8-.6 .7 .2 .7 .5 .3 .8 1.3 1.2 2.2 .5 .8 .8 1.5 .5 .5 .9 1 1 2 .6 1.8 1.5 1.5 .3 1.5 1.1 .7 .2 3.1 0 .7 .2 2.3 1.1 3 0 1.5 .9 .8 .1 .7-.5 .8-.9 1.5-.7 .7-1 .8-.4 .3 .5 .4 .2 .8 .1 .3-.3-.8-1.6 .5-1.6-.6-.8-.2-.8 2.3 1.2 .7 .1 .8-.3 .7-.6 .8-.2 .7 0 1.6 .7 3 .5 .7-.6 .5-.8 0-.7 1-.3 .8 .3 .7 1.1 1.5 1.2 .8 .3 .7-.2 .8-.9-.5-.8 .4-.7 .8-.8 .3-.8-1.6-1.6 .5-.8 1.6-1.2 1.5 0 2.3-.8 1.5-.2 .7 0 .8 .3 2.2 1.4 2.3 .5 .8 .3 1.5 .1 1-.4 1-.8 .5-.8 1.2-.8 3.1-1.6 .7 0 .7 1.6-.3 .8-1.8 1.6 1.4 1.1 2.3-.7 .7 0 .5 .4 1.6 3.2 .1 .7-.7 1.4-.3 .2 .3 .6 0 .4-.7 .4-.3-.6 0-.8-1.2-.8-3 .1-.8 1.3-.4 .2-1.1 0-.8-.3-.7-.5 .3-1.6-.3-1.5-.8-.6-.7-.2-.8-.1-2.2 .2-1.5-.4-.8 .3-.6 .8-.2 .8-.7 .4-1.5 .1-2.3-.5-.7 .3-.8 1.8-.7 .9-.9 .1 .1 .2 4.5 .5 1.5 1.1 .8-.3 .7-.8 2.3-.9 .8 .1 1.4 .9-.2 .8-.7 1.6 0 .8 .4 .8-.4 .7-2 1.3-.6 1.1-1 .5-1.5-1-.7-.1-1.5 .4-.8 .8-.4 .2 .1 .8 1.1 .8 .7 .1 2.3-1 2.3 .6 2.2-.3 1.5 .3 2.3-.2 2.2 .3 1.6-.4 .7 0 5.3 2 .4-.6 1.1-.3 .4 .3-.1 .8-.3 .6-.8-.1-.2 .3 .2 .8 .8 0 .7-.6 1.5 0 .8-.2 1.5-1 2.3-.5 3 .7 1.5-.5 3 .4 2.3 2.1 1.5 .8 .7-.1 1.5-.5 3.1 .1 1-.7 .4-1.6 1.4-.8 .6-.8-.7-.8-2-1.1-1.5-1.9-.8 0-3 1-1.5-1.8-1.4-.9-.1-.3-.8 1.7-1.5-1-1.5-.3-1.5-.5-1.5 .4 0-.8 .2-.8-.7-1.6 1.8-.8 .8-.8 0-.8 .3-.8 .6-.3 .8-.8 .1-1.2-1.6-.6-.1-.2 1.2-4 .5-.8 .6-.3 3.1 .8 .4 .3-.1 .8-.6 1.6 1 1.5 .8 .6 1.5 .6 .7 .1 1.1-.4 .7-.8-.3-1.6 .3-.8 1.7-1.6 .5-3.1-.2-1.4-1 .6-2 .6-1.8-.6-1.2-.8 .2-.8 .5-.4 1.5-.1 .8-.3 .3-.8-.1-.8-.2-.2-.8-.2-1.5 .1-1.5-.7-1.5 .2-.4-.8 .1-.8 1.1-1.3 .7 .1 .8 .3 .7-.1 1.5-1.2 1.5-.6 .8-.1 .7 .1 .9 .5-.3 .8 .5 .7 .4 .3 2.3 .3 .8-.1 .4-.5 .2-.7-.6-.7-1.5-.9zM7.2 57.2l-.8 .8 0 .2 1.3 .7 1.7 .1 .4-.1-1.9-1.5zM65.6 58.1l-.6 .8 2 0 .9-.8-1.2-.3zM81.3 72.3l.1 .8 .3 .2 .6-.2-.3-.8zM93.8 71.5l-.8 .3-.3 .5 1 .8 .8 0 .8-.8-.6-.7zM99.8 73.4l0 .7 .8 .6 .3-.8-.3-.7zM104.3 66.6l-2.3 1 1 .8 3.6 .7 .7 0 .7-.7-.2-.8-.5-.3-1.5-.7zM107.3 47.8l-.2 0 0 .8 1 .2 .2-.2-.2-.4zM111.9 49.2l0 .3 .7 .7 .5-.8-.5-.7zM115.6 47.7l-.2 .1 .2 .7 .8 0 .1-.7zM117.1 33.5l-.9 .9 .2 .8 .7 .3 .8-.4 .7-.7 .4-.8-1.1-.3zM117.1 41.2l-.7 .3 .7 .8-.5 1.6 0 .8 1.3 1 .8 0 2.2-.8 .4-.2 .4-.6 .7-.2-.7-.2-.7-.6-2.4-.8-.8-.8zM15.3 26.5l.9 .1 .4 .7-.1 2.3-.3 .9-.8-.4-.2-.5 0-.7-.5-1.6zM105.1 26.5l.7 .4 .3-.4 .5-.3 .5 1.1-1.3 1-.7 .2-.7-.4zM77.8 27.3l.9-.3 .8 .1 .6 1-.6 .7-1.5-.4-.5-.3zM19.8 29.6l1.7-.3 .5 .3-.8 .8-2 .9 .1-.9zM13.5 32.8l1.2-.1 .7 .6 .2 1.1-.9 1.1-.8 .2-.7-.6-.5-.7-.1-.8zM17.7 35.5l.3 .5-.7 2.3-2.6 1.7-1.5 .3-1.5 1.2-.8 0-.7-.5-.1-.3 .2-.8 .6-1.2 .4-.4 .4-.2 .7 .1 .8 .4 .4-.3 .4-.7 .7-.9zM106.7 36l.6-.3 .4 .3-.4 .3zM75.6 39.1l.1-.1 1 .1 .1 .8-.3 .2-.7-.2zM89.4 39.9l.6-.1 .6 .1-.3 .8-.8 0zM93.2 40.7l1.3-.7 .7 .7-.7 1.3-.7-.5zM14 42.3l.7-.5 .4 .5-.4 .7zM5.2 43.1l.4-.6 .6 .6-.6 1-.3-.2zM50 43.1l.8 .2 .6 .6-.1 1.6-.5 .5-.7-.1-.8-.8-.1-.4 .1-1.1zM54.6 44.7l.9 .8-.9 .2zM79 54.2l.5-.2 .5 .2-.5 .3zM81.1 54.2l1.4 0 1.1 .7 .3 .8-.7 .4-1.5-.4-1-.8zM78.7 54.5l.3 .4 .5 .3 .2 .5 .1 .8-.3 .4-.8 .2-1-.6zM103.6 57.2l.8 .1-1.6 1.7-.2-.1 .2-.8zM45.6 74.6l.7 .7 .1 1-1.4 0 0-.8z"/><path fill="#fce2d2" d="M123.9 5.1l1.5-.1 .8 .3 .7 .5 .8 1.2 2.2 1.5 1.4 2.2 .3 .8-3.6 1.5-.4 .8 .2 .8 1.6 1.6-.2 .3-.8 .2-2 1.1-1.4 1.6-.3 .1-.8-.1-1-.8 .6-.8-.7-.8 .8-.8 1.1-.3 .5-.5-.4-1.6 .2-1.5-.5-.8-1.3-.4-2.3 .2-1.3-1.4-1-.5-.7 0-.6 .5 .5 1.6-.7 .7-.7-.1-.6-1.4 .5-1.6 1-.8 1.4-.4 2.2-1.5zM27.6 13.8l1.4-.1 1.5 .5 2.3 .2 .7 .6 .8 1.4 .7 .5 1.5 .3 .4 .6-.5 .8-.9 .8 .3 1.6 0 .8-.8 .3-1.5 .3-1 .9-.5 .8-.7 .3-.8-.3-.6-2.4 .6-.6 2.3-.3 .5-.6-.2-.8-.3-.3-2.3-.6-2.3-.1-.7 .2-1.5 1.3-.8-.2-2.2-1.3-2.3-.2-1.3-.4-1.5-.8-.5-.8 .6-.8 .9-.8 1.1-.5 .7-.1 2.3 .7 1.5-.3 2.2 .3zM74.9 14.6l.8-.1 .6 .1 1.7 1 .7 .1 2.3-.5 1.4 .2 1.2 .8 .3 .8-.2 .8-3.5 1-1.5 0-2.2-.5-2.3-.3-5.3 .8-1.5-1-.7-.2-1.5 .4-.8-.1-.6-.9 .6-.4 .8-.1 .7-.3 .7-.8 .8-.4 2.8 .4 .2 .6 .8-.4 1.5-.1zM111.9 14.5l.9 .1 .6 .8 .2 .8-.2 .5-2.3 .2-.7-.2-.5-.5 .3-.8zM89.3 15.6l.8 .6-1.6 1.6-.7-.1-.8-.7 0-.8 .8-.7zM90.3 15.4l.5-.2 .7 .1 3 .7 .3 .2-.2 .8-.8 .2-.9-.2-.6-.4-1.3-.4zM119.4 15.2l.8 0 .7 .6 1.4 1.2-.1 .8-.5 .4-.8 .3-.7 0-.8-.4-.9-1.1-.1-.8zM1.3 16.2l1.3-.3 .6 .3-1.4 .8-.7 .2-.5-.2zM59.1 15.7l.8 .9 .8 .4-1.6 1-.6 .6-.1 1.9-.8 .6-.6-.9-.2-.8 1-1.6-.1-.8zM107.9 17l1.2 0 2 .7 .7 .9-.4 .8-.3 .1-1.5-.7-1.9-.2-.4-.8zM-.4 17.3l.6 .5-.1 .8-.5 .2zM134.7 17.8l.5-.5 .6 .5-.1 .8-.5 .2zM36.1 23.3l.4-.5 .8 0 .7 .2 .4 .3-.4 .6-.4 .2-1.1 .1-.3-.1zM41.7 23.3l.9-.3 .7 .1 .3 .2-.2 .8-.8 .2-1-.2zM52.3 23.3l.8-.1 .9 .9-.9 .1zM62.8 24.9l.9-.1 .2 .1 0 .8-.2 .1-.8-.1zM-.4 26.1l.8-.2 .4 1.4-.2 .8-1 .4zM135.2 26.1l.8-.2 0 2.3-2.3 .5-.4-.6zM2.3 29.6l1.1-.3 .7 .2 .8 .9-.1 .8-.7 .6-.7 .2-.8-.1-.7-.4-.3-.3 .1-.8zM130.5 29.6l1.7-.3 .8 .1 .6 1 .9 .6 .8 1-.1 .8-.7 .4-2.6-1.2-1.2-1-.2-.6zM85.3 32l.2-.3 .8 .4 .7 1.2 .6 .3 .2 .8-.8 0-.7-.6-.8-.8zM112.9 36l.5-.3 .7 .3-.7 .2zM15.4 37.6l.8-.3 .3 .3-.3 .5-.8 .4-.2-.2zM117.9 39.1l.7-.4 .8 .3 .2 .9-.2 .3-.8-.2zM109.5 46.3l.1-.3 .7 .3-.7 .2zM124.7 47.6l.7 0 1 .2 .5 .2 .6 .6-1.3 .6-1.5 .2-.1 .8 .8 .8-.6 .8-1.6 .9-.8 .1-.3-.2 1-2.4 .8-.7 .7-.1-.2-.8zM49 49.4l.6 0 .2 .8-.5 .4-.7 .2-1.6-.6 .1-.2zM114.1 51.8l.8-.6 .9 1.4-.9 .4-.6-.4zM52.1 52.6l1.5 0-1.2 .7zM110.4 52.4l.7 .3 .4 .7 .2 .8-.5 .7-1.1-.7-.5-.8zM52.1 53.4l.3 .1 0 .7 .7 .2 1.5 0 1.5 .2 1.5 .9 1.5 .1 .4 .1 .2 .8-1.3 .1-.8 .3-.2 .4 0 .8 1 .5 3 .4 3.7 2.3 .8 .2 2.3-.5 8.3-.5 2.2 .2 3-.4 3.8 1.2 1.5 .8 2 .6 1.2 1.5 2.8 1.3 .2 .3 1.3 1 .8 .2 1.5-.1 .8 .3 .2 .2-.4 2.4-.6 1.2-1.5-1-.2-1-.6-.7-.7-.1-.8 .2-.9 .6-1.3 2.7-.7 .4 2.2 1.6 1.6 .8 .1 1.6-15.9 0 .1-1.6-.2-.4-.2 .4-.6 .4-.7 .1-.8-.1-.9-.4-.1-.8 .6-.8-.5-.8-2.9-.2-3.7 .6-.3-.4-2-.7-.7-.1-4.6 .8-1.1-.7-1.1-.3-.8 .3-.7 .7-.8 .2-1.5-.1-1.5 .7 .7 .8 .8 .4 2.3 .1 2.2 .8 .8-.4 .7-.8 .8-.3 .7 .2 2.1 .8-.5 .7-.1 .9-12.2 0 .2-1.6 .8-1.3 .7-.3-.7-.4-.2-1.1-1.4-2.5-1.5-.2-.7 .2-.8 1.1-.7 .7-2.3 .6-2.2 1.1-.8-.2-1-.8-.5-.2-1.7 .2-1.1 .7-.4 .8 .3 .8-.9 .8-.9-.8-.1-.8-.6-.8-2.4-1.5-.4-.8 1.1-1.6-.6-.8-.6-.4-.7-.2-2 .6-1.1 .8-.7 .1-1.5-.5-.7-.4 .5-.8-.6-.8-.7-.1-.8 .3-1.3 2.2-.9 .5-.9 1.1 .5 .8 1.1 .6 1.5-.1 .8 .4 .4 1.4 .8 .8 .3 .8-.8 .6-.1 1-11.6 0 0-.8-.3-.4-.8-.4-.5-.8 .5-2.6 .8-.5 1.5 .9 .7 .2 .8-.1 .7-.2-.5-2.4 1.3-.4 .8-.5 .4-.7-.4-1.1-.8-.7-2.3-1-.7 .3-.2 .9 .1 .8-.4 .8 .5 .8-.8 .1-.4-.9-1.8-.9-3.8-.1-.9 .2-.3 .8 .3 .8-.8 .8-2 .8-.8 1-1.5 .4-.8 .4-.3-.2-.2-.8 1.3-1.4 .7-1.5 .8-.6 2-.5-.5-.8-.8-.3-.7 .1-2.3 .7-.7 .4-.8 1.1 0-8.6 3-.1 1.5 .7 2.3 0 3.8 .8 2.2 .1 1.5-.9 1.5-.4 .8-.7-.2-2.4 .2-.3 .7-.4 .8 .1 .8-.1 1.5-1.1 3-.1 3.7-.4 3.1 .9 2.2-.3 .3 .9 .5 .6 2.2-.5 .8 .1 4.5 2.1 .8 .1 2.2-1.1 1.5 .1 .8-.1 .7-.3 .8-1 .7-1.3 .8-.7 .7-.3zM80.2 71.4l-.7 .4-.8 .2-.7-.1-.9 .4 1.6 1.8 .8-.2 .7 .2 1.5 .8 .8-.3 .7-.7 2.5-.8 .5-.8-.7-1zM16.9 59.2l-.7 .5 .2 .8-.2 .8-.6 .8 .6 .4 .7 0 1.2 .4 1.1 .8 2.3 .3 .7-.1 2-1 .7-.8 .2-.8-.6-.8-1.5 1.1-1.5 .6-.8-.6-.2-1.9-.5-.5-.8-.1zM12.4 55.6l1.1 .1 .7 .8-1 .9-.8 .1-.8-.2-.6-.8zM123.2 59.3l.7-.3 2.3-.1 2.2 .2 4.6-.1 3 .4 0 7.5-.6 .7-.6 1.6-1.2 1.6 .1 1.1 .8 1.1 .7 .7 .4 1 .1 1.6-16.6 0 0-.8-.5-.6-2.5-1-.7-1.6-.4-1.5-1.6-.8-.8-.9-.7-.5-1.5 .4-.8-.1-.7-1.1-.3-1 .3-.6 .3-.2 1.2-.2 1.5 .6 .7-.3 .8-.8 .7-.4 4.5-.8 3.8 0 .8-.4-1-1.6-.3-.8 .3-.8zM123.9 70.5l-.6 .3-1 .8 .6 .7 1 .1 .8-.7 0-.9zM101.8 63.6l1-.2 .7 .2 .2 .8-.9 .2zM102.5 69.2l1.1-.2 1.1 .2 .5 .8-.4 .8 .1 .8 1.2 .7 .5 .8-.9 1.6-1.2 0-1.5-.8 0-.8-1.5-.8-.9-.7 .5-1.6zM96.7 72.3l.1-.4 .8-.1 .5 .5-.5 .6-.8 0zM-.4 73.7l.4 1 .1 1.6-.5 0zM65.2 73.9l.7-.4 1.5-.4 .8 .2 .7 .6-.7 .9-.8 .4-.7 .1-1.8-.6zM9 75.5l1.1 0 0 .8-1.1 0z"/><path fill="#fbccb4" d="M125.4 6.2l.8 .1 .4 .4 .4 .8-.2 .8-.6 .6-.8 .3-1.5 0-2.2 .6-.8-.1-.7-.4-.9-1 1.6-1 2.3-.2zM19.7 15.4l.3-.3 .7-.3 1.5 .5 3 .1 .9 .8 .3 .8-.4 .8-.8 .4-1.5-.6-2.2-.6-1.3-.8zM28.3 15.4l.7-.6 .8 .4 .7 .6 .8 .1 .7-.4 .8 .7 .3 .8-.3 .7-1.5-.3-2.3 .3-1.1-.7zM25.1 57.3l1.6-.5 2.3 .2 1 .3-.2 .8-1.6 .1-1.5 1.1-.7 .1-.7-.5-.4-.8zM48.7 57.3l2.9-.7 1.5 .2 .7 .5 .8 1.5 1.5 1.1 .8 .3 2.2 .1 2.4 1 3.7 1 1.5 0 3.7-.6 11.3-.5 3.8 1.7 1.1 .7 .4 .8-.3 .8-1.2 1.4-.4 1-.1 .8-.9 1.6-.9 .5-.7 .1-2.3 0-3 .4-3 .6-2.3-.2-3.7 .1-3-.5-4.6 .3-3-1.5-1 .2-.5 .9-.7 .3-1.5-.4-.9-.8 .1-.8 .8 0 .3-.8-3.4-.5-3.1 .5-.6 1-.6 .6-.5 0-.4-.3-.4-.5-.8-1.6-1.8-.4-3.4-2 .4-.5 .7 .2 .8-.1 2.7-1.2 .1-.7-.4-.8 1.3-.8 .5-.8 .2-1.6 .8-.2zM-.4 60.2l2.3 .2 2.7 1.7 .7 .8-.4 .7-1.5 .7-3-.1-.8 .2zM124 60.5l1.4-.4 5.3-.4 5.3 .5 0 4-1 .2-1.3 .6-2.2 .1-1.6-.4-.7 .3-.1 .2 .8 .2 1.6 .1 1.6 1.3-.4 1.6-.5 .8-.7 .3-1.6-.3-.7 .2-.5 .6 .4 .8 1.4 .8 .2 .3 1.5-.1 .8 1.3 1.6 1.6-.1 1.6-14.1 0 0-.8-1.1-1.6-2.5-.8-.5-.8 .2-.7 .6-.7 .8-.2 .7 .1 1.6 .9 .7 .8 2.1 .6 1.1 0 1.3-.4 .5-.4 .1-1.5-.2-.8-1.1-.3-2.3-.1-2.2 .3-3.1-.1-3-.8-1.7-1.4 .2-.8 1.1-.8 1.2-.5 4.5-.6 4.5 0 2-.5-.5-.1-1.5-1.3-.7-.9-.1-.8zM128 73.1l0 .8 .4 .4 1.5 .2 .8-.2 .5-.4-.2-.8-.3-.5-.8-.1zM6 63.6l.4-.3 .8-.1 1.4 .4-1.4 .4zM27.5 64.4l.7-.5 1.2 .5 .7 .8-.3 .7-.5 .1-1.1-.1-.8-.7zM19.8 66l.2-.1 1 .1-.3 .2-.7 0zM38.7 68.4l.9-.5 .7 .4 .8 1.6 .9 .1-.2 .1-.7-.1-1.5 .5-1.6 .1-1.5 .5-.7 0-.9-.3-.7-.8 .8-.2 2.3-.1 .7-.3zM86.6 70l.4-.3 .8 .1 .5 .2 .8 .8-1.3 .2-.8-.2zM19.2 71.4l.9 .2 .6 .7 0 .8 .4 .8 .4 .3 .7 .3 1.5 0 .4 .2 0 1.6-9.8 0 0-.8 .4-.8 2.2-1.1 .8 .1 .8 .3 .2-.1-.4-.8 0-.8zM52.4 74.7l.7-.3 1.5 .5 2.3 0 1.1 .6 0 .8-5.8 0zM84.9 74.7l1.4-.6 2.2 .4 .8-.3 .7 .1 .7 .4 .2 1.6-6 0z"/><path fill="#f6b394" d="M52.3 60.5l.8-.3 .8 .1 3 2.2 1.5 .4 1.2 0 1.8-.5 4.5 .5 4.5-.6 1.5 .1 2.3-.2 6.8 0 1.7 .7 1.1 .7 .5 .8 .1 .8-.9 1.6-.7 1.6-1.1 1-.7 .3-3.8 .4-3 .7-4.5 .2-3.8-.4-5.3 .1-1.3-.7-.9-.9-.8-.4-1.5-.2-1.6-.9-2.9-.3-5.3 .1-1.5-.8-2.2-.6 .6-.8 3.1-1.2 3 .3 3.1-.5 3.5-.2-.4-.7-2.4-.3-.7-.5zM131.5 60.3l4.5 .6 0 2.4-3 .7-3.8-.2-3-.4-1.1-.5-.8-.8 .4-.8 .7-.3zM-.4 60.8l2.1 .5 1 .8 .3 .8-.4 .2-3 .4zM115.5 66l2.4-.4 2.3-.2 4.5 .1 2.2 .4 2.3 .7 1.2 .2 .3 .8-4.5 1.2-6 .2-3.8-.2-1.5-.3-1.1-.9 .2-.8zM121.4 73.9l1-.2 2.3 .2 .8 .8-.2 1.6-3.3 0 0-.8-.9-.8zM15.1 75.5l.3-.2 1.5-.3 1.1 .5 0 .8-2.9 0zM19.2 75.5l.8-.3 .7 0 .4 .3 0 .8-1.9 0zM53.1 75.5l3-.3 .8 .1 .3 .2 0 .8-4.1 0zM85.9 75.5l.4-.3 .7 0 .5 .3 0 .8-1.6 0z"/><path fill="#ec9374" d="M127.3 61.3l3.4-.5 1.5 0 2.5 .5 1.3 .6 0 .4-.8 .6-2.2 .5-3.8-.1-2.5-.4-.7-.8zM-.4 61.5l1.1 .6-1.1 .7zM73.3 62.9l5.4-.1 2.3 .3 1.1 .5 .4 .5 .3 .3 0 .8-1.1 1.4-.7 .5-2.3 1.2-1.5 .2-2.6 1.5-1.2 .3-3.7 .3-3.8-.3-4.5-.1-1.5-.6-1.5-1.2-3.8-1.2-3-.3-4.5 0-.8-.1-1.2-.8 .3-.8 1.7-.5 9-.2 1.5-.6 3.8-.8 5.3 .2zM117.7 66l3.2-.3 3 .3 2.6 .8 .1 .8-2.7 .7-3.7 .3-3.8-.5-1.2-.5 .2-.8z"/><path fill="#dd7059" d="M127.6 62.1l1.6-.6 2.3-.2 1.5 .2 1.4 .6-1.1 .8-1.1 .1-3-.3zM61.6 63.6l13.4-.3 4.5 .3 .7 .2 .8 .6-.2 .8-.6 .5-1.6 1.1-2.1 1-3.1 1.8-3.7 .6-8.3-.6-1.5-.6-1.5-1.2-1.5-.5-3.8-.7-5.3-.2-1.5-.4 .8-.6 .5-.2 3.2-.2 5.3-.1zM117 66.8l1.6-.4 3.1-.3 1.5 .2 1.2 .5-.2 .8-.3 .1-.7 .2-3 .2-3.1-.5z"/><path fill="#cc4c44" d="M59.6 64.4l3.3-.5 11.3-.1 3.8 .6 .6 .8-1.4 1.2-4.5 2.8-3 .6-7.6-.5-1.5-.4-2.2-1.5-2.3-.8-3-.5-3.8-.1 1.5-.3 4.6-.1zM119.3 66.8l2.4-.2 1.2 .2-.5 .5-.7 .2-1.5-.1z"/><path fill="#ba2832" d="M61.3 64.4l3.1-.3 9 .2 1.6 .3 1.3 .6-.1 .8-2.8 2-1.5 .8-2.2 .6-7.6-.5-1.5-.5-3.8-2.4 1.1-.8z"/><path fill="#9f1228" d="M64.2 64.4l5.5 .1 3 .2 1.8 .5 .3 .8-.6 .8-2.3 1.5-1.5 .5-1.5 .2-3.7-.1-3.1-.4-1.5-.6-1.7-1.1-.8-.8 1.2-.8 2.8-.6z"/><path fill="#790622" d="M60.8 65.2l3.6-.5 5.3 .1 3.1 .4 .9 .8-.4 .8-.6 .4-.8 .5-1.5 .6-1.5 .3-3.7-.1-3.1-.4-1.1-.5-1.1-.8-.6-.8z"/><path fill="#67001f" d="M62.3 65.2l2.9-.3 3.7 .1 2.3 .3 1.4 .7-.2 .8-.5 .3-2.2 1-1.5 .2-3-.1-3.1-.6-1.4-.8-.3-.8z"/><path fill="#dae9f2" d="M-.4 -.4l136.4 0 0 8.3-1.5-1.4-.9-.6-3.7-1.1-1.5 0-2.2-.9-1.5-.1-1.5 .2-3-.4-2.3 .5-3 .3-2.3-.4-.7 .1-.3 .2 .3 .8 0 .9-.8 .6-1.5 .5-2 1.2 .6 .8-1.9 1.6-.7 2.3-2 1.5-.8 .2-1.4-.9-.7-.8-.2-.7 .3-.8-.3-.8-3.7-.5-1.5-2.2-2.3-.1-.7-.2-1.5-2.1-.8 .1-.7 .9-.8 .4-.7 0-1.5-1.1-.8-.1-1.5 .7-1.1 1-.2 .8 .5 .4 2.3 .3 .2 .1 .1 .8-.3 .4-1.1 .4-.4 .8-2.3 .8 .3-.8 .8-.8-.3-.3-.8 0-.7 .3-.8-.1-1.5-1.6-.7 0-.8 .2-1.5-.6-.7 .5-2.3 .4-.8 .5-3 .8-2.2 .2-.7-.3-.8-.1-2.3 .9-.8 .1-.7-.3-.8 .2-.7 .4-.8 0-.3-.4-.1-.8-.3-.5-.8-.3-1.5-.2-1.2-.6-.1-1.6-.9-1.1-.8-.4-.7 1-2.3 .1-.6 .4-.1 .8-.7 .8-.9 .1-.7 .4-.6 1.1 0 .8 .1 .8-.3 .3-.7 .2-.8-.3-.2-.2-.1-1.6-.5-1.6 .8-.7 2.3 .1 .9-1-.2-.8 .8-.7 .7-.3 .3-.6-.2-.8-.8-.4-.8-.2-1.5 .2-2.2-.2-2.3 .6 .3 .8 1 .8 .2 .8-.3 .8-.4 .3-1.5-.1-3.1-1.1-.7-.1-1.5 1.3-2.6 .5 .3 1.6-.2 .8-.5 .8-.8 .3-1.5-.3-.1-.8 .4-.8-.3-.3-1.5 .1-.8-.3-.6-1.1-.9-.6-.7 .5-.3 .9-.5 .6-2.2-.1-.8 .4-.5 .7-.3 .8 .1 .8-1.8 .7-1.2 .2-2.3-1.1-1.5-1.1-.8-.1-.7 .2-1.5 .7-.8-.6-.7-1.8-.8 .2-3 2.4-.8 .1-2.2-1.8-2.1-1.2-1.7-2zM53.1 11.4l1.3 .9-.7 .7-1.1 .8-.2 .8 .3 .8-.2 .8-.9 .3-.8-.1-.2-.2 .1-.8 .9-1.3 .4-.3-.4-.8-.8-.5-.8-.2 .1-.4zM85.5 12.3l.8-.6 .7 .3 .1 .3-.4 .7-.4 .2-.7-.2zM92.2 12.3l.8-.2 .8 .5 .4 .4-.2 .8-1 .2-.2-.2-.6-.8zM10.9 12.7l.8 .5 .8 .6 .1 .8-3.2 .5-.7-.1-.2-.4 .5-.8 .4-.4zM39 18.6l.6-.3 .7 0 .3 .3-.3 1.2-.7-.1-.8-.3zM43.9 18.6l.9-.3 3 .4 2.3-.4 .3 .3 .3 .8-.6 .6-.8 .2-1.5-.1-1.5 1.4-.7 .1-.8-.1-1-1.3-.4-.8zM91.1 18.6l.4-.2 1.3 .2-1.3 .5zM9.4 19.2l.8 .2 .7 1.3 .4 .3-.4 .2-.7-.1-.6 .6-.3 .8-1.3 .8-.1 .4-1.5-.4-.8-.8-.1-.8 .1-.3 .8-.9 1.5 0zM97 19.4l.6-.4 .6 .4-.6 .8zM17.3 20.2l.4-.5 .5 .5 .5 .8-.2 .5zM40.9 20.2l1.4 0 .7 .8-1.2 .7-.7-.2-.5-.5zM70.2 21l1.7-.4 2.3 .9 1.5 .1 1.5 .3 2.3-.2 3 1 3 .3 .5 .3-.5 .8-.7 .7-.8 .3-.8-.2-1.5-.8-1.5-.3-.7 .1-1.5 .7-3 .2-1.6-.5-1.5-.1-2.7-1.7-.3-.8zM17.4 22.5l.3-.5 .8-.1 .4 .6-.4 .6-.8-.1zM24.4 23.3l.1-.6 1.5 .6 1.5 0 .4 .8-.4 .3-1.2-.3-.3-.5-.8 0zM100.7 24.1l.6-.3 2.3-.3 .7 .7 .3 .7 0 .8-.3 .3-.7 .4-.8 .3-.7-.1-.3-.1-1-1.6zM7.7 24.9l.2-.6 .8 .6-.8 .2zM37.6 26.5l1.2 0 2.3 1 2.2-.9 .8 0 .7 .2 .7 .5 .1 .8 .7 0 .8 .4 .4 .4 .2 .7-.3 1.6 .4 .4 2.3 .8 1.3 1.2-.1 .8-.5 .3-.4 .5 0 .8 .4 .9 .8 1 1.5 .4 2.3-.2 .7-.3 0-.3-1.9-1.5 1.2-1.1 .7-.2 .6 1.3 .1 .8 1.6 .8-.5 .7-1.8 .1-.7 1-.1 1.3 .3 .8-.2 .9-.8 0-.7 .3-.7-.4-.8-.2-.7-.6-.1-1.6-.9 0-2.1 1.8-.6 .6 .3 3.2-.5 .7-.7 .2-.8-.5-.4-.4-.3-1.2-.8-.4-.2 .8-1.4 1.6-.4 .7 .5 .3 .2 .5 .7 .8-.2 .8-.7 .2-.7-.3-.7-.7 .1-.8-.5-1.5-.4-.4-.8-.2-1.2 1.3-.3 .8 .4 1.6-1.2 1.3-1.5 1.1-1.5 .4-.7-.1-1.5-.9-2.8-.2-.4-.8 .3-.8 0-.8-.9-1.5-.8-.2-3-.3-.7-.3-.7-.8-.7-1.6-.9-.1-.7 .5-1.3-.4-1.7-.2-.6-.6-.2-.8 .9-1.6 1.5-.8 .5-.8 0-.8 .3-.7 .6-.5 1.5 0 1.5-1.2 .7 .1 2.1 1.6 .1 .7-2 .8 .2 .8 .4 .2 1-.2 .5-.5 .6-.3 0-.8 .1 0 .2 .8 2.9 1.2 1.5 .9 1.5 .1 2.2-.1 .6 .3 .9 1.2 .8 0 .9-.4 2.9-3.2 1.9 .8-.4 .1-.7 .7 .1 .8 1.3 1.6 .8-.3 1.2-1.3-.5-1.6 .8-1.2 .7-.4-.7-.4-1.1-1.1 1.5-1.6 0-.8-1.2-.8-1.5 .4-2.6 2-.4 .5-1.9-1.3-.3-.7-.8-.3-.3 .2-.2 .8 .1 1.6 .6 1.5-1 1.2-.7 .2-.8-.1-.7-.5-.2-.8 1-.7-.1-.8-2.2-2.8-1.5 .1-.8-.4-.7-.7-.8 0-.7 .7-2.3-2.7-1.5-.8-1.5-.4-1.1-.9-.4-.7-.8 .1-1.2-.2 .5-.6 .7-.3 1 .1 3.5 1 1.5-1.3 .8-.2 2.9 .5 .1 .8 .2 0-.1-.8 3.7-.4zM12.6 28.1l.6-.1 .4 .9-.4 .9-.8 .4-.7-.3-.2-1zM96.2 29.6l.6-.5 2.3 0 2 2.1-2 .3-2.6-1.1zM54.1 30.4l.5-.3 1.5 1.1 .8 .3 2.2 .3 .6 .2 .3 .8-.9 .5-1.5 0-.7 .3-.8 .7-.7 0-1-.7-.6-.8-.2-.8zM67.2 30.4l1.1 0 1.4 .6 1.5-1.3 .7 1.1 1.5 .6 1.6 1.1 .2 .3 0 .8-.9 .8-.9 0-.3-.8-.4-.2-1.5 .1-2.3-.9-3 .9-1.5 0-1.5 .3-.8 0-.2-.2 .3-.8 .4-.8 0-.8 .3-.5 .8 0 .7 .5 .8 .2zM6.2 33.6l1-.6 1.5 .1 .7 .1 .6 .4 .1 .8-.3 .8-.4 .3-.7 .2-2.3-1.6zM1.2 34.4l.7-.3 1.1 .3 2.4 1.6-.1 .8-1.2 1.2-.7 .1-1.5-.2-.4-.3 0-.8 .3-.8-.5-.8zM10.7 36l.2-.2 .8-.1 .2 .3-.2 .2-.8 0zM6.7 36.8l.5-.2 .2 .2 .6 .8 .7 .2 .4 .5 .3 .8-.3 .8-.4 .4-.8 0-1.5-.6-.8 0-.7-.3-.2-.3 .2-.3 1.7-.5 .6-.7zM92.8 36.8l1.7-.3 .8 .2 .9 .9 .4 .7-3.6 .5-1.8-.5 0-.7zM98.9 36.8l.9-.5 .8 0 1.3 .5 .3 .8-.6 .7-1 .8-.8 .1-1.4-.9 0-.7zM60.9 37.6l.5-.4 .7-.1 .8 .1 .5 .4-.3 .7-1 .5-1.2-.5zM106.4 38.3l.9-.6 1.6 .2 2.2-.3 3 2.3 .1 .8-.2 .8-1 1.6 .1 .8-.2 .8-1 .3-.8-.2-1.3-.9-.2-.8 .9-2.4-.1-.8-.8-.6-2.3-.3zM100.3 42.3l1-.6 .8 0 .5 .6-.5 1-1.5 .4-.7-.6zM7.8 46.3l.9-.6 .7-.1 .8 0 .7 .3 .3 .4 .2 .7-.4 .8-1.9 .8 0 .8 .3 .7 .4 .1 .4 .1 1.5-.5 .7 .4 .1 .8-.4 .8-1.2 .5-.7-.1-.9-1.2-.6-.2-.8 .1-.7-.2-.4-.5-.3-.8 .9-1.6 0-.8zM95.7 54.2l.3-.5 .8 0 1 .5-.4 .7-.6 .3-.5-.3zM92 57.3l.3-.2 1.3 .2-.6 .3-.7 0zM108.7 58.9l.9-.2 .3 .2 .3 .8-.5 .8-.8-.2-.5-.6zM104.5 67.6l.6-.2 1.2 .2-.5 .7-.7-.2zM42.8 74.7l.7 0-.3 .8 0 .8-.8 0 0-.8zM48.1 75.5l.5-.2 .7 .2 0 .8-1.2 0z"/><path fill="#c2ddec" d="M-.4 -.4l136.4 0 0 5.2-5.3-.8-2.3 0-3-.7-2.2 .2-3.8-.4-4.5 .7-2.3-.5-1.5-.1-1 .4 .1 .7 .5 .8-.3 .4-2.3 1-2.3 .4-.9 .6 .2 1.6-.4 2.4-.4 .3-.7-.2-1.5-1.5-.8-.2-2.2-.1-.8-.2-.4-.5-.1-.8 .1-.8 1.2-.6 .2-1 1.2-1.6-.7-.2-2.2-.1-1.6 .2-2.2-.7-1.5-.2-.8 0-2.2 .6-4.6 .4-.7 .3-1.5 1.2-.8 .1-1.5 0-1.5 .4-1.5-.4-1.5 .6-1.5 .3-2.2 1.5-2.3 1.2-.8 .2-4.5-.2-1.5 .8-.8-.4-.7-1.4-1.5-1-3-.7-2.3-1.4-3.7-1.3-1.6-1-1.5-.4-3.7 .1-3.2 .8-1.7 .7-.4 .7-.3-.7-1.2-.6-3 .3-.8 .3 1.9 1.6 0 .8-.4 .3-.7 .1-.8-.3-.7-.8-1.5 .1-5.3 1-3.5 1.2-1.8 1.6-.7 .3-.8 1.6-.7 .4-1.6-.7-.8-.8-.7-1.3-.7-.1-2.3 .5-1.3-1.5-1.7-.8-.7-.1-2.3 .4-2.3-.9-1.5 .3-.7-.3-.6-1.8-1.7-.4zM103.6 4.2l-.5 .1 .5 .3 .4-.3zM56.1 8.3l.8-.5 .7 .5-.7 .5zM36.1 28.1l1.2-.5 .7 0 .5 .5-.5 .7-.7 .5-.8 0-.8-.4zM40.5 28.9l1.3-.3 .3 .3 .1 .7-.4 .5-1.5 .3-.7-.2-.5-.6 1.2-.2zM53.8 39.9l.4 .8-.2 .8-.9 .1-.2-.1 0-.8 .2-.4zM27.6 43.1l1.4-.4 .4 .4-.4 .2-.8 .1zM111 43.1l.1-.3 .2 .3-.2 .8z"/><path fill="#a2cde3" d="M-.4 -.4l136.4 0 0 3.9-3 0-2.3-.4-1.5 .2-2.3-.4-4.5 0-2.2-.4-5.3 .6-2.3-.4-2.2 0-.8 .2-1.5 1.8-.8 .1-.7 .5-.6-.2 0-.8-.9-.7-.8-.4-1.5 0-1.5 .4-.7-.1-3-.7-1.6 0-4.5-.6-.7 .1-1.5 .5-2.3 0-7.5 1.1-2.3-.1-.7 .2-2.3 .6-1.5 1-1.5 1.3-.8 .2-.7-.1-.8-.7-.7-.2-1.5 .2-3.8-.7-.8-.2-1.5-1.1-1.1 0-1.1 .8-.8 .3-.7-.2-1.4-.9-3.9-1.1-2.3-1.1-2.2-.3-3.1 .2-3.7 .9-.7 .1-1.6-.4-4.5-.2-.6 .4-.9 1-1.9 1.3-3.4 1.3-5.2 1-1.5-.2-2.3 .2-2.3-.1-1.5 .6-.7 .1-2.3-1.1-1.5-1-.7-.2-1.5 .3-.8 0-.7-.4-1.4-1.3-1.7-.4-3-.4z"/><path fill="#7eb8d7" d="M-.4 -.4l136.4 0 0 3-5.3-.5-3.8 .1-7.5-.3-3 .1-1.5 .3-5.3-.2-.7 .2-1 .5-.6 .8-2.2-1-2.3-.3-3 .2-2.2-.6-5.3-.4-3.8 0-3 .3-1.5-.2-4.5 1.5-3-.1-5.3 1.4-2.3-.8-3 .3-.7-.2-1.1-.9-1.2-.5-.8 0-4.5 1-3-.3-3-.7-3.8-1.5-6 .6-1.5 .6-.7-.1-1.6-.6-4.5 .1-.7 .2-1.5 .9-2.6 .3-.2 .8 .1 .7-.5 .8-1.7 .8-4.2 .8-6.8-.2-1.5 .2-.7-.1-1.4-.7-2.4-1.6-2.2 0-3.8-1.4-3.8-.4z"/><path fill="#569fc9" d="M-.4 -.4l22.9 0 0 .8 .4 .8 .8 .1 .6-.1-.6-.3-.4-.5 0-.8 10.8 0 0 .8-1.3 .2-1.5 .5-.8 0-2.3-.6-3 .7-.6 .8 1.5 1.6 .4 .7-.1 .8-2.7 .9-3 .3-3-.2-3.8-.5-.8-.5-1.4-1.5-.8-.5-.7-.2-2.3 0-3.6-.9-4.7-.5zM43.6 -.4l.6 0 0 .8-.6 0zM49.1 -.4l34.6 0 0 .8-1.9 .8-1.1 .8-1.2 .4-3-.1-5.3 .9-.8-.1-2.6-1.1-4.9-.8-3.8 .8-5.2 0-2.3-.5-1.5-.6-1-.5zM85.7 -.4l7.3 0 0 .8-2.2 .4-2.3-.3-2.2 .1-.6-.2zM93.1 -.4l42.9 0 0 2-9.1-.6-6.7 .2-3.8-.1-4.5 .4-3-.3-2.3 .5-1.5 .1-2.3-.3-6.8-.4-2.9-.7z"/><path fill="#3a87bd" d="M-.4 -.4l16.7 0 0 .8-.9 .4-.7 .1-2.3-.3-.7 .2-.8 .6-.7 .3-.8 .1-4.5-.5-3-.8-2.3 .3zM50.7 -.4l11.5 0 0 .8-2.3 .6-3 0-2.3 .3-2.2-.3-1.7-.6zM66.1 -.4l15.5 0 0 .8-2.1 1.3-.8 .1-1.5-.2-2.2 .4-3.8 .1-2.3-1-2.8-.7zM96.2 -.4l1.3 0 0 .8-1.3 0zM100.5 -.4l6.5 0 0 .8-1.2 .5-1.5 .1-3.8-.6zM110.4 -.4l4.2 0 0 .8-2.7 .3-.8-.1-.7-.2zM130.6 -.4l5.4 0 0 1.1-1.5 .1-3-.2-.9-.2zM17.3 2.8l4.9-.6 .8 .2 1.5 .9 .6 1-.4 .8-1.7 .5-2.3 .3-3-.2-2.5-.6-.3-.8 .6-.7z"/><path fill="#2a71b2" d="M4.2 -.4l5.9 0 0 .8-.7 .2-1.5-.2-3 .2-.7-.2zM53.4 -.4l1.4 0 0 .8-1.4 0zM69.5 -.4l10.8 0 0 .8-.8 .4-.8 .1-1.5-.1-2.2 .6-1.6 0-2.2-.3-1.7-.7zM17.3 3.6l3.4-.5 1.5 0 1.2 .5 .4 .7-1 .8-2.1 .4-1.5-.1-1.8-.3-.5-.2-.4-.6z"/><path fill="#1a5899" d="M71.6 -.4l4.2 0 0 .8-1.6 .4-1.5-.1-1.1-.3z"/><path d="M0 0h135.6v0.8h-135.6zM0 75.9h135.6v-0.8h-135.6z" fill="#fff"/><rect x="134.6" y="0" width="1" height="75.9" fill="#fff"/><use href="#cst"/></g><rect x="0" y="0" width="135.6" height="75.9" fill="none" stroke="#1a1a1a" stroke-width=".45"/><path d="M22.6 75.9 v2.1M45.2 75.9 v2.1M67.8 75.9 v2.1M90.4 75.9 v2.1M113.0 75.9 v2.1M0 12.7 h-2.1M0 25.3 h-2.1M0 38.0 h-2.1M0 50.6 h-2.1M0 63.2 h-2.1" stroke="#000" stroke-width=".5" fill="none"/></g><g transform="translate(31.9,496.4)"><g clip-path="url(#cp)"><rect width="135.6" height="75.9" fill="#fce2d2"/><path fill="#fbccb4" d="M-.4 -.4l136.4 0 0 35.8-2.3 .8-.7 .1-.8-.3-.7-.5-1.9-2.7-.4-.8 .3-3.1 .9-2.4 1.1-1.5 .4-1.7-.6-1.6 .2-1.5 .7-.9 1.4-.7-.4-1.6-1.2-.8-.5-.8-.1-.8-1.3-1.6-1.2-.7-1.2-.4-2.2-1.2-1.6-.6-1.5-.3-2.2 .3-2.1 1.4-2.5 0-2.2 1.5 .1 .8 2.1 4-.7 .9-1.5-.4-1.5 1.2-.8 .2-.7-.1-.8 .4-1.3 1-.7 .7-.7 1.6-1.1 .8-.5 .8-.2 1.8-1.1-1-1.2-.3-2.2 0-.8 .1-1.5 1.2-.7-.4-.8-.9-.8-.4-3.7-.8-2.3-1.3-1.8-2.7-.4-1.5-.8-.2-3.4 .9-1.6 .8-.8 .8-.7 1.5-1 .9-1.5 .4-1.5-.2-.9-.3-1.2-.8-.3-.8 0-.7-.3-.8-1.9-2.5-.7-.4-3-.1-4.5 .5-1.6 .3-1.2 .6-1 .8-1.5 2.3-.8 .5-4.5 1.7-3.8 1.1-.7-1.3-.8-.2-.7-1.1-.7-.7-.8 0 0 .8-.2 .8 .5 1.6 0 .8-.3 .7-.8 .9-1.5 .7-2.2 .6-.8 .4-.4 .6 .1 1.6-.2 .8-.2 .2-2.3 0-1.5-1.6-.4-1-.8-.7-1.1-.3-1.5-.1-2.2-1.6-1.6-.7-1.5 .1-5.2 .9-1.5-.8-.8-.1-.3 .2 .3 .9 .8 .5 1.5-.4 .2 1.4-.4 .7-2.8 2.2-2.1 1 .5 .6 1.6 .2 0 1-.8 .9-.8 .5-3.1-2.4-2.9-1.4-1.5-.3-2.2 .3-3.7 1.4-.1 1.7-2.3-.1-1.5 .5zM6.4 22.4l-1.4 .9 1.1 .8 1.1 .1 1.3-.9-1.3-1.1zM10.2 23l-.6 .3 .3 .8 1.8 .2 .8-.2-.5-.8zM14.7 29.1l-.3 .5 .1 .8 .2 .6 .7 .8 .3-.6-.3-.8zM49.3 21.6l0 1 .8-.1 .7-.8-.7-.4zM113.3 21.7l3.1-.7 6 1.2 4.5-.4 1.5 0 .8 .2 .6 .5 .1 .8-.8 .8-2.9 1.4-1.5 .3-4.5-1.3-2.3-.2-3.8 .2-1.5-.3-.8-.9 .3-.8zM107 33.6l1.9-.7 4.5 .1 1.3 .6 .4 .8 1.3 1.6 .6 1.6 .6 .7 3.3 .7 1.5 .8 .6 .9 0 1.6-1.3 1.6-.5 1.6-1 1.4-.8 .4-1.5 .1-1.5-3.1-.8-.9-3-1.5-1.5-.3-1.5 .4-1.5 .8-.8-.1-1.5-2.1-.3-.7 0-.8-.1-.8 .7-1.5 .1-.8-.4-1.6zM43 36.8l1.1-.2 .6 1.7-1.4 .9-.7-.1-.9-.8 0-.7zM37.8 37.6l.2-.7 .4 .7 1.3 1.5 0 .8-.1 .3-.8-.4-.5-.7-.4-.8zM49.9 38.3l.2-.1 3.8 .5 2.7 2-.3 .8-.9 .3-2.3 0-3.3-2.7zM45.3 39.1l.3-.7 .2 .7-.2 .2zM56.7 39.9l.2-.2 .7 0 .3 .2-1 .4zM4.9 41.5l.7-.7 1.6 .6 2.2 .3 1.5 0 2.3-.5 .7 .1 .7 1 .2 .8 .1 .8-.2 .5-1.3 1.9-.1 1.5-1.5 2.4-.9 .9-1.5 .5-1.5-.1-.7-.4-.8-1-2.2-4.6 .1-1.6zM49.3 43.6l.8-.3 .6 .6 .1 .4 .3 1.2-.3 .6-1.5 .2-.7 .7 .7 .8 1.4 .8-.1 .8-1.3 .8-3-.2-2.2 .4-.8-.8-.4-1 .1-.8 .3-.5 .8-.4 1.5-.2 2.1-2 .9-.3zM17.2 45.5l.5-.6 .5 .6-.3 2.3-.2 .3-.8 .1-.2-.4-.1-.8zM53.9 45.5l.7 1.5-.7 .9-.8-.2-1.4-1.4 1.4-.2zM55.1 51l.3-.2 .7 .2-.7 .5zM60.6 64l2.3-.2 6.8 .4 4.3 1 .9 .8 2.5 .8 3.6 .6 3 .1 15.8-.1 4.1-.6 1.2-.4 .7-.4-.5-.8 2-.8 7.6-.4 3.8 .2 6 1.7 3 .6 3.8 .2 4.5-.1 0 9.7-81.8 0 0-.8 .4-1.6-.5-.8-1-.3-3-.2-2.3-.3-1.5 .3-1.5 .9-2.2 2 0 .8-43 0 0-9.7 4.5-.1 5.3 .3 12.8-.4 6-.1 6.8-.3 6.1-.8 3.7-.2 3 0 5.3 .5z"/><path fill="#f6b394" d="M-.4 -.4l136.4 0 0 12.1-7.6-.8-.8-.2-.7-.9-3-1.1-2.2-1.5-1.5-.4-.8 .1-1.3 .6-1.7 2.3-1.5-.1-2.3 1.2-1.5 1.2-1.1 .2 .4 .3 .7-.1 .8 .9 1 2-.3 .4-.7 .3-2.3 .4-2.3-.4-.7-.4 0-1.9-.8-2.3-1.5 .6-1.5-.1-.9 .3-.2 .7 2.3 1.6 .4 .8-.1 .9-1.5 .7-4.5 .5-6.8 1.9-1.5 .1-.9-1.7-2-2.4-2.3-1.5-1.6-.2-3 .1-2.2 .7-2.3 .4-.7-.1-.8-.5-.8-.2-3-.1-3-.5-1.5-.1-3 .5-.8 .4-1.5 1.6-1.5 .6-.5-.3-.7-.8-.3-.7-.7-.1-.8 .2-.7 .5-.8 2.5-.2 .8 .4 .8-.9 .9-.8 .1 .2-1.8-.2-.1-.7 .1-1.6 .9-1.5 .4-1.5 .8-2-.5-2.5-1.3-1.5-.3-2.2 0-1.6 .2-2.2 1.2-3.8 1.1-3-.5-.8 0-3 .8-2.2 .2-1.5-.3-1-1.1-.4-1.6-.9-.5-.7 0-.8 .5-.4 .8 0 1.6-.4 .8-1.5 .1-.4-.2 .4 0 .6-.7 .1-.8-.6-.8-1.6-1-.7 .3-1.5-.2-1.1 .9-.4 1-1.5 .3-.8-.2-.7-.7-1.6-.7-1.5 .4-2.2 0-1.5 .6-.8 .1 .2-.8-.2-1.9 .4-.5-.4-.4 0-1.7 .4 .5 .1 .8 .3 .3 .7-.1 1.1-1 .5-.8-.3-.8-.8-.8-.5-.8-.7-.5-.8-.1zM133.7 13.8l.8-.3 1.1 1.9 .1 .8 .3 .3 0 3.6-.9 .1 .3-.8-.3-1.6 .5-.8-1.1-1.2zM39.8 66l4.3-.3 3 .1 1.4 .2 .1 .8-.8 .5-1.5 .5-2.2 .2-3.8 1-3 1.5-2.3 .5-2.2-.2-4.6-1.1-6.6-.5-2.3-.8 2.2-.8 6.7-.2 6.8-.5 3-.4zM113.6 66l1.3-.5 2.2 0 3.1 .5 10.1 2.4-.4 1.9-.2 .5-.7 .8 .3 1.5 .3 .8 1.5 1.6 0 .8-13.1 0 0-.8-.9-1.6-.1-2.3-.6-.5-2.3-1-4.5-1.2-3 .5-1.5-.1-.6-.1-.5-.8 6.4-.2 1.5-.5 .7-.4 .6-.5zM67.7 68.4l2-.6 1.5-.1 6.9 .7-.1 .8-4.6 1.3-3.7-.6-1.4-.7zM63.5 73.9l.9-.5 1.5-.2 1.5 .2 1.5 .5 1.5 .3 1.5-.3 1.5-.7 .8 .1 .8 .6 .4 .8 .4 .8 0 .8-13.5 0 0-.8 .4-.8zM97.6 73.8l1.5 .5 1.2 1.2 0 .8-10.6 0 0-.8 .3-.6 .8-.7 .7-.1 2.3 .2z"/><path fill="#ec9374" d="M-.4 -.4l136.4 0 0 9.1-.7 1.2-.8 .5-1.5 .3-1.5-.2-1.8-.6-.5-.9-.8-.6-2.2-.3-3.8-2.2-1.5-.5-1.5-.1-2.3 .6-2.2 1.4-4.5 1 .8 1.6-.8 .8-1.5-.4-1.6-1.6-1.5-.5-3.7-.2-.8 .3-.1 .8 .4 .8-.5 .8-.9 .8-.4 .8 0 1.7-1.1-.2-1.2-1.5-.7-.6-.8-.1-3 .1-6.7 .9-6.1-.2-3.7 1.1-4.6-1.5-3.7-.5-3.8 1-2.3 .3-.7 .5-.8 1-.7 .6-.6-.3 .1-.8 .6-.8-.1-.3-.8-.3-1.5 .4-3 .1-.7 .2-1.2 .7-.5 .8 .7 1.6-.5 .8-.8 .7-.8 .2-1-.1-3.5-2.4-1.5-.6-1.5-.3-1.5 .1-3.8 .7-6 .3-3 .6-3.8 .9-1.5 0-3.3-.9-1.9-.3-3.8-.1-3-.5-2.3 .3-.7 0-.4-.2 .8-2.4-1.2-1.6-.8 .1-.6 .8-.1 .8-.8 .6-.7-.2-.8-.6-.7-.2-.5-.4 .4-.8 .8-.6 .8-.9 .4-.9-.4-.8-.8-.3-1.5-.2-1.5 .2-.5 .3-.3 .8-.7 .9zM97.6 9l0 .2 .7 .1 .2-.2z"/><path fill="#dd7059" d="M-.4 -.4l2.8 0 0 .8 .2 .1 1.5 .6 1.5 .2 1.6-.1 3-.8 0-.8 10.9 0 0 .8 1.9 .8 2.2 .6 1.5 .2 6.1 .3 3.7-.1 1.6-.2 1-.8 .3-.8 0-.8 22.5 0 0 .8 .2 .5 .8 .8 .8 .2 1.5-.2 3-1.1 .3-.2 0-.8 30.2 0 0 .8 7.1 .3 3.8 .9 .8 0 1.5-.7 .7 .1 2.9 2.6-.1 .7-1.3 .9-1.5 .3-4.5 .2-5.3 .6-4.5 .3-2.3 0-3 .8-1.5-.2-1.5 .1-.7-.1-.8-.5-.7-.1-1.5 .2-3.1 .7-1.9 .8 1 .8-.6 .8-3 1.6-2.2 .4-1.5-.2-.8-.3-1-.7-.6-.8 .2-.8 .8-1.6 .1-.8-.9-.8-.9-.1-2.2 .2-2.3-.7-1.4-.2-7.6 .7-2 .9-.7 .8 .4 .5 .7 .3 .1 .4 .8 .4-3.1-.2-2.2 .1-1.6 .5-1.5 1.1-.7 .2-.8-.2-2.2-1.5-1.5-.4-1.5-.2-3 .1-1.6-.2-.7-.5-1.3-1.2-2.5-.7-9 .8-3.8 .8-2.2-.3-9.1-.1-6-.7-1.5 0-2.3 .4zM119.1 -.4l16.9 0 0 7.1-3.3 .8 1 .2 .8 .9 .2 .5-.5 .8-1.2 .4-1.5-.2-.4-.2-.7-.8 .4-.8 .7-.8 .2 0-4.8-1.1-6.1-2.8-1.2-.8-.5-.8z"/><path fill="#cc4c44" d="M74.3 -.4l14.6 0 0 .8-1.4 1.6-.8 1.6-1.6 .7-3.4 .4-2.2-.4-2.9-2.3-2.3-1.6zM13.9 1.7l8.3 .5 9.2 1.4 1.5 .7-3.2 .8-9 1.2-10.5 .1-7.6-.6-3 .4 0-3.9 4.5 .1zM129.2 2.8l2.3-.4 4.5-.1 0 3.8-4.5 .4-1.6-.1-1.3-.5-1.2-.8-.6-.8 .4-.7 .5-.3zM45.6 3.6l.7-.3 .7 .3 .2 .7-1.5 0zM131.2 9.1l1-.7 .8 0 .9 .7-.9 .8-.8 0z"/><path fill="#ba2832" d="M13.9 2.4l7.6 .4 4.5 .8 1.7 .7-4.7 1.1-6.1 .5-8.2-.1-6.1-.6-3 .4 0-2.4 3.8 0zM130.1 3.6l1.4-.2 4.5-.2 0 2.3-4.5 .4-1.6-.3-.9-.5-.2-.8z"/><path fill="#9f1228" d="M5.3 3.6l5.6-.6 4.5-.1 6.8 .6 .6 .1 1.5 .7-3.6 .9-6.8 .4-6.7-.3-4.2-1zM-.4 4.2l1.8 .1-1.8 .3zM130.6 4.3l.9-.1 3.7 0 .8 0 0 .3-3 .2-1.5 .5-.3-.1z"/><path fill="#790622" d="M9.1 3.6l4.1-.3 3 .1 2.1 .2 3.1 .7-4.5 .8-3 .1-3.7-.1-3.8-.8z"/><path fill="#67001f" d="M9.8 4.3l4.1-.4 1.5 0 2.1 .4-3.6 .4z"/><path fill="#f9f0eb" d="M120.5 11.5l1.2-.4 .7 .1 2.5 1.1 .7 .7 .7 1.6 2.3 2.4 0 .8-.7 .8-2.5 1.1-1.5 .2-1.5-.1-3-1.1-1.7-.9-1-.8-.6-.8-.2-.8 0-.8 .7-1.6 .5-.3 2.3-.4zM90.6 25.7l.9 .2 1.5 1.1 1.5 .7 .5 .4 .4 .8-.1 1.6-.8 .2-1.5-.3-1.5-.5-.7-.4-1.9-2.2 0-.8zM62.6 28.1l.3-.2 .8 .1 .2 .9-.2 .2-.8 0-.2-.2zM24.7 28.9l.5-.3 2.3 .7 .7 .3 .4 .8-.4 1.6-.1 2.4-.6 .5-.8-.1-.7-.9-1.4-3.5-.1-.8zM31 32l.3-.7 .2 .7-.2 .2zM7.7 36.8l1-.6 .7 .1 .8 .6 .1 .7-.3 .7-.6 .5-.7 .1-.8-.2-.4-.4-.1-.7zM22.4 37.6l.6-.3 .9 .3 .2 .7-.4 .8-.7 .2-.8-.6-.2-.4zM77.2 43.9l1.5-.4 1.5-.1 1.5 .3 .8 .5 .3 .5 0 .8-.4 1.5-.3 2.4-.6 .8-.5 .3-3.8 1.8-1.5 .3-1.5-.3-1-.5-1.8-2.4-1-.8-.5-.8 .2-.8 .6-.7 1.2-.8 3.1-.4zM22.6 46.3l.4-.5 1.5 .5 .5 .7-.2 .8-.3 .3-.8 .2-.7-.3-.5-1zM107.3 45.9l.8 .1 .3 .3 0 .7-.7 2.4 .1 1.6-.1 .8-1.1 2.4-.8 .3-3.7-.7-3 .6-.8-.2-2.3-1.1-1.8-.5-1-.8 .2-.8 .4-.2 3-.2 3.8-2.8 1.5-.7 1.5-.4 2.2-.2zM61.2 50.2l.9-.2 2.3 0 .8 .2 .6 .8-3.2 3.2-.3 .7 .4 .8-.2 .8 .1 .8 .3 .3 .8 .3 .7-.1 1.5-.8 .8-.1 1.5 .9 1.9 1.9 1.1 .3 1.5-.1 3-.9 3.8-.4 1.5 0 5.3 1.1 4.5 1.7 1.5 0 2.9-.9 3.9-2.1 3-.4 1.5-.5 2.2-1.5 .8-.2 .7 1 .8 1.8 .8 .6 .7 0 1.4-1.1 1.6-2.4 .8-.1 1 .1 1 .8 1.6 2.4-.1 .8 .2 1 .8 .7 .7 0 2.2-.9 .6-.8 .1-.8 .5-.8 1.2-.9 .7-.3 3 .2 5.3-.8 3.8 .2 0 8.9-4.5 .5-4.6-.4-1.4-.3-2-.8-1.8-1.1-2.3-.8-2.3-.3-10.8 .7-5.7 0-3.8 .5-5.3-.6-2.2 .3-3.8 1.1-1.9 .2 .4 .4 1.7 .4 2.8 .4 7.5-.2 1.6 .2 1.4 .4-1.4 .4-1.6 .1-12-.1-2.4-.4 .9-.6 .8-.2-.8-.5-1.2-.3-7.1-.7-4.5-.7-9.8-.7-2.3 .2-3.7 1.2-2.3 .5-10.5 .4-6.8 .9-8.3 .2-12.1-.1-9.8-.4-4.5 .3 0-9 2.3-.1 3-1.3 .7-.1 1.6 .2 3 1.5 3.7 .5 3-.5 2.3 .1 3.8-.5 5.2 .6 3.8-1.1 3.8-.3 1.3-.6 1.7-1 1.5-.2 3.3 .5 2.7 1.1 3.8 .1 2.3 1.4 .7 .3 2.3 .2 1.5-.2 1.5-.5 2.1-1.7 .1-3.5zM132.3 50.2l.7-.4 .7-.2 .8 .1 .7 .5 .8 .8 0 1.8-1.5 .3-2.3 .9-.7-.3-.5-1.1 .1-.8zM-.4 50.2l1.3 1.6 .2 .8-1.5 .3z"/><path fill="#edf2f5" d="M120.1 13l.8-.2 .8 .1 .7 .3 .7 .6 2 3.2-.4 .8-1.5 .3-1.5-.3-1.8-.8-.9-.8-.4-.8 0-.8 .4-.8zM-.4 60.8l3 .6 3.8-.4 4.5 .5 3-.1 2.3 .7-1 .8 .9 .7 .8 .2 1.6-.2 3.9-.7 .4-.8 2.4-.1 .8 .1 1.4 .8 3.9 .5 4.5 .1 .8 .1 .2 .8-10.1 .8-12.8-.6-1.1-.2-.4-.8-.7-.5-1.5-.4-3.8 .6-5.3 0-1.5 .5zM134.5 60.8l1.5 .2 0 2.5-1.5 .9-3 .6-2.3-.1-2.6-.5-.1-.8 .4-.3 2.3-1.2zM75 62.1l2.2-.5 3.8-.2 1.5 .2 1.7 .5-1.8 .8-1.4 0-3.8-.3z"/><path d="M0 0h135.6v0.4h-135.6zM0 75.9h135.6v-0.4h-135.6z" fill="#fff"/><rect x="135.15" y="0" width="0.45" height="75.9" fill="#fff"/><use href="#cst"/></g><rect x="0" y="0" width="135.6" height="75.9" fill="none" stroke="#1a1a1a" stroke-width=".45"/><path d="M22.6 75.9 v2.1M45.2 75.9 v2.1M67.8 75.9 v2.1M90.4 75.9 v2.1M113.0 75.9 v2.1M0 12.7 h-2.1M0 25.3 h-2.1M0 38.0 h-2.1M0 50.6 h-2.1M0 63.2 h-2.1" stroke="#000" stroke-width=".5" fill="none"/></g><g transform="translate(195,496.4)"><g clip-path="url(#cp)"><rect width="135.6" height="75.9" fill="#fbccb4"/><path fill="#f6b394" d="M-.4 -.4l136.4 0 0 9.6-3 .4-6.8-1-2.3-.9-.9-1-1.2-.8-1.6-.4-1.6 .8-1.5 .2-.7 .4-.8 .9-1.5 1.1-1.8 1.8-1.2 .6-.7 .1-2.3-.7-.7 0-1.6 .6-.7 .6-.8 .2-1.5-.5-.7 0-.9 .7 .1 .7 1.5 .6 .8 .6 .3 .4-.1 .8-.2 .5-1.5 .8-4.5 1-.8-.5-2.3-2.8-.7-.2-1.5 .9-1.8 .3-.5 .4-1.5-.1-3-2.1-2.3-.6-1.5-.1-1.5-.5-.7 0-3 1.2-.8-.2-3-2.2-.8-.2-.7 .2-2.3-.4-3 .3-.7 .5-.8 .1-1.5-.2-1.5 .9-1.5-.4-2.3 .7-1.5-.5-.7 0-2.3 .8-2.2 1.6-.1 .8-1.5-.4-2.2 1-.8-.4-.6-1 .3-.8 .7-.8-.1-.7-1-1-1.5 0-1.5 .6-.8 .1-1.5-.4-.7 .2-.6 .5-.2 1-.8 .3-3.7-.8-.6 .2 .3 1.6-.4 .8-.8 .1-2.3-1.4-.7 0-.8 .8-.8 .3-2.1-.6-.9-.8 1.5-.9 .8-.6-.8-.6-1.1 .6-.4 .5-.7-.1-.8 .1-.3 .2 .2 .8-.6 .5-1.5 .4-1.5 .7-2.6 0-1.2-.5-2.3-.5-.3 .2-.4 1.1-.8 .5-.7-.1-.8 .2-2.2 1.1-1.5-.8-2.1-.4 .5-.1 .5-.7 1.8-.7 .7-.9 .4-.8-.7-.7-.4-1-.7 .3-.8 1.9-.8 .5-.7-.2-.8-.3-.7 0-.7-.5-.4-.7 .3-.5 1.5-.7 .5-.4 .3-.5 .5-.3-1.3-.6-.7-.1-1.5-.1-2.3 .2zM6.4 8.8l-.6 .3 .6 .4 .7-.4zM107.2 12.3l1.7 .3 1.1 1.2-.5 .8-1.9 .8 .2 .8 .5 .8-.2 .2-1.3-.2-.4-.8 .8-.8-.2-.8zM59.7 13.8l.3 0-.1 .8-.8 .9-.1-.9 .1-.4zM3.4 16l1.3 .2 0 1.6-.6 1-1.7-1-.3-.8zM50.6 16.2l.2-.8 .3 .8-.3 .2zM34.3 23.2l1.1 .1-1.9 1.4-.7 .3-.8-.1-.4-.8 .4-.4zM.7 24.1l.4-.3 .8 .2 .5 .9-.5 .7-1-.7zM12.3 28.9l.9 0-.8 .9-.5-.2zM108.9 41.5l.7-.7 .8 .2 .3 .5-.3 .7-.8 .3-.8-.2zM114.3 42.3l.6-.1 .7 .4 .8 .1 1.5-.2 1.5 .2 .9 .4 .4 .8 .1 .8-.6 1.8-.5 .5-1.8 1.1-.8 .9-.7 .3-.8-.7 .2-.8-.7-1.5-.4-1.6-.6-1.6zM43.3 49.4l.8-.1 .2 .1-.2 .7zM34.3 64.1l12 0 5.3 .7 3.8 .2 5.2-.5 6.8 .3 3.8-.1 7.5 .5 1.5 .9 .8 .1 3-1 1.5-.1 1.3 .1 0 .8-1.9 .8-1.3 .8 1.1 .8 .6 1.6-1.7 0-1.1-1.1-1.5-.2-3 1.6-.5 .5-1.8 0-.7 .8-.8-.3-.5-.5-1-.4-2.3 .2-2.2 .6-.8-.1-3-2-.7-.9-.8 0-.8 .2-1.5 .9-.7 .3-1-.4-.6-.8-2.6-.8-.1-.8-.2-.2-.8-.5-.7 0-1.5 .5-.8 .7-.6 .3-.1 .8-.8-.2-.8 .1-1.5 1-.7 .2-2.3-.4-.9 .1-.6 .3-.4 .5-.3 .9-.8 .6-4.5-.6-1.5-.5-3-.8-1.5-.2-2.3-.7-2.3 .4-2.2-.3-1.5 .4-2.3-.3-2.2 .3-.8 .8-2.3 1-.5 .6-.2 .8-.8-.8 0-1.1 .4-.5 2.1-.8 .5-1.6 .2-.8-.2-.1-3 .3-.7 .4-.8 1-.7 .2-2.3-.5-1.5 .6-2.3 .3-1.5 .8-3 .3-.7-.1-.8-1.7 0-3.8 3.8 .4 6-.2 11.3 .4 5.3-.3 3 0zM101.1 64.4l7.8-.3 5.2 .3 3-.1 2.3 .3 6.8-.2 2.2 .3 2.3 0 5.3-.2 0 5.5-.7-1.6-.8-.6-.8 .1-.9 .5-.6 .7-1.5-.8-.8 0-1.5 .8-.7 .2-3-.4-2.3 .8-4.5-.7-4.5 .6-1.5-.3-3 1.1-.8-.1-.8-.6-.7-.2-3 .7-.3-.2-.1-.8-.4-.2-1.5-.1-1.5-.4-2.2 .5-2.3-.2-2.3-.6-1.5 .3-.7 .4-.4 .3 .1 .8-.5 .1-1.5-.8-3.5-.9 .5-.1 1.7-1.5-.1-.8 .2-.8 2.7-.4 2.3-.1 3.7 .3 1.6 0zM52.3 68.4l.8-.3 1.5-.2 .7 .5-.7 .7-.7 .2-.5-.1zM67.7 73.9l.5-.3 1 .3-1 .5zM1.9 74.7l1.5-.7 .7 1.4 .1 .9-3.5 0 0-.8 .4-.7zM67.2 75.5l.2-.2 .1 1-.3 0zM92.1 75.5l.9-.1 .9 .1 0 .8-1.8 0z"/><path fill="#ec9374" d="M-.4 -.4l136.4 0 0 7.8-1.5 .4-1.5 .1-6.1-.8-3-1.7-3.7-1.2-2.3 .9-1.5 .3-1.5 1.3-1.5 .1-2.1 .7-1.2 .8 .3 .8-.8-.2-.5-.6-1-.4-.8 0-1.5 .4-3.7 .1-.8 .7-.7 .4-.8 0-1.5-1-1.5-.4-.8 0-1.5 .6-1.5-.4-1.2 .8-1 .1-.8-.2-1.5-1.4-.7-.2-2.3 .4-3-.7-6-.1-1.5 .4-1.6 0-2.2-1.1-.8 0-1.5 .4-.7 0-2.3-1.1-.7 0-3.8 1.1-3 .2-1.5 .5-1.5 2.1-.8-.1-1.5-1-.9-.1-1.4 .4-.6-.4 .3-.8-1.2-.4-2.2-.3-1.5 .1-.9 .6-2.1 .6-.8 0-1.5-.5-3 .3-2.3 .4-1.5-.3-.7-.6-.8-.3-1.5-.1-2.3-.4-1.5 .2-.7 .8-3-.8-2.3 .7-2.2-.3-6.1 .1-5.2-.4-4.6 .1-3 .6zM75 8.1l.7-.1 1.5 .8 .5 .3 .1 .8-1.3 1.1-.8-.1-1.4-1-.5-.8zM117.1 43.9l1 0 .9 .8 .2 .8-.4 .8-.9 .4-.8 .1-.7-.4-.5-.9 .1-.8zM35 65.2l.8 .3 .2-.3 2.8-.3 7.5-.1 2.2 .4 .6 .8-1.3 .6-3 .7-2.2-.4-2.3-.1-3.8-.8-.7 .1-1.5 .6-.7-.7 .7-.7zM112.4 66l.2-.3 3 0 1.3 .3-.5 .6-.8 .1z"/><path fill="#dd7059" d="M98.1 -.4l1 0 0 .9-.8 .1-.2-.2zM123.3 -.4l7.3 0 0 .8 .4 .8 5 .9 0 4.4-2.3 .6-2.2 0-1.6-.3-2.3-.9-1.4-1-1.4-.6-.5-.7 .8-.8 0-.8-1.4-.8-.4-.8zM-.4 2l6.8 .3 6-.4 2.2 .1 4.6-.4 3.8 .6 5.2-.1 3.1 .2 2.2-.4 2.3 .5 .8 .4 1 .8-1.1 .9-2.2 .7-3.8 .4-3 .1-2.3 .4-9 .3-12.8-.5-1.5 .2-2.3 .7zM99.8 1.5l1.5-.1 2.3 .3 3 .9 1.5-.1 2.3 .4 3 0 .7 .6 .3 .8-.4 .8-.6 .3-6.1 .8-2.2 .7-1.5 .1-3-.4-2.3 .4-1.5-.5-2.3 0-4.3-2.2 .6-.3 3.3-1.2 1.2-.8 .8 .1 1.5 .8 .8-.1zM40.6 4.3l.5-.6 .8 .6z"/><path fill="#cc4c44" d="M12.4 2.5l7.6 0 3 .5 6 .5 .5 .1 1.1 .7-5.4 1-8.3 .5-6.7-.1-7.6-.5-3 1 0-3.4 3.8 .4zM131.1 2.8l1.9-.2 3 .3 0 3-2.3 .7-2.2 0-1.6-.4-1.7-1.1-.5-.8 .5-.7z"/><path fill="#ba2832" d="M-.4 3.4l.9 .2 1.3 .7-2.2 1.4zM7.2 3.6l5.2-.5 7.6 0 2.6 .5 2.7 .7-3.8 .7-6.1 .3-5.6-.2-5.5-.8 2.1-.4zM130.4 3.6l1.1-.3 1.5-.1 3 .3 0 1.8-2.3 .9-1.5 .1-1.5-.3-1.3-.9-.2-.8z"/><path fill="#9f1228" d="M13 3.6l4.2 0 3.2 .7-5 .5-6.2-.5zM-.4 4.1l.4 .2-.4 .6zM130.3 4.3l1.2-.5 1.5-.2 1.5 .3 1.1 .4-.5 .8-2.1 .8-1.5-.2-.8-.3-.3-.3z"/><path fill="#790622" d="M131.5 4.3l1.5-.2 1 .2-.1 .8-.9 .3-1.5-.2z"/><path fill="#fce2d2" d="M118.5 7.5l1.7-.7 .7 .1 1 .6 1.3 1.6 3 .6 3 1.1 1.5 .1 2.3 1.1 1.3 .3 .1 .7-.7 .7 0 .9 .8 2.4-.3 .8 .3 .8-.4 .8-1.9 .8-.3 .8 0 .7 .8 .8-.1 .8-.7 .8-.4 1.6-.9 .8-1 1.6-.3 .8 .2 .7 .6 .8-1.3 1.6 .2 .8 1.8 1.6 1.4 1.7 .9 .7 .5 .8-.2 .7 2.6 .9 0 24.3-3.8 0-3.8 .2-4.5-.3-3.3 .2-1.2-.1-1.5-.4-3 .2-6.8-.4-3.8 .2-4.5-.1-4.5 .5-3-.4-9.8 1.1-2.3 .1-4.5-.3-2.3-.4-9.7-.5-3.8 0-3 .4-4.5 .2-5.3-.5-6.8 .1-6-.2-6.1 .2-2.2-.1-5.3 .6-3-.2-5.3 .2-3.7-.2-5.3 .2-3.8-.3 0-24.6 .8 .3 .7 .8 .8 .1 .7-.4 .8 .2 1.9 2.4 0 .8-.3 1.6 .4 1.6 0 1.5 .8 1.6 1.7 1 1.2 1.4 1.1 0 .7-.3 .8-.5 .5-.8 .2-1 .9-1.4 .1-1.5 1.7-1.6 .2-.8-.5-3.2 .4-1.6-.5-.8-.2-.7 .2-.5 .3-.3 3.5-1.4 1.1-1 .3-.8 0-.8-.7-.8 1.8-1.6-.2-.8 .7-.7 1.5-1.2 1.9 .4 2.5 2.3 .4 .8 .2 1.6 .6 1.6 .4 .5 .6 .3 .9 1 2.3 .4 1.5-.4 .7-.5 .8 .3 .7 1 .3 1.3 0 1.6 .2 .8 .3 .3 4.5 .7 1.5-.3 2.3 .5 .7 0 1.2-.4-.8-.8 .4-.4 .7-.5 .8 0 1.5 .9 1.5 .6 .8 .8 1.5 0 .7-.2 .8 .1 .7 .7 .8-.1 .4-.3 .2-.8 1.6-.3 .8-.5 0-1.6-1.2-2.3 .4-.3 2.3-.1 3.1-1.2-.1-.3-3-1.1-.8 .1-1.5 1.1-2.2-.1-.6 .3-.9 .7-.8 .3-1.5-.1-.1-.1 .4-.8 .3-1.6-.5-1.6-.8-.8-1.5 0-.5 .8 .6 1.6-.2 .3-.7 .4-.8 .1 .7 .8 .4 .8-.6 .8-4.2 .3-.6-.3 0-.8-.4-.8-.5-.3-.8 .4-2 2.3-.4 .7-.6 .5-.7-.6-1.1-1.4-.5-1.6-.1-1.6 .9-.2 1.5 .7 .9-.5 .4-.8 0-.8-.6-1.6 .8-.6 .8-.3 2.2-.2 .5 .3-.5 .3-.2 .5 .1 .8 .9 1 .7-.1 .6-.9-.1-.8-.5-.5-.6-.3-.1-.7 .4-.8 0-1.6 .3-1.1 .8-.9 2.2 1.1 1.5-.4 .8-.4 2.3-2.8 .7-.6 .6 .3 .2 1 .7-.1 .3-.9-.5-.7 .2-1.6-.2-.8-.5-.4 0-1.2 .7-.1 .3 .1 .1 .8-.1 .8 .5 .3 3-1.8 1.5-1.7 .7-1.1 .8-.4 1.5 .2 1.5 .6 2.3 0 2.2 .7 2.3 .1 .7-.2 .8 0 .8 .4 2.2 .3 2.2 1 .3 .8 .5 .5 .8 .3 1.1 0 1.1-1.2 1.6-.2 1.5-.7 1 .5 .5 .8 .2 .8-.2 .9-1.1 .7-.1 .8 .4 .3 .8 0 .7 .3 3 2.5 1.5 .9 .8 .9 2.8 2.2 .3 .8-.2 .7 .2 .8 .7 1 .7 .2 .8-.1 .7-.6 .8-.2 .2 .5 1.2 .8 .7 .8 .3 .8 .1 1.6 .5 .8-.2 .8 .2 .8 .7 .7 .2 .8-.2 .5-.7 1.3-.8 .5-.7 0-.8-.6-.2-.9-.5-.6-.8 0-.7 .5-1.4 1.7-.2 .8 .1 .8 .4 .8 1.1 .5 5.2-.2 1.5-.5 1.5 .9 1.6 .4 .3 .5-.6 2.3 .8 2.4-.7 1.6-.3 2.4 .5 .5 1.2 .2 .1 .8-.6 .9-1 .7-.1 .8 1.1 .2 .8-.7 .9-1.9-.4-1.5 .1-.8 .3-.8 .6-.3 .7-.1 2.3 .3 .7-.3 2.3-2.3 2.3-1.5 .7-.8 1.3-2.1 .2-2.2 1.2-1.8-.1-.8-.7-.8-1.9-1-.7-.6-.5-.7 0-.8 .5-.3 .3-.5-.3-.4-.7 .4-.5 .8-1.1 .1-.8-.4-1-1.3 0-.8 .5-.8-.2-.4-.6-.4-.2-.1-1.5 .7-2.7-.6-2-.8-.4-.8 .7-.8 .1-.8-1.7-1.2-.7-1.1-.3-1.6-.8-.8 .3-.8 1.4-1.6 .1-.5 1.5-1.9 .8-.3 1.5 .1 1.5-.8 1.5-.3 .7-1-2.1-2.4-1.5-2.4 .6-.5 1.5-.8 .8-.6 1.7-.4 .5-.5 .5-1.9zM120.9 22.5l-1.2 .8-.7 .8 0 .8 1.2 .6 .7 .1 1.5-.3 .4-.4-.3-1.6-.8-.8zM124.7 24.8l-1.5 .9 .7 .5 .8 .3 .7-.1 .9-.7-.3-.8-.6-.2zM129.2 39.9l.6 1.6-.9 1.6 0 .8 1 .2 3.1-.2 .7-.7-.1-.9-2.1-1.1-1.3-1.3zM18.5 43.6l-.8 .5-1.2 1.4-.5 1.5-.2 .8 .3 .8 .8 .5 .8-.1 .6-.4 .4-.8 .1-.8-.2-.7 .3-1.6zM28.3 51l-.9 .8 0 .8-1.6 1.6 .9 .8 .8 0 1.7-1.6 .1-1.6-.3-.4zM29.8 37.5l-.5 .8 .3 1.6-.2 .8 .4 .8 1.5 1.2 2.2-.2 .8 .8 .7 .3 .8-.1 .4-.4 .4-.8-.3-.8-3.5-1.5-.8-.8-.2-.9-.5-.5-.8-.3zM49.3 42.8l-1.2 1.1-.6 2.4-.4 .5-.8 .5-1.5-.6-.7-.1-2.3 .7-1.5 0-.8 .5 0 .8 .6 .8 1.7 .8 .8 .7 .6 1.7 .9 .4 1.5-.3 2.2-1.1 1.5 .1 .8 .3 3 2.3 .8 .1 .7-.2 1.5-1.6 1.1-.8 .5-.8 .2-.8-.4-1.6-.6-1.1-1.5-1.8-.4-1-1.1-1.2-1.5 1.4-.5-.2-.6-1.6-.5-.4zM46.3 34.3l-.2 .9 1 .5 .9-.5 .3-.8-1.2-.7zM65.9 33.4l-.3 .2-.1 .8 .8 0 .2-.8zM70.4 31.5l-.2 .5 .2 .6 .8-.2 .5-.4-.5-.7zM77.2 21.6l-.3 .1 1.1 1.1 .7-.2-.7-.9zM81.7 21.6l-1.2 .9 .1 .8 1.1 .4 1.6-.4 .1-.8-.2-.2-.7-.8zM94.5 39.5l-.3 .4-.2 .8 .5 .2 .5-1zM101.3 38l-.2 .3 .2 .4 .3-.4zM111.9 20.6l-.4 .4-1.9 .7-1.1 .8 .3 .8 .8 .8 1.7 .8 .2 .8-.1 .8 .2 .8 .3 .1 1.5-.2 2.5-.7 .5-.4 .3-.4-.3-.4-1-.4-.4-.8 .2-.8-.9-2.3-.9-.4zM117.1 21.2l-.5 .5 .3 .8 .2 .2 .8-.1 .2-.9zM125.4 36.3l-.5 .5 .1 .8 .9 .7 1.2 0-.2-.7zM35.8 44.3l-.8 .4-.3 .8 .3 .3 .8 .5 .7 .1 .8 .1 .5-.2 .4-.8-.2-.2-1.5-1zM65.9 54.1l-1.6 1.6 .1 .3 .8 .1 1.5-1.1 0-.3zM70.4 45.9l-.8 1.9-1.5 1.6 .6 .8 1.7 .2 .3-.2-.1-.8 .9-1.6-.3-.8zM71.2 34.8l-.5 .4 1.2 .3 .3-.3zM81 36.1l-.2 .7 .2 .2 .7 0 .2-.2-.2-.8zM.6 14.6l.5-.4 .3 .4-.3 .4zM17.8 18.6l.7-.3 .9 .3 .2 1.6 .8 1.5-.4 .5-.8-.2-.7-.9-1.3-.9 0-.8zM41.9 18.6l1.4-.2 1.6 .2-1.6 .4-.7-.1zM11.3 19.4l.4-.3 .9 .3-.4 .8-.5 .1-.5-.1zM1.7 20.2l.9 .1 .8 1.4 .7-.8 1.5 1.3 .8-.2 .8-.5 1.5 1 .7-.3 1.5 .8 1.4 .3 .6 .8-.5 .2-2.4-.2-.6-.3-.7 .2-1.5 .6-.8 .1-.8-.3-1.3-1.1-.9-1.5-3 .4-.4-.5 .5-.7zM51.6 20.2l.4 .8-.2 .7-.2 .2-1.5 .5-.8-.4 0-1.1zM100.6 21l.8 .7-.8 .8-.8-.3-.2-.5 .2-.4zM45.1 21.7l.5-.6 .7-.1 .5 .7 0 1.6-.5 .8-1-1.6zM135.6 21.7l.4-.5 0 1zM99.4 26.5l.4-.4 .8-.1 1.5 .6 1.5 .2 .7 .5-.1 1.6 .4 .7-.3 .6-.7 .1-.3-.7-.5-.3-.7-.1-.9 .4-.6 .7-.8-.2-.6-1.2-.1-.8zM14.7 29.6l.7-.4 .8-.1 .7 .2 .4 .3 .1 .8-.5 .6-.3 .2-1.2 .1-.7-.4-.2-.5zM31.6 30.4l1.2-.4 .7-.1 .8 .3 1.6 1.8 .6 1.6-.1 .8-.6 .7-1.5-.5-1.5 .3-.8 .3-.7-.2-.3-.6 .1-1.6-.3-1.6zM105.2 32l.6-.3 1.6 .3-.8 .9-.8 .5-.8-.6zM5.9 32.8l.5-.4 .8 .1 .2 .3-.2 1.6-.9 0-.6-.8zM26.5 71.6l.2-.4 .9 .4-.9 .2zM50.2 71.6l1.4-.6 .8 .1 1.4 .5-.2 1.5-.5 .4-1.5 .6-.5 .6 .1 1.6-10.2 0 0-.8 .8-.1 .8-.4 .7-.7 .8-.3 3 .5 2.6-.6 .7-.8-.3-.8zM34.2 72.3l.8-.2 .8 .2 0 .8-.8 .2-.7-.1zM80.5 72.3l.5-.5 2.2 0 1.6 .3 3-.2 2.5 .4 .6 .8-1.9 .8 .2 .8 .5 .8 0 .8-11.4 0 0-.8 1.5-1.6 .6-.8zM56.3 73.9l2.1-.3 .5 .3 .2 .8-.1 1.6-2.4 0zM23.5 74.7l1.7-.1 .7 .1 .3 .8 0 .8-3.8 0 0-.8zM124.6 75.5l1.2 0 0 .8-1.2 0z"/><path fill="#f9f0eb" d="M120.1 10.7l.8-.6 .8 0 3.7 .5 1.5 .3 3.8 1.4 1 1.5-.1 1.6 .3 1.6-.5 .8-1.5 1.1-1.5 .9-1.5 .5-3.7 0-4-.9-1.1-.8-.5-.8-1.6-1.6-.4-.8 .1-.8 1.1-1.6 1.9-.7 .9-.8zM127.2 57.3l1.2 0 2.3 1.7 .8 .2 1.5-.5 .7 .2 2.1 1.6 .2 .3 0 1.4-4.5 .1-2.3-.2-3 .2-1.5-.2-1.1-1.6-.2-1.6 .5-.8 1.5 .1zM-.4 60.1l.8 .7 .7 .3 2.3-.7 2.2 .5 2.3-.2 2.3 .3 3-.3 1.5-.4 .7 .1 1.5 .6 1 1.1-5.5 .6-3-.5-4.5 .4-2.3-.1-3-.3zM73.7 61.3l8-.8 2.3 .7 2.3 .3 .6 .6-2.9 .8-3 .3-6-.3-1.6-.6-1.8-.2zM80 75.5l.7 0 0 .8-.7 0z"/><path fill="#edf2f5" d="M121.5 11.5l.9-.2 3.8 .4 2 .6 1 .6 .6 .9 .4 1.6-.1 .8-.4 .8-2 1.5-1.5 .5-3.8-.2-1.5-.5-1.1-.5-1.3-1.6-.3-.8 .1-.8 .4-.8 .6-.8z"/><path fill="#dae9f2" d="M121.6 13l.8-.5 .8-.1 2.2 .1 1.5 .4 1.3 .9 .4 .8 0 .8-.2 .8-.6 .8-.9 .6-1.5 .4-2.2-.3-2.1-.7-.8-.8-.2-.8 .2-.8z"/><path fill="#c2ddec" d="M125.4 13.9l1 .7 0 .8-.5 .8-1.2 .4-.8 0-1.2-.4-.3-.3-.3-.5 .2-.8 .9-.6z"/><path d="M0 0h135.6v0.4h-135.6zM0 75.9h135.6v-0.4h-135.6z" fill="#fff"/><rect x="135.15" y="0" width="0.45" height="75.9" fill="#fff"/><use href="#cst"/></g><rect x="0" y="0" width="135.6" height="75.9" fill="none" stroke="#1a1a1a" stroke-width=".45"/><path d="M22.6 75.9 v2.1M45.2 75.9 v2.1M67.8 75.9 v2.1M90.4 75.9 v2.1M113.0 75.9 v2.1M0 12.7 h-2.1M0 25.3 h-2.1M0 38.0 h-2.1M0 50.6 h-2.1M0 63.2 h-2.1" stroke="#000" stroke-width=".5" fill="none"/></g><g transform="translate(358,496.4)"><g clip-path="url(#cp)"><rect width="135.6" height="75.9" fill="#edf2f5"/><path fill="#f9f0eb" d="M-.4 -.4l27.9 0 0 .8-1 .8 1.1 .8 1.4 .1 1.5-.2 3.8 .9 .7-.3 2.3-1.9 .2-.2 0-.8 60.7 0 0 .8 .9 .1 .1-.1 0-.8 15.4 0-.2 1.6 .5 .7 .7 .1 1.3-.8-.2-1.6 19.3 0 0 23.4-.4 .3-.7 1.6-1.9 .8-.8 .9-2.3 .5-.7 .9-.8 .5-2.2 .1-.8-.2 0-.3 1.1-1.6 .1-.8-.4-.3-.8-.2-2.2 .3-.8-.6-.7-1.7-.8-.1-3 1.8-2.3-.2-.9-.6-.4-1.6 .1-.8 .5-.8 .9-.7-.8-1.6 .6-.7 .8 .3 .9-.4 .2-.8-.4-.3-.7-.1-1.5 1.1-.8-.4-.7-.1-1.5 .3-.5 .3-.3 1.1-.7 .3-1.5 1.3-.8 0-.8 .5-.6 .7-.1 .9-.5 .7-.5 0 .2-1.6-.7-2.3 .2-.8 .5-.8 .8 0 1.5 .5 1-.5-.1-.8-.9-.7-.8-.4-1.5-.1-.3 .4-.4 1-.8 .9-.4 1.3-1.8 .8 .9 2.3 .6 .8 .7 .6 .8 .2-3 .3-2.3-.5-.7-.4-.3-1.8 .2-.7 .8-.9 1.2-.7-2.5-.8-.2-.4-.7-.4-.4 .8-3 .8-1.2 .5-3.7-.1-1.5-.8-2.3 .3-.6 .9-.1 .9-.8 .3-.8-.6-.7 0-.8 .5-1.2 1.2-.3 .8 .4 1.6-1.1 .6-.8 1-1.5 .5-3-.3-1.5-.9-.8-.1-1.5 .4-1.5-.1-2.2 .1-1-.4-.5-.8-.8-.7-1.5-.5-.8 0-.7 .5-.8 .1-1.5-.6-1.5-.2-.7 .4 0 2.1-.8-.1-1.5-.8-1.5 0-.5-.2-3.3-3.1-.7-.1-.8 .1-.7 .4-.8 .1-.7 .5-.8 1.3-.7 .1-1.7-.9-.5-.8 .9-1.5-1.4-.8-1.1-.3-.7 0-.9 .3-.2 .8 1.1 1.5 1.7 .8 .5 2.4-.7 .2-.8-.4-2.3-.1-1 1.1-.5 1.4-.2-.6 0-.8-.6-1.6 1.1-.8 .6-.8-.2-.8-.7-.4-2.2 .2-1.5 .5-1.5 .2-.7 .3 .3 1.6-.4 .6-.7 0-1.6-.6-2.2-1.6-.8 .3-.7 .7-2.3 1.4-1.5-.7-1.5-.3-.7 .3-.5 .7-1.8 1.3-.8 .1-2.2-.3-.8 .2-.7 .4-3 1-.8 .5-.7 .2-.5-.2 .1-.8 .4-.6 2.2-1.7 1.5 .2 .8-.1 .6-1-.2-.8-.4-.5-.8-.1-.7 .2-1.5 1.5-2.3 .8-.8 .1-1.5 .7-.5-.3 .3-1.6-.7-.8-1.3-.9-.8-.3-.7 .1-.4 .3-.4 .7 0-17.7 .4-1.2-.4-1zM68.2 20.5l-.7 .5 .4 1.5 1 .9 .8 0 .7-.9 .1-.8-.8-.7zM108.1 3.4l-.8 1.3-1.5 .2-.7-.1-.8-.5-.7-.1-1.5 .7-.8 .7-.7 .2-3-.3-1.1 .4 1 .8 .1 .8 2.1 1.6 1.6 .1 2.3-.7 .7-.1 1.2 .7-.1 .8-.4 .8-.9 .8-.3 .8-2.3 1.5-.9 .2-.9 .6-1.4 1.9-.6 .5 .6 .6 .8-.4 3-.8 2.3-2.6 .4-1.5 .3-.1 .5-.7-.1-.8 .3-.3 .1-.5 0-1.6 1.4-.7 1.6 .2 .7 .3 .8-.3 .1-.3 0-.8 .6-1.2 1.5 0 1.2-.4-.1-.8-.3-.5-.8 0-1.5 .9-1.5-1.2-.7-.3zM116.4 12.1l-.4 .2-.3 .7 .5 .8 .9 .2 .8-.1 .1-.9-.5-.7zM130.7 3.5l-.6 .8-.1 .8 .2 .8 .5 .4 .9 .4 2.1 .3 1.1-.3 .7-.8 .1-.8-.2-.8-.9-.9-.8-.3-1.5-.2-.7 .1zM91.9 21.7l1.9-.6 .4 .6-1.9 2-1.4-.4-1.2-.8 .3-.3 .8-.3zM32.3 26.5l.5-.6 .4 .6-.4 .2zM15.4 28.9l.8-.5 2.3 .3 1.5-.5 1.5 .4 .3 .3-.1 .7-.2 .3-2.3-.1-.6 .6-.1 .8-.7 .8-.9 .3-.7-.5-1.5-1.4 .1-.8zM133 28.2l.3 .7-.7 1.5-.4 .3-2.3 .8-.7 0-.5-.3-.5-.8 .3-.8 .7-.3 1.5 .1zM112.6 32l.8 .1 1 .7-.3 1.1-.7 .8-.2 .5 .2 .8-.8 .7-.7 .3-2.3-.1-1.5-.9-.8-.2-.6-.6 .6-.5 .8 .1 2.3-.9zM117.9 32l3-.7 .8 .2 .2 .5-1 .3-2.3 1.3-.7-.5zM6.1 32.8l.3-.4 .3 .4-.3 .4zM127 34.4l.7-.2 3.8 .2 .6 1.6-.1 .8-.5 1.7-.6 .6-1 .1-1.1-.9-.8-1.5-1.1-.8-.5-.8zM16.9 36l.2 0 0 .8-.2 .2-.5-.2zM121.4 37.6l.3-.3 .7-.1 .8 1 .7 .5 1.5 .7 2.3 .4 1 .9 .2 .8-.5 .6-.7 .4-.4 .6-.5 1.6-.6 .5-1.5 .2-.8-.3-1-1.2-.1-.8 1.9-1.6 .3-.8-1.1-1.1-2.2-.7-.4-.6zM89 38.3l1-.1 .2 .1 .1 .8-.3 .4-.7 .1-.9-.5zM83.2 39.1l.8-.2 .8 .2 .9 .8-1.7 .3-.8-.1-.3-.2zM67.3 39.9l.2 0 .3 .8-.4 .3-.5-.3zM118.3 39.9l2.6-.7 .7 .7 0 1.6-.7 .6-.7 .1-1.6-.2-1.8-.5 .5-.8zM54.1 40.7l1.3-.2 .5 .2-.5 .9-.8-.2-.7 .1zM60.3 41.5l1.1 0 .2 .8-1 .8-.5-.8zM4.9 41.6l.7 0 1.1 .7-.4 1.6 .9 .7 1.5 .1 .7 .3 .8 1.1 .7-1.2 .8 0 1.5 1.4-.5 .7 .5 .8-.8 .8-.7-.6-1.5-.9-2.3 .2-1.4 .5 0 .8 .7 .8 1.5 .8 .3 .8-.1 .8-1 .7-.7 .1-.9-.8-.6-1.5-1.4-.9 0-.8 .4-.8-.5-.8-.8-.3-1.5 0-.8-.4-1.1-1.6 .1-.8 .3-.4 .7-.4 1.5 .3 .8-.2zM42.3 42.3l1.8-.3 .8 .3 0 .8-.8 .3-3-.2-1.5 .8-.8-.2-.4-.7 .4-.3 .8-.2 1.5 .3 .7-.2zM9.2 43.9l.2-.3 .7 .3-.7 .6zM135.7 43.9l.3-.4 0 1.8-.4-.6zM47.1 44.1l.8 .6 .1 .8-.9 1.6-.8 .7-1.8-.8 .3 0 .9-1.5zM111.8 53.4l.8-.6 .8 .6 0 .4-.4 .4-.4 0zM119.3 67.6l1.6-.1 1.5 .5 5.3 .7 2.2-.4 1 .1 .5 .8 0 .8 .8 .5 .8-.5-.1-.8 .3-.8 1.3-.2 .3 .2-.2 1.6 .4 .8 1 .5 0 2.7-.7 .7 .5 .8 0 .8-23 0 0-.8 .6-.1 .7-.7-.7-1.7-.8-.2-.7 .3-1.5 1.4-1.5 .2-3.1-1.6-.9-.8-.4-.7 .6-1 .7-.6 .8-.3 .7 .3 .5 .8 .3 .1 1.5-.5 2.1-1.2-.3-.8 .5-.3 1.3 .3-.9 .8 .3 .2 .8-.2 .7-.6 2.3-.3zM24.5 68l1.5 .9 .7 .1 2.3-1 .8 .1 1.5 .5 1.5-.4 .8 .2 2.2 1.3 .8 1.1 1.3 .8 .6 2.3-.1 .8-.4 .4-.7 .4-.9 0 0 .8-31.9 0-.2-3.2 .6-.6 1.5-.9 .8-.2 1.5 1 1.5-.3 .7 .3 .7 .7 1.6 .8 1.5 .2 .7-.1 1.5-.5 .7-.4-.3-.8 0-.7 1.9-2 1.5-.8zM86.8 69.2l1.7 .2 .7 .6 1.6 .4 .5-.4-.4-.8 1.4-.4 5.3 .6 2.2-.3 .4 .1 1.1 .8 .8 .3 .4 .5 .4 .8-.1 .7 .4 2.4 .4 .3 1.5 .2 1 .3 0 .8-43.9 0-.1-1.7-.7-.1-1.4 1 0 .8-3.8 0-.1-.9-1.5-2.5-.7-.1-1.5 .6-1.6 0-.9-1.1-.1-.7 1-.9 1.6-.4 3.7 .8 .8 .3 .7 .2-.7 .3-.2 1.2 .2 .1 .3-.1 .4-.6 .1-.9 2.9-.1 3.1-.9 1.5 .2 2.2 1.1 .8 .2 1.5-.9 .7-.2 1.5 0 .7-.2-.2-.8 .3-.1 .1 .9 .6 .1 .3 .7 .5 .2 .8 .1 .7-.6 .8 0 1.5 .5 .8-1 1.4-1.1 .8-.2 1.5 1.1 3 .2 .2 0zM98.1 73.1l-.3 .8 .6 0 0-.8zM68.2 73.6l-.2 .3 .2 .1 1-.1-.3-.3zM43.5 70l.6-.4 .7-.1 .7 .5 0 .8-.4 .8-.3 .1-.7-.1-.5-.8zM-.4 70.9l1.3 .7 .4 1.5-.2 .4-.7 .5-.7 .7 .5 .8 0 .8-.6 0zM43.2 73.9l.9 0 2.7 1.6 0 .8-6.9 0 0-.8 .4-.5 1.5-.1zM48.7 75.5l.6-.3 .6 .3 0 .8-1.2 0z"/><path fill="#fce2d2" d="M-.4 -.4l4.5 0 0 .8 .4 .8 .4 0 1.5-.8 0-.8 11.6 0 .2 1.6 1 .5 .7-.5-.1-1.6 4 0 .1 1.6 .3 .8 1 1.1 3 1.4 1.9 1.4 1.2 .3 1.5-.3 1.5 .3 0-.3 2.2-1.9 1.5-.8 1.5-.4 .2-.8-.3-.8 0-1.6 20.5 0 0 .8 1.5 .7 1.5 1 .8 .1 .7-.3 .7-.7 .8-.4 1.5-.1 .6-.3 0-.8 25.4 0 0 1.6 .4 .8 1 .8 .1 .8-1.7 1.5 0 .8 .7 1.6 .6 .7 1.5-.1 .8 1 .8 .5 3 .9 .7 .1 .8-.2 .1 .3-.9 0-.4 .8-1.1 .8-1.5 1.4-.7 0-1.6-.5-.1-.9-.4-.8-1.7-1.2-.8-.2-.7 .4-.1 1 .4 .8-.3 .5-1.5 .4-.8 .9-.7 .4-.8-.7-.2-.8 .4-1.5-1.7-1.4-.7 .1-.9 1.3-.5 1.5 1.8 1.6-.4 .7-.9 .1-.9-.8-.4-.8-.9 0-.2 0 .2 .8-.7 .6-.8 .1-1.5-.2-.7 .2-.9 .9 0 1.6-.2 .8-.4 .6-.8 .2-.3 0-.4-.8-.7-.8-1.4-.8-.7-.8-1.8-.9-1.5-.1-4.5 .7-.7 .4-.8 .7-.7 .3-3.1-.1-2.2-.5-.8 .1-.6 1-.3 1.6-.6 .3-1.5 .1-1.5 2.6-.7 .3-.3-.2 .5-.8 .1-.7-.3-1-.8-.3-2.2 .5-2.3 .9-.8 .1-3-1.4-3-1-.7-.1-2.3 .5-.3 .2-.8 1.6-.4 .2-2.3-.1-.7 .2-.8 0-1.5-.9-1.5 .4-.8-.2-.7-1.2 0-.8-.8-.1-2.2 1.4-.8 .1-1.5-.1-1.1 .3-.1 .8 1.5 .7 .5 .8-.6 .8-.9 .4-.6-.4-.4-2.3-.5-.5-.8-.2-1.5 1.4-.8 0-1-.7-.5-1.6-1.5-.5-1.7 .5-.5 .3-.8 .9-.7 .1-2.3-.6-4.5-3.3-.8-.1-.7 .3-.8-.5-.7-.1-.8 .5 0-9.2 1.5 .3 1.5 .6 .8 0 .7-.3 .4-.8-.4-.3-2.2-.6-.8-.5-.3-1-.2-1.5-1-.9zM59.1 4.1l-.5 .2-.4 .8 .9 .3 .8-.3-.1-.8zM90.8 8.2l-.3 .1 .1 .8 1.2 0-.3-.9zM126.7 -.4l1.2 0 0 .8-.2 .3-.8 .5-.8 1.6-1.1 .8 .4 .7 .8 0 .7 .4 1.5 1.2 .5 .8 .3 .2 .7 .2 6.1 .7 0 8.6-1.5 .9-1.9 .5-3.6 1.6 1 1.6-.2 .7-.6 .6-.8 0-.9-.6-.2-.7-.6-.8-1.3-.8-4.5-1.5-.7-.5-.4-1.2 .7-3.2-.1-.7-.2-.5-.8 0-1.5-.8-2.3-.5-.9-.6-.2-.8 .5-1.6 1.4-1.7 1.5 .7 .7-.1 .4-.5 .2-.8-.2-.8 .2-.7 1-.7 3-1.3 3-.5 .5-.7zM123.2 3.5l-1 .8 .2 .2 2.1-.2zM132.3 -.4l3.7 0 0 3.6-1.5-.9-1.2-.3-1.6-.8 .6-.8zM96.7 2.8l.9-.5 .7 .1 .5 .4 .5 .8 1.4 .7-.9 .3-.6-.3-.1-.4-.8 .2-.7-.2-.7-.3zM107.8 9.1l.3-.3 1.5 1.4 .9 .5 .7 .8-.1 .7-3-1-.5-.5zM110.4 13l.7-.7 .8 .1 .7 .6 1 1.6 .8 .8-.3 .5-.7 .4-1.6-.1-1.6-1.6zM93.8 15.2l.7 0 .5 1 0 .8-.3 .8-.9 .7-.8 .3-.7 .1-1.5-.3-.3-.8 1-1.1zM87.8 16.1l.7 .2 .4 .7-.4 .3-.7-.2zM1.9 17l1.1 1.6-.4 .8-1.5 1.4-1.5 .7 0-1.7 .6-1.2zM136 18.4l0 2.7-1.5 .8-.6-.2-.4-.7-.2-.8 .4-.2 .8 .2 .7-.4zM23.7 21.7l.8-.4 .1 .4-.1 .2zM100 21.7l.6-.4 .5 .4-.5 .4zM25.1 70l2.4 0 1 .8 .1 .8-1.1 .8-.8 0-2.4-1.6 .2-.4zM124.6 70l.8-.3 .8 0 1.5 1 1.5-.6 .7 0 .8 .7 .3 .8-.4 .7 0 .8 .3 .8-1.4 1.6 0 .8-8.1 0 0-.8 .3-.5 1.5-.3 1.5-.7 1.5 .3 .8-.4 .2-.8-.3-.4-.7 0-1.5 1.1-1.5-.2-.8-.5 .8-.8zM30.1 70.8l1.2-.5 .7 .1 .3 .4-.3 1.5-.7 .6-.8-.1-.9-1.2zM116.8 70.8l1.8-.6 1.7 .6 .4 .8-.5 .2-1.6-.3-.7 .2-.9 .6 .6 .8 1.8 0 1.7 .8-1.1 .8-1.3 .6-.2 .2 0 .8-2.5 0 0-.8-1.4-2.4 0-.8 .3-.7zM33.7 71.6l.6-.4 .7 0 .8 .3 1 .8 .1 .8-.4 .4-1.5 .5-1.1 1.5 0 .8-1 0 0-.8 .3-.8-.4-1.6 .2-.8zM88.5 71.2l2.3 .5 .7 .4 1.6 1.8-2.3 1.3-.2 1.1-12.6 0 0-.8 2.1-2.4 .1-.8 .8-.5 3.8 .3zM63.5 73.9l.9-.5 .8-.2 .7 .1 .8 1.5 .7 .7 0 .8-4.4 0 .1-1.6zM71.9 73.5l.8-.2 1.5 .1 .6 .5 .4 .8 .7 .8 0 .8-8.2 0 0-.8 1.2-.4zM100.4 73.9l.2-.3 .7-.2 .3 .5-.3 .4-.7 0zM9.8 74.7l.4-.3 .7 0 .6 .3 .4 .8 0 .8-2.5 0 0-.8zM22.8 74.7l.9-.4 2.3 0 .5 .4 .2 .6 .1 1-4.9 0 0-.8zM6 75.5l.4-.6 .3 .6 0 .8-.7 0zM15.4 75.5l1.5-.5 1.6-.1 .8 .6 0 .8-3.9 0zM95.3 75.5l.7-.4 2.3 .1 .7 .3 0 .8-3.7 0zM132.6 75.5l.4-.4 .7 0 .9 .4 0 .8-2 0z"/><path fill="#fbccb4" d="M10.7 -.4l4.8 0 0 2.4 .9 .8 4.3 1 .8-.1 .7-.6 .8 .1 .2 .4-.2 .6-.9 1.7 .9 .1 .6 .7 .2 .8 .6 .8 .8 .8 .8 .4 .6-.4-.3-.8 0-.8 .4-.5 .8-.2 .7 0 2.3 .7 1.5 .1 1.8 .7 1.2 .2 1.5-.2 1.5-.9 .8-.2 1.5-.1 .8 .2 .7 .4 .8 .1 .9-.3 .3-3.9-.7-1.6-.1-.8 .8-.8 0-.8 13.2 0-.1 1.6-.8 .8-1.5 .3-.6 .5 .1 .8 0 .7-.2 .3-.8 .5-.7 .1-.8 0-.8-.4-.7 0-.4 .3-.1 .8 2 1.8 1.5 .3 .8 .6 .7 1.3 .8 .1 .8-1.7 .7-.4 1.5-.3 2.2 .2 2.3-.2 .8 .2 .7 .6 1.5 .1 1.5-.6 1.7-.4 1.3-1 1 .2 0 .8 .5 .7 3.8-1.7 3 0 .9-.6-.9-1-1.1-.6-.6-1.5-2-.9-.8 0-1.5 .3-2.5-1.8 0-.8 21.3 0 0 .8-.7 .9-.9 .7-.5 .8 0 .8-.8 .7-3.1 .8-1 .8-.7 1.6 0 .8 1 .3 .5 .5-.3 .8-1 .5-1.5 .3-.8 .3-1.5 1.3-1.5 .8-.7 .2-1.5-.3-1.5 .7-.8 0-2.3-.4-3 .2-1.5-.8-1.5-.3-3.8 1.9-1.5 1.1-.7-.2-.8-1.6-.7-.4-1.5 0-2.3 .3-.8 .3-.5 .8 .7 1.6-.1 .6-.8 .1-2.1 1.7-.9 .5-.8 .1-.7-.3-.8-.5-1.5 .9-.7 .1-3.8-.8 .8-.5 1.5-.3 1.3-.8-.3-.8-1.8-.6-.7 .1-1.1 .5-.2 .8 .4 .8-.6 .2-1.1-.2-1.2-1.1-1.5 .6-1.5-.4-1.5 .5-.8 0-1.5-.1-2.2-.7-3.1 .5-.7 .3-1.4 1.2-.9 .4-.7 .1-.8-.1-2.2-1.1-1.5-.2-1.6-.9-1.5 .8-.7-.1-.8-.6-.5-.7-.2-.9-2.3-2.6-1.5 0-.7-.4-.9-.8-.6-.3-.8-.1-.7 .4-.8 .9-1.5-.9 0-.3 .2-.5 1.3-.9 1.6-2.3 .2-.8-1.1-.6-3.3-1-.4-.8 .7-.8 3.8-1.3 2.3 0 .4-.2 1.2-.8 .4-.8zM20.7 6.5l-.5 .2 .5 .3 .7-.3zM40.8 9.9l0 .8 1 .5 .8-.1 .6-.4-.2-.8-.4-.4-.8-.2zM46.3 14.6l-.5 1.6 0 .8 1.1 .8 .2 .4 .3-.4-.1-3.2-.2-.1zM51.6 10.1l-.4 .6 .4 .7 .8-.7zM9.1 7.5l.5 .8 1.4 1.6 .7 .6 .7 .1 1.1-.7 .1-.8-.6-.8 1.5-.8-1.3-.6zM120.2 6.6l.7 .2 .8 .7 .2 .8-1 .8-.7 .2-.8-.2-.8-.8zM129.8 8.3l1.7-.6 2.2 .2 1.5 .7 .6 .5 .2 .7-.7 .9-.8 .3-3.4 .5 1.4 3.1-1.8 2.3-1.5 .9-2.3 .8-.7 0-1.5-.5-3-1.6-.3-.3-.2-.8 .1-.8 .6-2.3 .5-.8 3.8-1.4 2.2-.4zM-.4 8.6l.6 .5 .2 .8-.8 .8zM10.4 17l.5-.3 .8-.2 .8 .5-.1 .8-2.2 1.3-.6-.5 .2-.8zM16.8 19.4l.1-.7 .7 .7 .1 .9-.8-.1zM64.4 74.6l.8 .2 .5 .7 0 .8-1.9 0 0-.8zM80.2 74.6l.8 .1 .7 .3 1.5 .2 .4 .3 0 .8-4.7 0 0-.8zM23.4 75.5l.3-.2 .9 .2 0 .8-1.2 0zM87 75.5l.8-.5 .7-.2 .8 .2 .4 .5 0 .8-2.7 0zM124.2 75.5l1.2-.2 .8 .1 .4 .1 0 .8-2.4 0z"/><path fill="#f6b394" d="M75.8 -.4l13.7 0 0 .8-1 .4-3.2 .4-1.9 1.6-.9 1.1-.8 .3-.7-.2-.5-.4-1-1.6-.8-.5-2.2-.6-.7-.5zM6.4 3.6l2.3-.1 1.5-.4 3.7 .2 1.5 .6 2.8 .4 .7 .8-2 .2-3 .5-6-.2-1.5-.4-1.1-.9 .4-.3zM46.3 7.7l.8 0 .9 .6 .2 .8-.2 .8-.7 .8-.1 .8 .6 1.2 1.5 .1 .4 .2 0 .8-.4 .1-1.5-.8-.7 0-.8 .2-1.5 1.2-.7 .3-3 .2-.7-.4-.8-1.6 0-.9 .7-.3 1.5 .4 .8-.1 2.7-1.4-.1-.8-.7-.8zM75.8 8.3l.7-.4 .7-.1 1.5 .1 1.4 .4 .6 .8-1.2 1.7-.8 .2-.7-.1-.3-.2 0-.8-1.7-.8zM130.8 8.3l1.4-.4 1.5 .3 1.3 .9 0 .8-.5 .4-.8 .3-1.5 .1-1.5-.3-.7-.5 0-.8zM19.8 9.1l.9-.2 .6 .2 .8 .8-1.4 .7-1-.7zM30.9 9.1l.5 0-.1 2-.8-.4-.1-.8zM59.8 9.1l1.6-.2 1.1 .2 1.2 .8 3.1 0 .6 .8-.5 .8-1.7 .1-1.5 .7-1.6 0-1.5-1-1.2-1.4zM73.2 9.9l1-.3 .7 .3 .1 .8 0 .8-.6 .8-.4 0-1.6-1.6zM15.8 10.7l.4-.4 .7 .3 .2 .9 .6 .5 1.6 .3 .2 .7-1 .1-2.3-.4-.5-.4zM27.5 10.4l.7 0 .5 .3 .3 .8-.1 .8-2.3 1.5 0 .8 .8 .8-.7 .5-2.2-.6-.8 0-.6 .9 0 .8-.2 .8-1.4-1.6-.1-.8 .8-.8 .3-.8-.1-.8 .6-.7 2.2-.8zM31.6 11.5l1.2-.2 .5 .2 .3 .8-.1 .1-.4-.1zM127.7 10.9l2.2 1.4 .5 .7 .3 1.6-.1 .8-.5 .8-.9 .7-1.5 .6-1.5 .2-3-1.1-.8-.7-.3-.5 0-.8 .7-1.6 .8-.7zM12.4 12.3l.8-.2 .3 .2-.3 .3zM34 13l.3-.2 2.2 1 .5 .8-.5 .4-.7-.2-1.4-1zM80.1 75.5l.3 0 0 .8-.3 0z"/><path fill="#ec9374" d="M131.7 8.3l1.3-.1 .7 .3 .9 .6-.2 .8-.7 .4-1.5 .1-.7-.1-.8-.4-.2-.8zM124.1 13l1.3-.6 .8-.1 1.5 0 .7 .3 .8 .5 .5 .7 .1 .8-.2 .8-1.2 1-1.5 .5-1.5-.2-1.5-.4-.9-.9-.1-.8 .4-.8z"/><path fill="#dd7059" d="M130.9 9.1l.6-.4 .7-.3 .8 .1 1.2 .6-.3 .8-.9 .3-.8 0-.9-.3zM126.2 13l1.5 .3 .9 .5 .2 .8-.3 .8-.8 .5-.8 .1-1.5-.1-1.3-.5-.3-.8 .6-.8 1-.6z"/><path fill="#cc4c44" d="M131.3 9.1l.9-.4 .8 0 .8 .4-.6 .8-1 .1-.3-.1zM125.7 14.6l.5-.3 .7 0 .3 .3-.3 .2-.7 0z"/><path fill="#ba2832" d="M131.8 9.1l.4-.2 1.1 .2-.3 .4-.8 0z"/><path fill="#dae9f2" d="M132.4 3.6l1.3 .1 .9 .6 .3 .8-.4 1-.8 .3-.7 .1-.8-.1-1-.5-.4-.8 .2-.8 .5-.4zM96.7 20.2l.9-.2 .3 .2-.3 1.3-.8-.4zM95 22.5l1.8-.6 .7 .6-.3 .8-1.4 1.6-.3 .8 1.1 .8-.6 .4-.7 0-.5-.4 .3-.8-.6-.5-.5-1.1 .2-.8zM25.2 25.7l.8-.4 1.5 .2 3 1.3 1.5 1.3 .8 .2 1.5-.3 .7 .4 .8 1.2-1.2 1.6-.1 .8-.6 .8-1.9 1.6 .8 .2 1.5 .1 .9 .5-1.7 1.1-2.1 .5-.6 .8 .3 .7 0 1.6 .3 .8-.1 .8-1.5 0-.8-.8 .5-.8-.3-.8-1.1-.8 .2-.7-.1-.8-1.5-.6-.7 .2-.3 .4-.2 2.3 .5 .5 1.2 .3 .2 .8-.7 .7-.1 .9 1 .8 .6 .8-.7 .6-.8-.2-1.5-.8-1.5 0-.7 .4 .3 1.6-.3 .4-1.2 .4-.1 .7 .5 .3 .8 0 .3-.3 .4-.9 1.5-.1 1.4 .3 2.6 1.5 .5 .8-.2 .8 .4 .8 .6 .4 .8 .3 1.5-.6 .7 .1 1.5 .6-.7 .8-.8 .1-.7 .1-1.5-.4-1.1 1-.4 1-.7 .6 0 .7 .7 .3 1.5 1 3-.2 1.4-1.1 .8-1.5 .1-.8-.9-.8 .3-.8 1.3-.6 .7 .1 .5 .5 .1 .8 .2 .3 .8 .2 2.2-.2 .5-.3 .1-.8-1.6-1.6-.2-.8 .5-.3 1.5-.3 2.2 .7 1.5 .7 .9 .8-.7 .8 .2 .8 1.6 2.4 .3 1.5 .7 .9 .6-.9 .1-.8-.2-.7-.5-.7-1.3-.9 .5-.8 0-.8-.5-.8 .6-.5 2.2 .1 .7 .4-.1 .8 .2 .8 2.3 .6 .5 1-.2 .8-1 .7-.6 .8-.2 .8 .7 1 .8 0 .7-.2 .8-.3 .8-1.3 1.6-.8 1.3-2.2 1.5 .7 .8-.3 .3-.5-1.1-1.2-.5-2 .5-2.1 .8-.5 .7 .7 .8 .2 .9-.7 .6-.7 .2-.8 .6-.7 .7 0 1.5 .7 .8 .2 .7-.6 .8-1.3 .7-.8 1.5-.8 .5 .1 .8 1.6 1 .7 .8 .4 .7-.2-.4-2.5 .4-1.1 .8 .2 .8 .9 2.2 1 .7 .6 .7 1.6 1.6 .1 .6 .7 .6 1.5-.5 .8 0 .8 1.7 .8-.1 .8-1.1 .8-.2 .8 .1 .8-.3 .8-2.2 .7-1 .8-.6 1.1-.6 .5 0 .8 .6 .3 1.5 1.3 .7 .2 3.1-.2 .7 .2 1.5 1.2 3.8 .5 3-.5 1.5-2.3 .7-.3 2.3 .2 .6-.6 .4-.8 .5-.4 2.3 .3 .7 0 3.8-1.2 .7 0 .4 .5 .4 .2 .8 0 .7-.4 .8-.9 .7-.4 1.7 .7 .7 1.6 .6 .6 2.5 .2 .2 .8-.2 .8-1.7 1.3-.2 .3 0 1.6 .2 .6 .7 0 2.3-1.2 .7 .2 .8 .9 2.2-.5 1.6-1.5 .7-.1 1.5 .4 .8 0 2.2-.9 1.7-.3 .6-.8 .1-.8 .7-.4 1.5-.1 1.5-1.4 .7-.2 .8 .1 0 11.7-.1-.2-.7-.6-.7-.2-2.3 .3-6-.4-5.3-.8-1.5-.1-3.8 .7-4.5-.2-.6 .5-.9 1.3-.7 .3-.8-.9-4.5-.4-3.8 .3-1.5 .3-5.3-.4-15.8 0-2.2 .2-3.1-.6-2.2-.1-3 .6-1.5-.1-1.5-.3-3.1 .5-4.5-.5-.7 .1-.8 1-.7 .3-.7-.8 1.4-.7 .4-.9-1.1-.3-1.6 .3-.7 .5-.7 .2-3.8 .3-2.3 .5-.7-.2-1.5-.9-3.8-.5-1.5 .1-.8 .4-1.5 .3-2.2-.3-1.5 .1-2.3-.2-2.3 .5-1.5-.5-3 0-3 .8-.7 .1-1.6-.7-2.2-.1-1.4 .4-.9 .8-.7 .3-2.3-.5-3 .4-1.5-.4-.9 .2-.6 .5-1.5 .6-.8 .2-.5-.5-.3-.8-.7-.6 0-11 1.5 .2 .8-.1 2.2-1.1 1.5-1.3 .8 .1 .5 .3 .1 .8-.8 .8-.3 .8 .5 .3 1.5 .2 .8-.2 .7-.7 .8-.3 .7 .6 .8 .3 .7-.2 .9-1.6 1.3-1.5 .8-.3 3.1 .8 .3 .2 .3 .8-.9 .8-2.7 1.6-.1 .8 3.1-.3 .6-.5 .9-1.1 1.9-.5 0-.8-.5-.8 3.1-1.8 1.5-.5 .4-1.6 .9-.8 .3-.8-.5-.8-.4-.2-.7 .1-1.5 1.6-1.5 .6-.8-.3-.7-1-1.5-.7-.3-.9 1-1.2 .7-.3-1-1.6 .3-4.8 .8-2.3 1.2-.8 .5-.8 .7-3.2-.1-2.4-.4-1.5 .1-.8 .2-.8zM43.3 53.7l-.7 .5 0 .7 1.5 1 1.5 1.8 .7 .4 .8-.3 .3-.5-.4-.8-1.4-1.4-.4-.9-.4-.4-.7-.2zM58.4 56.4l-1.5 1.7 .1 .8 .6 1.1 .8 .3 1.3-.6 .7-.8 .9-1.6 0-.8-.7-.4-1.5 .1zM62.1 63.1l-.5 .5 .1 .8 .4 .4 .8 .1 4.5-.1 1.6-.4-.1-.8-3.7-.1-1.5 .2zM62.9 48.2l-.1 1.2 .6 0zM64.9 53.4l1 .5 .5-.5-.5-.5zM70.4 59.5l-.6 1 .2 .8 .4 .3 .8 .1 1.8-.4-.2-.8zM71.2 54.1l-.7 .8 .3 1.6-.1 .8 .5 .6 1.5 .2 2.3 .8 .8 0 1.3-.8-.6-.8-.2-1.6 .4-.8-.5-.7-3.5-.5-.8 .1zM108.9 60.1l-.4 .4 .4 .4 .7 .1 .3-.5zM101.6 25.7l.5-.1 .6 .1-.6 .6zM112.3 26.5l.4 0-.4 .8-.1 .8 1 .8-.6 .4-.7 .1-1.4-.5-.5-.8 .4-.7zM38.8 27.3l.8 .1 1.5 1.3 .7-.1 1.5-1.8 .8-.3 .7 .4 .3 .4-.5 2.3 .2 .7 .8-.3 .6 .4 .5 .8-.4 .4-.7 .3-3.8-2.6-.7 .1-1.4 1 2 1.6 .9 1.7 .7 1 1.2 .5-.4 .6-.8-.4-.7-.1-2.3-.8-1.5-1.6-.8-.3-.3-.6 1.1-1.4 .5-.2-.9-1.5 0-.8zM61.5 27.3l.6-.4 3.1 .1 2.2 .7 .7 .4 .2 .8 .6 .4 1.5 .5 1.5-.3 .5 .1-.4 .8 .1 .8-.2 .6-.7 .4-.8-.1-.7-.8-.8-.5-.7 0-1.2 .4-.8 .8-.9 1.6 .6 .8-.5 .8-1.4 .8-1.9 .2-.7 0-.8-.2-.7-.5-.3-.3-.2-.8-.9-1.6-.1-.2-.8-.1-3 .2-1.1 1.7-1.1 .9-.8 .2-.8-.2-.3-.1-.4-.6-.8 .1-.9-.3 .2-.7 .7-.3 .5 .2 .3 .5 .7 0 .2-.5-.4-1.6 .2-.2 .8-.3 1.5 0 1.5-.5 .8-.6 .7-1.2 .8-.4 .9 .1 .4 .7 0 .8 .3 .8 .6 .5 .8 0 .7-.5 1.4-1.6 0-.7-.5-.8zM92.9 27.3l1.6-.3 .2 .3-.6 .8-.3 .9-.8 .4-1-.5 .1-.8zM96.8 27.3l.8-.3 .6 .3 .1 .9zM107.3 27.9l.1 1 1.2 1.5-.5 .7-3.8 .6-.7 0-1-.5-.8-.8 .3-.2 3-.1 .6-.5 .1-.9 .8-.6zM3.4 28.7l.8 .2 .1 .7-.7 1.6 .5 .8 .1 1.6 1.1 .8 1.1 .3 .8-.2 .7-1 .8-.6 .7-.2 1.5 .1 1.2 1.6 1.1 .6 .3-.6 .1-.8 .3-.3 .9 .3 .1 1.6-.2 .2-.8-.4-.3 .2 .3 .6 .2 1-.1 1.5 .1 1.6-.9 .4-.8 .1-.8 .3-.3 .8 0 .8-.4 .2-1-1-1.2-.5-2.3-.2-1.5-.4-.7-.5-.8-1.1-1.5-.2-.2-.3 .2-.4 2.2 .4 .7-.7-.7-1.6-.7-.6-2.3 .1-1.5 .7 0-3.4 .8 .1 .7-.3 1.2-.6 .3-.6 .5-.2-2-.9-1.5-.2 0-.6zM11.6 28.9l1.6-.8 .7 .8-1.5 1.9-.7 .1-1-.5-.5-.7-.3-.1 1-.2zM98.3 29l.6 .6 .3 .8-.9 2.1-.7 .6-.8 0-.8-.3-.6-.8 .1-.8 .4-.8zM134.9 29.6l1.1-.4 0 .9-.8 0zM75 31.8l.7 0 .8 .3 .8 .7-.4 .8-.4 .2-1.5 .1-.6-.3-.2-.4 0-.6zM133.7 32.8l.8-.1 1.5 .2 0 2.9-.8 .4-.7-.1-.2-.1-.5-.8zM18.8 33.6l.4-.3 .3 .3-.3 .3zM93.9 38.3l.6-.3 .8 .4 .3 .7 0 .8-.3 .8-.8 .8-2 1.6 .5 1.2 .8 .4 1.5 .1 .7-.2 1.3-.7 1-1.3 2.3-.5 3-1.9 .7-.2 3 .4 2.3-.8 .8 .1 .7 .5 1.5 1.3 1.5-.3 .8 .3 1.5 1 3.8 .7 .7 .7 .3 .8 0 .8-.3 .8 0 2.3-.7 1.4-.8 .5-1.6 .5-.3 .8-1.1 .4-.8 0-.5-.4 .1-.8-.5-.8-.6-.3-.7-.1-.7 .4 .1 .8-1.7 .9-.5 .7-.2 1-.8 .4-.7-.1-.5-.5-.3-1.3-.8-.1-1.5 .2-.4 .4-.1 .8-1.7 .7-.8 0-2.2-1.1-.8-.1-1.5 1.6-1.5 .8-.7 .3-.8 .1-.8-.2-.8-.6-.5-.7 .6-.9 1.2-.7-.5-.4-1.5-.4-1-1.6 .3-.6 1.5 .3 .7-.2 1.1-.3 .8-.8-1.9-1-2.2-.8-2.3 .7-1.5 .2-.7 .2-.4-.1-.1-.8 .5-1.7 .7-.6 1.5 .3 1.2-.3-1.2-.9-.7 .2-.8 .6-.7-.7 .2-.8 1-.8 1.8 .1 .7-.2 1.4-1.5 .3-.8 .1-.8zM99.1 45.1l-.4 .4 .4 1.1 .5 .4-.1 .8-.4 .4-2.3 .8-.4 .4 2.3 0 1.1-.3 .8-.4-.5-1.7 .4-.7 0-.8-.7-.6zM103.4 51l-.2 .8 .4 .2 .9-.2 .1-.8zM107.4 43.9l.7 .9 .8 .2 .7-.3-1.5-.9zM111.9 42.9l-.4 1 .4 .4 .7-.2 0-1.1zM107 50.2l.3 .5 .8 .6 .8 .1 .7-.6 .4-.6-1.1-.8zM41.6 39.1l1-.2 .6 .2-.7 1.6-2.9 .1-.5-.1-.6-.8 .3-.2 .7-.2 1.6 1.1 .6-.7zM35.8 45.5l1.1 0-.4 .7zM16.7 47.8l.2-.4 .5 .4-.5 .3zM56.1 47.5l.8 .3 .4 .8-.4 .7-.8 .1-.7-.6zM15.2 50.2l.2-.2 .3 .2-.3 .8-.1 0zM129.6 51l1.1-.5 .9 .5-.1 .3-.8 .5zM1 53.4l.9-.2 .4 .2-.4 .2zM58.4 69.2l1.5-.2 .1 .2-.2 .8-.7 .1-.8-.1zM13.5 70l1.2-.4 2.2 .1 .4 .3-1.7 1.6-.2 .7-.7 .4-.8-.1-.6-.3-.1-.3-.2-.4 .1-.8zM46.1 72.3l1-.4 .7 .3 .5 .9-.3 .8-.9 .4-1.1-.4-.4-.8z"/><path fill="#c2ddec" d="M131.8 4.3l1.2-.3 .7 .3 .6 .8-.6 .8-.7 .1-.8-.1-.7-.8zM26.4 26.5l1.6 0 1.2 .8 .1 1.6 .4 1.5-.1 .8 1.3 .8-.3 .8-.7 .8-.9 .5-.7-.5-.7-.8-1.7-.8-.5-.8 0-1.6 .3-2.3zM8.6 34.4l.5 0 .3 .2 .1 .6 .7 .7 1.5 .5 .3 .4-.3 1.5-.3 .8-1.2 .8-3 .1-.9-.9-.1-.8-.8-2.3 .2-.3 1.6-.1 .8-.4zM109.3 41.5l.3-.2 .8 0 .2 .2-.2 1-.8 .3-.7-.5zM113.9 43.1l.2-.5 .8 0 1.2 .5 1.8 .3 .9 .5 .8 .8 .3 .8-.1 .8-.4 .7-1.8 2.4-.5 .3-.7 .1-.8-.3-1.1-.9 .2-.8-.5-1.5zM71.2 46.2l1.5 1.2 1 .4 .5 .6 0 .6-.8 1-2.2-1-1.5 .3-.2-.7 .5-1.6 .4-.7zM110.7 46.3l.4-.3 .8-.1 .6 .4-.6 .4-.8-.1zM109.3 47l.3-.2 .4 .2 .3 .8-.7 .7-.5-.7zM73.3 51l.1-.4 .8-.2 .7 .6-.4 .8-.3 .1-.4-.1zM29.8 60.1l1.5 .3 .2 .1 .1 .8 1.2 .7 1.5 .1 3-.3 3 .7 .8-.1 2.2-.8 4.5-.2 3 1.6 1.6 .2 1.5-.1 .7 .4 1.2 1.7-5.7 1.1-2.3-.1-3 .5-6.8-.3-3.7 .5-2.3-.3-5.3 .1-4.5-.2-3 .3-2.3-.2-3.3 .2-1.9 .9-3-.4-2.3 .3-1.5-.5-.8 0-2.2 .7-.8 0-1.5-.6 0-5.8 .8-.4 .7 .2 1.5 .8 2.3-.2 1.5-.5 3 .3 2.3 .8 .7 .1 9.8-.4 .4 0 .4-.7 .7-.4 .6 .3 .9 0 2.3-.3 .7-.2zM136 61l0 6.4-1.5-.3-2.3 .2-6-.4-5.2-.9-1.6-.8 .9-.8 2-.8 1.6-.9 2.3-.1 3.7-.6 4.6-.4zM73.4 63.6l1.6 .7 .7 0 2.3-.3 2.2 .2 4.6-.6 4.5 .2 1.5 0 1.5-.4 2.2 .3 2.3-.3 1.5 .2 .8-.6 .7 0 1.5 .5 2.3 .2 2.6-.1 1.9-.2 .8 .1 2 .9 2.9 .8 .6 .8-1.8 .4-1.5-.3-1.5 .8-3 .4-3.8 0-4.5 .6-5.3-.3-11.3-.1-4.5-.3-2.2 .2-1.6-.3-.4-.3-.7-.8 0-.8 1.2-.8zM65.1 66.8l.8-.6 .5 .6z"/><path fill="#a2cde3" d="M132.4 5.1l.6-.3 .4 .3-.4 .2zM7.1 37.6l.1-.7 .7-.1 .4 .8-.1 .7-.3 .3zM115.3 43.9l1.1-.2 1 .2 1 .8 .4 .8-.1 1-.8 1-.8 .6-.7-.1-.8-.6-.6-1.1-.1-1.6zM-.4 62.9l3 .3 4.6-.2 4.5 .3 3-.2 6 0 2.3-.1 3-.6 6 .5 4.5-.2 3.8 .5 6.8-.4 4.9 1.6 .1 .8-6.5 .8-5.3 .2-2.3-.2-3.7 .5-2.3-.3-6 .1-4.5-.2-2.3 .2-2.3-.1-5.2 .3-5.3 .1-2.3-.3-3 .4-1.5 0zM129.9 62.7l3.1-.1 3 .3 0 3.8-6.1 0-3.7-.2-4.8-1.3 .9-.8 1.6-.9 .8-.2zM77.2 65.2l7.6-.6 3 .1 5.2-.2 7.6 .1 6.7 .5 .7 .1 0 .8-2.2 .7-3 .1-5.2 .5-15.1-.3-7.6-1 1.6-.3z"/><path fill="#7eb8d7" d="M115.6 44.7l.8-.4 .7 .1 .5 .3 .5 .8-.1 .8-.9 .7-.7 0-.9-.7-.1-.8zM-.4 63.4l3.8 .7 3-.2 5.3 0 3-.3 6 0 5.3-.6 6 .3 3-.1 6.1 .5 5.2 0 .8 .1 1 .6-.8 .8-1.7 .3-4.5 .3-3.8 0-3 .4-2.3-.3-6 .1-9.1-.3-7.5 .2-5.3-.3-3 .6-1.5 0zM125.6 63.6l5.1-.4 5.3 .3 0 2.7-6.1 .2-3-.2-1.5-.2-2-.8 .3-.8 1-.5zM83.8 65.2l1.7-.1 2.3 .3 6-.4 5.8 .2 1.7 .3 1.1 .5-3.6 .8-1.2 .1-6.8-.1-3.8-.3-3 0-2.5-.5z"/><path fill="#569fc9" d="M116.1 45.5l.3-.5 .9 .5-.2 .4-.7 .4zM26 63.5l5.3 .2 3.7-.2 8.2 .9-.5 .8-8.4 .6-2.3-.2-6 .1-17.3-.5 .7-.3 4.5-.7 6.8-.1zM-.4 64l1.8 .4 .6 .8-2.4 .5zM124.9 64.4l2-.4 3.8-.3 2.3 0 3 .5 0 1.5-6.1 .3-3-.2-2.1-.6z"/><path fill="#3a87bd" d="M21.6 64.4l4.4-.5 5.3 .3 3-.3 4.6 .5-1.4 .8-3.2 .3-2.3-.2-6 .1-2.7-.2zM126.6 64.4l5.6-.2 1.4 .2 .7 .8-4.4 .3-3.8-.3z"/><path fill="#2a71b2" d="M33.3 64.4l2 0-1 .5z"/><path d="M0 0h135.6v0.4h-135.6zM0 75.9h135.6v-0.4h-135.6z" fill="#fff"/><rect x="135.15" y="0" width="0.45" height="75.9" fill="#fff"/><use href="#cst"/></g><rect x="0" y="0" width="135.6" height="75.9" fill="none" stroke="#1a1a1a" stroke-width=".45"/><path d="M22.6 75.9 v2.1M45.2 75.9 v2.1M67.8 75.9 v2.1M90.4 75.9 v2.1M113.0 75.9 v2.1M0 12.7 h-2.1M0 25.3 h-2.1M0 38.0 h-2.1M0 50.6 h-2.1M0 63.2 h-2.1" stroke="#000" stroke-width=".5" fill="none"/></g><path d="M118.6 597.05 L112.2 601.175 L118.6 605.3 z" fill="#053061"/><rect x="118.40" y="597.05" width="125.40" height="8.25" fill="#0c3d73"/><rect x="124.67" y="597.05" width="119.13" height="8.25" fill="#1a5899"/><rect x="130.94" y="597.05" width="112.86" height="8.25" fill="#2a71b2"/><rect x="137.21" y="597.05" width="106.59" height="8.25" fill="#3a87bd"/><rect x="143.48" y="597.05" width="100.32" height="8.25" fill="#569fc9"/><rect x="149.75" y="597.05" width="94.05" height="8.25" fill="#7eb8d7"/><rect x="156.02" y="597.05" width="87.78" height="8.25" fill="#a2cde3"/><rect x="162.29" y="597.05" width="81.51" height="8.25" fill="#c2ddec"/><rect x="168.56" y="597.05" width="75.24" height="8.25" fill="#dae9f2"/><rect x="174.83" y="597.05" width="68.97" height="8.25" fill="#edf2f5"/><rect x="181.10" y="597.05" width="62.70" height="8.25" fill="#f9f0eb"/><rect x="187.37" y="597.05" width="56.43" height="8.25" fill="#fce2d2"/><rect x="193.64" y="597.05" width="50.16" height="8.25" fill="#fbccb4"/><rect x="199.91" y="597.05" width="43.89" height="8.25" fill="#f6b394"/><rect x="206.18" y="597.05" width="37.62" height="8.25" fill="#ec9374"/><rect x="212.45" y="597.05" width="31.35" height="8.25" fill="#dd7059"/><rect x="218.72" y="597.05" width="25.08" height="8.25" fill="#cc4c44"/><rect x="224.99" y="597.05" width="18.81" height="8.25" fill="#ba2832"/><rect x="231.26" y="597.05" width="12.54" height="8.25" fill="#9f1228"/><rect x="237.53" y="597.05" width="6.27" height="8.25" fill="#790622"/><path d="M243.6 597.05 L250 601.175 L243.6 605.3 z" fill="#67001f"/><path d="M118.4 597.05 L243.8 597.05 L250 601.175 L243.8 605.3 L118.4 605.3 L112.2 601.175 z" fill="none" stroke="#000" stroke-width=".5"/><path d="M363.2 597.05 L356.9 601.175 L363.2 605.3 z" fill="#053061"/><rect x="363.00" y="597.05" width="125.40" height="8.25" fill="#0c3d73"/><rect x="369.27" y="597.05" width="119.13" height="8.25" fill="#1a5899"/><rect x="375.54" y="597.05" width="112.86" height="8.25" fill="#2a71b2"/><rect x="381.81" y="597.05" width="106.59" height="8.25" fill="#3a87bd"/><rect x="388.08" y="597.05" width="100.32" height="8.25" fill="#569fc9"/><rect x="394.35" y="597.05" width="94.05" height="8.25" fill="#7eb8d7"/><rect x="400.62" y="597.05" width="87.78" height="8.25" fill="#a2cde3"/><rect x="406.89" y="597.05" width="81.51" height="8.25" fill="#c2ddec"/><rect x="413.16" y="597.05" width="75.24" height="8.25" fill="#dae9f2"/><rect x="419.43" y="597.05" width="68.97" height="8.25" fill="#edf2f5"/><rect x="425.70" y="597.05" width="62.70" height="8.25" fill="#f9f0eb"/><rect x="431.97" y="597.05" width="56.43" height="8.25" fill="#fce2d2"/><rect x="438.24" y="597.05" width="50.16" height="8.25" fill="#fbccb4"/><rect x="444.51" y="597.05" width="43.89" height="8.25" fill="#f6b394"/><rect x="450.78" y="597.05" width="37.62" height="8.25" fill="#ec9374"/><rect x="457.05" y="597.05" width="31.35" height="8.25" fill="#dd7059"/><rect x="463.32" y="597.05" width="25.08" height="8.25" fill="#cc4c44"/><rect x="469.59" y="597.05" width="18.81" height="8.25" fill="#ba2832"/><rect x="475.86" y="597.05" width="12.54" height="8.25" fill="#9f1228"/><rect x="482.13" y="597.05" width="6.27" height="8.25" fill="#790622"/><path d="M488.2 597.05 L494.5 601.175 L488.2 605.3 z" fill="#67001f"/><path d="M363 597.05 L488.4 597.05 L494.5 601.175 L488.4 605.3 L363 605.3 L356.9 601.175 z" fill="none" stroke="#000" stroke-width=".5"/><path d="M124.7 605.3 v2M143.5 605.3 v2M162.3 605.3 v2M181.1 605.3 v2M199.9 605.3 v2M218.7 605.3 v2M237.5 605.3 v2M369.3 605.3 v2M388.1 605.3 v2M406.9 605.3 v2M425.7 605.3 v2M444.5 605.3 v2M463.3 605.3 v2M482.1 605.3 v2" stroke="#000" stroke-width=".4" fill="none"/><text transform="translate(10.4,55.2) rotate(-90)" text-anchor="middle" font-family="Liberation Sans, sans-serif" font-weight="bold" font-size="7.2" letter-spacing=".58" stroke="#000" stroke-width=".22" fill="#000">CESM2-WACCM</text><text transform="translate(10.4,151.2) rotate(-90)" text-anchor="middle" font-family="Liberation Sans, sans-serif" font-weight="bold" font-size="7.2" letter-spacing=".58" stroke="#000" stroke-width=".22" fill="#000">CMCC-ESM2</text><text transform="translate(10.4,247.1) rotate(-90)" text-anchor="middle" font-family="Liberation Sans, sans-serif" font-weight="bold" font-size="7.2" letter-spacing=".58" stroke="#000" stroke-width=".22" fill="#000">CNRM-ESM2-1</text><text transform="translate(10.4,342.9) rotate(-90)" text-anchor="middle" font-family="Liberation Sans, sans-serif" font-weight="bold" font-size="7.2" letter-spacing=".58" stroke="#000" stroke-width=".22" fill="#000">CanESM5</text><text transform="translate(10.4,438.2) rotate(-90)" text-anchor="middle" font-family="Liberation Sans, sans-serif" font-weight="bold" font-size="7.2" letter-spacing=".58" stroke="#000" stroke-width=".22" fill="#000">MIROC-ES2L</text><text transform="translate(10.4,534.1) rotate(-90)" text-anchor="middle" font-family="Liberation Sans, sans-serif" font-weight="bold" font-size="7.2" letter-spacing=".58" stroke="#000" stroke-width=".22" fill="#000">MRI-ESM2-0</text></svg><div class="t let" style="left:22.5px;top:5.1px">a</div><div class="t ttl" style="left:99.7px;top:9.8px">METEOR</div><div class="t tk tkx" style="left:54.5px;top:98.8px">120°W</div><div class="t tk tky" style="left:27.8px;top:31.4px">60°N</div><div class="t tk tkx" style="left:77.1px;top:98.8px">60°W</div><div class="t tk tky" style="left:27.8px;top:44.1px">30°N</div><div class="t tk tkx" style="left:99.7px;top:98.8px">0°</div><div class="t tk tky" style="left:27.8px;top:56.8px">0°</div><div class="t tk tkx" style="left:122.3px;top:98.8px">60°E</div><div class="t tk tky" style="left:27.8px;top:69.4px">30°S</div><div class="t tk tkx" style="left:144.9px;top:98.8px">120°E</div><div class="t tk tky" style="left:27.8px;top:82.0px">60°S</div><div class="t let" style="left:185.6px;top:5.1px">b</div><div class="t ttl" style="left:262.8px;top:9.8px">CMIP6</div><div class="t tk tkx" style="left:217.6px;top:98.8px">120°W</div><div class="t tk tky" style="left:190.9px;top:31.4px">60°N</div><div class="t tk tkx" style="left:240.2px;top:98.8px">60°W</div><div class="t tk tky" style="left:190.9px;top:44.1px">30°N</div><div class="t tk tkx" style="left:262.8px;top:98.8px">0°</div><div class="t tk tky" style="left:190.9px;top:56.8px">0°</div><div class="t tk tkx" style="left:285.4px;top:98.8px">60°E</div><div class="t tk tky" style="left:190.9px;top:69.4px">30°S</div><div class="t tk tkx" style="left:308.0px;top:98.8px">120°E</div><div class="t tk tky" style="left:190.9px;top:82.0px">60°S</div><div class="t let" style="left:348.6px;top:5.1px">c</div><div class="t ttl" style="left:425.8px;top:9.8px">METEOR-CMIP6</div><div class="t tk tkx" style="left:380.6px;top:98.8px">120°W</div><div class="t tk tky" style="left:353.9px;top:31.4px">60°N</div><div class="t tk tkx" style="left:403.2px;top:98.8px">60°W</div><div class="t tk tky" style="left:353.9px;top:44.1px">30°N</div><div class="t tk tkx" style="left:425.8px;top:98.8px">0°</div><div class="t tk tky" style="left:353.9px;top:56.8px">0°</div><div class="t tk tkx" style="left:448.4px;top:98.8px">60°E</div><div class="t tk tky" style="left:353.9px;top:69.4px">30°S</div><div class="t tk tkx" style="left:471.0px;top:98.8px">120°E</div><div class="t tk tky" style="left:353.9px;top:82.0px">60°S</div><div class="t let" style="left:22.5px;top:101.1px">d</div><div class="t ttl" style="left:99.7px;top:105.8px">METEOR</div><div class="t tk tkx" style="left:54.5px;top:194.8px">120°W</div><div class="t tk tky" style="left:27.8px;top:127.5px">60°N</div><div class="t tk tkx" style="left:77.1px;top:194.8px">60°W</div><div class="t tk tky" style="left:27.8px;top:140.1px">30°N</div><div class="t tk tkx" style="left:99.7px;top:194.8px">0°</div><div class="t tk tky" style="left:27.8px;top:152.8px">0°</div><div class="t tk tkx" style="left:122.3px;top:194.8px">60°E</div><div class="t tk tky" style="left:27.8px;top:165.4px">30°S</div><div class="t tk tkx" style="left:144.9px;top:194.8px">120°E</div><div class="t tk tky" style="left:27.8px;top:178.1px">60°S</div><div class="t let" style="left:185.6px;top:101.1px">e</div><div class="t ttl" style="left:262.8px;top:105.8px">CMIP6</div><div class="t tk tkx" style="left:217.6px;top:194.8px">120°W</div><div class="t tk tky" style="left:190.9px;top:127.5px">60°N</div><div class="t tk tkx" style="left:240.2px;top:194.8px">60°W</div><div class="t tk tky" style="left:190.9px;top:140.1px">30°N</div><div class="t tk tkx" style="left:262.8px;top:194.8px">0°</div><div class="t tk tky" style="left:190.9px;top:152.8px">0°</div><div class="t tk tkx" style="left:285.4px;top:194.8px">60°E</div><div class="t tk tky" style="left:190.9px;top:165.4px">30°S</div><div class="t tk tkx" style="left:308.0px;top:194.8px">120°E</div><div class="t tk tky" style="left:190.9px;top:178.1px">60°S</div><div class="t let" style="left:348.6px;top:101.1px">f</div><div class="t ttl" style="left:425.8px;top:105.8px">METEOR-CMIP6</div><div class="t tk tkx" style="left:380.6px;top:194.8px">120°W</div><div class="t tk tky" style="left:353.9px;top:127.5px">60°N</div><div class="t tk tkx" style="left:403.2px;top:194.8px">60°W</div><div class="t tk tky" style="left:353.9px;top:140.1px">30°N</div><div class="t tk tkx" style="left:425.8px;top:194.8px">0°</div><div class="t tk tky" style="left:353.9px;top:152.8px">0°</div><div class="t tk tkx" style="left:448.4px;top:194.8px">60°E</div><div class="t tk tky" style="left:353.9px;top:165.4px">30°S</div><div class="t tk tkx" style="left:471.0px;top:194.8px">120°E</div><div class="t tk tky" style="left:353.9px;top:178.1px">60°S</div><div class="t let" style="left:22.5px;top:197.0px">g</div><div class="t ttl" style="left:99.7px;top:201.8px">METEOR</div><div class="t tk tkx" style="left:54.5px;top:290.8px">120°W</div><div class="t tk tky" style="left:27.8px;top:223.4px">60°N</div><div class="t tk tkx" style="left:77.1px;top:290.8px">60°W</div><div class="t tk tky" style="left:27.8px;top:236.1px">30°N</div><div class="t tk tkx" style="left:99.7px;top:290.8px">0°</div><div class="t tk tky" style="left:27.8px;top:248.7px">0°</div><div class="t tk tkx" style="left:122.3px;top:290.8px">60°E</div><div class="t tk tky" style="left:27.8px;top:261.4px">30°S</div><div class="t tk tkx" style="left:144.9px;top:290.8px">120°E</div><div class="t tk tky" style="left:27.8px;top:274.0px">60°S</div><div class="t let" style="left:185.6px;top:197.0px">h</div><div class="t ttl" style="left:262.8px;top:201.8px">CMIP6</div><div class="t tk tkx" style="left:217.6px;top:290.8px">120°W</div><div class="t tk tky" style="left:190.9px;top:223.4px">60°N</div><div class="t tk tkx" style="left:240.2px;top:290.8px">60°W</div><div class="t tk tky" style="left:190.9px;top:236.1px">30°N</div><div class="t tk tkx" style="left:262.8px;top:290.8px">0°</div><div class="t tk tky" style="left:190.9px;top:248.7px">0°</div><div class="t tk tkx" style="left:285.4px;top:290.8px">60°E</div><div class="t tk tky" style="left:190.9px;top:261.4px">30°S</div><div class="t tk tkx" style="left:308.0px;top:290.8px">120°E</div><div class="t tk tky" style="left:190.9px;top:274.0px">60°S</div><div class="t let" style="left:348.6px;top:197.0px">i</div><div class="t ttl" style="left:425.8px;top:201.8px">METEOR-CMIP6</div><div class="t tk tkx" style="left:380.6px;top:290.8px">120°W</div><div class="t tk tky" style="left:353.9px;top:223.4px">60°N</div><div class="t tk tkx" style="left:403.2px;top:290.8px">60°W</div><div class="t tk tky" style="left:353.9px;top:236.1px">30°N</div><div class="t tk tkx" style="left:425.8px;top:290.8px">0°</div><div class="t tk tky" style="left:353.9px;top:248.7px">0°</div><div class="t tk tkx" style="left:448.4px;top:290.8px">60°E</div><div class="t tk tky" style="left:353.9px;top:261.4px">30°S</div><div class="t tk tkx" style="left:471.0px;top:290.8px">120°E</div><div class="t tk tky" style="left:353.9px;top:274.0px">60°S</div><div class="t let" style="left:22.5px;top:292.8px">j</div><div class="t ttl" style="left:99.7px;top:297.6px">METEOR</div><div class="t tk tkx" style="left:54.5px;top:386.5px">120°W</div><div class="t tk tky" style="left:27.8px;top:319.1px">60°N</div><div class="t tk tkx" style="left:77.1px;top:386.5px">60°W</div><div class="t tk tky" style="left:27.8px;top:331.8px">30°N</div><div class="t tk tkx" style="left:99.7px;top:386.5px">0°</div><div class="t tk tky" style="left:27.8px;top:344.4px">0°</div><div class="t tk tkx" style="left:122.3px;top:386.5px">60°E</div><div class="t tk tky" style="left:27.8px;top:357.1px">30°S</div><div class="t tk tkx" style="left:144.9px;top:386.5px">120°E</div><div class="t tk tky" style="left:27.8px;top:369.8px">60°S</div><div class="t let" style="left:185.6px;top:292.8px">k</div><div class="t ttl" style="left:262.8px;top:297.6px">CMIP6</div><div class="t tk tkx" style="left:217.6px;top:386.5px">120°W</div><div class="t tk tky" style="left:190.9px;top:319.1px">60°N</div><div class="t tk tkx" style="left:240.2px;top:386.5px">60°W</div><div class="t tk tky" style="left:190.9px;top:331.8px">30°N</div><div class="t tk tkx" style="left:262.8px;top:386.5px">0°</div><div class="t tk tky" style="left:190.9px;top:344.4px">0°</div><div class="t tk tkx" style="left:285.4px;top:386.5px">60°E</div><div class="t tk tky" style="left:190.9px;top:357.1px">30°S</div><div class="t tk tkx" style="left:308.0px;top:386.5px">120°E</div><div class="t tk tky" style="left:190.9px;top:369.8px">60°S</div><div class="t let" style="left:348.6px;top:292.8px">l</div><div class="t ttl" style="left:425.8px;top:297.6px">METEOR-CMIP6</div><div class="t tk tkx" style="left:380.6px;top:386.5px">120°W</div><div class="t tk tky" style="left:353.9px;top:319.1px">60°N</div><div class="t tk tkx" style="left:403.2px;top:386.5px">60°W</div><div class="t tk tky" style="left:353.9px;top:331.8px">30°N</div><div class="t tk tkx" style="left:425.8px;top:386.5px">0°</div><div class="t tk tky" style="left:353.9px;top:344.4px">0°</div><div class="t tk tkx" style="left:448.4px;top:386.5px">60°E</div><div class="t tk tky" style="left:353.9px;top:357.1px">30°S</div><div class="t tk tkx" style="left:471.0px;top:386.5px">120°E</div><div class="t tk tky" style="left:353.9px;top:369.8px">60°S</div><div class="t let" style="left:22.5px;top:388.1px">m</div><div class="t ttl" style="left:99.7px;top:392.9px">METEOR</div><div class="t tk tkx" style="left:54.5px;top:481.8px">120°W</div><div class="t tk tky" style="left:27.8px;top:414.4px">60°N</div><div class="t tk tkx" style="left:77.1px;top:481.8px">60°W</div><div class="t tk tky" style="left:27.8px;top:427.1px">30°N</div><div class="t tk tkx" style="left:99.7px;top:481.8px">0°</div><div class="t tk tky" style="left:27.8px;top:439.8px">0°</div><div class="t tk tkx" style="left:122.3px;top:481.8px">60°E</div><div class="t tk tky" style="left:27.8px;top:452.4px">30°S</div><div class="t tk tkx" style="left:144.9px;top:481.8px">120°E</div><div class="t tk tky" style="left:27.8px;top:465.1px">60°S</div><div class="t let" style="left:185.6px;top:388.1px">n</div><div class="t ttl" style="left:262.8px;top:392.9px">CMIP6</div><div class="t tk tkx" style="left:217.6px;top:481.8px">120°W</div><div class="t tk tky" style="left:190.9px;top:414.4px">60°N</div><div class="t tk tkx" style="left:240.2px;top:481.8px">60°W</div><div class="t tk tky" style="left:190.9px;top:427.1px">30°N</div><div class="t tk tkx" style="left:262.8px;top:481.8px">0°</div><div class="t tk tky" style="left:190.9px;top:439.8px">0°</div><div class="t tk tkx" style="left:285.4px;top:481.8px">60°E</div><div class="t tk tky" style="left:190.9px;top:452.4px">30°S</div><div class="t tk tkx" style="left:308.0px;top:481.8px">120°E</div><div class="t tk tky" style="left:190.9px;top:465.1px">60°S</div><div class="t let" style="left:348.6px;top:388.1px">o</div><div class="t ttl" style="left:425.8px;top:392.9px">METEOR-CMIP6</div><div class="t tk tkx" style="left:380.6px;top:481.8px">120°W</div><div class="t tk tky" style="left:353.9px;top:414.4px">60°N</div><div class="t tk tkx" style="left:403.2px;top:481.8px">60°W</div><div class="t tk tky" style="left:353.9px;top:427.1px">30°N</div><div class="t tk tkx" style="left:425.8px;top:481.8px">0°</div><div class="t tk tky" style="left:353.9px;top:439.8px">0°</div><div class="t tk tkx" style="left:448.4px;top:481.8px">60°E</div><div class="t tk tky" style="left:353.9px;top:452.4px">30°S</div><div class="t tk tkx" style="left:471.0px;top:481.8px">120°E</div><div class="t tk tky" style="left:353.9px;top:465.1px">60°S</div><div class="t let" style="left:22.5px;top:484.0px">p</div><div class="t ttl" style="left:99.7px;top:488.8px">METEOR</div><div class="t tk tkx" style="left:54.5px;top:577.7px">120°W</div><div class="t tk tky" style="left:27.8px;top:510.3px">60°N</div><div class="t tk tkx" style="left:77.1px;top:577.7px">60°W</div><div class="t tk tky" style="left:27.8px;top:523.0px">30°N</div><div class="t tk tkx" style="left:99.7px;top:577.7px">0°</div><div class="t tk tky" style="left:27.8px;top:535.6px">0°</div><div class="t tk tkx" style="left:122.3px;top:577.7px">60°E</div><div class="t tk tky" style="left:27.8px;top:548.3px">30°S</div><div class="t tk tkx" style="left:144.9px;top:577.7px">120°E</div><div class="t tk tky" style="left:27.8px;top:560.9px">60°S</div><div class="t let" style="left:185.6px;top:484.0px">q</div><div class="t ttl" style="left:262.8px;top:488.8px">CMIP6</div><div class="t tk tkx" style="left:217.6px;top:577.7px">120°W</div><div class="t tk tky" style="left:190.9px;top:510.3px">60°N</div><div class="t tk tkx" style="left:240.2px;top:577.7px">60°W</div><div class="t tk tky" style="left:190.9px;top:523.0px">30°N</div><div class="t tk tkx" style="left:262.8px;top:577.7px">0°</div><div class="t tk tky" style="left:190.9px;top:535.6px">0°</div><div class="t tk tkx" style="left:285.4px;top:577.7px">60°E</div><div class="t tk tky" style="left:190.9px;top:548.3px">30°S</div><div class="t tk tkx" style="left:308.0px;top:577.7px">120°E</div><div class="t tk tky" style="left:190.9px;top:560.9px">60°S</div><div class="t let" style="left:348.6px;top:484.0px">r</div><div class="t ttl" style="left:425.8px;top:488.8px">METEOR-CMIP6</div><div class="t tk tkx" style="left:380.6px;top:577.7px">120°W</div><div class="t tk tky" style="left:353.9px;top:510.3px">60°N</div><div class="t tk tkx" style="left:403.2px;top:577.7px">60°W</div><div class="t tk tky" style="left:353.9px;top:523.0px">30°N</div><div class="t tk tkx" style="left:425.8px;top:577.7px">0°</div><div class="t tk tky" style="left:353.9px;top:535.6px">0°</div><div class="t tk tkx" style="left:448.4px;top:577.7px">60°E</div><div class="t tk tky" style="left:353.9px;top:548.3px">30°S</div><div class="t tk tkx" style="left:471.0px;top:577.7px">120°E</div><div class="t tk tky" style="left:353.9px;top:560.9px">60°S</div><div class="t cbt" style="left:124.9px;top:609.9px">−9</div><div class="t cbt" style="left:143.7px;top:609.9px">−6</div><div class="t cbt" style="left:162.5px;top:609.9px">−3</div><div class="t cbt" style="left:181.3px;top:609.9px">0</div><div class="t cbt" style="left:200.1px;top:609.9px">3</div><div class="t cbt" style="left:218.9px;top:609.9px">6</div><div class="t cbt" style="left:237.7px;top:609.9px">9</div><div class="t cbt" style="left:369.5px;top:609.9px">−4.5</div><div class="t cbt" style="left:388.3px;top:609.9px">−3.0</div><div class="t cbt" style="left:407.1px;top:609.9px">−1.5</div><div class="t cbt" style="left:425.9px;top:609.9px">0.0</div><div class="t cbt" style="left:444.7px;top:609.9px">1.5</div><div class="t cbt" style="left:463.5px;top:609.9px">3.0</div><div class="t cbt" style="left:482.3px;top:609.9px">4.5</div><div class="t cbl" style="left:92.4px;top:598.5px">ΔT [K]</div><div class="t cbl" style="left:337.6px;top:598.5px">ΔT [K]</div></div></body></html>
